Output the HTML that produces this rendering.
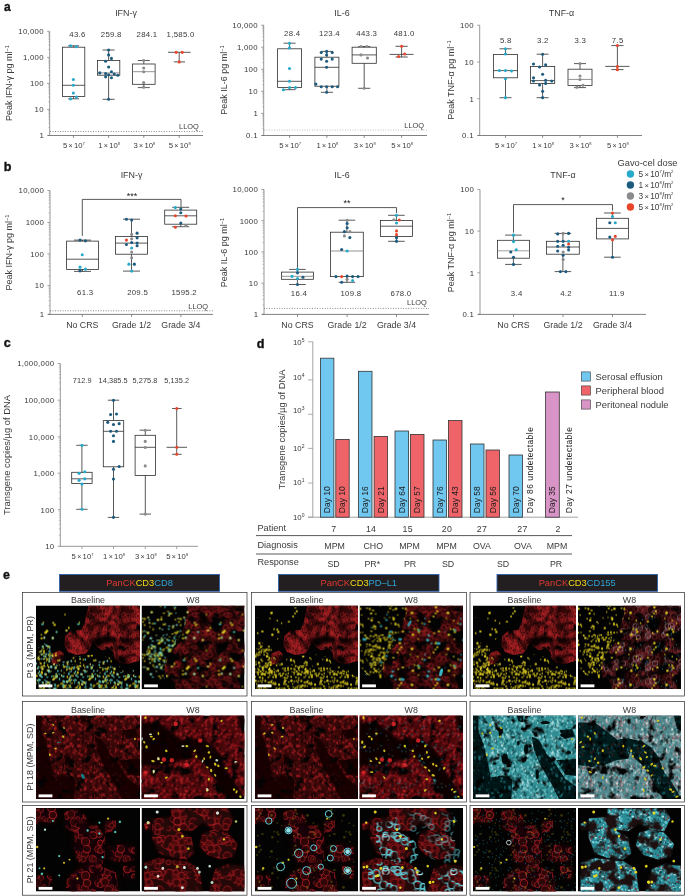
<!DOCTYPE html>
<html lang="en"><head><meta charset="utf-8"><title>Figure</title>
<style>html,body{margin:0;padding:0;background:#fff}svg{display:block}text{font-family:"Liberation Sans",sans-serif}</style>
</head><body>
<svg width="685" height="896" viewBox="0 0 685 896" font-family="'Liberation Sans', sans-serif">
<rect width="685" height="896" fill="#ffffff"/>
<text x="4.00" y="11.20" font-size="12" text-anchor="start" fill="#111" font-weight="bold" stroke="#111" stroke-width="0.35">a</text>
<text x="3.80" y="171.40" font-size="12.6" text-anchor="start" fill="#111" font-weight="bold" stroke="#111" stroke-width="0.35">b</text>
<text x="3.80" y="347.40" font-size="12.6" text-anchor="start" fill="#111" font-weight="bold" stroke="#111" stroke-width="0.35">c</text>
<text x="256.80" y="347.60" font-size="12.6" text-anchor="start" fill="#111" font-weight="bold" stroke="#111" stroke-width="0.35">d</text>
<text x="3.00" y="579.40" font-size="12.4" text-anchor="start" fill="#111" font-weight="bold" stroke="#111" stroke-width="0.35">e</text>
<text x="126.00" y="16.40" font-size="8.9" text-anchor="middle" fill="#3a3a3a" >IFN-γ</text>
<line x1="49.70" y1="31.30" x2="49.70" y2="135.00" stroke="#8c8c8c" stroke-width="0.9" />
<line x1="47.10" y1="31.30" x2="49.70" y2="31.30" stroke="#8c8c8c" stroke-width="0.8" />
<text x="43.80" y="34.11" font-size="7.8" text-anchor="end" fill="#3a3a3a" letter-spacing="0.28" >10,000</text>
<line x1="47.10" y1="57.40" x2="49.70" y2="57.40" stroke="#8c8c8c" stroke-width="0.8" />
<text x="43.80" y="60.21" font-size="7.8" text-anchor="end" fill="#3a3a3a" letter-spacing="0.28" >1,000</text>
<line x1="47.10" y1="83.40" x2="49.70" y2="83.40" stroke="#8c8c8c" stroke-width="0.8" />
<text x="43.80" y="86.21" font-size="7.8" text-anchor="end" fill="#3a3a3a" letter-spacing="0.28" >100</text>
<line x1="47.10" y1="109.40" x2="49.70" y2="109.40" stroke="#8c8c8c" stroke-width="0.8" />
<text x="43.80" y="112.21" font-size="7.8" text-anchor="end" fill="#3a3a3a" letter-spacing="0.28" >10</text>
<line x1="47.10" y1="135.50" x2="49.70" y2="135.50" stroke="#8c8c8c" stroke-width="0.8" />
<text x="43.80" y="138.31" font-size="7.8" text-anchor="end" fill="#3a3a3a" >1</text>
<line x1="48.20" y1="49.54" x2="49.70" y2="49.54" stroke="#8c8c8c" stroke-width="0.5" />
<line x1="48.20" y1="44.95" x2="49.70" y2="44.95" stroke="#8c8c8c" stroke-width="0.5" />
<line x1="48.20" y1="41.69" x2="49.70" y2="41.69" stroke="#8c8c8c" stroke-width="0.5" />
<line x1="48.20" y1="39.16" x2="49.70" y2="39.16" stroke="#8c8c8c" stroke-width="0.5" />
<line x1="48.20" y1="37.09" x2="49.70" y2="37.09" stroke="#8c8c8c" stroke-width="0.5" />
<line x1="48.20" y1="35.34" x2="49.70" y2="35.34" stroke="#8c8c8c" stroke-width="0.5" />
<line x1="48.20" y1="33.83" x2="49.70" y2="33.83" stroke="#8c8c8c" stroke-width="0.5" />
<line x1="48.20" y1="32.49" x2="49.70" y2="32.49" stroke="#8c8c8c" stroke-width="0.5" />
<line x1="48.20" y1="75.57" x2="49.70" y2="75.57" stroke="#8c8c8c" stroke-width="0.5" />
<line x1="48.20" y1="70.99" x2="49.70" y2="70.99" stroke="#8c8c8c" stroke-width="0.5" />
<line x1="48.20" y1="67.75" x2="49.70" y2="67.75" stroke="#8c8c8c" stroke-width="0.5" />
<line x1="48.20" y1="65.23" x2="49.70" y2="65.23" stroke="#8c8c8c" stroke-width="0.5" />
<line x1="48.20" y1="63.17" x2="49.70" y2="63.17" stroke="#8c8c8c" stroke-width="0.5" />
<line x1="48.20" y1="61.43" x2="49.70" y2="61.43" stroke="#8c8c8c" stroke-width="0.5" />
<line x1="48.20" y1="59.92" x2="49.70" y2="59.92" stroke="#8c8c8c" stroke-width="0.5" />
<line x1="48.20" y1="58.59" x2="49.70" y2="58.59" stroke="#8c8c8c" stroke-width="0.5" />
<line x1="48.20" y1="101.57" x2="49.70" y2="101.57" stroke="#8c8c8c" stroke-width="0.5" />
<line x1="48.20" y1="96.99" x2="49.70" y2="96.99" stroke="#8c8c8c" stroke-width="0.5" />
<line x1="48.20" y1="93.75" x2="49.70" y2="93.75" stroke="#8c8c8c" stroke-width="0.5" />
<line x1="48.20" y1="91.23" x2="49.70" y2="91.23" stroke="#8c8c8c" stroke-width="0.5" />
<line x1="48.20" y1="89.17" x2="49.70" y2="89.17" stroke="#8c8c8c" stroke-width="0.5" />
<line x1="48.20" y1="87.43" x2="49.70" y2="87.43" stroke="#8c8c8c" stroke-width="0.5" />
<line x1="48.20" y1="85.92" x2="49.70" y2="85.92" stroke="#8c8c8c" stroke-width="0.5" />
<line x1="48.20" y1="84.59" x2="49.70" y2="84.59" stroke="#8c8c8c" stroke-width="0.5" />
<line x1="48.20" y1="127.64" x2="49.70" y2="127.64" stroke="#8c8c8c" stroke-width="0.5" />
<line x1="48.20" y1="123.05" x2="49.70" y2="123.05" stroke="#8c8c8c" stroke-width="0.5" />
<line x1="48.20" y1="119.79" x2="49.70" y2="119.79" stroke="#8c8c8c" stroke-width="0.5" />
<line x1="48.20" y1="117.26" x2="49.70" y2="117.26" stroke="#8c8c8c" stroke-width="0.5" />
<line x1="48.20" y1="115.19" x2="49.70" y2="115.19" stroke="#8c8c8c" stroke-width="0.5" />
<line x1="48.20" y1="113.44" x2="49.70" y2="113.44" stroke="#8c8c8c" stroke-width="0.5" />
<line x1="48.20" y1="111.93" x2="49.70" y2="111.93" stroke="#8c8c8c" stroke-width="0.5" />
<line x1="48.20" y1="110.59" x2="49.70" y2="110.59" stroke="#8c8c8c" stroke-width="0.5" />
<line x1="47.90" y1="135.50" x2="203.00" y2="135.50" stroke="#6a6a6a" stroke-width="0.85" />
<text x="11.50" y="83.00" font-size="9" text-anchor="middle" fill="#3a3a3a" transform="rotate(-90 11.50 83.00)" >Peak IFN-γ pg ml<tspan dy="-2.8" font-size="5.6">−1</tspan></text>
<line x1="73.40" y1="135.50" x2="73.40" y2="137.80" stroke="#6a6a6a" stroke-width="0.8" />
<text x="73.90" y="148.30" font-size="7.7" text-anchor="middle" fill="#3a3a3a" >5<tspan dx="1.3" font-size="7.1">×</tspan><tspan dx="1.3">10</tspan><tspan dy="-3.23" font-size="4.0">7</tspan></text>
<line x1="108.60" y1="135.50" x2="108.60" y2="137.80" stroke="#6a6a6a" stroke-width="0.8" />
<text x="109.10" y="148.30" font-size="7.7" text-anchor="middle" fill="#3a3a3a" >1<tspan dx="1.3" font-size="7.1">×</tspan><tspan dx="1.3">10</tspan><tspan dy="-3.23" font-size="4.0">8</tspan></text>
<line x1="143.80" y1="135.50" x2="143.80" y2="137.80" stroke="#6a6a6a" stroke-width="0.8" />
<text x="144.30" y="148.30" font-size="7.7" text-anchor="middle" fill="#3a3a3a" >3<tspan dx="1.3" font-size="7.1">×</tspan><tspan dx="1.3">10</tspan><tspan dy="-3.23" font-size="4.0">8</tspan></text>
<line x1="179.20" y1="135.50" x2="179.20" y2="137.80" stroke="#6a6a6a" stroke-width="0.8" />
<text x="179.70" y="148.30" font-size="7.7" text-anchor="middle" fill="#3a3a3a" >5<tspan dx="1.3" font-size="7.1">×</tspan><tspan dx="1.3">10</tspan><tspan dy="-3.23" font-size="4.0">8</tspan></text>
<text x="77.50" y="36.90" font-size="7.8" text-anchor="middle" fill="#3a3a3a" letter-spacing="0.28" >43.6</text>
<text x="111.30" y="36.90" font-size="7.8" text-anchor="middle" fill="#3a3a3a" letter-spacing="0.28" >259.8</text>
<text x="147.00" y="36.90" font-size="7.8" text-anchor="middle" fill="#3a3a3a" letter-spacing="0.28" >284.1</text>
<text x="180.60" y="36.90" font-size="7.8" text-anchor="middle" fill="#3a3a3a" letter-spacing="0.28" >1,585.0</text>
<line x1="50.00" y1="131.50" x2="203.00" y2="131.50" stroke="#444" stroke-width="0.7" stroke-dasharray="0.9 1.63"/>
<text x="198.80" y="128.60" font-size="7.4" text-anchor="end" fill="#3a3a3a" >LLOQ</text>
<line x1="73.60" y1="45.80" x2="73.60" y2="47.20" stroke="#2e2e2e" stroke-width="0.8" />
<line x1="73.60" y1="96.50" x2="73.60" y2="98.80" stroke="#2e2e2e" stroke-width="0.8" />
<line x1="68.10" y1="45.80" x2="79.10" y2="45.80" stroke="#2e2e2e" stroke-width="0.8" />
<line x1="68.10" y1="98.80" x2="79.10" y2="98.80" stroke="#2e2e2e" stroke-width="0.8" />
<rect x="62.40" y="47.20" width="22.40" height="49.30" fill="none" stroke="#2e2e2e" stroke-width="0.8"/>
<line x1="62.40" y1="85.30" x2="84.80" y2="85.30" stroke="#2e2e2e" stroke-width="0.8" />
<circle cx="70.56" cy="45.79" r="1.55" fill="#27a9c9"/>
<circle cx="76.40" cy="46.73" r="1.55" fill="#27a9c9"/>
<circle cx="73.36" cy="79.44" r="1.55" fill="#27a9c9"/>
<circle cx="73.36" cy="85.28" r="1.55" fill="#27a9c9"/>
<circle cx="73.36" cy="92.99" r="1.55" fill="#27a9c9"/>
<circle cx="76.40" cy="96.96" r="1.55" fill="#27a9c9"/>
<circle cx="70.56" cy="98.83" r="1.55" fill="#27a9c9"/>
<line x1="108.60" y1="50.00" x2="108.60" y2="60.50" stroke="#2e2e2e" stroke-width="0.8" />
<line x1="108.60" y1="75.20" x2="108.60" y2="99.30" stroke="#2e2e2e" stroke-width="0.8" />
<line x1="102.60" y1="50.00" x2="114.60" y2="50.00" stroke="#2e2e2e" stroke-width="0.8" />
<line x1="102.60" y1="99.30" x2="114.60" y2="99.30" stroke="#2e2e2e" stroke-width="0.8" />
<rect x="97.40" y="60.50" width="22.40" height="14.70" fill="none" stroke="#2e2e2e" stroke-width="0.8"/>
<line x1="97.40" y1="72.90" x2="119.80" y2="72.90" stroke="#777" stroke-width="0.8" />
<circle cx="108.64" cy="50.00" r="1.55" fill="#1d5b7e"/>
<circle cx="108.64" cy="54.91" r="1.55" fill="#1d5b7e"/>
<circle cx="111.45" cy="58.41" r="1.55" fill="#1d5b7e"/>
<circle cx="105.61" cy="61.21" r="1.55" fill="#1d5b7e"/>
<circle cx="108.64" cy="67.06" r="1.55" fill="#1d5b7e"/>
<circle cx="99.77" cy="72.90" r="1.55" fill="#1d5b7e"/>
<circle cx="105.61" cy="73.60" r="1.55" fill="#1d5b7e"/>
<circle cx="111.45" cy="71.73" r="1.55" fill="#1d5b7e"/>
<circle cx="108.64" cy="74.77" r="1.55" fill="#1d5b7e"/>
<circle cx="114.25" cy="74.07" r="1.55" fill="#1d5b7e"/>
<circle cx="117.76" cy="75.23" r="1.55" fill="#1d5b7e"/>
<circle cx="105.61" cy="76.87" r="1.55" fill="#1d5b7e"/>
<circle cx="111.45" cy="77.80" r="1.55" fill="#1d5b7e"/>
<circle cx="108.64" cy="99.30" r="1.55" fill="#1d5b7e"/>
<line x1="143.80" y1="60.50" x2="143.80" y2="64.00" stroke="#2e2e2e" stroke-width="0.8" />
<line x1="143.80" y1="84.30" x2="143.80" y2="87.60" stroke="#2e2e2e" stroke-width="0.8" />
<line x1="137.80" y1="60.50" x2="149.80" y2="60.50" stroke="#2e2e2e" stroke-width="0.8" />
<line x1="137.80" y1="87.60" x2="149.80" y2="87.60" stroke="#2e2e2e" stroke-width="0.8" />
<rect x="132.50" y="64.00" width="22.60" height="20.30" fill="none" stroke="#2e2e2e" stroke-width="0.8"/>
<line x1="132.50" y1="71.70" x2="155.10" y2="71.70" stroke="#777" stroke-width="0.8" />
<circle cx="143.69" cy="60.51" r="1.55" fill="#8b8b8d"/>
<circle cx="143.69" cy="67.99" r="1.55" fill="#8b8b8d"/>
<circle cx="143.69" cy="71.73" r="1.55" fill="#8b8b8d"/>
<circle cx="143.69" cy="82.48" r="1.55" fill="#8b8b8d"/>
<circle cx="143.69" cy="87.15" r="1.55" fill="#8b8b8d"/>
<line x1="168.00" y1="52.30" x2="190.70" y2="52.30" stroke="#2e2e2e" stroke-width="0.8" />
<line x1="179.20" y1="52.30" x2="179.20" y2="61.90" stroke="#2e2e2e" stroke-width="0.8" />
<line x1="173.80" y1="61.90" x2="185.00" y2="61.90" stroke="#2e2e2e" stroke-width="0.8" />
<circle cx="176.17" cy="52.34" r="1.55" fill="#e8452b"/>
<circle cx="182.24" cy="52.34" r="1.55" fill="#e8452b"/>
<circle cx="179.21" cy="61.92" r="1.55" fill="#e8452b"/>
<text x="342.00" y="16.40" font-size="8.9" text-anchor="middle" fill="#3a3a3a" >IL-6</text>
<line x1="263.70" y1="25.00" x2="263.70" y2="135.00" stroke="#8c8c8c" stroke-width="0.9" />
<line x1="261.10" y1="25.20" x2="263.70" y2="25.20" stroke="#8c8c8c" stroke-width="0.8" />
<text x="257.80" y="28.01" font-size="7.8" text-anchor="end" fill="#3a3a3a" letter-spacing="0.28" >10,000</text>
<line x1="261.10" y1="47.20" x2="263.70" y2="47.20" stroke="#8c8c8c" stroke-width="0.8" />
<text x="257.80" y="50.01" font-size="7.8" text-anchor="end" fill="#3a3a3a" letter-spacing="0.28" >1,000</text>
<line x1="261.10" y1="69.30" x2="263.70" y2="69.30" stroke="#8c8c8c" stroke-width="0.8" />
<text x="257.80" y="72.11" font-size="7.8" text-anchor="end" fill="#3a3a3a" letter-spacing="0.28" >100</text>
<line x1="261.10" y1="91.30" x2="263.70" y2="91.30" stroke="#8c8c8c" stroke-width="0.8" />
<text x="257.80" y="94.11" font-size="7.8" text-anchor="end" fill="#3a3a3a" letter-spacing="0.28" >10</text>
<line x1="261.10" y1="113.40" x2="263.70" y2="113.40" stroke="#8c8c8c" stroke-width="0.8" />
<text x="257.80" y="116.21" font-size="7.8" text-anchor="end" fill="#3a3a3a" >1</text>
<line x1="261.10" y1="135.50" x2="263.70" y2="135.50" stroke="#8c8c8c" stroke-width="0.8" />
<text x="257.80" y="138.31" font-size="7.8" text-anchor="end" fill="#3a3a3a" letter-spacing="0.28" >0.1</text>
<line x1="262.20" y1="40.58" x2="263.70" y2="40.58" stroke="#8c8c8c" stroke-width="0.5" />
<line x1="262.20" y1="36.70" x2="263.70" y2="36.70" stroke="#8c8c8c" stroke-width="0.5" />
<line x1="262.20" y1="33.95" x2="263.70" y2="33.95" stroke="#8c8c8c" stroke-width="0.5" />
<line x1="262.20" y1="31.82" x2="263.70" y2="31.82" stroke="#8c8c8c" stroke-width="0.5" />
<line x1="262.20" y1="30.08" x2="263.70" y2="30.08" stroke="#8c8c8c" stroke-width="0.5" />
<line x1="262.20" y1="28.61" x2="263.70" y2="28.61" stroke="#8c8c8c" stroke-width="0.5" />
<line x1="262.20" y1="27.33" x2="263.70" y2="27.33" stroke="#8c8c8c" stroke-width="0.5" />
<line x1="262.20" y1="26.21" x2="263.70" y2="26.21" stroke="#8c8c8c" stroke-width="0.5" />
<line x1="262.20" y1="62.65" x2="263.70" y2="62.65" stroke="#8c8c8c" stroke-width="0.5" />
<line x1="262.20" y1="58.76" x2="263.70" y2="58.76" stroke="#8c8c8c" stroke-width="0.5" />
<line x1="262.20" y1="55.99" x2="263.70" y2="55.99" stroke="#8c8c8c" stroke-width="0.5" />
<line x1="262.20" y1="53.85" x2="263.70" y2="53.85" stroke="#8c8c8c" stroke-width="0.5" />
<line x1="262.20" y1="52.10" x2="263.70" y2="52.10" stroke="#8c8c8c" stroke-width="0.5" />
<line x1="262.20" y1="50.62" x2="263.70" y2="50.62" stroke="#8c8c8c" stroke-width="0.5" />
<line x1="262.20" y1="49.34" x2="263.70" y2="49.34" stroke="#8c8c8c" stroke-width="0.5" />
<line x1="262.20" y1="48.21" x2="263.70" y2="48.21" stroke="#8c8c8c" stroke-width="0.5" />
<line x1="262.20" y1="84.68" x2="263.70" y2="84.68" stroke="#8c8c8c" stroke-width="0.5" />
<line x1="262.20" y1="80.80" x2="263.70" y2="80.80" stroke="#8c8c8c" stroke-width="0.5" />
<line x1="262.20" y1="78.05" x2="263.70" y2="78.05" stroke="#8c8c8c" stroke-width="0.5" />
<line x1="262.20" y1="75.92" x2="263.70" y2="75.92" stroke="#8c8c8c" stroke-width="0.5" />
<line x1="262.20" y1="74.18" x2="263.70" y2="74.18" stroke="#8c8c8c" stroke-width="0.5" />
<line x1="262.20" y1="72.71" x2="263.70" y2="72.71" stroke="#8c8c8c" stroke-width="0.5" />
<line x1="262.20" y1="71.43" x2="263.70" y2="71.43" stroke="#8c8c8c" stroke-width="0.5" />
<line x1="262.20" y1="70.31" x2="263.70" y2="70.31" stroke="#8c8c8c" stroke-width="0.5" />
<line x1="262.20" y1="106.75" x2="263.70" y2="106.75" stroke="#8c8c8c" stroke-width="0.5" />
<line x1="262.20" y1="102.86" x2="263.70" y2="102.86" stroke="#8c8c8c" stroke-width="0.5" />
<line x1="262.20" y1="100.09" x2="263.70" y2="100.09" stroke="#8c8c8c" stroke-width="0.5" />
<line x1="262.20" y1="97.95" x2="263.70" y2="97.95" stroke="#8c8c8c" stroke-width="0.5" />
<line x1="262.20" y1="96.20" x2="263.70" y2="96.20" stroke="#8c8c8c" stroke-width="0.5" />
<line x1="262.20" y1="94.72" x2="263.70" y2="94.72" stroke="#8c8c8c" stroke-width="0.5" />
<line x1="262.20" y1="93.44" x2="263.70" y2="93.44" stroke="#8c8c8c" stroke-width="0.5" />
<line x1="262.20" y1="92.31" x2="263.70" y2="92.31" stroke="#8c8c8c" stroke-width="0.5" />
<line x1="262.20" y1="128.85" x2="263.70" y2="128.85" stroke="#8c8c8c" stroke-width="0.5" />
<line x1="262.20" y1="124.96" x2="263.70" y2="124.96" stroke="#8c8c8c" stroke-width="0.5" />
<line x1="262.20" y1="122.19" x2="263.70" y2="122.19" stroke="#8c8c8c" stroke-width="0.5" />
<line x1="262.20" y1="120.05" x2="263.70" y2="120.05" stroke="#8c8c8c" stroke-width="0.5" />
<line x1="262.20" y1="118.30" x2="263.70" y2="118.30" stroke="#8c8c8c" stroke-width="0.5" />
<line x1="262.20" y1="116.82" x2="263.70" y2="116.82" stroke="#8c8c8c" stroke-width="0.5" />
<line x1="262.20" y1="115.54" x2="263.70" y2="115.54" stroke="#8c8c8c" stroke-width="0.5" />
<line x1="262.20" y1="114.41" x2="263.70" y2="114.41" stroke="#8c8c8c" stroke-width="0.5" />
<line x1="261.90" y1="135.50" x2="427.00" y2="135.50" stroke="#6a6a6a" stroke-width="0.85" />
<text x="226.50" y="80.00" font-size="9" text-anchor="middle" fill="#3a3a3a" transform="rotate(-90 226.50 80.00)" >Peak IL-6 pg ml<tspan dy="-2.8" font-size="5.6">−1</tspan></text>
<line x1="289.60" y1="135.50" x2="289.60" y2="137.80" stroke="#6a6a6a" stroke-width="0.8" />
<text x="290.10" y="148.30" font-size="7.7" text-anchor="middle" fill="#3a3a3a" >5<tspan dx="1.3" font-size="7.1">×</tspan><tspan dx="1.3">10</tspan><tspan dy="-3.23" font-size="4.0">7</tspan></text>
<line x1="326.90" y1="135.50" x2="326.90" y2="137.80" stroke="#6a6a6a" stroke-width="0.8" />
<text x="327.40" y="148.30" font-size="7.7" text-anchor="middle" fill="#3a3a3a" >1<tspan dx="1.3" font-size="7.1">×</tspan><tspan dx="1.3">10</tspan><tspan dy="-3.23" font-size="4.0">8</tspan></text>
<line x1="364.20" y1="135.50" x2="364.20" y2="137.80" stroke="#6a6a6a" stroke-width="0.8" />
<text x="364.70" y="148.30" font-size="7.7" text-anchor="middle" fill="#3a3a3a" >3<tspan dx="1.3" font-size="7.1">×</tspan><tspan dx="1.3">10</tspan><tspan dy="-3.23" font-size="4.0">8</tspan></text>
<line x1="401.60" y1="135.50" x2="401.60" y2="137.80" stroke="#6a6a6a" stroke-width="0.8" />
<text x="402.10" y="148.30" font-size="7.7" text-anchor="middle" fill="#3a3a3a" >5<tspan dx="1.3" font-size="7.1">×</tspan><tspan dx="1.3">10</tspan><tspan dy="-3.23" font-size="4.0">8</tspan></text>
<text x="292.20" y="35.80" font-size="7.8" text-anchor="middle" fill="#3a3a3a" letter-spacing="0.28" >28.4</text>
<text x="329.50" y="35.80" font-size="7.8" text-anchor="middle" fill="#3a3a3a" letter-spacing="0.28" >123.4</text>
<text x="366.80" y="35.80" font-size="7.8" text-anchor="middle" fill="#3a3a3a" letter-spacing="0.28" >443.3</text>
<text x="404.20" y="35.80" font-size="7.8" text-anchor="middle" fill="#3a3a3a" letter-spacing="0.28" >481.0</text>
<line x1="264.00" y1="130.10" x2="427.00" y2="130.10" stroke="#999" stroke-width="0.7" stroke-dasharray="0.9 1.63"/>
<text x="424.00" y="127.50" font-size="7.4" text-anchor="end" fill="#3a3a3a" >LLOQ</text>
<line x1="289.60" y1="43.20" x2="289.60" y2="48.80" stroke="#2e2e2e" stroke-width="0.8" />
<line x1="289.60" y1="87.40" x2="289.60" y2="89.70" stroke="#2e2e2e" stroke-width="0.8" />
<line x1="283.60" y1="43.20" x2="295.60" y2="43.20" stroke="#2e2e2e" stroke-width="0.8" />
<line x1="283.60" y1="89.70" x2="295.60" y2="89.70" stroke="#2e2e2e" stroke-width="0.8" />
<rect x="277.60" y="48.80" width="24.00" height="38.60" fill="none" stroke="#2e2e2e" stroke-width="0.8"/>
<line x1="277.60" y1="81.30" x2="301.60" y2="81.30" stroke="#2e2e2e" stroke-width="0.8" />
<circle cx="289.47" cy="43.22" r="1.55" fill="#27a9c9"/>
<circle cx="289.47" cy="47.90" r="1.55" fill="#27a9c9"/>
<circle cx="289.47" cy="68.46" r="1.55" fill="#27a9c9"/>
<circle cx="289.47" cy="81.31" r="1.55" fill="#27a9c9"/>
<circle cx="283.39" cy="89.72" r="1.55" fill="#27a9c9"/>
<circle cx="289.47" cy="87.62" r="1.55" fill="#27a9c9"/>
<circle cx="295.54" cy="87.62" r="1.55" fill="#27a9c9"/>
<line x1="326.90" y1="51.40" x2="326.90" y2="57.20" stroke="#2e2e2e" stroke-width="0.8" />
<line x1="326.90" y1="86.20" x2="326.90" y2="92.30" stroke="#2e2e2e" stroke-width="0.8" />
<line x1="320.90" y1="51.40" x2="332.90" y2="51.40" stroke="#2e2e2e" stroke-width="0.8" />
<line x1="320.90" y1="92.30" x2="332.90" y2="92.30" stroke="#2e2e2e" stroke-width="0.8" />
<rect x="314.90" y="57.20" width="24.00" height="29.00" fill="none" stroke="#2e2e2e" stroke-width="0.8"/>
<line x1="314.90" y1="67.30" x2="338.90" y2="67.30" stroke="#2e2e2e" stroke-width="0.8" />
<circle cx="326.62" cy="51.40" r="1.55" fill="#1d5b7e"/>
<circle cx="321.24" cy="52.57" r="1.55" fill="#1d5b7e"/>
<circle cx="332.22" cy="52.57" r="1.55" fill="#1d5b7e"/>
<circle cx="326.62" cy="54.91" r="1.55" fill="#1d5b7e"/>
<circle cx="321.24" cy="59.11" r="1.55" fill="#1d5b7e"/>
<circle cx="332.22" cy="59.11" r="1.55" fill="#1d5b7e"/>
<circle cx="326.62" cy="61.21" r="1.55" fill="#1d5b7e"/>
<circle cx="326.62" cy="67.29" r="1.55" fill="#1d5b7e"/>
<circle cx="315.87" cy="84.11" r="1.55" fill="#1d5b7e"/>
<circle cx="321.24" cy="86.68" r="1.55" fill="#1d5b7e"/>
<circle cx="326.62" cy="86.68" r="1.55" fill="#1d5b7e"/>
<circle cx="332.22" cy="86.68" r="1.55" fill="#1d5b7e"/>
<circle cx="337.60" cy="86.68" r="1.55" fill="#1d5b7e"/>
<circle cx="326.62" cy="92.29" r="1.55" fill="#1d5b7e"/>
<line x1="364.20" y1="46.50" x2="364.20" y2="47.20" stroke="#2e2e2e" stroke-width="0.8" />
<line x1="364.20" y1="63.30" x2="364.20" y2="88.30" stroke="#2e2e2e" stroke-width="0.8" />
<line x1="358.20" y1="46.50" x2="370.20" y2="46.50" stroke="#2e2e2e" stroke-width="0.8" />
<line x1="358.20" y1="88.30" x2="370.20" y2="88.30" stroke="#2e2e2e" stroke-width="0.8" />
<rect x="352.10" y="47.20" width="24.20" height="16.10" fill="none" stroke="#2e2e2e" stroke-width="0.8"/>
<line x1="352.10" y1="54.90" x2="376.30" y2="54.90" stroke="#2e2e2e" stroke-width="0.8" />
<circle cx="360.96" cy="46.50" r="1.55" fill="#8b8b8d"/>
<circle cx="366.80" cy="46.50" r="1.55" fill="#8b8b8d"/>
<circle cx="360.96" cy="54.91" r="1.55" fill="#8b8b8d"/>
<circle cx="367.50" cy="57.94" r="1.55" fill="#8b8b8d"/>
<circle cx="364.23" cy="88.32" r="1.55" fill="#8b8b8d"/>
<line x1="389.50" y1="54.40" x2="413.50" y2="54.40" stroke="#2e2e2e" stroke-width="0.8" />
<line x1="401.60" y1="46.30" x2="401.60" y2="57.00" stroke="#2e2e2e" stroke-width="0.8" />
<line x1="395.50" y1="46.30" x2="407.70" y2="46.30" stroke="#2e2e2e" stroke-width="0.8" />
<line x1="395.50" y1="57.00" x2="407.70" y2="57.00" stroke="#2e2e2e" stroke-width="0.8" />
<circle cx="401.62" cy="46.26" r="1.55" fill="#e8452b"/>
<circle cx="404.65" cy="53.97" r="1.55" fill="#e8452b"/>
<circle cx="398.58" cy="56.54" r="1.55" fill="#e8452b"/>
<text x="561.50" y="16.40" font-size="8.9" text-anchor="middle" fill="#3a3a3a" >TNF-α</text>
<line x1="479.70" y1="25.00" x2="479.70" y2="135.00" stroke="#8c8c8c" stroke-width="0.9" />
<line x1="477.10" y1="25.20" x2="479.70" y2="25.20" stroke="#8c8c8c" stroke-width="0.8" />
<text x="473.80" y="28.01" font-size="7.8" text-anchor="end" fill="#3a3a3a" letter-spacing="0.28" >100</text>
<line x1="477.10" y1="62.00" x2="479.70" y2="62.00" stroke="#8c8c8c" stroke-width="0.8" />
<text x="473.80" y="64.81" font-size="7.8" text-anchor="end" fill="#3a3a3a" letter-spacing="0.28" >10</text>
<line x1="477.10" y1="98.70" x2="479.70" y2="98.70" stroke="#8c8c8c" stroke-width="0.8" />
<text x="473.80" y="101.51" font-size="7.8" text-anchor="end" fill="#3a3a3a" >1</text>
<line x1="477.10" y1="135.50" x2="479.70" y2="135.50" stroke="#8c8c8c" stroke-width="0.8" />
<text x="473.80" y="138.31" font-size="7.8" text-anchor="end" fill="#3a3a3a" letter-spacing="0.28" >0.1</text>
<line x1="477.90" y1="135.50" x2="642.00" y2="135.50" stroke="#6a6a6a" stroke-width="0.85" />
<text x="453.50" y="80.00" font-size="9" text-anchor="middle" fill="#3a3a3a" transform="rotate(-90 453.50 80.00)" >Peak TNF-α pg ml<tspan dy="-2.8" font-size="5.6">−1</tspan></text>
<line x1="505.50" y1="135.50" x2="505.50" y2="137.80" stroke="#6a6a6a" stroke-width="0.8" />
<text x="506.00" y="148.30" font-size="7.7" text-anchor="middle" fill="#3a3a3a" >5<tspan dx="1.3" font-size="7.1">×</tspan><tspan dx="1.3">10</tspan><tspan dy="-3.23" font-size="4.0">7</tspan></text>
<line x1="542.60" y1="135.50" x2="542.60" y2="137.80" stroke="#6a6a6a" stroke-width="0.8" />
<text x="543.10" y="148.30" font-size="7.7" text-anchor="middle" fill="#3a3a3a" >1<tspan dx="1.3" font-size="7.1">×</tspan><tspan dx="1.3">10</tspan><tspan dy="-3.23" font-size="4.0">8</tspan></text>
<line x1="580.00" y1="135.50" x2="580.00" y2="137.80" stroke="#6a6a6a" stroke-width="0.8" />
<text x="580.50" y="148.30" font-size="7.7" text-anchor="middle" fill="#3a3a3a" >3<tspan dx="1.3" font-size="7.1">×</tspan><tspan dx="1.3">10</tspan><tspan dy="-3.23" font-size="4.0">8</tspan></text>
<line x1="617.40" y1="135.50" x2="617.40" y2="137.80" stroke="#6a6a6a" stroke-width="0.8" />
<text x="617.90" y="148.30" font-size="7.7" text-anchor="middle" fill="#3a3a3a" >5<tspan dx="1.3" font-size="7.1">×</tspan><tspan dx="1.3">10</tspan><tspan dy="-3.23" font-size="4.0">8</tspan></text>
<text x="505.80" y="42.60" font-size="7.8" text-anchor="middle" fill="#3a3a3a" letter-spacing="0.28" >5.8</text>
<text x="542.90" y="42.60" font-size="7.8" text-anchor="middle" fill="#3a3a3a" letter-spacing="0.28" >3.2</text>
<text x="580.30" y="42.60" font-size="7.8" text-anchor="middle" fill="#3a3a3a" letter-spacing="0.28" >3.3</text>
<text x="617.70" y="42.60" font-size="7.8" text-anchor="middle" fill="#3a3a3a" letter-spacing="0.28" >7.5</text>
<line x1="505.50" y1="48.80" x2="505.50" y2="54.40" stroke="#2e2e2e" stroke-width="0.8" />
<line x1="505.50" y1="77.80" x2="505.50" y2="97.70" stroke="#2e2e2e" stroke-width="0.8" />
<line x1="499.50" y1="48.80" x2="511.50" y2="48.80" stroke="#2e2e2e" stroke-width="0.8" />
<line x1="499.50" y1="97.70" x2="511.50" y2="97.70" stroke="#2e2e2e" stroke-width="0.8" />
<rect x="493.40" y="54.40" width="24.20" height="23.40" fill="none" stroke="#2e2e2e" stroke-width="0.8"/>
<line x1="493.40" y1="70.60" x2="517.60" y2="70.60" stroke="#2e2e2e" stroke-width="0.8" />
<circle cx="505.47" cy="48.83" r="1.55" fill="#27a9c9"/>
<circle cx="505.47" cy="53.97" r="1.55" fill="#27a9c9"/>
<circle cx="499.39" cy="70.56" r="1.55" fill="#27a9c9"/>
<circle cx="505.47" cy="70.56" r="1.55" fill="#27a9c9"/>
<circle cx="511.54" cy="71.03" r="1.55" fill="#27a9c9"/>
<circle cx="505.47" cy="78.74" r="1.55" fill="#27a9c9"/>
<circle cx="505.47" cy="97.66" r="1.55" fill="#27a9c9"/>
<line x1="542.60" y1="54.20" x2="542.60" y2="66.40" stroke="#2e2e2e" stroke-width="0.8" />
<line x1="542.60" y1="83.40" x2="542.60" y2="97.70" stroke="#2e2e2e" stroke-width="0.8" />
<line x1="536.60" y1="54.20" x2="548.60" y2="54.20" stroke="#2e2e2e" stroke-width="0.8" />
<line x1="536.60" y1="97.70" x2="548.60" y2="97.70" stroke="#2e2e2e" stroke-width="0.8" />
<rect x="530.50" y="66.40" width="24.20" height="17.00" fill="none" stroke="#2e2e2e" stroke-width="0.8"/>
<line x1="530.50" y1="80.60" x2="554.70" y2="80.60" stroke="#2e2e2e" stroke-width="0.8" />
<circle cx="542.62" cy="54.21" r="1.55" fill="#1d5b7e"/>
<circle cx="533.50" cy="64.02" r="1.55" fill="#1d5b7e"/>
<circle cx="545.65" cy="64.72" r="1.55" fill="#1d5b7e"/>
<circle cx="539.58" cy="67.06" r="1.55" fill="#1d5b7e"/>
<circle cx="542.62" cy="74.30" r="1.55" fill="#1d5b7e"/>
<circle cx="533.50" cy="77.80" r="1.55" fill="#1d5b7e"/>
<circle cx="533.50" cy="81.07" r="1.55" fill="#1d5b7e"/>
<circle cx="545.65" cy="80.37" r="1.55" fill="#1d5b7e"/>
<circle cx="551.73" cy="81.07" r="1.55" fill="#1d5b7e"/>
<circle cx="539.58" cy="85.05" r="1.55" fill="#1d5b7e"/>
<circle cx="545.65" cy="83.41" r="1.55" fill="#1d5b7e"/>
<circle cx="542.62" cy="91.36" r="1.55" fill="#1d5b7e"/>
<circle cx="542.62" cy="97.66" r="1.55" fill="#1d5b7e"/>
<line x1="580.00" y1="63.60" x2="580.00" y2="69.20" stroke="#2e2e2e" stroke-width="0.8" />
<line x1="580.00" y1="85.50" x2="580.00" y2="87.60" stroke="#2e2e2e" stroke-width="0.8" />
<line x1="574.00" y1="63.60" x2="586.00" y2="63.60" stroke="#2e2e2e" stroke-width="0.8" />
<line x1="574.00" y1="87.60" x2="586.00" y2="87.60" stroke="#2e2e2e" stroke-width="0.8" />
<rect x="568.00" y="69.20" width="24.00" height="16.30" fill="none" stroke="#2e2e2e" stroke-width="0.8"/>
<line x1="568.00" y1="79.40" x2="592.00" y2="79.40" stroke="#777" stroke-width="0.8" />
<circle cx="580.00" cy="63.55" r="1.55" fill="#8b8b8d"/>
<circle cx="580.00" cy="75.93" r="1.55" fill="#8b8b8d"/>
<circle cx="580.00" cy="79.44" r="1.55" fill="#8b8b8d"/>
<circle cx="583.04" cy="85.28" r="1.55" fill="#8b8b8d"/>
<circle cx="576.96" cy="87.15" r="1.55" fill="#8b8b8d"/>
<line x1="605.20" y1="66.40" x2="629.50" y2="66.40" stroke="#2e2e2e" stroke-width="0.8" />
<line x1="617.40" y1="45.60" x2="617.40" y2="69.60" stroke="#2e2e2e" stroke-width="0.8" />
<line x1="611.30" y1="45.60" x2="623.50" y2="45.60" stroke="#2e2e2e" stroke-width="0.8" />
<line x1="611.30" y1="69.60" x2="623.50" y2="69.60" stroke="#2e2e2e" stroke-width="0.8" />
<circle cx="617.38" cy="45.56" r="1.55" fill="#e8452b"/>
<circle cx="617.38" cy="66.59" r="1.55" fill="#e8452b"/>
<circle cx="617.38" cy="69.63" r="1.55" fill="#e8452b"/>
<text x="647.50" y="165.60" font-size="9.3" text-anchor="middle" fill="#3a3a3a" >Gavo-cel dose</text>
<circle cx="630.4" cy="174" r="3.7" fill="#27a9c9"/>
<text x="638.60" y="176.70" font-size="8.3" text-anchor="start" fill="#3a3a3a" >5<tspan dx="1.3" font-size="7.6">×</tspan><tspan dx="1.3">10</tspan><tspan dy="-3.49" font-size="4.3">7</tspan><tspan dy="3.49">/m</tspan><tspan dy="-3.49" font-size="4.3">2</tspan></text>
<circle cx="630.4" cy="185" r="3.7" fill="#1d5b7e"/>
<text x="638.60" y="187.70" font-size="8.3" text-anchor="start" fill="#3a3a3a" >1<tspan dx="1.3" font-size="7.6">×</tspan><tspan dx="1.3">10</tspan><tspan dy="-3.49" font-size="4.3">8</tspan><tspan dy="3.49">/m</tspan><tspan dy="-3.49" font-size="4.3">2</tspan></text>
<circle cx="630.4" cy="196" r="3.7" fill="#8b8b8d"/>
<text x="638.60" y="198.70" font-size="8.3" text-anchor="start" fill="#3a3a3a" >3<tspan dx="1.3" font-size="7.6">×</tspan><tspan dx="1.3">10</tspan><tspan dy="-3.49" font-size="4.3">8</tspan><tspan dy="3.49">/m</tspan><tspan dy="-3.49" font-size="4.3">2</tspan></text>
<circle cx="630.4" cy="207" r="3.7" fill="#e8452b"/>
<text x="638.60" y="209.70" font-size="8.3" text-anchor="start" fill="#3a3a3a" >5<tspan dx="1.3" font-size="7.6">×</tspan><tspan dx="1.3">10</tspan><tspan dy="-3.49" font-size="4.3">8</tspan><tspan dy="3.49">/m</tspan><tspan dy="-3.49" font-size="4.3">2</tspan></text>
<text x="131.50" y="177.80" font-size="8.9" text-anchor="middle" fill="#3a3a3a" >IFN-γ</text>
<line x1="50.00" y1="190.50" x2="50.00" y2="314.40" stroke="#8c8c8c" stroke-width="0.9" />
<line x1="47.40" y1="190.50" x2="50.00" y2="190.50" stroke="#8c8c8c" stroke-width="0.8" />
<text x="44.10" y="193.31" font-size="7.8" text-anchor="end" fill="#3a3a3a" letter-spacing="0.28" >10,000</text>
<line x1="47.40" y1="222.50" x2="50.00" y2="222.50" stroke="#8c8c8c" stroke-width="0.8" />
<text x="44.10" y="225.31" font-size="7.8" text-anchor="end" fill="#3a3a3a" letter-spacing="0.28" >1000</text>
<line x1="47.40" y1="253.80" x2="50.00" y2="253.80" stroke="#8c8c8c" stroke-width="0.8" />
<text x="44.10" y="256.61" font-size="7.8" text-anchor="end" fill="#3a3a3a" letter-spacing="0.28" >100</text>
<line x1="47.40" y1="285.60" x2="50.00" y2="285.60" stroke="#8c8c8c" stroke-width="0.8" />
<text x="44.10" y="288.41" font-size="7.8" text-anchor="end" fill="#3a3a3a" letter-spacing="0.28" >10</text>
<line x1="47.40" y1="314.40" x2="50.00" y2="314.40" stroke="#8c8c8c" stroke-width="0.8" />
<text x="44.10" y="317.21" font-size="7.8" text-anchor="end" fill="#3a3a3a" >1</text>
<line x1="48.50" y1="212.87" x2="50.00" y2="212.87" stroke="#8c8c8c" stroke-width="0.5" />
<line x1="48.50" y1="207.23" x2="50.00" y2="207.23" stroke="#8c8c8c" stroke-width="0.5" />
<line x1="48.50" y1="203.23" x2="50.00" y2="203.23" stroke="#8c8c8c" stroke-width="0.5" />
<line x1="48.50" y1="200.13" x2="50.00" y2="200.13" stroke="#8c8c8c" stroke-width="0.5" />
<line x1="48.50" y1="197.60" x2="50.00" y2="197.60" stroke="#8c8c8c" stroke-width="0.5" />
<line x1="48.50" y1="195.46" x2="50.00" y2="195.46" stroke="#8c8c8c" stroke-width="0.5" />
<line x1="48.50" y1="193.60" x2="50.00" y2="193.60" stroke="#8c8c8c" stroke-width="0.5" />
<line x1="48.50" y1="191.96" x2="50.00" y2="191.96" stroke="#8c8c8c" stroke-width="0.5" />
<line x1="48.50" y1="244.38" x2="50.00" y2="244.38" stroke="#8c8c8c" stroke-width="0.5" />
<line x1="48.50" y1="238.87" x2="50.00" y2="238.87" stroke="#8c8c8c" stroke-width="0.5" />
<line x1="48.50" y1="234.96" x2="50.00" y2="234.96" stroke="#8c8c8c" stroke-width="0.5" />
<line x1="48.50" y1="231.92" x2="50.00" y2="231.92" stroke="#8c8c8c" stroke-width="0.5" />
<line x1="48.50" y1="229.44" x2="50.00" y2="229.44" stroke="#8c8c8c" stroke-width="0.5" />
<line x1="48.50" y1="227.35" x2="50.00" y2="227.35" stroke="#8c8c8c" stroke-width="0.5" />
<line x1="48.50" y1="225.53" x2="50.00" y2="225.53" stroke="#8c8c8c" stroke-width="0.5" />
<line x1="48.50" y1="223.93" x2="50.00" y2="223.93" stroke="#8c8c8c" stroke-width="0.5" />
<line x1="48.50" y1="276.03" x2="50.00" y2="276.03" stroke="#8c8c8c" stroke-width="0.5" />
<line x1="48.50" y1="270.43" x2="50.00" y2="270.43" stroke="#8c8c8c" stroke-width="0.5" />
<line x1="48.50" y1="266.45" x2="50.00" y2="266.45" stroke="#8c8c8c" stroke-width="0.5" />
<line x1="48.50" y1="263.37" x2="50.00" y2="263.37" stroke="#8c8c8c" stroke-width="0.5" />
<line x1="48.50" y1="260.85" x2="50.00" y2="260.85" stroke="#8c8c8c" stroke-width="0.5" />
<line x1="48.50" y1="258.73" x2="50.00" y2="258.73" stroke="#8c8c8c" stroke-width="0.5" />
<line x1="48.50" y1="256.88" x2="50.00" y2="256.88" stroke="#8c8c8c" stroke-width="0.5" />
<line x1="48.50" y1="255.26" x2="50.00" y2="255.26" stroke="#8c8c8c" stroke-width="0.5" />
<line x1="48.50" y1="305.73" x2="50.00" y2="305.73" stroke="#8c8c8c" stroke-width="0.5" />
<line x1="48.50" y1="300.66" x2="50.00" y2="300.66" stroke="#8c8c8c" stroke-width="0.5" />
<line x1="48.50" y1="297.06" x2="50.00" y2="297.06" stroke="#8c8c8c" stroke-width="0.5" />
<line x1="48.50" y1="294.27" x2="50.00" y2="294.27" stroke="#8c8c8c" stroke-width="0.5" />
<line x1="48.50" y1="291.99" x2="50.00" y2="291.99" stroke="#8c8c8c" stroke-width="0.5" />
<line x1="48.50" y1="290.06" x2="50.00" y2="290.06" stroke="#8c8c8c" stroke-width="0.5" />
<line x1="48.50" y1="288.39" x2="50.00" y2="288.39" stroke="#8c8c8c" stroke-width="0.5" />
<line x1="48.50" y1="286.92" x2="50.00" y2="286.92" stroke="#8c8c8c" stroke-width="0.5" />
<line x1="48.00" y1="314.40" x2="213.00" y2="314.40" stroke="#6a6a6a" stroke-width="0.85" />
<text x="11.50" y="252.50" font-size="9" text-anchor="middle" fill="#3a3a3a" transform="rotate(-90 11.50 252.50)" >Peak IFN-γ pg ml<tspan dy="-2.8" font-size="5.6">−1</tspan></text>
<line x1="82.30" y1="314.40" x2="82.30" y2="316.90" stroke="#6a6a6a" stroke-width="0.8" />
<text x="82.30" y="328.20" font-size="8.8" text-anchor="middle" fill="#3a3a3a" >No CRS</text>
<line x1="131.60" y1="314.40" x2="131.60" y2="316.90" stroke="#6a6a6a" stroke-width="0.8" />
<text x="131.60" y="328.20" font-size="8.8" text-anchor="middle" fill="#3a3a3a" >Grade 1/2</text>
<line x1="180.90" y1="314.40" x2="180.90" y2="316.90" stroke="#6a6a6a" stroke-width="0.8" />
<text x="180.90" y="328.20" font-size="8.8" text-anchor="middle" fill="#3a3a3a" >Grade 3/4</text>
<text x="85.20" y="295.00" font-size="7.8" text-anchor="middle" fill="#3a3a3a" letter-spacing="0.28" >61.3</text>
<text x="137.60" y="295.00" font-size="7.8" text-anchor="middle" fill="#3a3a3a" letter-spacing="0.28" >209.5</text>
<text x="184.20" y="295.00" font-size="7.8" text-anchor="middle" fill="#3a3a3a" letter-spacing="0.28" >1595.2</text>
<line x1="50.00" y1="310.80" x2="213.00" y2="310.80" stroke="#444" stroke-width="0.7" stroke-dasharray="0.9 1.63"/>
<text x="208.00" y="309.00" font-size="7.4" text-anchor="end" fill="#3a3a3a" >LLOQ</text>
<path d="M82.30 236.00V199.40H181.00V206.80" fill="none" stroke="#2e2e2e" stroke-width="0.8"/>
<text x="131.90" y="199.20" font-size="9" text-anchor="middle" fill="#222" >***</text>
<line x1="82.50" y1="240.10" x2="82.50" y2="241.10" stroke="#2e2e2e" stroke-width="0.8" />
<line x1="82.50" y1="269.40" x2="82.50" y2="271.40" stroke="#2e2e2e" stroke-width="0.8" />
<line x1="74.00" y1="240.10" x2="91.00" y2="240.10" stroke="#2e2e2e" stroke-width="0.8" />
<line x1="74.00" y1="271.40" x2="91.00" y2="271.40" stroke="#2e2e2e" stroke-width="0.8" />
<rect x="66.60" y="241.10" width="31.80" height="28.30" fill="none" stroke="#2e2e2e" stroke-width="0.8"/>
<line x1="66.60" y1="259.20" x2="98.40" y2="259.20" stroke="#2e2e2e" stroke-width="0.8" />
<circle cx="80.03" cy="240.09" r="1.55" fill="#1d5b7e"/>
<circle cx="85.49" cy="240.84" r="1.55" fill="#1d5b7e"/>
<circle cx="82.26" cy="254.74" r="1.55" fill="#27a9c9"/>
<circle cx="80.03" cy="267.15" r="1.55" fill="#27a9c9"/>
<circle cx="85.49" cy="269.13" r="1.55" fill="#27a9c9"/>
<circle cx="80.03" cy="270.87" r="1.55" fill="#1d5b7e"/>
<line x1="131.50" y1="219.20" x2="131.50" y2="236.40" stroke="#2e2e2e" stroke-width="0.8" />
<line x1="131.50" y1="254.20" x2="131.50" y2="271.10" stroke="#2e2e2e" stroke-width="0.8" />
<line x1="123.00" y1="219.20" x2="140.00" y2="219.20" stroke="#2e2e2e" stroke-width="0.8" />
<line x1="123.00" y1="271.10" x2="140.00" y2="271.10" stroke="#2e2e2e" stroke-width="0.8" />
<rect x="115.50" y="236.40" width="32.00" height="17.80" fill="none" stroke="#2e2e2e" stroke-width="0.8"/>
<line x1="115.50" y1="243.10" x2="147.50" y2="243.10" stroke="#2e2e2e" stroke-width="0.8" />
<circle cx="126.44" cy="219.25" r="1.55" fill="#1d5b7e"/>
<circle cx="131.65" cy="219.99" r="1.55" fill="#1d5b7e"/>
<circle cx="137.11" cy="233.15" r="1.55" fill="#1d5b7e"/>
<circle cx="131.65" cy="234.39" r="1.55" fill="#8b8b8d"/>
<circle cx="137.11" cy="237.86" r="1.55" fill="#1d5b7e"/>
<circle cx="126.44" cy="240.09" r="1.55" fill="#e8452b"/>
<circle cx="131.65" cy="238.85" r="1.55" fill="#8b8b8d"/>
<circle cx="131.65" cy="242.58" r="1.55" fill="#1d5b7e"/>
<circle cx="137.11" cy="243.07" r="1.55" fill="#1d5b7e"/>
<circle cx="126.44" cy="244.56" r="1.55" fill="#1d5b7e"/>
<circle cx="137.11" cy="245.80" r="1.55" fill="#1d5b7e"/>
<circle cx="131.65" cy="248.04" r="1.55" fill="#27a9c9"/>
<circle cx="131.65" cy="252.01" r="1.55" fill="#8b8b8d"/>
<circle cx="131.65" cy="257.72" r="1.55" fill="#8b8b8d"/>
<circle cx="128.92" cy="264.17" r="1.55" fill="#27a9c9"/>
<circle cx="134.38" cy="264.17" r="1.55" fill="#1d5b7e"/>
<circle cx="131.65" cy="271.12" r="1.55" fill="#27a9c9"/>
<line x1="180.70" y1="207.30" x2="180.70" y2="210.10" stroke="#2e2e2e" stroke-width="0.8" />
<line x1="180.70" y1="224.20" x2="180.70" y2="226.70" stroke="#2e2e2e" stroke-width="0.8" />
<line x1="172.20" y1="207.30" x2="189.20" y2="207.30" stroke="#2e2e2e" stroke-width="0.8" />
<line x1="172.20" y1="226.70" x2="189.20" y2="226.70" stroke="#2e2e2e" stroke-width="0.8" />
<rect x="164.70" y="210.10" width="32.00" height="14.10" fill="none" stroke="#2e2e2e" stroke-width="0.8"/>
<line x1="164.70" y1="215.80" x2="196.70" y2="215.80" stroke="#2e2e2e" stroke-width="0.8" />
<circle cx="175.33" cy="207.58" r="1.55" fill="#27a9c9"/>
<circle cx="180.79" cy="209.07" r="1.55" fill="#1d5b7e"/>
<circle cx="180.79" cy="212.80" r="1.55" fill="#1d5b7e"/>
<circle cx="175.33" cy="215.77" r="1.55" fill="#e8452b"/>
<circle cx="186.00" cy="216.02" r="1.55" fill="#e8452b"/>
<circle cx="180.79" cy="222.97" r="1.55" fill="#1d5b7e"/>
<circle cx="175.33" cy="227.19" r="1.55" fill="#e8452b"/>
<circle cx="186.00" cy="225.45" r="1.55" fill="#8b8b8d"/>
<text x="342.00" y="177.80" font-size="8.9" text-anchor="middle" fill="#3a3a3a" >IL-6</text>
<line x1="264.00" y1="189.50" x2="264.00" y2="314.40" stroke="#8c8c8c" stroke-width="0.9" />
<line x1="261.40" y1="189.50" x2="264.00" y2="189.50" stroke="#8c8c8c" stroke-width="0.8" />
<text x="258.10" y="192.31" font-size="7.8" text-anchor="end" fill="#3a3a3a" letter-spacing="0.28" >10,000</text>
<line x1="261.40" y1="220.70" x2="264.00" y2="220.70" stroke="#8c8c8c" stroke-width="0.8" />
<text x="258.10" y="223.51" font-size="7.8" text-anchor="end" fill="#3a3a3a" letter-spacing="0.28" >1000</text>
<line x1="261.40" y1="251.90" x2="264.00" y2="251.90" stroke="#8c8c8c" stroke-width="0.8" />
<text x="258.10" y="254.71" font-size="7.8" text-anchor="end" fill="#3a3a3a" letter-spacing="0.28" >100</text>
<line x1="261.40" y1="283.10" x2="264.00" y2="283.10" stroke="#8c8c8c" stroke-width="0.8" />
<text x="258.10" y="285.91" font-size="7.8" text-anchor="end" fill="#3a3a3a" letter-spacing="0.28" >10</text>
<line x1="261.40" y1="314.40" x2="264.00" y2="314.40" stroke="#8c8c8c" stroke-width="0.8" />
<text x="258.10" y="317.21" font-size="7.8" text-anchor="end" fill="#3a3a3a" >1</text>
<line x1="262.50" y1="211.31" x2="264.00" y2="211.31" stroke="#8c8c8c" stroke-width="0.5" />
<line x1="262.50" y1="205.81" x2="264.00" y2="205.81" stroke="#8c8c8c" stroke-width="0.5" />
<line x1="262.50" y1="201.92" x2="264.00" y2="201.92" stroke="#8c8c8c" stroke-width="0.5" />
<line x1="262.50" y1="198.89" x2="264.00" y2="198.89" stroke="#8c8c8c" stroke-width="0.5" />
<line x1="262.50" y1="196.42" x2="264.00" y2="196.42" stroke="#8c8c8c" stroke-width="0.5" />
<line x1="262.50" y1="194.33" x2="264.00" y2="194.33" stroke="#8c8c8c" stroke-width="0.5" />
<line x1="262.50" y1="192.52" x2="264.00" y2="192.52" stroke="#8c8c8c" stroke-width="0.5" />
<line x1="262.50" y1="190.93" x2="264.00" y2="190.93" stroke="#8c8c8c" stroke-width="0.5" />
<line x1="262.50" y1="242.51" x2="264.00" y2="242.51" stroke="#8c8c8c" stroke-width="0.5" />
<line x1="262.50" y1="237.01" x2="264.00" y2="237.01" stroke="#8c8c8c" stroke-width="0.5" />
<line x1="262.50" y1="233.12" x2="264.00" y2="233.12" stroke="#8c8c8c" stroke-width="0.5" />
<line x1="262.50" y1="230.09" x2="264.00" y2="230.09" stroke="#8c8c8c" stroke-width="0.5" />
<line x1="262.50" y1="227.62" x2="264.00" y2="227.62" stroke="#8c8c8c" stroke-width="0.5" />
<line x1="262.50" y1="225.53" x2="264.00" y2="225.53" stroke="#8c8c8c" stroke-width="0.5" />
<line x1="262.50" y1="223.72" x2="264.00" y2="223.72" stroke="#8c8c8c" stroke-width="0.5" />
<line x1="262.50" y1="222.13" x2="264.00" y2="222.13" stroke="#8c8c8c" stroke-width="0.5" />
<line x1="262.50" y1="273.71" x2="264.00" y2="273.71" stroke="#8c8c8c" stroke-width="0.5" />
<line x1="262.50" y1="268.21" x2="264.00" y2="268.21" stroke="#8c8c8c" stroke-width="0.5" />
<line x1="262.50" y1="264.32" x2="264.00" y2="264.32" stroke="#8c8c8c" stroke-width="0.5" />
<line x1="262.50" y1="261.29" x2="264.00" y2="261.29" stroke="#8c8c8c" stroke-width="0.5" />
<line x1="262.50" y1="258.82" x2="264.00" y2="258.82" stroke="#8c8c8c" stroke-width="0.5" />
<line x1="262.50" y1="256.73" x2="264.00" y2="256.73" stroke="#8c8c8c" stroke-width="0.5" />
<line x1="262.50" y1="254.92" x2="264.00" y2="254.92" stroke="#8c8c8c" stroke-width="0.5" />
<line x1="262.50" y1="253.33" x2="264.00" y2="253.33" stroke="#8c8c8c" stroke-width="0.5" />
<line x1="262.50" y1="304.98" x2="264.00" y2="304.98" stroke="#8c8c8c" stroke-width="0.5" />
<line x1="262.50" y1="299.47" x2="264.00" y2="299.47" stroke="#8c8c8c" stroke-width="0.5" />
<line x1="262.50" y1="295.56" x2="264.00" y2="295.56" stroke="#8c8c8c" stroke-width="0.5" />
<line x1="262.50" y1="292.52" x2="264.00" y2="292.52" stroke="#8c8c8c" stroke-width="0.5" />
<line x1="262.50" y1="290.04" x2="264.00" y2="290.04" stroke="#8c8c8c" stroke-width="0.5" />
<line x1="262.50" y1="287.95" x2="264.00" y2="287.95" stroke="#8c8c8c" stroke-width="0.5" />
<line x1="262.50" y1="286.13" x2="264.00" y2="286.13" stroke="#8c8c8c" stroke-width="0.5" />
<line x1="262.50" y1="284.53" x2="264.00" y2="284.53" stroke="#8c8c8c" stroke-width="0.5" />
<line x1="262.00" y1="314.40" x2="429.00" y2="314.40" stroke="#6a6a6a" stroke-width="0.85" />
<text x="226.50" y="252.50" font-size="9" text-anchor="middle" fill="#3a3a3a" transform="rotate(-90 226.50 252.50)" >Peak IL-6 pg ml<tspan dy="-2.8" font-size="5.6">−1</tspan></text>
<line x1="297.50" y1="314.40" x2="297.50" y2="316.90" stroke="#6a6a6a" stroke-width="0.8" />
<text x="297.50" y="328.20" font-size="8.8" text-anchor="middle" fill="#3a3a3a" >No CRS</text>
<line x1="347.10" y1="314.40" x2="347.10" y2="316.90" stroke="#6a6a6a" stroke-width="0.8" />
<text x="347.10" y="328.20" font-size="8.8" text-anchor="middle" fill="#3a3a3a" >Grade 1/2</text>
<line x1="396.50" y1="314.40" x2="396.50" y2="316.90" stroke="#6a6a6a" stroke-width="0.8" />
<text x="396.50" y="328.20" font-size="8.8" text-anchor="middle" fill="#3a3a3a" >Grade 3/4</text>
<text x="299.00" y="296.00" font-size="7.8" text-anchor="middle" fill="#3a3a3a" letter-spacing="0.28" >16.4</text>
<text x="350.90" y="296.00" font-size="7.8" text-anchor="middle" fill="#3a3a3a" letter-spacing="0.28" >109.8</text>
<text x="401.00" y="296.00" font-size="7.8" text-anchor="middle" fill="#3a3a3a" letter-spacing="0.28" >678.0</text>
<line x1="264.00" y1="308.40" x2="429.00" y2="308.40" stroke="#444" stroke-width="0.7" stroke-dasharray="0.9 1.63"/>
<text x="426.80" y="305.00" font-size="7.4" text-anchor="end" fill="#3a3a3a" >LLOQ</text>
<path d="M297.50 268.10V207.60H396.50V213.00" fill="none" stroke="#2e2e2e" stroke-width="0.8"/>
<text x="347.10" y="206.20" font-size="9" text-anchor="middle" fill="#222" >**</text>
<line x1="297.40" y1="269.40" x2="297.40" y2="272.10" stroke="#2e2e2e" stroke-width="0.8" />
<line x1="297.40" y1="279.30" x2="297.40" y2="284.50" stroke="#2e2e2e" stroke-width="0.8" />
<line x1="289.10" y1="269.40" x2="305.70" y2="269.40" stroke="#2e2e2e" stroke-width="0.8" />
<line x1="289.10" y1="284.50" x2="305.70" y2="284.50" stroke="#2e2e2e" stroke-width="0.8" />
<rect x="281.40" y="272.10" width="32.00" height="7.20" fill="none" stroke="#2e2e2e" stroke-width="0.8"/>
<line x1="281.40" y1="276.30" x2="313.40" y2="276.30" stroke="#777" stroke-width="0.8" />
<circle cx="297.50" cy="269.38" r="1.55" fill="#27a9c9"/>
<circle cx="297.50" cy="272.85" r="1.55" fill="#1d5b7e"/>
<circle cx="292.04" cy="276.33" r="1.55" fill="#27a9c9"/>
<circle cx="302.96" cy="277.32" r="1.55" fill="#1d5b7e"/>
<circle cx="297.50" cy="278.56" r="1.55" fill="#27a9c9"/>
<circle cx="297.50" cy="284.52" r="1.55" fill="#1d5b7e"/>
<line x1="346.90" y1="220.20" x2="346.90" y2="232.20" stroke="#2e2e2e" stroke-width="0.8" />
<line x1="346.90" y1="276.60" x2="346.90" y2="282.30" stroke="#2e2e2e" stroke-width="0.8" />
<line x1="338.60" y1="220.20" x2="355.20" y2="220.20" stroke="#2e2e2e" stroke-width="0.8" />
<line x1="338.60" y1="282.30" x2="355.20" y2="282.30" stroke="#2e2e2e" stroke-width="0.8" />
<rect x="330.50" y="232.20" width="32.80" height="44.40" fill="none" stroke="#2e2e2e" stroke-width="0.8"/>
<line x1="330.50" y1="251.00" x2="363.30" y2="251.00" stroke="#777" stroke-width="0.8" />
<circle cx="347.14" cy="220.24" r="1.55" fill="#8b8b8d"/>
<circle cx="347.14" cy="223.47" r="1.55" fill="#1d5b7e"/>
<circle cx="347.14" cy="227.69" r="1.55" fill="#1d5b7e"/>
<circle cx="344.41" cy="231.66" r="1.55" fill="#1d5b7e"/>
<circle cx="349.87" cy="231.66" r="1.55" fill="#8b8b8d"/>
<circle cx="344.41" cy="235.88" r="1.55" fill="#8b8b8d"/>
<circle cx="349.87" cy="237.61" r="1.55" fill="#1d5b7e"/>
<circle cx="341.68" cy="249.53" r="1.55" fill="#1d5b7e"/>
<circle cx="347.14" cy="251.01" r="1.55" fill="#27a9c9"/>
<circle cx="335.97" cy="276.58" r="1.55" fill="#1d5b7e"/>
<circle cx="341.68" cy="276.58" r="1.55" fill="#e8452b"/>
<circle cx="347.14" cy="276.08" r="1.55" fill="#1d5b7e"/>
<circle cx="352.60" cy="276.58" r="1.55" fill="#1d5b7e"/>
<circle cx="358.06" cy="276.58" r="1.55" fill="#1d5b7e"/>
<circle cx="347.14" cy="279.31" r="1.55" fill="#8b8b8d"/>
<circle cx="352.60" cy="280.55" r="1.55" fill="#27a9c9"/>
<circle cx="341.68" cy="282.28" r="1.55" fill="#1d5b7e"/>
<line x1="396.40" y1="215.30" x2="396.40" y2="220.50" stroke="#2e2e2e" stroke-width="0.8" />
<line x1="396.40" y1="236.40" x2="396.40" y2="241.30" stroke="#2e2e2e" stroke-width="0.8" />
<line x1="388.10" y1="215.30" x2="404.70" y2="215.30" stroke="#2e2e2e" stroke-width="0.8" />
<line x1="388.10" y1="241.30" x2="404.70" y2="241.30" stroke="#2e2e2e" stroke-width="0.8" />
<rect x="380.40" y="220.50" width="32.00" height="15.90" fill="none" stroke="#2e2e2e" stroke-width="0.8"/>
<line x1="380.40" y1="226.20" x2="412.40" y2="226.20" stroke="#2e2e2e" stroke-width="0.8" />
<circle cx="396.53" cy="215.28" r="1.55" fill="#27a9c9"/>
<circle cx="393.80" cy="219.74" r="1.55" fill="#8b8b8d"/>
<circle cx="399.26" cy="219.99" r="1.55" fill="#e8452b"/>
<circle cx="396.53" cy="222.97" r="1.55" fill="#27a9c9"/>
<circle cx="396.53" cy="230.91" r="1.55" fill="#e8452b"/>
<circle cx="396.53" cy="234.64" r="1.55" fill="#e8452b"/>
<circle cx="396.53" cy="237.86" r="1.55" fill="#1d5b7e"/>
<circle cx="396.53" cy="241.34" r="1.55" fill="#1d5b7e"/>
<text x="563.00" y="177.80" font-size="8.9" text-anchor="middle" fill="#3a3a3a" >TNF-α</text>
<line x1="480.00" y1="189.50" x2="480.00" y2="314.40" stroke="#8c8c8c" stroke-width="0.9" />
<line x1="477.40" y1="189.50" x2="480.00" y2="189.50" stroke="#8c8c8c" stroke-width="0.8" />
<text x="474.10" y="192.31" font-size="7.8" text-anchor="end" fill="#3a3a3a" letter-spacing="0.28" >100</text>
<line x1="477.40" y1="231.10" x2="480.00" y2="231.10" stroke="#8c8c8c" stroke-width="0.8" />
<text x="474.10" y="233.91" font-size="7.8" text-anchor="end" fill="#3a3a3a" letter-spacing="0.28" >10</text>
<line x1="477.40" y1="272.80" x2="480.00" y2="272.80" stroke="#8c8c8c" stroke-width="0.8" />
<text x="474.10" y="275.61" font-size="7.8" text-anchor="end" fill="#3a3a3a" >1</text>
<line x1="477.40" y1="314.40" x2="480.00" y2="314.40" stroke="#8c8c8c" stroke-width="0.8" />
<text x="474.10" y="317.21" font-size="7.8" text-anchor="end" fill="#3a3a3a" letter-spacing="0.28" >0.1</text>
<line x1="478.00" y1="314.40" x2="646.00" y2="314.40" stroke="#6a6a6a" stroke-width="0.85" />
<text x="453.50" y="252.50" font-size="9" text-anchor="middle" fill="#3a3a3a" transform="rotate(-90 453.50 252.50)" >Peak TNF-α pg ml<tspan dy="-2.8" font-size="5.6">−1</tspan></text>
<line x1="513.50" y1="314.40" x2="513.50" y2="316.90" stroke="#6a6a6a" stroke-width="0.8" />
<text x="513.50" y="328.20" font-size="8.8" text-anchor="middle" fill="#3a3a3a" >No CRS</text>
<line x1="563.00" y1="314.40" x2="563.00" y2="316.90" stroke="#6a6a6a" stroke-width="0.8" />
<text x="563.00" y="328.20" font-size="8.8" text-anchor="middle" fill="#3a3a3a" >Grade 1/2</text>
<line x1="612.50" y1="314.40" x2="612.50" y2="316.90" stroke="#6a6a6a" stroke-width="0.8" />
<text x="612.50" y="328.20" font-size="8.8" text-anchor="middle" fill="#3a3a3a" >Grade 3/4</text>
<text x="516.70" y="296.00" font-size="7.8" text-anchor="middle" fill="#3a3a3a" letter-spacing="0.28" >3.4</text>
<text x="566.10" y="296.00" font-size="7.8" text-anchor="middle" fill="#3a3a3a" letter-spacing="0.28" >4.2</text>
<text x="616.80" y="296.00" font-size="7.8" text-anchor="middle" fill="#3a3a3a" letter-spacing="0.28" >11.9</text>
<path d="M513.50 232.70V204.60H612.50V210.60" fill="none" stroke="#2e2e2e" stroke-width="0.8"/>
<text x="563.10" y="203.40" font-size="9" text-anchor="middle" fill="#222" >*</text>
<line x1="513.40" y1="235.10" x2="513.40" y2="240.30" stroke="#2e2e2e" stroke-width="0.8" />
<line x1="513.40" y1="258.20" x2="513.40" y2="264.40" stroke="#2e2e2e" stroke-width="0.8" />
<line x1="505.10" y1="235.10" x2="521.70" y2="235.10" stroke="#2e2e2e" stroke-width="0.8" />
<line x1="505.10" y1="264.40" x2="521.70" y2="264.40" stroke="#2e2e2e" stroke-width="0.8" />
<rect x="497.40" y="240.30" width="32.00" height="17.90" fill="none" stroke="#2e2e2e" stroke-width="0.8"/>
<line x1="497.40" y1="250.80" x2="529.40" y2="250.80" stroke="#888" stroke-width="0.8" />
<circle cx="513.50" cy="235.13" r="1.55" fill="#27a9c9"/>
<circle cx="513.50" cy="241.58" r="1.55" fill="#27a9c9"/>
<circle cx="516.23" cy="249.77" r="1.55" fill="#27a9c9"/>
<circle cx="510.77" cy="252.01" r="1.55" fill="#1d5b7e"/>
<circle cx="513.50" cy="257.22" r="1.55" fill="#1d5b7e"/>
<circle cx="513.50" cy="264.42" r="1.55" fill="#1d5b7e"/>
<line x1="562.90" y1="233.40" x2="562.90" y2="241.30" stroke="#2e2e2e" stroke-width="0.8" />
<line x1="562.90" y1="254.20" x2="562.90" y2="271.60" stroke="#2e2e2e" stroke-width="0.8" />
<line x1="554.60" y1="233.40" x2="571.20" y2="233.40" stroke="#2e2e2e" stroke-width="0.8" />
<line x1="554.60" y1="271.60" x2="571.20" y2="271.60" stroke="#2e2e2e" stroke-width="0.8" />
<rect x="546.50" y="241.30" width="32.80" height="12.90" fill="none" stroke="#2e2e2e" stroke-width="0.8"/>
<line x1="546.50" y1="247.00" x2="579.30" y2="247.00" stroke="#2e2e2e" stroke-width="0.8" />
<circle cx="557.68" cy="233.89" r="1.55" fill="#1d5b7e"/>
<circle cx="563.14" cy="233.39" r="1.55" fill="#8b8b8d"/>
<circle cx="568.60" cy="233.39" r="1.55" fill="#1d5b7e"/>
<circle cx="557.68" cy="241.34" r="1.55" fill="#1d5b7e"/>
<circle cx="563.14" cy="241.34" r="1.55" fill="#1d5b7e"/>
<circle cx="568.60" cy="241.34" r="1.55" fill="#27a9c9"/>
<circle cx="568.60" cy="244.07" r="1.55" fill="#e8452b"/>
<circle cx="557.68" cy="246.30" r="1.55" fill="#1d5b7e"/>
<circle cx="563.14" cy="245.31" r="1.55" fill="#1d5b7e"/>
<circle cx="568.60" cy="247.29" r="1.55" fill="#1d5b7e"/>
<circle cx="557.68" cy="251.01" r="1.55" fill="#1d5b7e"/>
<circle cx="563.14" cy="252.01" r="1.55" fill="#8b8b8d"/>
<circle cx="568.60" cy="250.02" r="1.55" fill="#1d5b7e"/>
<circle cx="563.14" cy="255.23" r="1.55" fill="#1d5b7e"/>
<circle cx="563.14" cy="259.45" r="1.55" fill="#8b8b8d"/>
<circle cx="560.41" cy="271.61" r="1.55" fill="#1d5b7e"/>
<circle cx="565.87" cy="271.61" r="1.55" fill="#1d5b7e"/>
<line x1="612.40" y1="213.00" x2="612.40" y2="218.30" stroke="#2e2e2e" stroke-width="0.8" />
<line x1="612.40" y1="238.90" x2="612.40" y2="257.20" stroke="#2e2e2e" stroke-width="0.8" />
<line x1="604.10" y1="213.00" x2="620.70" y2="213.00" stroke="#2e2e2e" stroke-width="0.8" />
<line x1="604.10" y1="257.20" x2="620.70" y2="257.20" stroke="#2e2e2e" stroke-width="0.8" />
<rect x="596.40" y="218.30" width="32.00" height="20.60" fill="none" stroke="#2e2e2e" stroke-width="0.8"/>
<line x1="596.40" y1="228.40" x2="628.40" y2="228.40" stroke="#2e2e2e" stroke-width="0.8" />
<circle cx="612.53" cy="213.04" r="1.55" fill="#e8452b"/>
<circle cx="612.53" cy="216.52" r="1.55" fill="#27a9c9"/>
<circle cx="609.80" cy="222.72" r="1.55" fill="#1d5b7e"/>
<circle cx="615.26" cy="222.72" r="1.55" fill="#27a9c9"/>
<circle cx="609.80" cy="237.12" r="1.55" fill="#1d5b7e"/>
<circle cx="615.26" cy="236.37" r="1.55" fill="#e8452b"/>
<circle cx="612.53" cy="239.85" r="1.55" fill="#e8452b"/>
<circle cx="612.53" cy="257.22" r="1.55" fill="#1d5b7e"/>
<line x1="60.30" y1="363.50" x2="60.30" y2="546.30" stroke="#8c8c8c" stroke-width="0.9" />
<line x1="57.70" y1="363.50" x2="60.30" y2="363.50" stroke="#8c8c8c" stroke-width="0.8" />
<text x="54.40" y="366.31" font-size="7.8" text-anchor="end" fill="#3a3a3a" letter-spacing="0.28" >1,000,000</text>
<line x1="57.70" y1="400.20" x2="60.30" y2="400.20" stroke="#8c8c8c" stroke-width="0.8" />
<text x="54.40" y="403.01" font-size="7.8" text-anchor="end" fill="#3a3a3a" letter-spacing="0.28" >100,000</text>
<line x1="57.70" y1="436.80" x2="60.30" y2="436.80" stroke="#8c8c8c" stroke-width="0.8" />
<text x="54.40" y="439.61" font-size="7.8" text-anchor="end" fill="#3a3a3a" letter-spacing="0.28" >10,000</text>
<line x1="57.70" y1="473.20" x2="60.30" y2="473.20" stroke="#8c8c8c" stroke-width="0.8" />
<text x="54.40" y="476.01" font-size="7.8" text-anchor="end" fill="#3a3a3a" letter-spacing="0.28" >1,000</text>
<line x1="57.70" y1="509.70" x2="60.30" y2="509.70" stroke="#8c8c8c" stroke-width="0.8" />
<text x="54.40" y="512.51" font-size="7.8" text-anchor="end" fill="#3a3a3a" letter-spacing="0.28" >100</text>
<line x1="57.70" y1="546.30" x2="60.30" y2="546.30" stroke="#8c8c8c" stroke-width="0.8" />
<text x="54.40" y="549.11" font-size="7.8" text-anchor="end" fill="#3a3a3a" letter-spacing="0.28" >10</text>
<line x1="58.80" y1="389.15" x2="60.30" y2="389.15" stroke="#8c8c8c" stroke-width="0.5" />
<line x1="58.80" y1="382.69" x2="60.30" y2="382.69" stroke="#8c8c8c" stroke-width="0.5" />
<line x1="58.80" y1="378.10" x2="60.30" y2="378.10" stroke="#8c8c8c" stroke-width="0.5" />
<line x1="58.80" y1="374.55" x2="60.30" y2="374.55" stroke="#8c8c8c" stroke-width="0.5" />
<line x1="58.80" y1="371.64" x2="60.30" y2="371.64" stroke="#8c8c8c" stroke-width="0.5" />
<line x1="58.80" y1="369.18" x2="60.30" y2="369.18" stroke="#8c8c8c" stroke-width="0.5" />
<line x1="58.80" y1="367.06" x2="60.30" y2="367.06" stroke="#8c8c8c" stroke-width="0.5" />
<line x1="58.80" y1="365.18" x2="60.30" y2="365.18" stroke="#8c8c8c" stroke-width="0.5" />
<line x1="58.80" y1="425.78" x2="60.30" y2="425.78" stroke="#8c8c8c" stroke-width="0.5" />
<line x1="58.80" y1="419.34" x2="60.30" y2="419.34" stroke="#8c8c8c" stroke-width="0.5" />
<line x1="58.80" y1="414.76" x2="60.30" y2="414.76" stroke="#8c8c8c" stroke-width="0.5" />
<line x1="58.80" y1="411.22" x2="60.30" y2="411.22" stroke="#8c8c8c" stroke-width="0.5" />
<line x1="58.80" y1="408.32" x2="60.30" y2="408.32" stroke="#8c8c8c" stroke-width="0.5" />
<line x1="58.80" y1="405.87" x2="60.30" y2="405.87" stroke="#8c8c8c" stroke-width="0.5" />
<line x1="58.80" y1="403.75" x2="60.30" y2="403.75" stroke="#8c8c8c" stroke-width="0.5" />
<line x1="58.80" y1="401.87" x2="60.30" y2="401.87" stroke="#8c8c8c" stroke-width="0.5" />
<line x1="58.80" y1="462.24" x2="60.30" y2="462.24" stroke="#8c8c8c" stroke-width="0.5" />
<line x1="58.80" y1="455.83" x2="60.30" y2="455.83" stroke="#8c8c8c" stroke-width="0.5" />
<line x1="58.80" y1="451.29" x2="60.30" y2="451.29" stroke="#8c8c8c" stroke-width="0.5" />
<line x1="58.80" y1="447.76" x2="60.30" y2="447.76" stroke="#8c8c8c" stroke-width="0.5" />
<line x1="58.80" y1="444.88" x2="60.30" y2="444.88" stroke="#8c8c8c" stroke-width="0.5" />
<line x1="58.80" y1="442.44" x2="60.30" y2="442.44" stroke="#8c8c8c" stroke-width="0.5" />
<line x1="58.80" y1="440.33" x2="60.30" y2="440.33" stroke="#8c8c8c" stroke-width="0.5" />
<line x1="58.80" y1="438.47" x2="60.30" y2="438.47" stroke="#8c8c8c" stroke-width="0.5" />
<line x1="58.80" y1="498.71" x2="60.30" y2="498.71" stroke="#8c8c8c" stroke-width="0.5" />
<line x1="58.80" y1="492.29" x2="60.30" y2="492.29" stroke="#8c8c8c" stroke-width="0.5" />
<line x1="58.80" y1="487.72" x2="60.30" y2="487.72" stroke="#8c8c8c" stroke-width="0.5" />
<line x1="58.80" y1="484.19" x2="60.30" y2="484.19" stroke="#8c8c8c" stroke-width="0.5" />
<line x1="58.80" y1="481.30" x2="60.30" y2="481.30" stroke="#8c8c8c" stroke-width="0.5" />
<line x1="58.80" y1="478.85" x2="60.30" y2="478.85" stroke="#8c8c8c" stroke-width="0.5" />
<line x1="58.80" y1="476.74" x2="60.30" y2="476.74" stroke="#8c8c8c" stroke-width="0.5" />
<line x1="58.80" y1="474.87" x2="60.30" y2="474.87" stroke="#8c8c8c" stroke-width="0.5" />
<line x1="58.80" y1="535.28" x2="60.30" y2="535.28" stroke="#8c8c8c" stroke-width="0.5" />
<line x1="58.80" y1="528.84" x2="60.30" y2="528.84" stroke="#8c8c8c" stroke-width="0.5" />
<line x1="58.80" y1="524.26" x2="60.30" y2="524.26" stroke="#8c8c8c" stroke-width="0.5" />
<line x1="58.80" y1="520.72" x2="60.30" y2="520.72" stroke="#8c8c8c" stroke-width="0.5" />
<line x1="58.80" y1="517.82" x2="60.30" y2="517.82" stroke="#8c8c8c" stroke-width="0.5" />
<line x1="58.80" y1="515.37" x2="60.30" y2="515.37" stroke="#8c8c8c" stroke-width="0.5" />
<line x1="58.80" y1="513.25" x2="60.30" y2="513.25" stroke="#8c8c8c" stroke-width="0.5" />
<line x1="58.80" y1="511.37" x2="60.30" y2="511.37" stroke="#8c8c8c" stroke-width="0.5" />
<line x1="59.90" y1="546.30" x2="198.00" y2="546.30" stroke="#8c8c8c" stroke-width="0.9" />
<text x="10.00" y="455.00" font-size="9.35" text-anchor="middle" fill="#3a3a3a" transform="rotate(-90 10.00 455.00)" >Transgene copies/µg of DNA</text>
<line x1="82.00" y1="546.30" x2="82.00" y2="549.00" stroke="#8c8c8c" stroke-width="0.8" />
<text x="82.50" y="558.80" font-size="7.7" text-anchor="middle" fill="#3a3a3a" >5<tspan dx="1.3" font-size="7.1">×</tspan><tspan dx="1.3">10</tspan><tspan dy="-3.23" font-size="4.0">7</tspan></text>
<line x1="113.50" y1="546.30" x2="113.50" y2="549.00" stroke="#8c8c8c" stroke-width="0.8" />
<text x="114.00" y="558.80" font-size="7.7" text-anchor="middle" fill="#3a3a3a" >1<tspan dx="1.3" font-size="7.1">×</tspan><tspan dx="1.3">10</tspan><tspan dy="-3.23" font-size="4.0">8</tspan></text>
<line x1="145.30" y1="546.30" x2="145.30" y2="549.00" stroke="#8c8c8c" stroke-width="0.8" />
<text x="145.80" y="558.80" font-size="7.7" text-anchor="middle" fill="#3a3a3a" >3<tspan dx="1.3" font-size="7.1">×</tspan><tspan dx="1.3">10</tspan><tspan dy="-3.23" font-size="4.0">8</tspan></text>
<line x1="176.70" y1="546.30" x2="176.70" y2="549.00" stroke="#8c8c8c" stroke-width="0.8" />
<text x="177.20" y="558.80" font-size="7.7" text-anchor="middle" fill="#3a3a3a" >5<tspan dx="1.3" font-size="7.1">×</tspan><tspan dx="1.3">10</tspan><tspan dy="-3.23" font-size="4.0">8</tspan></text>
<text x="82.20" y="382.80" font-size="7.3" text-anchor="middle" fill="#3a3a3a" letter-spacing="0.1">712.9</text>
<text x="113.20" y="382.80" font-size="7.3" text-anchor="middle" fill="#3a3a3a" letter-spacing="0.1">14,385.5</text>
<text x="145.00" y="382.80" font-size="7.3" text-anchor="middle" fill="#3a3a3a" letter-spacing="0.1">5,275.8</text>
<text x="176.70" y="382.80" font-size="7.3" text-anchor="middle" fill="#3a3a3a" letter-spacing="0.1">5,135.2</text>
<line x1="81.90" y1="445.30" x2="81.90" y2="472.30" stroke="#2e2e2e" stroke-width="0.8" />
<line x1="81.90" y1="483.40" x2="81.90" y2="509.30" stroke="#2e2e2e" stroke-width="0.8" />
<line x1="76.20" y1="445.30" x2="87.60" y2="445.30" stroke="#2e2e2e" stroke-width="0.8" />
<line x1="76.20" y1="509.30" x2="87.60" y2="509.30" stroke="#2e2e2e" stroke-width="0.8" />
<rect x="71.70" y="472.30" width="20.40" height="11.10" fill="none" stroke="#2e2e2e" stroke-width="0.8"/>
<line x1="71.70" y1="478.80" x2="92.10" y2="478.80" stroke="#2e2e2e" stroke-width="0.8" />
<circle cx="81.93" cy="445.33" r="1.55" fill="#27a9c9"/>
<circle cx="79.09" cy="473.36" r="1.55" fill="#27a9c9"/>
<circle cx="84.78" cy="471.82" r="1.55" fill="#27a9c9"/>
<circle cx="79.09" cy="480.36" r="1.55" fill="#27a9c9"/>
<circle cx="84.78" cy="478.83" r="1.55" fill="#27a9c9"/>
<circle cx="81.93" cy="484.09" r="1.55" fill="#27a9c9"/>
<circle cx="81.93" cy="509.27" r="1.55" fill="#27a9c9"/>
<line x1="113.50" y1="400.20" x2="113.50" y2="420.60" stroke="#2e2e2e" stroke-width="0.8" />
<line x1="113.50" y1="466.80" x2="113.50" y2="517.40" stroke="#2e2e2e" stroke-width="0.8" />
<line x1="107.80" y1="400.20" x2="119.20" y2="400.20" stroke="#2e2e2e" stroke-width="0.8" />
<line x1="107.80" y1="517.40" x2="119.20" y2="517.40" stroke="#2e2e2e" stroke-width="0.8" />
<rect x="103.30" y="420.60" width="20.40" height="46.20" fill="none" stroke="#2e2e2e" stroke-width="0.8"/>
<line x1="103.30" y1="431.30" x2="123.70" y2="431.30" stroke="#2e2e2e" stroke-width="0.8" />
<circle cx="113.47" cy="400.22" r="1.55" fill="#1d5b7e"/>
<circle cx="110.62" cy="414.45" r="1.55" fill="#1d5b7e"/>
<circle cx="116.53" cy="414.01" r="1.55" fill="#1d5b7e"/>
<circle cx="107.77" cy="422.34" r="1.55" fill="#1d5b7e"/>
<circle cx="113.47" cy="424.53" r="1.55" fill="#1d5b7e"/>
<circle cx="119.16" cy="423.65" r="1.55" fill="#1d5b7e"/>
<circle cx="110.62" cy="431.31" r="1.55" fill="#1d5b7e"/>
<circle cx="116.53" cy="431.31" r="1.55" fill="#1d5b7e"/>
<circle cx="113.47" cy="435.69" r="1.55" fill="#1d5b7e"/>
<circle cx="113.47" cy="441.39" r="1.55" fill="#1d5b7e"/>
<circle cx="119.16" cy="466.57" r="1.55" fill="#1d5b7e"/>
<circle cx="113.47" cy="469.20" r="1.55" fill="#1d5b7e"/>
<circle cx="113.47" cy="479.05" r="1.55" fill="#1d5b7e"/>
<circle cx="113.47" cy="517.37" r="1.55" fill="#1d5b7e"/>
<line x1="145.30" y1="430.20" x2="145.30" y2="435.30" stroke="#2e2e2e" stroke-width="0.8" />
<line x1="145.30" y1="475.50" x2="145.30" y2="514.10" stroke="#2e2e2e" stroke-width="0.8" />
<line x1="139.60" y1="430.20" x2="151.00" y2="430.20" stroke="#2e2e2e" stroke-width="0.8" />
<line x1="139.60" y1="514.10" x2="151.00" y2="514.10" stroke="#2e2e2e" stroke-width="0.8" />
<rect x="135.10" y="435.30" width="20.40" height="40.20" fill="none" stroke="#2e2e2e" stroke-width="0.8"/>
<line x1="135.10" y1="447.30" x2="155.50" y2="447.30" stroke="#2e2e2e" stroke-width="0.8" />
<circle cx="145.22" cy="430.22" r="1.55" fill="#8b8b8d"/>
<circle cx="145.22" cy="441.39" r="1.55" fill="#8b8b8d"/>
<circle cx="145.22" cy="447.52" r="1.55" fill="#8b8b8d"/>
<circle cx="145.22" cy="465.91" r="1.55" fill="#8b8b8d"/>
<circle cx="145.22" cy="514.09" r="1.55" fill="#8b8b8d"/>
<line x1="166.50" y1="447.30" x2="187.00" y2="447.30" stroke="#2e2e2e" stroke-width="0.8" />
<line x1="176.70" y1="408.50" x2="176.70" y2="454.30" stroke="#2e2e2e" stroke-width="0.8" />
<line x1="172.10" y1="408.50" x2="181.60" y2="408.50" stroke="#2e2e2e" stroke-width="0.8" />
<line x1="172.10" y1="454.30" x2="181.60" y2="454.30" stroke="#2e2e2e" stroke-width="0.8" />
<circle cx="176.75" cy="408.54" r="1.55" fill="#e8452b"/>
<circle cx="176.75" cy="447.30" r="1.55" fill="#e8452b"/>
<circle cx="176.75" cy="454.31" r="1.55" fill="#e8452b"/>
<line x1="312.80" y1="341.60" x2="312.80" y2="517.20" stroke="#9a9a9a" stroke-width="0.9" />
<line x1="308.00" y1="341.80" x2="312.80" y2="341.80" stroke="#9a9a9a" stroke-width="0.8" />
<text x="293.00" y="344.60" font-size="7.8" text-anchor="start" fill="#3a3a3a" >10<tspan dy="-3" font-size="5">5</tspan></text>
<line x1="308.00" y1="379.90" x2="312.80" y2="379.90" stroke="#9a9a9a" stroke-width="0.8" />
<text x="293.00" y="379.50" font-size="7.8" text-anchor="start" fill="#3a3a3a" >10<tspan dy="-3" font-size="5">4</tspan></text>
<line x1="308.00" y1="414.30" x2="312.80" y2="414.30" stroke="#9a9a9a" stroke-width="0.8" />
<text x="293.00" y="413.40" font-size="7.8" text-anchor="start" fill="#3a3a3a" >10<tspan dy="-3" font-size="5">3</tspan></text>
<line x1="308.00" y1="448.40" x2="312.80" y2="448.40" stroke="#9a9a9a" stroke-width="0.8" />
<text x="293.00" y="450.60" font-size="7.8" text-anchor="start" fill="#3a3a3a" >10<tspan dy="-3" font-size="5">2</tspan></text>
<line x1="308.00" y1="483.00" x2="312.80" y2="483.00" stroke="#9a9a9a" stroke-width="0.8" />
<text x="293.00" y="485.20" font-size="7.8" text-anchor="start" fill="#3a3a3a" >10<tspan dy="-3" font-size="5">1</tspan></text>
<line x1="308.00" y1="517.20" x2="312.80" y2="517.20" stroke="#9a9a9a" stroke-width="0.8" />
<text x="293.00" y="519.50" font-size="7.8" text-anchor="start" fill="#3a3a3a" >10<tspan dy="-3" font-size="5">0</tspan></text>
<line x1="308.00" y1="517.20" x2="578.00" y2="517.20" stroke="#9a9a9a" stroke-width="0.9" />
<text x="285.20" y="429.50" font-size="9.35" text-anchor="middle" fill="#3a3a3a" transform="rotate(-90 285.20 429.50)" >Transgene copies/µg of DNA</text>
<rect x="320.40" y="358.20" width="13.50" height="159.00" fill="#70c7f0" stroke="#333" stroke-width="0.8"/>
<text x="329.95" y="513.20" font-size="8.5" text-anchor="start" fill="#1c1c1c" transform="rotate(-90 329.95 513.20)" >Day 10</text>
<rect x="335.80" y="439.40" width="13.40" height="77.80" fill="#ef6469" stroke="#333" stroke-width="0.8"/>
<text x="345.30" y="513.20" font-size="8.5" text-anchor="start" fill="#1c1c1c" transform="rotate(-90 345.30 513.20)" >Day 10</text>
<rect x="358.50" y="371.30" width="13.50" height="145.90" fill="#70c7f0" stroke="#333" stroke-width="0.8"/>
<text x="368.05" y="513.20" font-size="8.5" text-anchor="start" fill="#1c1c1c" transform="rotate(-90 368.05 513.20)" >Day 16</text>
<rect x="374.10" y="436.40" width="13.40" height="80.80" fill="#ef6469" stroke="#333" stroke-width="0.8"/>
<text x="383.60" y="513.20" font-size="8.5" text-anchor="start" fill="#1c1c1c" transform="rotate(-90 383.60 513.20)" >Day 21</text>
<rect x="395.00" y="431.00" width="13.50" height="86.20" fill="#70c7f0" stroke="#333" stroke-width="0.8"/>
<text x="404.55" y="513.20" font-size="8.5" text-anchor="start" fill="#1c1c1c" transform="rotate(-90 404.55 513.20)" >Day 64</text>
<rect x="410.50" y="434.40" width="13.50" height="82.80" fill="#ef6469" stroke="#333" stroke-width="0.8"/>
<text x="420.05" y="513.20" font-size="8.5" text-anchor="start" fill="#1c1c1c" transform="rotate(-90 420.05 513.20)" >Day 57</text>
<rect x="433.00" y="440.00" width="13.50" height="77.20" fill="#70c7f0" stroke="#333" stroke-width="0.8"/>
<text x="442.55" y="513.20" font-size="8.5" text-anchor="start" fill="#1c1c1c" transform="rotate(-90 442.55 513.20)" >Day 76</text>
<rect x="448.50" y="420.50" width="13.50" height="96.70" fill="#ef6469" stroke="#333" stroke-width="0.8"/>
<text x="458.05" y="513.20" font-size="8.5" text-anchor="start" fill="#1c1c1c" transform="rotate(-90 458.05 513.20)" >Day 43</text>
<rect x="470.50" y="444.00" width="13.50" height="73.20" fill="#70c7f0" stroke="#333" stroke-width="0.8"/>
<text x="480.05" y="513.20" font-size="8.5" text-anchor="start" fill="#1c1c1c" transform="rotate(-90 480.05 513.20)" >Day 58</text>
<rect x="486.00" y="450.00" width="13.50" height="67.20" fill="#ef6469" stroke="#333" stroke-width="0.8"/>
<text x="495.55" y="513.20" font-size="8.5" text-anchor="start" fill="#1c1c1c" transform="rotate(-90 495.55 513.20)" >Day 56</text>
<rect x="509.00" y="455.00" width="13.50" height="62.20" fill="#70c7f0" stroke="#333" stroke-width="0.8"/>
<text x="518.55" y="513.20" font-size="8.5" text-anchor="start" fill="#1c1c1c" transform="rotate(-90 518.55 513.20)" >Day 70</text>
<rect x="545.60" y="392.00" width="13.70" height="125.20" fill="#d894c6" stroke="#333" stroke-width="0.8"/>
<text x="555.25" y="513.20" font-size="8.5" text-anchor="start" fill="#1c1c1c" transform="rotate(-90 555.25 513.20)" >Day 35</text>
<text x="533.40" y="513.20" font-size="8.5" text-anchor="start" fill="#1c1c1c" transform="rotate(-90 533.40 513.20)" letter-spacing="0.45">Day 86 undetectable</text>
<text x="571.60" y="513.20" font-size="8.5" text-anchor="start" fill="#1c1c1c" transform="rotate(-90 571.60 513.20)" letter-spacing="0.45">Day 27 undetectable</text>
<rect x="581.3" y="371.90" width="9.2" height="9.2" fill="#70c7f0" stroke="#3a3a3a" stroke-width="0.6"/>
<text x="595.60" y="379.60" font-size="9.4" text-anchor="start" fill="#3a3a3a" >Serosal effusion</text>
<rect x="581.3" y="385.90" width="9.2" height="9.2" fill="#ef6469" stroke="#3a3a3a" stroke-width="0.6"/>
<text x="595.60" y="393.60" font-size="9.4" text-anchor="start" fill="#3a3a3a" >Peripheral blood</text>
<rect x="581.3" y="399.90" width="9.2" height="9.2" fill="#d894c6" stroke="#3a3a3a" stroke-width="0.6"/>
<text x="595.60" y="407.60" font-size="9.4" text-anchor="start" fill="#3a3a3a" >Peritoneal nodule</text>
<line x1="256.00" y1="535.60" x2="572.00" y2="535.60" stroke="#5a5a5a" stroke-width="1.0" />
<line x1="256.00" y1="554.00" x2="572.00" y2="554.00" stroke="#5a5a5a" stroke-width="1.0" />
<text x="257.40" y="531.40" font-size="9.2" text-anchor="start" fill="#3a3a3a" >Patient</text>
<text x="257.40" y="547.60" font-size="9.2" text-anchor="start" fill="#3a3a3a" >Diagnosis</text>
<text x="257.40" y="565.00" font-size="9.2" text-anchor="start" fill="#3a3a3a" >Response</text>
<text x="333.60" y="531.80" font-size="8.8" text-anchor="middle" fill="#3a3a3a" >7</text>
<text x="371.10" y="531.80" font-size="8.8" text-anchor="middle" fill="#3a3a3a" letter-spacing="0.28" >14</text>
<text x="407.80" y="531.80" font-size="8.8" text-anchor="middle" fill="#3a3a3a" letter-spacing="0.28" >15</text>
<text x="447.00" y="531.80" font-size="8.8" text-anchor="middle" fill="#3a3a3a" letter-spacing="0.28" >20</text>
<text x="482.00" y="531.80" font-size="8.8" text-anchor="middle" fill="#3a3a3a" letter-spacing="0.28" >27</text>
<text x="522.50" y="531.80" font-size="8.8" text-anchor="middle" fill="#3a3a3a" letter-spacing="0.28" >27</text>
<text x="558.00" y="531.80" font-size="8.8" text-anchor="middle" fill="#3a3a3a" >2</text>
<text x="334.60" y="548.60" font-size="8.8" text-anchor="middle" fill="#3a3a3a" >MPM</text>
<text x="373.30" y="548.60" font-size="8.8" text-anchor="middle" fill="#3a3a3a" >CHO</text>
<text x="409.50" y="548.60" font-size="8.8" text-anchor="middle" fill="#3a3a3a" >MPM</text>
<text x="446.50" y="548.60" font-size="8.8" text-anchor="middle" fill="#3a3a3a" >MPM</text>
<text x="482.00" y="548.60" font-size="8.8" text-anchor="middle" fill="#3a3a3a" >OVA</text>
<text x="523.00" y="548.60" font-size="8.8" text-anchor="middle" fill="#3a3a3a" >OVA</text>
<text x="557.00" y="548.60" font-size="8.8" text-anchor="middle" fill="#3a3a3a" >MPM</text>
<text x="333.60" y="566.60" font-size="8.8" text-anchor="middle" fill="#3a3a3a" >SD</text>
<text x="372.30" y="566.60" font-size="8.8" text-anchor="middle" fill="#3a3a3a" >PR*</text>
<text x="410.00" y="566.60" font-size="8.8" text-anchor="middle" fill="#3a3a3a" >PR</text>
<text x="448.00" y="566.60" font-size="8.8" text-anchor="middle" fill="#3a3a3a" >SD</text>
<text x="503.00" y="566.60" font-size="8.8" text-anchor="middle" fill="#3a3a3a" >SD</text>
<text x="556.00" y="566.60" font-size="8.8" text-anchor="middle" fill="#3a3a3a" >PR</text>
<defs><pattern id="pR1" width="32" height="32" patternUnits="userSpaceOnUse"><rect width="32" height="32" fill="#330708"/><circle cx="10.4" cy="4.8" r="1.7" fill="none" stroke="#dc2a2e" stroke-width="0.6"/><circle cx="17.1" cy="11.7" r="1.2" fill="none" stroke="#b01e22" stroke-width="0.6"/><circle cx="1.2" cy="13.9" r="1.3" fill="none" stroke="#dc2a2e" stroke-width="0.6"/><circle cx="33.2" cy="13.9" r="1.3" fill="none" stroke="#dc2a2e" stroke-width="0.6"/><circle cx="13.6" cy="26.5" r="1.3" fill="none" stroke="#b01e22" stroke-width="0.6"/><circle cx="20.1" cy="30.3" r="1.7" fill="none" stroke="#b01e22" stroke-width="0.6"/><circle cx="20.1" cy="-1.7" r="1.7" fill="none" stroke="#b01e22" stroke-width="0.6"/><circle cx="31.2" cy="1.5" r="1.9" fill="none" stroke="#b01e22" stroke-width="0.6"/><circle cx="-0.8" cy="1.5" r="1.9" fill="none" stroke="#b01e22" stroke-width="0.6"/><circle cx="31.2" cy="33.5" r="1.9" fill="none" stroke="#b01e22" stroke-width="0.6"/><circle cx="4.6" cy="3.8" r="1.4" fill="none" stroke="#b01e22" stroke-width="0.6"/><circle cx="4.6" cy="35.8" r="1.4" fill="none" stroke="#b01e22" stroke-width="0.6"/><circle cx="5.8" cy="18.6" r="1.7" fill="none" stroke="#b01e22" stroke-width="0.6"/><circle cx="17.5" cy="2.0" r="1.2" fill="none" stroke="#b01e22" stroke-width="0.6"/><circle cx="17.5" cy="34.0" r="1.2" fill="none" stroke="#b01e22" stroke-width="0.6"/><circle cx="21.8" cy="13.7" r="1.5" fill="none" stroke="#b01e22" stroke-width="0.6"/><circle cx="14.5" cy="9.6" r="1.8" fill="none" stroke="#b01e22" stroke-width="0.6"/><circle cx="7.8" cy="18.4" r="1.6" fill="none" stroke="#b01e22" stroke-width="0.6"/><circle cx="23.3" cy="9.2" r="2.0" fill="none" stroke="#dc2a2e" stroke-width="0.6"/><circle cx="13.4" cy="24.2" r="1.3" fill="none" stroke="#b01e22" stroke-width="0.6"/><circle cx="1.3" cy="21.4" r="1.8" fill="none" stroke="#b01e22" stroke-width="0.6"/><circle cx="33.3" cy="21.4" r="1.8" fill="none" stroke="#b01e22" stroke-width="0.6"/><circle cx="28.0" cy="10.0" r="1.8" fill="none" stroke="#b01e22" stroke-width="0.6"/><circle cx="-4.0" cy="10.0" r="1.8" fill="none" stroke="#b01e22" stroke-width="0.6"/><circle cx="18.6" cy="14.6" r="1.9" fill="none" stroke="#b01e22" stroke-width="0.6"/><circle cx="15.2" cy="21.3" r="1.2" fill="none" stroke="#b01e22" stroke-width="0.6"/><circle cx="20.7" cy="31.8" r="1.9" fill="none" stroke="#b01e22" stroke-width="0.6"/><circle cx="20.7" cy="-0.2" r="1.9" fill="none" stroke="#b01e22" stroke-width="0.6"/><circle cx="12.3" cy="21.4" r="1.2" fill="none" stroke="#b01e22" stroke-width="0.6"/><circle cx="5.4" cy="3.7" r="1.2" fill="none" stroke="#b01e22" stroke-width="0.6"/><circle cx="5.4" cy="35.7" r="1.2" fill="none" stroke="#b01e22" stroke-width="0.6"/><circle cx="4.1" cy="7.9" r="1.5" fill="none" stroke="#b01e22" stroke-width="0.6"/><circle cx="2.6" cy="14.4" r="1.6" fill="none" stroke="#b01e22" stroke-width="0.6"/><circle cx="34.6" cy="14.4" r="1.6" fill="none" stroke="#b01e22" stroke-width="0.6"/><circle cx="26.2" cy="27.6" r="1.4" fill="none" stroke="#b01e22" stroke-width="0.6"/><circle cx="11.5" cy="28.3" r="2.0" fill="none" stroke="#dc2a2e" stroke-width="0.6"/><circle cx="11.5" cy="-3.7" r="2.0" fill="none" stroke="#dc2a2e" stroke-width="0.6"/><circle cx="5.6" cy="7.4" r="1.4" fill="none" stroke="#b01e22" stroke-width="0.6"/><circle cx="18.9" cy="8.4" r="1.2" fill="none" stroke="#b01e22" stroke-width="0.6"/><circle cx="11.8" cy="18.1" r="2.0" fill="none" stroke="#b01e22" stroke-width="0.6"/><circle cx="16.5" cy="19.8" r="1.7" fill="none" stroke="#dc2a2e" stroke-width="0.6"/><circle cx="28.8" cy="25.0" r="1.9" fill="none" stroke="#b01e22" stroke-width="0.6"/><circle cx="-3.2" cy="25.0" r="1.9" fill="none" stroke="#b01e22" stroke-width="0.6"/><circle cx="12.6" cy="12.8" r="1.3" fill="none" stroke="#b01e22" stroke-width="0.6"/><circle cx="2.0" cy="2.2" r="1.4" fill="none" stroke="#dc2a2e" stroke-width="0.6"/><circle cx="34.0" cy="2.2" r="1.4" fill="none" stroke="#dc2a2e" stroke-width="0.6"/><circle cx="2.0" cy="34.2" r="1.4" fill="none" stroke="#dc2a2e" stroke-width="0.6"/><circle cx="10.9" cy="1.7" r="1.2" fill="none" stroke="#dc2a2e" stroke-width="0.6"/><circle cx="10.9" cy="33.7" r="1.2" fill="none" stroke="#dc2a2e" stroke-width="0.6"/><circle cx="3.2" cy="11.6" r="1.2" fill="none" stroke="#b01e22" stroke-width="0.6"/><circle cx="35.2" cy="11.6" r="1.2" fill="none" stroke="#b01e22" stroke-width="0.6"/><circle cx="19.7" cy="4.8" r="1.4" fill="none" stroke="#b01e22" stroke-width="0.6"/><circle cx="11.7" cy="3.9" r="1.9" fill="none" stroke="#b01e22" stroke-width="0.6"/><circle cx="11.7" cy="35.9" r="1.9" fill="none" stroke="#b01e22" stroke-width="0.6"/><circle cx="14.9" cy="15.5" r="1.3" fill="none" stroke="#dc2a2e" stroke-width="0.6"/><circle cx="11.0" cy="8.5" r="1.9" fill="none" stroke="#dc2a2e" stroke-width="0.6"/><circle cx="0.7" cy="30.4" r="1.6" fill="none" stroke="#dc2a2e" stroke-width="0.6"/><circle cx="32.7" cy="30.4" r="1.6" fill="none" stroke="#dc2a2e" stroke-width="0.6"/><circle cx="0.7" cy="-1.6" r="1.6" fill="none" stroke="#dc2a2e" stroke-width="0.6"/><circle cx="17.4" cy="0.9" r="1.6" fill="none" stroke="#b01e22" stroke-width="0.6"/><circle cx="17.4" cy="32.9" r="1.6" fill="none" stroke="#b01e22" stroke-width="0.6"/><circle cx="27.6" cy="22.3" r="1.4" fill="none" stroke="#b01e22" stroke-width="0.6"/><circle cx="5.3" cy="24.7" r="1.6" fill="none" stroke="#b01e22" stroke-width="0.6"/><circle cx="10.5" cy="7.1" r="1.8" fill="none" stroke="#b01e22" stroke-width="0.6"/><circle cx="27.3" cy="25.8" r="1.9" fill="none" stroke="#b01e22" stroke-width="0.6"/><circle cx="7.3" cy="16.6" r="1.5" fill="none" stroke="#dc2a2e" stroke-width="0.6"/><circle cx="0.9" cy="8.9" r="1.4" fill="none" stroke="#b01e22" stroke-width="0.6"/><circle cx="32.9" cy="8.9" r="1.4" fill="none" stroke="#b01e22" stroke-width="0.6"/><circle cx="30.6" cy="14.3" r="1.9" fill="none" stroke="#b01e22" stroke-width="0.6"/><circle cx="-1.4" cy="14.3" r="1.9" fill="none" stroke="#b01e22" stroke-width="0.6"/><circle cx="30.6" cy="11.7" r="1.4" fill="none" stroke="#b01e22" stroke-width="0.6"/><circle cx="-1.4" cy="11.7" r="1.4" fill="none" stroke="#b01e22" stroke-width="0.6"/><circle cx="6.3" cy="6.5" r="1.7" fill="none" stroke="#b01e22" stroke-width="0.6"/><circle cx="26.9" cy="15.3" r="1.7" fill="none" stroke="#b01e22" stroke-width="0.6"/><circle cx="2.7" cy="21.1" r="1.9" fill="none" stroke="#b01e22" stroke-width="0.6"/><circle cx="34.7" cy="21.1" r="1.9" fill="none" stroke="#b01e22" stroke-width="0.6"/><circle cx="24.0" cy="15.3" r="1.3" fill="none" stroke="#b01e22" stroke-width="0.6"/><circle cx="10.6" cy="25.6" r="2.0" fill="none" stroke="#b01e22" stroke-width="0.6"/><circle cx="12.8" cy="30.3" r="1.8" fill="none" stroke="#dc2a2e" stroke-width="0.6"/><circle cx="12.8" cy="-1.7" r="1.8" fill="none" stroke="#dc2a2e" stroke-width="0.6"/><circle cx="4.1" cy="4.8" r="1.9" fill="none" stroke="#b01e22" stroke-width="0.6"/><circle cx="4.7" cy="26.4" r="2.0" fill="none" stroke="#b01e22" stroke-width="0.6"/><circle cx="11.2" cy="17.6" r="1.3" fill="none" stroke="#dc2a2e" stroke-width="0.6"/><circle cx="31.1" cy="20.8" r="1.6" fill="none" stroke="#b01e22" stroke-width="0.6"/><circle cx="-0.9" cy="20.8" r="1.6" fill="none" stroke="#b01e22" stroke-width="0.6"/><circle cx="13.9" cy="27.9" r="1.9" fill="none" stroke="#b01e22" stroke-width="0.6"/><circle cx="8.1" cy="9.4" r="1.4" fill="none" stroke="#b01e22" stroke-width="0.6"/><circle cx="8.3" cy="13.4" r="1.3" fill="none" stroke="#b01e22" stroke-width="0.6"/><circle cx="11.3" cy="14.7" r="1.7" fill="none" stroke="#b01e22" stroke-width="0.6"/><circle cx="13.5" cy="29.4" r="1.6" fill="none" stroke="#b01e22" stroke-width="0.6"/><circle cx="13.5" cy="-2.6" r="1.6" fill="none" stroke="#b01e22" stroke-width="0.6"/><circle cx="16.8" cy="0.6" r="1.6" fill="none" stroke="#b01e22" stroke-width="0.6"/><circle cx="16.8" cy="32.6" r="1.6" fill="none" stroke="#b01e22" stroke-width="0.6"/><circle cx="0.1" cy="25.6" r="1.3" fill="none" stroke="#b01e22" stroke-width="0.6"/><circle cx="32.1" cy="25.6" r="1.3" fill="none" stroke="#b01e22" stroke-width="0.6"/><circle cx="23.2" cy="17.8" r="1.5" fill="none" stroke="#b01e22" stroke-width="0.6"/><circle cx="17.8" cy="25.1" r="1.3" fill="none" stroke="#b01e22" stroke-width="0.6"/><circle cx="8.0" cy="8.9" r="1.8" fill="none" stroke="#b01e22" stroke-width="0.6"/><circle cx="18.0" cy="24.3" r="1.9" fill="none" stroke="#b01e22" stroke-width="0.6"/><circle cx="19.6" cy="16.2" r="1.6" fill="none" stroke="#b01e22" stroke-width="0.6"/><circle cx="14.5" cy="17.1" r="1.6" fill="none" stroke="#b01e22" stroke-width="0.6"/><circle cx="22.4" cy="28.0" r="2.0" fill="none" stroke="#b01e22" stroke-width="0.6"/><circle cx="22.4" cy="-4.0" r="2.0" fill="none" stroke="#b01e22" stroke-width="0.6"/><circle cx="17.9" cy="30.2" r="1.9" fill="none" stroke="#dc2a2e" stroke-width="0.6"/><circle cx="17.9" cy="-1.8" r="1.9" fill="none" stroke="#dc2a2e" stroke-width="0.6"/><circle cx="3.9" cy="14.1" r="1.3" fill="none" stroke="#b01e22" stroke-width="0.6"/><circle cx="35.9" cy="14.1" r="1.3" fill="none" stroke="#b01e22" stroke-width="0.6"/><circle cx="2.3" cy="21.4" r="1.8" fill="none" stroke="#b01e22" stroke-width="0.6"/><circle cx="34.3" cy="21.4" r="1.8" fill="none" stroke="#b01e22" stroke-width="0.6"/><circle cx="4.9" cy="22.9" r="1.7" fill="none" stroke="#dc2a2e" stroke-width="0.6"/><circle cx="28.3" cy="31.0" r="1.4" fill="none" stroke="#b01e22" stroke-width="0.6"/><circle cx="-3.7" cy="31.0" r="1.4" fill="none" stroke="#b01e22" stroke-width="0.6"/><circle cx="28.3" cy="-1.0" r="1.4" fill="none" stroke="#b01e22" stroke-width="0.6"/><circle cx="12.7" cy="15.6" r="2.0" fill="none" stroke="#b01e22" stroke-width="0.6"/><circle cx="5.2" cy="13.8" r="1.6" fill="none" stroke="#b01e22" stroke-width="0.6"/><circle cx="6.3" cy="10.2" r="1.8" fill="none" stroke="#dc2a2e" stroke-width="0.6"/><circle cx="17.7" cy="14.1" r="1.2" fill="none" stroke="#b01e22" stroke-width="0.6"/><circle cx="20.0" cy="16.4" r="1.3" fill="none" stroke="#b01e22" stroke-width="0.6"/><circle cx="25.2" cy="31.1" r="1.3" fill="none" stroke="#b01e22" stroke-width="0.6"/><circle cx="25.2" cy="-0.9" r="1.3" fill="none" stroke="#b01e22" stroke-width="0.6"/><circle cx="1.3" cy="24.9" r="1.4" fill="none" stroke="#dc2a2e" stroke-width="0.6"/><circle cx="33.3" cy="24.9" r="1.4" fill="none" stroke="#dc2a2e" stroke-width="0.6"/><circle cx="13.5" cy="29.2" r="1.9" fill="none" stroke="#b01e22" stroke-width="0.6"/><circle cx="13.5" cy="-2.8" r="1.9" fill="none" stroke="#b01e22" stroke-width="0.6"/><circle cx="4.8" cy="29.4" r="1.7" fill="none" stroke="#b01e22" stroke-width="0.6"/><circle cx="4.8" cy="-2.6" r="1.7" fill="none" stroke="#b01e22" stroke-width="0.6"/><circle cx="2.9" cy="1.8" r="1.8" fill="none" stroke="#b01e22" stroke-width="0.6"/><circle cx="34.9" cy="1.8" r="1.8" fill="none" stroke="#b01e22" stroke-width="0.6"/><circle cx="2.9" cy="33.8" r="1.8" fill="none" stroke="#b01e22" stroke-width="0.6"/><circle cx="2.3" cy="30.0" r="1.7" fill="none" stroke="#b01e22" stroke-width="0.6"/><circle cx="34.3" cy="30.0" r="1.7" fill="none" stroke="#b01e22" stroke-width="0.6"/><circle cx="2.3" cy="-2.0" r="1.7" fill="none" stroke="#b01e22" stroke-width="0.6"/><circle cx="2.7" cy="27.4" r="1.3" fill="none" stroke="#b01e22" stroke-width="0.6"/><circle cx="34.7" cy="27.4" r="1.3" fill="none" stroke="#b01e22" stroke-width="0.6"/><circle cx="14.5" cy="10.9" r="1.6" fill="none" stroke="#b01e22" stroke-width="0.6"/><circle cx="8.6" cy="4.1" r="1.6" fill="none" stroke="#b01e22" stroke-width="0.6"/><circle cx="3.5" cy="5.2" r="1.2" fill="none" stroke="#b01e22" stroke-width="0.6"/><circle cx="35.5" cy="5.2" r="1.2" fill="none" stroke="#b01e22" stroke-width="0.6"/><circle cx="10.0" cy="9.8" r="1.8" fill="none" stroke="#b01e22" stroke-width="0.6"/><circle cx="16.0" cy="5.7" r="1.5" fill="none" stroke="#dc2a2e" stroke-width="0.6"/><circle cx="8.0" cy="0.5" r="1.8" fill="none" stroke="#b01e22" stroke-width="0.6"/><circle cx="8.0" cy="32.5" r="1.8" fill="none" stroke="#b01e22" stroke-width="0.6"/><circle cx="6.1" cy="15.2" r="1.9" fill="none" stroke="#dc2a2e" stroke-width="0.6"/><circle cx="26.2" cy="13.8" r="1.6" fill="none" stroke="#b01e22" stroke-width="0.6"/><circle cx="12.6" cy="16.2" r="1.8" fill="none" stroke="#b01e22" stroke-width="0.6"/><circle cx="11.0" cy="26.6" r="1.8" fill="none" stroke="#b01e22" stroke-width="0.6"/><circle cx="13.0" cy="11.1" r="1.2" fill="none" stroke="#dc2a2e" stroke-width="0.6"/></pattern><pattern id="pR1w" width="32" height="32" patternUnits="userSpaceOnUse"><rect width="32" height="32" fill="#1e0405"/><circle cx="2.3" cy="23.7" r="2.0" fill="none" stroke="#b02024" stroke-width="0.6"/><circle cx="34.3" cy="23.7" r="2.0" fill="none" stroke="#b02024" stroke-width="0.6"/><circle cx="2.7" cy="26.9" r="2.8" fill="none" stroke="#86161a" stroke-width="0.6"/><circle cx="34.7" cy="26.9" r="2.8" fill="none" stroke="#86161a" stroke-width="0.6"/><circle cx="9.0" cy="7.8" r="2.0" fill="none" stroke="#86161a" stroke-width="0.6"/><circle cx="5.0" cy="14.3" r="2.0" fill="none" stroke="#86161a" stroke-width="0.6"/><circle cx="31.1" cy="17.5" r="1.9" fill="none" stroke="#86161a" stroke-width="0.6"/><circle cx="-0.9" cy="17.5" r="1.9" fill="none" stroke="#86161a" stroke-width="0.6"/><circle cx="9.9" cy="11.4" r="1.6" fill="none" stroke="#86161a" stroke-width="0.6"/><circle cx="15.2" cy="16.1" r="1.9" fill="none" stroke="#86161a" stroke-width="0.6"/><circle cx="0.2" cy="8.5" r="1.7" fill="none" stroke="#86161a" stroke-width="0.6"/><circle cx="32.2" cy="8.5" r="1.7" fill="none" stroke="#86161a" stroke-width="0.6"/><circle cx="1.3" cy="0.7" r="2.0" fill="none" stroke="#86161a" stroke-width="0.6"/><circle cx="33.3" cy="0.7" r="2.0" fill="none" stroke="#86161a" stroke-width="0.6"/><circle cx="1.3" cy="32.7" r="2.0" fill="none" stroke="#86161a" stroke-width="0.6"/><circle cx="18.7" cy="16.9" r="2.7" fill="none" stroke="#86161a" stroke-width="0.6"/><circle cx="22.9" cy="28.1" r="2.1" fill="none" stroke="#86161a" stroke-width="0.6"/><circle cx="22.9" cy="-3.9" r="2.1" fill="none" stroke="#86161a" stroke-width="0.6"/><circle cx="31.5" cy="4.8" r="2.6" fill="none" stroke="#86161a" stroke-width="0.6"/><circle cx="-0.5" cy="4.8" r="2.6" fill="none" stroke="#86161a" stroke-width="0.6"/><circle cx="1.4" cy="26.7" r="2.8" fill="none" stroke="#86161a" stroke-width="0.6"/><circle cx="33.4" cy="26.7" r="2.8" fill="none" stroke="#86161a" stroke-width="0.6"/><circle cx="23.5" cy="26.0" r="1.8" fill="none" stroke="#86161a" stroke-width="0.6"/><circle cx="16.1" cy="26.7" r="2.7" fill="none" stroke="#86161a" stroke-width="0.6"/><circle cx="18.7" cy="28.6" r="2.6" fill="none" stroke="#86161a" stroke-width="0.6"/><circle cx="18.7" cy="-3.4" r="2.6" fill="none" stroke="#86161a" stroke-width="0.6"/><circle cx="7.4" cy="1.0" r="1.8" fill="none" stroke="#86161a" stroke-width="0.6"/><circle cx="7.4" cy="33.0" r="1.8" fill="none" stroke="#86161a" stroke-width="0.6"/><circle cx="3.4" cy="26.7" r="2.4" fill="none" stroke="#86161a" stroke-width="0.6"/><circle cx="35.4" cy="26.7" r="2.4" fill="none" stroke="#86161a" stroke-width="0.6"/><circle cx="20.0" cy="21.8" r="2.3" fill="none" stroke="#b02024" stroke-width="0.6"/><circle cx="25.5" cy="23.9" r="2.3" fill="none" stroke="#86161a" stroke-width="0.6"/><circle cx="21.1" cy="2.1" r="2.6" fill="none" stroke="#86161a" stroke-width="0.6"/><circle cx="21.1" cy="34.1" r="2.6" fill="none" stroke="#86161a" stroke-width="0.6"/><circle cx="2.4" cy="8.5" r="2.6" fill="none" stroke="#86161a" stroke-width="0.6"/><circle cx="34.4" cy="8.5" r="2.6" fill="none" stroke="#86161a" stroke-width="0.6"/><circle cx="23.7" cy="31.2" r="2.3" fill="none" stroke="#86161a" stroke-width="0.6"/><circle cx="23.7" cy="-0.8" r="2.3" fill="none" stroke="#86161a" stroke-width="0.6"/><circle cx="15.3" cy="21.9" r="2.7" fill="none" stroke="#86161a" stroke-width="0.6"/><circle cx="20.6" cy="2.5" r="1.8" fill="none" stroke="#86161a" stroke-width="0.6"/><circle cx="20.6" cy="34.5" r="1.8" fill="none" stroke="#86161a" stroke-width="0.6"/><circle cx="23.8" cy="9.7" r="2.4" fill="none" stroke="#b02024" stroke-width="0.6"/><circle cx="1.9" cy="8.6" r="2.5" fill="none" stroke="#86161a" stroke-width="0.6"/><circle cx="33.9" cy="8.6" r="2.5" fill="none" stroke="#86161a" stroke-width="0.6"/><circle cx="21.6" cy="9.3" r="2.3" fill="none" stroke="#86161a" stroke-width="0.6"/><circle cx="14.9" cy="3.8" r="2.9" fill="none" stroke="#86161a" stroke-width="0.6"/><circle cx="14.9" cy="35.8" r="2.9" fill="none" stroke="#86161a" stroke-width="0.6"/><circle cx="31.3" cy="30.0" r="1.6" fill="none" stroke="#86161a" stroke-width="0.6"/><circle cx="-0.7" cy="30.0" r="1.6" fill="none" stroke="#86161a" stroke-width="0.6"/><circle cx="31.3" cy="-2.0" r="1.6" fill="none" stroke="#86161a" stroke-width="0.6"/><circle cx="26.2" cy="31.0" r="2.2" fill="none" stroke="#86161a" stroke-width="0.6"/><circle cx="26.2" cy="-1.0" r="2.2" fill="none" stroke="#86161a" stroke-width="0.6"/><circle cx="6.7" cy="30.3" r="1.9" fill="none" stroke="#86161a" stroke-width="0.6"/><circle cx="6.7" cy="-1.7" r="1.9" fill="none" stroke="#86161a" stroke-width="0.6"/><circle cx="4.5" cy="16.8" r="2.9" fill="none" stroke="#b02024" stroke-width="0.6"/><circle cx="26.2" cy="16.3" r="2.8" fill="none" stroke="#86161a" stroke-width="0.6"/><circle cx="7.4" cy="28.7" r="2.3" fill="none" stroke="#b02024" stroke-width="0.6"/><circle cx="7.4" cy="-3.3" r="2.3" fill="none" stroke="#b02024" stroke-width="0.6"/><circle cx="0.1" cy="15.7" r="2.2" fill="none" stroke="#86161a" stroke-width="0.6"/><circle cx="32.1" cy="15.7" r="2.2" fill="none" stroke="#86161a" stroke-width="0.6"/><circle cx="4.5" cy="11.0" r="2.0" fill="none" stroke="#86161a" stroke-width="0.6"/><circle cx="0.1" cy="24.0" r="2.8" fill="none" stroke="#b02024" stroke-width="0.6"/><circle cx="32.1" cy="24.0" r="2.8" fill="none" stroke="#b02024" stroke-width="0.6"/><circle cx="29.6" cy="22.8" r="2.9" fill="none" stroke="#86161a" stroke-width="0.6"/><circle cx="-2.4" cy="22.8" r="2.9" fill="none" stroke="#86161a" stroke-width="0.6"/><circle cx="11.9" cy="12.6" r="3.0" fill="none" stroke="#86161a" stroke-width="0.6"/><circle cx="11.5" cy="13.7" r="2.0" fill="none" stroke="#b02024" stroke-width="0.6"/><circle cx="3.3" cy="26.7" r="2.0" fill="none" stroke="#86161a" stroke-width="0.6"/><circle cx="35.3" cy="26.7" r="2.0" fill="none" stroke="#86161a" stroke-width="0.6"/><circle cx="8.0" cy="8.5" r="2.3" fill="none" stroke="#86161a" stroke-width="0.6"/><circle cx="11.9" cy="30.6" r="2.8" fill="none" stroke="#86161a" stroke-width="0.6"/><circle cx="11.9" cy="-1.4" r="2.8" fill="none" stroke="#86161a" stroke-width="0.6"/><circle cx="20.2" cy="29.2" r="2.9" fill="none" stroke="#86161a" stroke-width="0.6"/><circle cx="20.2" cy="-2.8" r="2.9" fill="none" stroke="#86161a" stroke-width="0.6"/><circle cx="23.0" cy="1.6" r="2.6" fill="none" stroke="#86161a" stroke-width="0.6"/><circle cx="23.0" cy="33.6" r="2.6" fill="none" stroke="#86161a" stroke-width="0.6"/><circle cx="24.1" cy="20.6" r="2.0" fill="none" stroke="#b02024" stroke-width="0.6"/><circle cx="29.7" cy="4.1" r="2.3" fill="none" stroke="#86161a" stroke-width="0.6"/><circle cx="-2.3" cy="4.1" r="2.3" fill="none" stroke="#86161a" stroke-width="0.6"/><circle cx="9.5" cy="23.6" r="3.0" fill="none" stroke="#86161a" stroke-width="0.6"/><circle cx="21.0" cy="9.6" r="2.4" fill="none" stroke="#86161a" stroke-width="0.6"/><circle cx="5.4" cy="5.2" r="1.9" fill="none" stroke="#86161a" stroke-width="0.6"/><circle cx="15.9" cy="7.0" r="2.9" fill="none" stroke="#86161a" stroke-width="0.6"/><circle cx="14.4" cy="4.5" r="1.9" fill="none" stroke="#b02024" stroke-width="0.6"/><circle cx="10.9" cy="2.9" r="1.9" fill="none" stroke="#86161a" stroke-width="0.6"/><circle cx="10.9" cy="34.9" r="1.9" fill="none" stroke="#86161a" stroke-width="0.6"/><circle cx="18.2" cy="28.4" r="2.6" fill="none" stroke="#86161a" stroke-width="0.6"/><circle cx="18.2" cy="-3.6" r="2.6" fill="none" stroke="#86161a" stroke-width="0.6"/><circle cx="13.2" cy="16.8" r="2.1" fill="none" stroke="#86161a" stroke-width="0.6"/><circle cx="2.0" cy="8.9" r="3.0" fill="none" stroke="#b02024" stroke-width="0.6"/><circle cx="34.0" cy="8.9" r="3.0" fill="none" stroke="#b02024" stroke-width="0.6"/><circle cx="16.1" cy="20.1" r="2.8" fill="none" stroke="#86161a" stroke-width="0.6"/><circle cx="8.7" cy="8.0" r="2.2" fill="none" stroke="#86161a" stroke-width="0.6"/><circle cx="30.5" cy="27.2" r="2.8" fill="none" stroke="#b02024" stroke-width="0.6"/><circle cx="-1.5" cy="27.2" r="2.8" fill="none" stroke="#b02024" stroke-width="0.6"/></pattern><pattern id="pR1p" width="32" height="32" patternUnits="userSpaceOnUse"><rect width="32" height="32" fill="#1e0405"/><circle cx="1.0" cy="22.7" r="2.9" fill="none" stroke="#82262b" stroke-width="0.6"/><circle cx="33.0" cy="22.7" r="2.9" fill="none" stroke="#82262b" stroke-width="0.6"/><circle cx="18.8" cy="0.0" r="2.1" fill="none" stroke="#82262b" stroke-width="0.6"/><circle cx="18.8" cy="32.0" r="2.1" fill="none" stroke="#82262b" stroke-width="0.6"/><circle cx="26.4" cy="27.4" r="3.0" fill="none" stroke="#82262b" stroke-width="0.6"/><circle cx="3.5" cy="4.9" r="2.3" fill="none" stroke="#82262b" stroke-width="0.6"/><circle cx="35.5" cy="4.9" r="2.3" fill="none" stroke="#82262b" stroke-width="0.6"/><circle cx="30.1" cy="23.1" r="2.5" fill="none" stroke="#82262b" stroke-width="0.6"/><circle cx="-1.9" cy="23.1" r="2.5" fill="none" stroke="#82262b" stroke-width="0.6"/><circle cx="14.6" cy="17.6" r="1.7" fill="none" stroke="#82262b" stroke-width="0.6"/><circle cx="7.4" cy="29.4" r="2.5" fill="none" stroke="#82262b" stroke-width="0.6"/><circle cx="7.4" cy="-2.6" r="2.5" fill="none" stroke="#82262b" stroke-width="0.6"/><circle cx="4.1" cy="8.1" r="2.5" fill="none" stroke="#82262b" stroke-width="0.6"/><circle cx="3.6" cy="2.3" r="2.3" fill="none" stroke="#82262b" stroke-width="0.6"/><circle cx="35.6" cy="2.3" r="2.3" fill="none" stroke="#82262b" stroke-width="0.6"/><circle cx="3.6" cy="34.3" r="2.3" fill="none" stroke="#82262b" stroke-width="0.6"/><circle cx="12.4" cy="7.2" r="2.4" fill="none" stroke="#b0989c" stroke-width="0.6"/><circle cx="9.6" cy="14.7" r="2.9" fill="none" stroke="#82262b" stroke-width="0.6"/><circle cx="28.3" cy="15.2" r="1.9" fill="none" stroke="#82262b" stroke-width="0.6"/><circle cx="-3.7" cy="15.2" r="1.9" fill="none" stroke="#82262b" stroke-width="0.6"/><circle cx="30.7" cy="22.5" r="2.0" fill="none" stroke="#b0989c" stroke-width="0.6"/><circle cx="-1.3" cy="22.5" r="2.0" fill="none" stroke="#b0989c" stroke-width="0.6"/><circle cx="15.9" cy="21.6" r="2.2" fill="none" stroke="#82262b" stroke-width="0.6"/><circle cx="21.4" cy="29.6" r="1.9" fill="none" stroke="#b0989c" stroke-width="0.6"/><circle cx="21.4" cy="-2.4" r="1.9" fill="none" stroke="#b0989c" stroke-width="0.6"/><circle cx="10.8" cy="13.5" r="2.6" fill="none" stroke="#82262b" stroke-width="0.6"/><circle cx="25.5" cy="23.7" r="2.3" fill="none" stroke="#82262b" stroke-width="0.6"/><circle cx="31.0" cy="10.0" r="2.7" fill="none" stroke="#82262b" stroke-width="0.6"/><circle cx="-1.0" cy="10.0" r="2.7" fill="none" stroke="#82262b" stroke-width="0.6"/><circle cx="7.1" cy="24.3" r="2.0" fill="none" stroke="#82262b" stroke-width="0.6"/><circle cx="15.9" cy="6.0" r="1.9" fill="none" stroke="#82262b" stroke-width="0.6"/><circle cx="21.3" cy="30.4" r="1.8" fill="none" stroke="#82262b" stroke-width="0.6"/><circle cx="21.3" cy="-1.6" r="1.8" fill="none" stroke="#82262b" stroke-width="0.6"/><circle cx="6.8" cy="31.2" r="1.8" fill="none" stroke="#b0989c" stroke-width="0.6"/><circle cx="6.8" cy="-0.8" r="1.8" fill="none" stroke="#b0989c" stroke-width="0.6"/><circle cx="1.9" cy="12.6" r="2.9" fill="none" stroke="#82262b" stroke-width="0.6"/><circle cx="33.9" cy="12.6" r="2.9" fill="none" stroke="#82262b" stroke-width="0.6"/><circle cx="23.4" cy="31.9" r="2.9" fill="none" stroke="#82262b" stroke-width="0.6"/><circle cx="23.4" cy="-0.1" r="2.9" fill="none" stroke="#82262b" stroke-width="0.6"/><circle cx="5.9" cy="29.9" r="2.6" fill="none" stroke="#b0989c" stroke-width="0.6"/><circle cx="5.9" cy="-2.1" r="2.6" fill="none" stroke="#b0989c" stroke-width="0.6"/><circle cx="21.3" cy="12.1" r="2.1" fill="none" stroke="#82262b" stroke-width="0.6"/><circle cx="5.4" cy="0.1" r="2.0" fill="none" stroke="#82262b" stroke-width="0.6"/><circle cx="5.4" cy="32.1" r="2.0" fill="none" stroke="#82262b" stroke-width="0.6"/><circle cx="30.6" cy="4.0" r="2.9" fill="none" stroke="#82262b" stroke-width="0.6"/><circle cx="-1.4" cy="4.0" r="2.9" fill="none" stroke="#82262b" stroke-width="0.6"/><circle cx="30.6" cy="36.0" r="2.9" fill="none" stroke="#82262b" stroke-width="0.6"/><circle cx="11.4" cy="26.3" r="2.8" fill="none" stroke="#82262b" stroke-width="0.6"/><circle cx="1.6" cy="15.2" r="2.1" fill="none" stroke="#82262b" stroke-width="0.6"/><circle cx="33.6" cy="15.2" r="2.1" fill="none" stroke="#82262b" stroke-width="0.6"/><circle cx="6.2" cy="11.7" r="2.9" fill="none" stroke="#b0989c" stroke-width="0.6"/><circle cx="13.1" cy="26.0" r="2.7" fill="none" stroke="#b0989c" stroke-width="0.6"/><circle cx="1.1" cy="2.0" r="2.9" fill="none" stroke="#82262b" stroke-width="0.6"/><circle cx="33.1" cy="2.0" r="2.9" fill="none" stroke="#82262b" stroke-width="0.6"/><circle cx="1.1" cy="34.0" r="2.9" fill="none" stroke="#82262b" stroke-width="0.6"/><circle cx="23.9" cy="28.8" r="2.1" fill="none" stroke="#82262b" stroke-width="0.6"/><circle cx="23.9" cy="-3.2" r="2.1" fill="none" stroke="#82262b" stroke-width="0.6"/><circle cx="30.6" cy="19.7" r="2.0" fill="none" stroke="#82262b" stroke-width="0.6"/><circle cx="-1.4" cy="19.7" r="2.0" fill="none" stroke="#82262b" stroke-width="0.6"/><circle cx="10.1" cy="8.8" r="1.6" fill="none" stroke="#82262b" stroke-width="0.6"/><circle cx="29.3" cy="20.3" r="2.9" fill="none" stroke="#b0989c" stroke-width="0.6"/><circle cx="-2.7" cy="20.3" r="2.9" fill="none" stroke="#b0989c" stroke-width="0.6"/><circle cx="7.5" cy="15.2" r="2.9" fill="none" stroke="#82262b" stroke-width="0.6"/><circle cx="12.4" cy="8.0" r="2.2" fill="none" stroke="#82262b" stroke-width="0.6"/><circle cx="29.7" cy="5.9" r="2.7" fill="none" stroke="#82262b" stroke-width="0.6"/><circle cx="-2.3" cy="5.9" r="2.7" fill="none" stroke="#82262b" stroke-width="0.6"/><circle cx="26.3" cy="24.7" r="2.5" fill="none" stroke="#82262b" stroke-width="0.6"/><circle cx="10.2" cy="11.6" r="2.7" fill="none" stroke="#b0989c" stroke-width="0.6"/><circle cx="6.3" cy="24.1" r="1.9" fill="none" stroke="#b0989c" stroke-width="0.6"/><circle cx="1.1" cy="17.7" r="2.1" fill="none" stroke="#82262b" stroke-width="0.6"/><circle cx="33.1" cy="17.7" r="2.1" fill="none" stroke="#82262b" stroke-width="0.6"/><circle cx="28.3" cy="31.6" r="2.0" fill="none" stroke="#b0989c" stroke-width="0.6"/><circle cx="-3.7" cy="31.6" r="2.0" fill="none" stroke="#b0989c" stroke-width="0.6"/><circle cx="28.3" cy="-0.4" r="2.0" fill="none" stroke="#b0989c" stroke-width="0.6"/><circle cx="3.1" cy="16.0" r="2.6" fill="none" stroke="#82262b" stroke-width="0.6"/><circle cx="35.1" cy="16.0" r="2.6" fill="none" stroke="#82262b" stroke-width="0.6"/><circle cx="7.5" cy="13.3" r="2.5" fill="none" stroke="#82262b" stroke-width="0.6"/><circle cx="23.9" cy="27.1" r="2.5" fill="none" stroke="#b0989c" stroke-width="0.6"/><circle cx="26.9" cy="9.4" r="2.4" fill="none" stroke="#82262b" stroke-width="0.6"/><circle cx="23.6" cy="6.4" r="1.9" fill="none" stroke="#82262b" stroke-width="0.6"/><circle cx="4.9" cy="28.3" r="2.4" fill="none" stroke="#82262b" stroke-width="0.6"/><circle cx="4.9" cy="-3.7" r="2.4" fill="none" stroke="#82262b" stroke-width="0.6"/><circle cx="12.7" cy="31.8" r="2.3" fill="none" stroke="#82262b" stroke-width="0.6"/><circle cx="12.7" cy="-0.2" r="2.3" fill="none" stroke="#82262b" stroke-width="0.6"/><circle cx="25.9" cy="20.9" r="3.0" fill="none" stroke="#b0989c" stroke-width="0.6"/><circle cx="15.2" cy="26.2" r="2.8" fill="none" stroke="#82262b" stroke-width="0.6"/><circle cx="1.3" cy="9.4" r="1.8" fill="none" stroke="#82262b" stroke-width="0.6"/><circle cx="33.3" cy="9.4" r="1.8" fill="none" stroke="#82262b" stroke-width="0.6"/><circle cx="31.1" cy="18.7" r="2.9" fill="none" stroke="#82262b" stroke-width="0.6"/><circle cx="-0.9" cy="18.7" r="2.9" fill="none" stroke="#82262b" stroke-width="0.6"/><circle cx="27.7" cy="14.4" r="2.0" fill="none" stroke="#82262b" stroke-width="0.6"/><circle cx="30.3" cy="3.4" r="2.4" fill="none" stroke="#82262b" stroke-width="0.6"/><circle cx="-1.7" cy="3.4" r="2.4" fill="none" stroke="#82262b" stroke-width="0.6"/><circle cx="30.3" cy="35.4" r="2.4" fill="none" stroke="#82262b" stroke-width="0.6"/><circle cx="7.0" cy="11.8" r="1.8" fill="none" stroke="#82262b" stroke-width="0.6"/><circle cx="8.2" cy="19.2" r="2.5" fill="none" stroke="#82262b" stroke-width="0.6"/></pattern><pattern id="pR2" width="30" height="30" patternUnits="userSpaceOnUse"><rect width="30" height="30" fill="#3a0708"/><ellipse cx="0.3" cy="9.8" rx="1.1" ry="0.7" fill="#1a0303" opacity="0.9"/><ellipse cx="30.3" cy="9.8" rx="1.1" ry="0.7" fill="#1a0303" opacity="0.9"/><ellipse cx="2.3" cy="0.9" rx="1.0" ry="1.0" fill="#4a0b0d" opacity="0.9"/><ellipse cx="32.3" cy="0.9" rx="1.0" ry="1.0" fill="#4a0b0d" opacity="0.9"/><ellipse cx="2.3" cy="30.9" rx="1.0" ry="1.0" fill="#4a0b0d" opacity="0.9"/><ellipse cx="3.0" cy="11.9" rx="1.0" ry="1.1" fill="#6c1013" opacity="0.9"/><ellipse cx="33.0" cy="11.9" rx="1.0" ry="1.1" fill="#6c1013" opacity="0.9"/><ellipse cx="19.6" cy="11.9" rx="0.8" ry="1.4" fill="#a01a1e" opacity="0.9"/><ellipse cx="9.2" cy="28.6" rx="0.8" ry="1.1" fill="#1a0303" opacity="0.9"/><ellipse cx="9.2" cy="-1.4" rx="0.8" ry="1.1" fill="#1a0303" opacity="0.9"/><ellipse cx="12.4" cy="0.5" rx="1.2" ry="1.2" fill="#a01a1e" opacity="0.9"/><ellipse cx="12.4" cy="30.5" rx="1.2" ry="1.2" fill="#a01a1e" opacity="0.9"/><ellipse cx="5.9" cy="21.8" rx="0.8" ry="0.6" fill="#8e171a" opacity="0.9"/><ellipse cx="12.7" cy="24.6" rx="0.9" ry="1.3" fill="#4a0b0d" opacity="0.9"/><ellipse cx="23.2" cy="3.9" rx="0.6" ry="0.7" fill="#4a0b0d" opacity="0.9"/><ellipse cx="23.2" cy="33.9" rx="0.6" ry="0.7" fill="#4a0b0d" opacity="0.9"/><ellipse cx="2.7" cy="18.7" rx="0.9" ry="1.0" fill="#8e171a" opacity="0.9"/><ellipse cx="32.7" cy="18.7" rx="0.9" ry="1.0" fill="#8e171a" opacity="0.9"/><ellipse cx="10.4" cy="4.9" rx="0.7" ry="0.7" fill="#4a0b0d" opacity="0.9"/><ellipse cx="14.7" cy="24.1" rx="1.4" ry="0.8" fill="#8e171a" opacity="0.9"/><ellipse cx="25.1" cy="1.3" rx="1.3" ry="0.9" fill="#0e0202" opacity="0.9"/><ellipse cx="25.1" cy="31.3" rx="1.3" ry="0.9" fill="#0e0202" opacity="0.9"/><ellipse cx="27.8" cy="11.6" rx="1.3" ry="1.1" fill="#8e171a" opacity="0.9"/><ellipse cx="-2.2" cy="11.6" rx="1.3" ry="1.1" fill="#8e171a" opacity="0.9"/><ellipse cx="19.2" cy="25.7" rx="1.1" ry="1.1" fill="#8e171a" opacity="0.9"/><ellipse cx="24.9" cy="5.5" rx="0.8" ry="0.9" fill="#0e0202" opacity="0.9"/><ellipse cx="4.7" cy="10.8" rx="0.7" ry="1.4" fill="#8e171a" opacity="0.9"/><ellipse cx="1.2" cy="16.9" rx="1.2" ry="0.6" fill="#1a0303" opacity="0.9"/><ellipse cx="31.2" cy="16.9" rx="1.2" ry="0.6" fill="#1a0303" opacity="0.9"/><ellipse cx="3.5" cy="18.0" rx="1.0" ry="1.1" fill="#1a0303" opacity="0.9"/><ellipse cx="33.5" cy="18.0" rx="1.0" ry="1.1" fill="#1a0303" opacity="0.9"/><ellipse cx="19.5" cy="9.2" rx="0.8" ry="0.9" fill="#1a0303" opacity="0.9"/><ellipse cx="13.4" cy="13.2" rx="0.6" ry="1.1" fill="#4a0b0d" opacity="0.9"/><ellipse cx="14.0" cy="13.4" rx="1.1" ry="1.3" fill="#8e171a" opacity="0.9"/><ellipse cx="24.3" cy="12.0" rx="0.7" ry="0.9" fill="#1a0303" opacity="0.9"/><ellipse cx="2.8" cy="13.3" rx="1.0" ry="0.6" fill="#a01a1e" opacity="0.9"/><ellipse cx="32.8" cy="13.3" rx="1.0" ry="0.6" fill="#a01a1e" opacity="0.9"/><ellipse cx="3.9" cy="27.7" rx="0.9" ry="1.2" fill="#6c1013" opacity="0.9"/><ellipse cx="33.9" cy="27.7" rx="0.9" ry="1.2" fill="#6c1013" opacity="0.9"/><ellipse cx="3.9" cy="-2.3" rx="0.9" ry="1.2" fill="#6c1013" opacity="0.9"/><ellipse cx="1.6" cy="15.1" rx="0.9" ry="1.4" fill="#8e171a" opacity="0.9"/><ellipse cx="31.6" cy="15.1" rx="0.9" ry="1.4" fill="#8e171a" opacity="0.9"/><ellipse cx="0.8" cy="2.0" rx="1.1" ry="1.2" fill="#6c1013" opacity="0.9"/><ellipse cx="30.8" cy="2.0" rx="1.1" ry="1.2" fill="#6c1013" opacity="0.9"/><ellipse cx="0.8" cy="32.0" rx="1.1" ry="1.2" fill="#6c1013" opacity="0.9"/><ellipse cx="5.8" cy="29.5" rx="1.0" ry="1.4" fill="#8e171a" opacity="0.9"/><ellipse cx="5.8" cy="-0.5" rx="1.0" ry="1.4" fill="#8e171a" opacity="0.9"/><ellipse cx="20.6" cy="21.6" rx="0.8" ry="1.3" fill="#0e0202" opacity="0.9"/><ellipse cx="22.7" cy="4.8" rx="1.3" ry="0.8" fill="#4a0b0d" opacity="0.9"/><ellipse cx="4.3" cy="15.1" rx="1.3" ry="0.8" fill="#1a0303" opacity="0.9"/><ellipse cx="18.5" cy="7.1" rx="0.9" ry="0.8" fill="#4a0b0d" opacity="0.9"/><ellipse cx="4.8" cy="28.1" rx="1.1" ry="1.3" fill="#8e171a" opacity="0.9"/><ellipse cx="4.8" cy="-1.9" rx="1.1" ry="1.3" fill="#8e171a" opacity="0.9"/><ellipse cx="23.8" cy="7.9" rx="1.2" ry="0.6" fill="#1a0303" opacity="0.9"/><ellipse cx="29.0" cy="13.6" rx="1.0" ry="1.2" fill="#6c1013" opacity="0.9"/><ellipse cx="-1.0" cy="13.6" rx="1.0" ry="1.2" fill="#6c1013" opacity="0.9"/><ellipse cx="7.6" cy="16.1" rx="1.3" ry="1.2" fill="#1a0303" opacity="0.9"/><ellipse cx="7.9" cy="29.7" rx="1.1" ry="0.9" fill="#6c1013" opacity="0.9"/><ellipse cx="7.9" cy="-0.3" rx="1.1" ry="0.9" fill="#6c1013" opacity="0.9"/><ellipse cx="13.3" cy="5.3" rx="1.2" ry="0.6" fill="#0e0202" opacity="0.9"/><ellipse cx="7.6" cy="19.2" rx="1.4" ry="1.1" fill="#a01a1e" opacity="0.9"/><ellipse cx="26.9" cy="22.0" rx="1.2" ry="0.8" fill="#1a0303" opacity="0.9"/><ellipse cx="-3.1" cy="22.0" rx="1.2" ry="0.8" fill="#1a0303" opacity="0.9"/><ellipse cx="18.5" cy="13.0" rx="1.0" ry="1.3" fill="#8e171a" opacity="0.9"/><ellipse cx="14.7" cy="18.4" rx="0.6" ry="0.6" fill="#0e0202" opacity="0.9"/><ellipse cx="10.6" cy="3.2" rx="0.9" ry="0.8" fill="#0e0202" opacity="0.9"/><ellipse cx="10.6" cy="33.2" rx="0.9" ry="0.8" fill="#0e0202" opacity="0.9"/><ellipse cx="9.0" cy="4.0" rx="0.9" ry="1.3" fill="#8e171a" opacity="0.9"/><ellipse cx="4.0" cy="28.1" rx="0.8" ry="0.7" fill="#6c1013" opacity="0.9"/><ellipse cx="4.0" cy="-1.9" rx="0.8" ry="0.7" fill="#6c1013" opacity="0.9"/><ellipse cx="1.9" cy="4.3" rx="1.1" ry="0.8" fill="#1a0303" opacity="0.9"/><ellipse cx="31.9" cy="4.3" rx="1.1" ry="0.8" fill="#1a0303" opacity="0.9"/><ellipse cx="29.0" cy="1.7" rx="1.3" ry="1.3" fill="#0e0202" opacity="0.9"/><ellipse cx="-1.0" cy="1.7" rx="1.3" ry="1.3" fill="#0e0202" opacity="0.9"/><ellipse cx="29.0" cy="31.7" rx="1.3" ry="1.3" fill="#0e0202" opacity="0.9"/><ellipse cx="19.4" cy="13.3" rx="1.3" ry="1.2" fill="#8e171a" opacity="0.9"/><ellipse cx="5.0" cy="0.0" rx="0.6" ry="0.6" fill="#8e171a" opacity="0.9"/><ellipse cx="5.0" cy="30.0" rx="0.6" ry="0.6" fill="#8e171a" opacity="0.9"/><ellipse cx="7.1" cy="1.8" rx="1.2" ry="0.6" fill="#0e0202" opacity="0.9"/><ellipse cx="7.1" cy="31.8" rx="1.2" ry="0.6" fill="#0e0202" opacity="0.9"/><ellipse cx="19.7" cy="5.9" rx="0.9" ry="1.0" fill="#a01a1e" opacity="0.9"/><ellipse cx="15.2" cy="19.2" rx="1.3" ry="0.7" fill="#1a0303" opacity="0.9"/><ellipse cx="1.9" cy="18.8" rx="1.4" ry="1.2" fill="#4a0b0d" opacity="0.9"/><ellipse cx="31.9" cy="18.8" rx="1.4" ry="1.2" fill="#4a0b0d" opacity="0.9"/><ellipse cx="21.5" cy="0.2" rx="1.3" ry="1.2" fill="#4a0b0d" opacity="0.9"/><ellipse cx="21.5" cy="30.2" rx="1.3" ry="1.2" fill="#4a0b0d" opacity="0.9"/><ellipse cx="2.4" cy="19.7" rx="0.7" ry="1.4" fill="#1a0303" opacity="0.9"/><ellipse cx="32.4" cy="19.7" rx="0.7" ry="1.4" fill="#1a0303" opacity="0.9"/><ellipse cx="7.0" cy="1.2" rx="0.9" ry="1.2" fill="#a01a1e" opacity="0.9"/><ellipse cx="7.0" cy="31.2" rx="0.9" ry="1.2" fill="#a01a1e" opacity="0.9"/><ellipse cx="28.3" cy="7.9" rx="0.6" ry="1.1" fill="#a01a1e" opacity="0.9"/><ellipse cx="-1.7" cy="7.9" rx="0.6" ry="1.1" fill="#a01a1e" opacity="0.9"/><ellipse cx="13.1" cy="23.7" rx="1.0" ry="0.8" fill="#a01a1e" opacity="0.9"/><ellipse cx="27.9" cy="26.8" rx="0.7" ry="1.0" fill="#8e171a" opacity="0.9"/><ellipse cx="-2.1" cy="26.8" rx="0.7" ry="1.0" fill="#8e171a" opacity="0.9"/><ellipse cx="27.9" cy="-3.2" rx="0.7" ry="1.0" fill="#8e171a" opacity="0.9"/><ellipse cx="7.8" cy="7.1" rx="1.2" ry="1.4" fill="#a01a1e" opacity="0.9"/><ellipse cx="27.4" cy="5.8" rx="0.9" ry="1.1" fill="#4a0b0d" opacity="0.9"/><ellipse cx="-2.6" cy="5.8" rx="0.9" ry="1.1" fill="#4a0b0d" opacity="0.9"/><ellipse cx="27.2" cy="18.9" rx="1.2" ry="1.1" fill="#0e0202" opacity="0.9"/><ellipse cx="-2.8" cy="18.9" rx="1.2" ry="1.1" fill="#0e0202" opacity="0.9"/><ellipse cx="14.1" cy="25.2" rx="1.2" ry="1.3" fill="#4a0b0d" opacity="0.9"/><ellipse cx="28.7" cy="7.0" rx="1.3" ry="1.2" fill="#4a0b0d" opacity="0.9"/><ellipse cx="-1.3" cy="7.0" rx="1.3" ry="1.2" fill="#4a0b0d" opacity="0.9"/><ellipse cx="18.7" cy="2.3" rx="1.3" ry="0.7" fill="#6c1013" opacity="0.9"/><ellipse cx="18.7" cy="32.3" rx="1.3" ry="0.7" fill="#6c1013" opacity="0.9"/><ellipse cx="3.4" cy="18.7" rx="0.7" ry="1.4" fill="#a01a1e" opacity="0.9"/><ellipse cx="33.4" cy="18.7" rx="0.7" ry="1.4" fill="#a01a1e" opacity="0.9"/><ellipse cx="0.9" cy="1.2" rx="1.2" ry="1.1" fill="#a01a1e" opacity="0.9"/><ellipse cx="30.9" cy="1.2" rx="1.2" ry="1.1" fill="#a01a1e" opacity="0.9"/><ellipse cx="0.9" cy="31.2" rx="1.2" ry="1.1" fill="#a01a1e" opacity="0.9"/><ellipse cx="2.0" cy="1.4" rx="1.3" ry="1.2" fill="#8e171a" opacity="0.9"/><ellipse cx="32.0" cy="1.4" rx="1.3" ry="1.2" fill="#8e171a" opacity="0.9"/><ellipse cx="2.0" cy="31.4" rx="1.3" ry="1.2" fill="#8e171a" opacity="0.9"/><ellipse cx="24.5" cy="24.6" rx="1.3" ry="0.7" fill="#a01a1e" opacity="0.9"/><ellipse cx="28.3" cy="3.2" rx="0.8" ry="0.7" fill="#6c1013" opacity="0.9"/><ellipse cx="-1.7" cy="3.2" rx="0.8" ry="0.7" fill="#6c1013" opacity="0.9"/><ellipse cx="28.3" cy="33.2" rx="0.8" ry="0.7" fill="#6c1013" opacity="0.9"/><ellipse cx="28.5" cy="27.3" rx="1.2" ry="0.7" fill="#a01a1e" opacity="0.9"/><ellipse cx="-1.5" cy="27.3" rx="1.2" ry="0.7" fill="#a01a1e" opacity="0.9"/><ellipse cx="28.5" cy="-2.7" rx="1.2" ry="0.7" fill="#a01a1e" opacity="0.9"/><ellipse cx="19.0" cy="14.3" rx="0.7" ry="1.2" fill="#a01a1e" opacity="0.9"/><ellipse cx="6.1" cy="9.6" rx="0.9" ry="0.6" fill="#1a0303" opacity="0.9"/><ellipse cx="27.9" cy="1.5" rx="1.2" ry="1.3" fill="#0e0202" opacity="0.9"/><ellipse cx="-2.1" cy="1.5" rx="1.2" ry="1.3" fill="#0e0202" opacity="0.9"/><ellipse cx="27.9" cy="31.5" rx="1.2" ry="1.3" fill="#0e0202" opacity="0.9"/><ellipse cx="15.1" cy="25.5" rx="1.1" ry="0.6" fill="#4a0b0d" opacity="0.9"/><ellipse cx="0.9" cy="15.6" rx="0.7" ry="1.0" fill="#6c1013" opacity="0.9"/><ellipse cx="30.9" cy="15.6" rx="0.7" ry="1.0" fill="#6c1013" opacity="0.9"/><ellipse cx="16.1" cy="6.5" rx="1.3" ry="0.7" fill="#1a0303" opacity="0.9"/><ellipse cx="5.1" cy="0.0" rx="0.8" ry="1.2" fill="#6c1013" opacity="0.9"/><ellipse cx="5.1" cy="30.0" rx="0.8" ry="1.2" fill="#6c1013" opacity="0.9"/><ellipse cx="0.1" cy="14.7" rx="1.0" ry="1.2" fill="#8e171a" opacity="0.9"/><ellipse cx="30.1" cy="14.7" rx="1.0" ry="1.2" fill="#8e171a" opacity="0.9"/><ellipse cx="29.0" cy="17.8" rx="1.4" ry="1.0" fill="#0e0202" opacity="0.9"/><ellipse cx="-1.0" cy="17.8" rx="1.4" ry="1.0" fill="#0e0202" opacity="0.9"/><ellipse cx="28.3" cy="8.5" rx="0.8" ry="1.2" fill="#4a0b0d" opacity="0.9"/><ellipse cx="-1.7" cy="8.5" rx="0.8" ry="1.2" fill="#4a0b0d" opacity="0.9"/><ellipse cx="5.0" cy="28.2" rx="1.2" ry="1.0" fill="#a01a1e" opacity="0.9"/><ellipse cx="5.0" cy="-1.8" rx="1.2" ry="1.0" fill="#a01a1e" opacity="0.9"/><ellipse cx="16.8" cy="3.1" rx="0.9" ry="0.7" fill="#4a0b0d" opacity="0.9"/><ellipse cx="16.8" cy="33.1" rx="0.9" ry="0.7" fill="#4a0b0d" opacity="0.9"/><ellipse cx="26.8" cy="22.4" rx="0.9" ry="1.1" fill="#1a0303" opacity="0.9"/><ellipse cx="-3.2" cy="22.4" rx="0.9" ry="1.1" fill="#1a0303" opacity="0.9"/><ellipse cx="6.2" cy="7.9" rx="1.3" ry="1.0" fill="#4a0b0d" opacity="0.9"/><ellipse cx="29.5" cy="18.9" rx="1.4" ry="0.7" fill="#0e0202" opacity="0.9"/><ellipse cx="-0.5" cy="18.9" rx="1.4" ry="0.7" fill="#0e0202" opacity="0.9"/><ellipse cx="22.6" cy="22.6" rx="1.1" ry="0.9" fill="#1a0303" opacity="0.9"/><ellipse cx="15.7" cy="26.0" rx="1.0" ry="1.0" fill="#1a0303" opacity="0.9"/><ellipse cx="15.7" cy="-4.0" rx="1.0" ry="1.0" fill="#1a0303" opacity="0.9"/><ellipse cx="5.1" cy="13.2" rx="1.2" ry="1.1" fill="#8e171a" opacity="0.9"/><ellipse cx="10.0" cy="19.3" rx="1.2" ry="1.0" fill="#1a0303" opacity="0.9"/><ellipse cx="9.0" cy="21.1" rx="1.3" ry="0.7" fill="#8e171a" opacity="0.9"/><ellipse cx="29.2" cy="21.7" rx="1.1" ry="0.9" fill="#8e171a" opacity="0.9"/><ellipse cx="-0.8" cy="21.7" rx="1.1" ry="0.9" fill="#8e171a" opacity="0.9"/><ellipse cx="9.8" cy="5.7" rx="1.4" ry="1.2" fill="#6c1013" opacity="0.9"/><ellipse cx="4.9" cy="19.7" rx="0.8" ry="0.7" fill="#8e171a" opacity="0.9"/><ellipse cx="23.8" cy="22.0" rx="0.9" ry="0.8" fill="#a01a1e" opacity="0.9"/><ellipse cx="27.3" cy="8.4" rx="1.3" ry="1.0" fill="#6c1013" opacity="0.9"/><ellipse cx="-2.7" cy="8.4" rx="1.3" ry="1.0" fill="#6c1013" opacity="0.9"/><ellipse cx="12.0" cy="23.7" rx="1.2" ry="1.0" fill="#a01a1e" opacity="0.9"/><ellipse cx="8.9" cy="0.7" rx="0.8" ry="1.2" fill="#6c1013" opacity="0.9"/><ellipse cx="8.9" cy="30.7" rx="0.8" ry="1.2" fill="#6c1013" opacity="0.9"/><ellipse cx="22.2" cy="27.2" rx="0.9" ry="1.1" fill="#a01a1e" opacity="0.9"/><ellipse cx="22.2" cy="-2.8" rx="0.9" ry="1.1" fill="#a01a1e" opacity="0.9"/><ellipse cx="19.4" cy="25.4" rx="1.1" ry="1.1" fill="#a01a1e" opacity="0.9"/><ellipse cx="21.0" cy="25.6" rx="1.1" ry="1.1" fill="#4a0b0d" opacity="0.9"/><ellipse cx="13.0" cy="7.8" rx="1.2" ry="1.3" fill="#8e171a" opacity="0.9"/><ellipse cx="23.5" cy="21.4" rx="1.1" ry="0.8" fill="#4a0b0d" opacity="0.9"/><ellipse cx="14.5" cy="0.6" rx="1.3" ry="1.0" fill="#a01a1e" opacity="0.9"/><ellipse cx="14.5" cy="30.6" rx="1.3" ry="1.0" fill="#a01a1e" opacity="0.9"/><ellipse cx="27.9" cy="5.5" rx="1.1" ry="1.2" fill="#4a0b0d" opacity="0.9"/><ellipse cx="-2.1" cy="5.5" rx="1.1" ry="1.2" fill="#4a0b0d" opacity="0.9"/><ellipse cx="25.0" cy="27.2" rx="0.7" ry="0.8" fill="#8e171a" opacity="0.9"/><ellipse cx="25.0" cy="-2.8" rx="0.7" ry="0.8" fill="#8e171a" opacity="0.9"/><ellipse cx="4.8" cy="23.5" rx="1.4" ry="1.0" fill="#6c1013" opacity="0.9"/><ellipse cx="25.4" cy="13.7" rx="0.8" ry="1.0" fill="#6c1013" opacity="0.9"/><ellipse cx="19.2" cy="24.9" rx="1.0" ry="0.9" fill="#4a0b0d" opacity="0.9"/><ellipse cx="6.3" cy="20.5" rx="0.9" ry="1.2" fill="#6c1013" opacity="0.9"/><ellipse cx="21.9" cy="18.4" rx="1.1" ry="0.8" fill="#4a0b0d" opacity="0.9"/><ellipse cx="12.0" cy="0.4" rx="0.9" ry="0.9" fill="#a01a1e" opacity="0.9"/><ellipse cx="12.0" cy="30.4" rx="0.9" ry="0.9" fill="#a01a1e" opacity="0.9"/><ellipse cx="20.2" cy="17.4" rx="0.7" ry="0.8" fill="#4a0b0d" opacity="0.9"/><ellipse cx="28.2" cy="15.8" rx="0.8" ry="1.2" fill="#4a0b0d" opacity="0.9"/><ellipse cx="-1.8" cy="15.8" rx="0.8" ry="1.2" fill="#4a0b0d" opacity="0.9"/><ellipse cx="13.9" cy="4.9" rx="1.3" ry="0.7" fill="#a01a1e" opacity="0.9"/><ellipse cx="5.8" cy="19.3" rx="1.2" ry="1.3" fill="#8e171a" opacity="0.9"/><ellipse cx="10.6" cy="19.2" rx="1.3" ry="1.3" fill="#4a0b0d" opacity="0.9"/><ellipse cx="29.9" cy="22.8" rx="1.1" ry="1.2" fill="#4a0b0d" opacity="0.9"/><ellipse cx="-0.1" cy="22.8" rx="1.1" ry="1.2" fill="#4a0b0d" opacity="0.9"/><ellipse cx="10.6" cy="25.5" rx="0.8" ry="0.9" fill="#1a0303" opacity="0.9"/><ellipse cx="29.5" cy="20.4" rx="1.0" ry="1.2" fill="#1a0303" opacity="0.9"/><ellipse cx="-0.5" cy="20.4" rx="1.0" ry="1.2" fill="#1a0303" opacity="0.9"/><ellipse cx="10.7" cy="19.6" rx="0.9" ry="1.0" fill="#0e0202" opacity="0.9"/><ellipse cx="19.1" cy="19.8" rx="0.9" ry="1.3" fill="#4a0b0d" opacity="0.9"/><ellipse cx="1.7" cy="24.8" rx="1.3" ry="1.2" fill="#8e171a" opacity="0.9"/><ellipse cx="31.7" cy="24.8" rx="1.3" ry="1.2" fill="#8e171a" opacity="0.9"/><ellipse cx="15.9" cy="10.4" rx="1.1" ry="1.1" fill="#8e171a" opacity="0.9"/><ellipse cx="28.6" cy="19.7" rx="0.8" ry="0.7" fill="#8e171a" opacity="0.9"/><ellipse cx="-1.4" cy="19.7" rx="0.8" ry="0.7" fill="#8e171a" opacity="0.9"/><ellipse cx="25.6" cy="5.6" rx="1.0" ry="1.2" fill="#8e171a" opacity="0.9"/><ellipse cx="27.1" cy="23.8" rx="0.7" ry="1.3" fill="#0e0202" opacity="0.9"/><ellipse cx="-2.9" cy="23.8" rx="0.7" ry="1.3" fill="#0e0202" opacity="0.9"/><ellipse cx="29.3" cy="2.7" rx="1.3" ry="1.0" fill="#a01a1e" opacity="0.9"/><ellipse cx="-0.7" cy="2.7" rx="1.3" ry="1.0" fill="#a01a1e" opacity="0.9"/><ellipse cx="29.3" cy="32.7" rx="1.3" ry="1.0" fill="#a01a1e" opacity="0.9"/><ellipse cx="25.2" cy="5.9" rx="1.2" ry="1.0" fill="#a01a1e" opacity="0.9"/><ellipse cx="25.2" cy="20.1" rx="0.7" ry="0.7" fill="#4a0b0d" opacity="0.9"/><ellipse cx="7.0" cy="4.2" rx="1.0" ry="0.6" fill="#4a0b0d" opacity="0.9"/><ellipse cx="27.2" cy="21.0" rx="0.8" ry="0.7" fill="#0e0202" opacity="0.9"/><ellipse cx="-2.8" cy="21.0" rx="0.8" ry="0.7" fill="#0e0202" opacity="0.9"/><ellipse cx="25.9" cy="0.2" rx="1.3" ry="1.0" fill="#0e0202" opacity="0.9"/><ellipse cx="25.9" cy="30.2" rx="1.3" ry="1.0" fill="#0e0202" opacity="0.9"/><ellipse cx="14.9" cy="8.9" rx="1.0" ry="0.9" fill="#a01a1e" opacity="0.9"/><ellipse cx="2.3" cy="19.1" rx="1.1" ry="0.6" fill="#0e0202" opacity="0.9"/><ellipse cx="32.3" cy="19.1" rx="1.1" ry="0.6" fill="#0e0202" opacity="0.9"/><ellipse cx="1.4" cy="22.1" rx="1.4" ry="1.2" fill="#6c1013" opacity="0.9"/><ellipse cx="31.4" cy="22.1" rx="1.4" ry="1.2" fill="#6c1013" opacity="0.9"/><ellipse cx="15.3" cy="14.5" rx="1.3" ry="0.6" fill="#a01a1e" opacity="0.9"/><ellipse cx="12.5" cy="3.8" rx="0.7" ry="1.1" fill="#1a0303" opacity="0.9"/><ellipse cx="12.5" cy="33.8" rx="0.7" ry="1.1" fill="#1a0303" opacity="0.9"/><ellipse cx="14.2" cy="15.8" rx="1.2" ry="0.8" fill="#4a0b0d" opacity="0.9"/><ellipse cx="10.3" cy="7.5" rx="0.6" ry="0.8" fill="#1a0303" opacity="0.9"/><ellipse cx="24.8" cy="12.1" rx="1.0" ry="0.8" fill="#0e0202" opacity="0.9"/><ellipse cx="10.3" cy="6.1" rx="1.0" ry="0.7" fill="#8e171a" opacity="0.9"/><ellipse cx="9.5" cy="9.0" rx="1.1" ry="1.1" fill="#6c1013" opacity="0.9"/><ellipse cx="12.0" cy="16.6" rx="0.9" ry="1.1" fill="#4a0b0d" opacity="0.9"/><ellipse cx="9.0" cy="0.2" rx="0.8" ry="1.3" fill="#0e0202" opacity="0.9"/><ellipse cx="9.0" cy="30.2" rx="0.8" ry="1.3" fill="#0e0202" opacity="0.9"/><ellipse cx="23.0" cy="1.8" rx="1.0" ry="1.0" fill="#4a0b0d" opacity="0.9"/><ellipse cx="23.0" cy="31.8" rx="1.0" ry="1.0" fill="#4a0b0d" opacity="0.9"/><ellipse cx="18.5" cy="18.8" rx="1.2" ry="1.1" fill="#a01a1e" opacity="0.9"/><ellipse cx="2.5" cy="1.2" rx="1.1" ry="1.1" fill="#8e171a" opacity="0.9"/><ellipse cx="32.5" cy="1.2" rx="1.1" ry="1.1" fill="#8e171a" opacity="0.9"/><ellipse cx="2.5" cy="31.2" rx="1.1" ry="1.1" fill="#8e171a" opacity="0.9"/><ellipse cx="3.0" cy="5.4" rx="0.6" ry="1.2" fill="#a01a1e" opacity="0.9"/><ellipse cx="33.0" cy="5.4" rx="0.6" ry="1.2" fill="#a01a1e" opacity="0.9"/><ellipse cx="0.4" cy="26.2" rx="0.7" ry="0.8" fill="#a01a1e" opacity="0.9"/><ellipse cx="30.4" cy="26.2" rx="0.7" ry="0.8" fill="#a01a1e" opacity="0.9"/><ellipse cx="0.4" cy="-3.8" rx="0.7" ry="0.8" fill="#a01a1e" opacity="0.9"/><ellipse cx="7.7" cy="9.1" rx="0.9" ry="0.9" fill="#4a0b0d" opacity="0.9"/><ellipse cx="17.0" cy="17.3" rx="1.3" ry="1.0" fill="#0e0202" opacity="0.9"/><ellipse cx="1.2" cy="3.6" rx="1.2" ry="1.1" fill="#4a0b0d" opacity="0.9"/><ellipse cx="31.2" cy="3.6" rx="1.2" ry="1.1" fill="#4a0b0d" opacity="0.9"/><ellipse cx="1.2" cy="33.6" rx="1.2" ry="1.1" fill="#4a0b0d" opacity="0.9"/><ellipse cx="13.4" cy="0.4" rx="0.9" ry="1.1" fill="#a01a1e" opacity="0.9"/><ellipse cx="13.4" cy="30.4" rx="0.9" ry="1.1" fill="#a01a1e" opacity="0.9"/><ellipse cx="29.4" cy="14.3" rx="0.9" ry="0.7" fill="#a01a1e" opacity="0.9"/><ellipse cx="-0.6" cy="14.3" rx="0.9" ry="0.7" fill="#a01a1e" opacity="0.9"/><ellipse cx="14.2" cy="26.9" rx="1.1" ry="0.9" fill="#6c1013" opacity="0.9"/><ellipse cx="14.2" cy="-3.1" rx="1.1" ry="0.9" fill="#6c1013" opacity="0.9"/><ellipse cx="20.5" cy="3.7" rx="1.4" ry="0.7" fill="#6c1013" opacity="0.9"/><ellipse cx="20.5" cy="33.7" rx="1.4" ry="0.7" fill="#6c1013" opacity="0.9"/><ellipse cx="3.9" cy="0.5" rx="1.2" ry="0.8" fill="#a01a1e" opacity="0.9"/><ellipse cx="33.9" cy="0.5" rx="1.2" ry="0.8" fill="#a01a1e" opacity="0.9"/><ellipse cx="3.9" cy="30.5" rx="1.2" ry="0.8" fill="#a01a1e" opacity="0.9"/><ellipse cx="22.3" cy="27.7" rx="0.9" ry="1.2" fill="#a01a1e" opacity="0.9"/><ellipse cx="22.3" cy="-2.3" rx="0.9" ry="1.2" fill="#a01a1e" opacity="0.9"/><ellipse cx="25.7" cy="21.9" rx="0.7" ry="1.1" fill="#a01a1e" opacity="0.9"/><ellipse cx="14.9" cy="20.1" rx="1.3" ry="1.3" fill="#6c1013" opacity="0.9"/><ellipse cx="21.5" cy="0.3" rx="0.6" ry="1.1" fill="#0e0202" opacity="0.9"/><ellipse cx="21.5" cy="30.3" rx="0.6" ry="1.1" fill="#0e0202" opacity="0.9"/><ellipse cx="2.4" cy="9.3" rx="1.2" ry="0.7" fill="#4a0b0d" opacity="0.9"/><ellipse cx="32.4" cy="9.3" rx="1.2" ry="0.7" fill="#4a0b0d" opacity="0.9"/><ellipse cx="18.3" cy="9.5" rx="1.4" ry="1.2" fill="#4a0b0d" opacity="0.9"/><ellipse cx="20.3" cy="4.3" rx="1.2" ry="0.9" fill="#a01a1e" opacity="0.9"/><ellipse cx="4.9" cy="24.1" rx="1.0" ry="1.2" fill="#4a0b0d" opacity="0.9"/><ellipse cx="28.3" cy="23.5" rx="1.1" ry="0.8" fill="#6c1013" opacity="0.9"/><ellipse cx="-1.7" cy="23.5" rx="1.1" ry="0.8" fill="#6c1013" opacity="0.9"/><ellipse cx="18.7" cy="19.5" rx="1.2" ry="1.1" fill="#0e0202" opacity="0.9"/><ellipse cx="21.8" cy="0.5" rx="0.7" ry="1.3" fill="#0e0202" opacity="0.9"/><ellipse cx="21.8" cy="30.5" rx="0.7" ry="1.3" fill="#0e0202" opacity="0.9"/><ellipse cx="12.9" cy="26.6" rx="0.9" ry="1.1" fill="#0e0202" opacity="0.9"/><ellipse cx="12.9" cy="-3.4" rx="0.9" ry="1.1" fill="#0e0202" opacity="0.9"/></pattern><pattern id="pR2w" width="30" height="30" patternUnits="userSpaceOnUse"><rect width="30" height="30" fill="#4c070a"/><ellipse cx="23.1" cy="7.0" rx="1.1" ry="1.4" fill="#2e0406" opacity="0.9"/><ellipse cx="7.9" cy="12.7" rx="1.2" ry="1.5" fill="#861016" opacity="0.9"/><ellipse cx="8.7" cy="4.2" rx="1.6" ry="1.7" fill="#a2161c" opacity="0.9"/><ellipse cx="8.2" cy="25.5" rx="1.5" ry="1.4" fill="#6e0e14" opacity="0.9"/><ellipse cx="10.4" cy="2.6" rx="1.2" ry="1.5" fill="#a2161c" opacity="0.9"/><ellipse cx="10.4" cy="32.6" rx="1.2" ry="1.5" fill="#a2161c" opacity="0.9"/><ellipse cx="23.6" cy="21.7" rx="1.7" ry="0.9" fill="#861016" opacity="0.9"/><ellipse cx="20.3" cy="14.0" rx="0.8" ry="0.9" fill="#861016" opacity="0.9"/><ellipse cx="23.7" cy="13.8" rx="0.7" ry="1.5" fill="#861016" opacity="0.9"/><ellipse cx="7.0" cy="17.4" rx="1.6" ry="1.6" fill="#c02228" opacity="0.9"/><ellipse cx="9.6" cy="15.2" rx="0.8" ry="0.8" fill="#861016" opacity="0.9"/><ellipse cx="5.4" cy="21.0" rx="1.0" ry="1.2" fill="#6e0e14" opacity="0.9"/><ellipse cx="23.4" cy="25.7" rx="0.9" ry="1.6" fill="#6e0e14" opacity="0.9"/><ellipse cx="11.2" cy="3.2" rx="1.3" ry="1.5" fill="#a2161c" opacity="0.9"/><ellipse cx="11.2" cy="33.2" rx="1.3" ry="1.5" fill="#a2161c" opacity="0.9"/><ellipse cx="9.5" cy="0.9" rx="0.9" ry="1.3" fill="#861016" opacity="0.9"/><ellipse cx="9.5" cy="30.9" rx="0.9" ry="1.3" fill="#861016" opacity="0.9"/><ellipse cx="1.0" cy="29.7" rx="1.6" ry="1.1" fill="#c02228" opacity="0.9"/><ellipse cx="31.0" cy="29.7" rx="1.6" ry="1.1" fill="#c02228" opacity="0.9"/><ellipse cx="1.0" cy="-0.3" rx="1.6" ry="1.1" fill="#c02228" opacity="0.9"/><ellipse cx="6.4" cy="27.8" rx="0.9" ry="0.7" fill="#6e0e14" opacity="0.9"/><ellipse cx="6.4" cy="-2.2" rx="0.9" ry="0.7" fill="#6e0e14" opacity="0.9"/><ellipse cx="23.0" cy="24.6" rx="1.7" ry="0.9" fill="#861016" opacity="0.9"/><ellipse cx="10.2" cy="29.8" rx="1.0" ry="0.6" fill="#861016" opacity="0.9"/><ellipse cx="10.2" cy="-0.2" rx="1.0" ry="0.6" fill="#861016" opacity="0.9"/><ellipse cx="16.7" cy="26.1" rx="1.1" ry="1.6" fill="#861016" opacity="0.9"/><ellipse cx="16.7" cy="-3.9" rx="1.1" ry="1.6" fill="#861016" opacity="0.9"/><ellipse cx="25.9" cy="19.2" rx="1.6" ry="1.4" fill="#861016" opacity="0.9"/><ellipse cx="7.7" cy="16.9" rx="1.3" ry="1.7" fill="#1a0203" opacity="0.9"/><ellipse cx="15.2" cy="5.5" rx="1.5" ry="1.0" fill="#a2161c" opacity="0.9"/><ellipse cx="29.8" cy="6.7" rx="0.6" ry="0.9" fill="#2e0406" opacity="0.9"/><ellipse cx="-0.2" cy="6.7" rx="0.6" ry="0.9" fill="#2e0406" opacity="0.9"/><ellipse cx="1.8" cy="16.6" rx="0.6" ry="1.6" fill="#2e0406" opacity="0.9"/><ellipse cx="31.8" cy="16.6" rx="0.6" ry="1.6" fill="#2e0406" opacity="0.9"/><ellipse cx="23.6" cy="21.3" rx="1.3" ry="1.7" fill="#861016" opacity="0.9"/><ellipse cx="3.0" cy="9.5" rx="0.6" ry="0.8" fill="#1a0203" opacity="0.9"/><ellipse cx="33.0" cy="9.5" rx="0.6" ry="0.8" fill="#1a0203" opacity="0.9"/><ellipse cx="9.0" cy="17.7" rx="1.4" ry="0.7" fill="#2e0406" opacity="0.9"/><ellipse cx="11.2" cy="11.7" rx="1.0" ry="1.0" fill="#6e0e14" opacity="0.9"/><ellipse cx="7.2" cy="4.3" rx="1.3" ry="0.6" fill="#1a0203" opacity="0.9"/><ellipse cx="27.4" cy="24.0" rx="0.8" ry="1.5" fill="#861016" opacity="0.9"/><ellipse cx="-2.6" cy="24.0" rx="0.8" ry="1.5" fill="#861016" opacity="0.9"/><ellipse cx="28.0" cy="26.0" rx="1.6" ry="0.8" fill="#6e0e14" opacity="0.9"/><ellipse cx="-2.0" cy="26.0" rx="1.6" ry="0.8" fill="#6e0e14" opacity="0.9"/><ellipse cx="28.0" cy="-4.0" rx="1.6" ry="0.8" fill="#6e0e14" opacity="0.9"/><ellipse cx="28.7" cy="27.8" rx="1.0" ry="0.6" fill="#861016" opacity="0.9"/><ellipse cx="-1.3" cy="27.8" rx="1.0" ry="0.6" fill="#861016" opacity="0.9"/><ellipse cx="28.7" cy="-2.2" rx="1.0" ry="0.6" fill="#861016" opacity="0.9"/><ellipse cx="13.6" cy="10.2" rx="1.5" ry="1.1" fill="#1a0203" opacity="0.9"/><ellipse cx="11.0" cy="10.0" rx="1.4" ry="0.8" fill="#6e0e14" opacity="0.9"/><ellipse cx="16.6" cy="4.3" rx="1.6" ry="0.9" fill="#6e0e14" opacity="0.9"/><ellipse cx="7.4" cy="0.8" rx="1.2" ry="0.9" fill="#a2161c" opacity="0.9"/><ellipse cx="7.4" cy="30.8" rx="1.2" ry="0.9" fill="#a2161c" opacity="0.9"/><ellipse cx="7.8" cy="3.3" rx="1.1" ry="1.1" fill="#a2161c" opacity="0.9"/><ellipse cx="7.8" cy="33.3" rx="1.1" ry="1.1" fill="#a2161c" opacity="0.9"/><ellipse cx="29.4" cy="1.7" rx="1.6" ry="1.3" fill="#a2161c" opacity="0.9"/><ellipse cx="-0.6" cy="1.7" rx="1.6" ry="1.3" fill="#a2161c" opacity="0.9"/><ellipse cx="29.4" cy="31.7" rx="1.6" ry="1.3" fill="#a2161c" opacity="0.9"/><ellipse cx="16.8" cy="25.1" rx="0.7" ry="1.4" fill="#2e0406" opacity="0.9"/><ellipse cx="13.0" cy="7.8" rx="0.9" ry="0.9" fill="#6e0e14" opacity="0.9"/><ellipse cx="8.7" cy="26.9" rx="0.7" ry="1.4" fill="#2e0406" opacity="0.9"/><ellipse cx="8.7" cy="-3.1" rx="0.7" ry="1.4" fill="#2e0406" opacity="0.9"/><ellipse cx="4.3" cy="19.2" rx="1.1" ry="1.2" fill="#c02228" opacity="0.9"/><ellipse cx="4.2" cy="0.1" rx="1.5" ry="1.2" fill="#a2161c" opacity="0.9"/><ellipse cx="4.2" cy="30.1" rx="1.5" ry="1.2" fill="#a2161c" opacity="0.9"/><ellipse cx="10.8" cy="1.2" rx="1.0" ry="0.9" fill="#a2161c" opacity="0.9"/><ellipse cx="10.8" cy="31.2" rx="1.0" ry="0.9" fill="#a2161c" opacity="0.9"/><ellipse cx="4.1" cy="5.4" rx="1.4" ry="1.4" fill="#a2161c" opacity="0.9"/><ellipse cx="18.0" cy="24.9" rx="1.6" ry="1.4" fill="#2e0406" opacity="0.9"/><ellipse cx="5.3" cy="4.1" rx="1.3" ry="1.3" fill="#a2161c" opacity="0.9"/><ellipse cx="17.5" cy="6.1" rx="0.7" ry="1.4" fill="#6e0e14" opacity="0.9"/><ellipse cx="25.2" cy="27.5" rx="1.2" ry="1.0" fill="#2e0406" opacity="0.9"/><ellipse cx="25.2" cy="-2.5" rx="1.2" ry="1.0" fill="#2e0406" opacity="0.9"/><ellipse cx="25.3" cy="25.9" rx="1.1" ry="0.6" fill="#6e0e14" opacity="0.9"/><ellipse cx="4.0" cy="20.0" rx="0.9" ry="1.2" fill="#2e0406" opacity="0.9"/><ellipse cx="34.0" cy="20.0" rx="0.9" ry="1.2" fill="#2e0406" opacity="0.9"/><ellipse cx="1.1" cy="21.1" rx="1.2" ry="1.5" fill="#2e0406" opacity="0.9"/><ellipse cx="31.1" cy="21.1" rx="1.2" ry="1.5" fill="#2e0406" opacity="0.9"/><ellipse cx="15.6" cy="13.4" rx="1.2" ry="0.7" fill="#1a0203" opacity="0.9"/><ellipse cx="7.3" cy="24.9" rx="1.6" ry="1.5" fill="#6e0e14" opacity="0.9"/><ellipse cx="17.3" cy="26.9" rx="0.9" ry="0.7" fill="#1a0203" opacity="0.9"/><ellipse cx="17.3" cy="-3.1" rx="0.9" ry="0.7" fill="#1a0203" opacity="0.9"/><ellipse cx="14.8" cy="15.4" rx="1.2" ry="1.2" fill="#861016" opacity="0.9"/><ellipse cx="7.3" cy="2.7" rx="1.3" ry="0.8" fill="#2e0406" opacity="0.9"/><ellipse cx="7.3" cy="32.7" rx="1.3" ry="0.8" fill="#2e0406" opacity="0.9"/><ellipse cx="7.5" cy="24.5" rx="0.6" ry="0.7" fill="#1a0203" opacity="0.9"/><ellipse cx="22.2" cy="7.8" rx="1.5" ry="1.3" fill="#6e0e14" opacity="0.9"/><ellipse cx="15.7" cy="21.1" rx="0.7" ry="1.6" fill="#1a0203" opacity="0.9"/><ellipse cx="5.4" cy="8.2" rx="1.1" ry="1.2" fill="#2e0406" opacity="0.9"/><ellipse cx="3.3" cy="3.6" rx="1.6" ry="1.2" fill="#a2161c" opacity="0.9"/><ellipse cx="33.3" cy="3.6" rx="1.6" ry="1.2" fill="#a2161c" opacity="0.9"/><ellipse cx="3.3" cy="33.6" rx="1.6" ry="1.2" fill="#a2161c" opacity="0.9"/><ellipse cx="25.8" cy="4.4" rx="1.2" ry="1.4" fill="#a2161c" opacity="0.9"/><ellipse cx="28.4" cy="0.6" rx="1.3" ry="1.4" fill="#c02228" opacity="0.9"/><ellipse cx="-1.6" cy="0.6" rx="1.3" ry="1.4" fill="#c02228" opacity="0.9"/><ellipse cx="28.4" cy="30.6" rx="1.3" ry="1.4" fill="#c02228" opacity="0.9"/><ellipse cx="25.2" cy="15.8" rx="1.0" ry="1.6" fill="#2e0406" opacity="0.9"/><ellipse cx="10.2" cy="7.2" rx="1.0" ry="1.1" fill="#c02228" opacity="0.9"/><ellipse cx="24.1" cy="27.4" rx="1.5" ry="1.5" fill="#861016" opacity="0.9"/><ellipse cx="24.1" cy="-2.6" rx="1.5" ry="1.5" fill="#861016" opacity="0.9"/><ellipse cx="9.7" cy="4.4" rx="1.3" ry="1.0" fill="#6e0e14" opacity="0.9"/><ellipse cx="19.9" cy="0.3" rx="0.7" ry="0.8" fill="#2e0406" opacity="0.9"/><ellipse cx="19.9" cy="30.3" rx="0.7" ry="0.8" fill="#2e0406" opacity="0.9"/><ellipse cx="13.0" cy="15.1" rx="0.6" ry="0.8" fill="#6e0e14" opacity="0.9"/><ellipse cx="23.3" cy="28.1" rx="1.3" ry="1.5" fill="#861016" opacity="0.9"/><ellipse cx="23.3" cy="-1.9" rx="1.3" ry="1.5" fill="#861016" opacity="0.9"/><ellipse cx="1.0" cy="19.2" rx="0.9" ry="1.3" fill="#2e0406" opacity="0.9"/><ellipse cx="31.0" cy="19.2" rx="0.9" ry="1.3" fill="#2e0406" opacity="0.9"/><ellipse cx="18.8" cy="24.2" rx="0.6" ry="0.7" fill="#861016" opacity="0.9"/><ellipse cx="15.6" cy="13.0" rx="1.6" ry="0.9" fill="#2e0406" opacity="0.9"/><ellipse cx="10.4" cy="5.0" rx="0.7" ry="1.7" fill="#c02228" opacity="0.9"/><ellipse cx="27.0" cy="2.5" rx="1.2" ry="1.6" fill="#6e0e14" opacity="0.9"/><ellipse cx="-3.0" cy="2.5" rx="1.2" ry="1.6" fill="#6e0e14" opacity="0.9"/><ellipse cx="27.0" cy="32.5" rx="1.2" ry="1.6" fill="#6e0e14" opacity="0.9"/><ellipse cx="3.7" cy="3.9" rx="0.9" ry="1.0" fill="#2e0406" opacity="0.9"/><ellipse cx="33.7" cy="3.9" rx="0.9" ry="1.0" fill="#2e0406" opacity="0.9"/><ellipse cx="3.7" cy="33.9" rx="0.9" ry="1.0" fill="#2e0406" opacity="0.9"/><ellipse cx="8.2" cy="22.1" rx="1.4" ry="0.9" fill="#6e0e14" opacity="0.9"/><ellipse cx="18.3" cy="17.1" rx="1.3" ry="0.8" fill="#1a0203" opacity="0.9"/><ellipse cx="11.0" cy="26.8" rx="0.9" ry="1.1" fill="#2e0406" opacity="0.9"/><ellipse cx="11.0" cy="-3.2" rx="0.9" ry="1.1" fill="#2e0406" opacity="0.9"/><ellipse cx="0.9" cy="10.0" rx="0.8" ry="1.2" fill="#c02228" opacity="0.9"/><ellipse cx="30.9" cy="10.0" rx="0.8" ry="1.2" fill="#c02228" opacity="0.9"/><ellipse cx="11.9" cy="27.7" rx="0.8" ry="1.6" fill="#2e0406" opacity="0.9"/><ellipse cx="11.9" cy="-2.3" rx="0.8" ry="1.6" fill="#2e0406" opacity="0.9"/><ellipse cx="16.7" cy="14.7" rx="0.9" ry="1.7" fill="#2e0406" opacity="0.9"/><ellipse cx="1.7" cy="0.7" rx="1.2" ry="1.3" fill="#2e0406" opacity="0.9"/><ellipse cx="31.7" cy="0.7" rx="1.2" ry="1.3" fill="#2e0406" opacity="0.9"/><ellipse cx="1.7" cy="30.7" rx="1.2" ry="1.3" fill="#2e0406" opacity="0.9"/><ellipse cx="13.2" cy="1.9" rx="1.0" ry="1.1" fill="#1a0203" opacity="0.9"/><ellipse cx="13.2" cy="31.9" rx="1.0" ry="1.1" fill="#1a0203" opacity="0.9"/><ellipse cx="22.9" cy="15.6" rx="1.7" ry="1.3" fill="#a2161c" opacity="0.9"/><ellipse cx="12.5" cy="20.0" rx="0.8" ry="0.8" fill="#c02228" opacity="0.9"/><ellipse cx="25.5" cy="24.6" rx="1.2" ry="1.4" fill="#1a0203" opacity="0.9"/><ellipse cx="27.7" cy="29.9" rx="0.9" ry="1.3" fill="#1a0203" opacity="0.9"/><ellipse cx="-2.3" cy="29.9" rx="0.9" ry="1.3" fill="#1a0203" opacity="0.9"/><ellipse cx="27.7" cy="-0.1" rx="0.9" ry="1.3" fill="#1a0203" opacity="0.9"/><ellipse cx="27.4" cy="3.8" rx="1.6" ry="0.6" fill="#c02228" opacity="0.9"/><ellipse cx="-2.6" cy="3.8" rx="1.6" ry="0.6" fill="#c02228" opacity="0.9"/><ellipse cx="27.4" cy="33.8" rx="1.6" ry="0.6" fill="#c02228" opacity="0.9"/><ellipse cx="17.6" cy="14.9" rx="1.7" ry="1.2" fill="#6e0e14" opacity="0.9"/><ellipse cx="25.5" cy="8.4" rx="1.3" ry="0.7" fill="#6e0e14" opacity="0.9"/><ellipse cx="20.8" cy="8.6" rx="1.0" ry="1.0" fill="#c02228" opacity="0.9"/><ellipse cx="16.7" cy="11.5" rx="1.0" ry="1.5" fill="#6e0e14" opacity="0.9"/><ellipse cx="11.4" cy="9.0" rx="1.2" ry="1.5" fill="#6e0e14" opacity="0.9"/><ellipse cx="17.3" cy="17.4" rx="0.7" ry="1.6" fill="#2e0406" opacity="0.9"/><ellipse cx="29.1" cy="18.2" rx="0.9" ry="1.0" fill="#6e0e14" opacity="0.9"/><ellipse cx="-0.9" cy="18.2" rx="0.9" ry="1.0" fill="#6e0e14" opacity="0.9"/><ellipse cx="26.7" cy="28.7" rx="0.6" ry="0.9" fill="#6e0e14" opacity="0.9"/><ellipse cx="-3.3" cy="28.7" rx="0.6" ry="0.9" fill="#6e0e14" opacity="0.9"/><ellipse cx="26.7" cy="-1.3" rx="0.6" ry="0.9" fill="#6e0e14" opacity="0.9"/><ellipse cx="9.0" cy="16.1" rx="0.9" ry="1.3" fill="#6e0e14" opacity="0.9"/><ellipse cx="15.5" cy="15.5" rx="1.4" ry="1.0" fill="#2e0406" opacity="0.9"/><ellipse cx="1.2" cy="20.3" rx="1.1" ry="0.6" fill="#861016" opacity="0.9"/><ellipse cx="31.2" cy="20.3" rx="1.1" ry="0.6" fill="#861016" opacity="0.9"/><ellipse cx="15.8" cy="3.0" rx="1.0" ry="1.0" fill="#c02228" opacity="0.9"/><ellipse cx="15.8" cy="33.0" rx="1.0" ry="1.0" fill="#c02228" opacity="0.9"/><ellipse cx="27.9" cy="4.6" rx="0.8" ry="1.1" fill="#6e0e14" opacity="0.9"/><ellipse cx="-2.1" cy="4.6" rx="0.8" ry="1.1" fill="#6e0e14" opacity="0.9"/><ellipse cx="13.2" cy="18.7" rx="1.7" ry="1.0" fill="#c02228" opacity="0.9"/><ellipse cx="22.4" cy="2.8" rx="1.0" ry="1.0" fill="#861016" opacity="0.9"/><ellipse cx="22.4" cy="32.8" rx="1.0" ry="1.0" fill="#861016" opacity="0.9"/><ellipse cx="24.8" cy="15.4" rx="0.7" ry="1.6" fill="#1a0203" opacity="0.9"/><ellipse cx="10.3" cy="28.1" rx="1.2" ry="1.7" fill="#1a0203" opacity="0.9"/><ellipse cx="10.3" cy="-1.9" rx="1.2" ry="1.7" fill="#1a0203" opacity="0.9"/><ellipse cx="4.7" cy="8.7" rx="1.2" ry="1.2" fill="#a2161c" opacity="0.9"/><ellipse cx="12.4" cy="1.8" rx="1.2" ry="0.7" fill="#c02228" opacity="0.9"/><ellipse cx="12.4" cy="31.8" rx="1.2" ry="0.7" fill="#c02228" opacity="0.9"/><ellipse cx="29.8" cy="19.1" rx="0.6" ry="1.1" fill="#861016" opacity="0.9"/><ellipse cx="-0.2" cy="19.1" rx="0.6" ry="1.1" fill="#861016" opacity="0.9"/><ellipse cx="9.2" cy="20.7" rx="0.6" ry="0.9" fill="#861016" opacity="0.9"/><ellipse cx="17.6" cy="20.0" rx="0.8" ry="1.1" fill="#c02228" opacity="0.9"/><ellipse cx="17.0" cy="26.1" rx="1.6" ry="1.2" fill="#a2161c" opacity="0.9"/><ellipse cx="17.0" cy="-3.9" rx="1.6" ry="1.2" fill="#a2161c" opacity="0.9"/><ellipse cx="17.2" cy="12.3" rx="0.7" ry="0.8" fill="#c02228" opacity="0.9"/><ellipse cx="3.2" cy="3.0" rx="0.8" ry="1.2" fill="#6e0e14" opacity="0.9"/><ellipse cx="33.2" cy="3.0" rx="0.8" ry="1.2" fill="#6e0e14" opacity="0.9"/><ellipse cx="3.2" cy="33.0" rx="0.8" ry="1.2" fill="#6e0e14" opacity="0.9"/><ellipse cx="18.4" cy="24.2" rx="0.7" ry="0.6" fill="#c02228" opacity="0.9"/><ellipse cx="9.7" cy="21.5" rx="1.0" ry="0.8" fill="#2e0406" opacity="0.9"/><ellipse cx="18.9" cy="25.8" rx="1.6" ry="0.7" fill="#a2161c" opacity="0.9"/><ellipse cx="13.5" cy="11.6" rx="0.7" ry="1.6" fill="#c02228" opacity="0.9"/><ellipse cx="22.9" cy="1.3" rx="0.7" ry="0.9" fill="#a2161c" opacity="0.9"/><ellipse cx="22.9" cy="31.3" rx="0.7" ry="0.9" fill="#a2161c" opacity="0.9"/><ellipse cx="1.3" cy="27.9" rx="1.5" ry="0.9" fill="#6e0e14" opacity="0.9"/><ellipse cx="31.3" cy="27.9" rx="1.5" ry="0.9" fill="#6e0e14" opacity="0.9"/><ellipse cx="1.3" cy="-2.1" rx="1.5" ry="0.9" fill="#6e0e14" opacity="0.9"/><ellipse cx="9.1" cy="18.1" rx="1.7" ry="1.1" fill="#861016" opacity="0.9"/><ellipse cx="7.3" cy="11.7" rx="1.4" ry="0.8" fill="#2e0406" opacity="0.9"/><ellipse cx="12.0" cy="21.4" rx="0.6" ry="1.6" fill="#861016" opacity="0.9"/><ellipse cx="5.2" cy="10.8" rx="0.8" ry="1.7" fill="#2e0406" opacity="0.9"/><ellipse cx="11.9" cy="10.9" rx="1.0" ry="1.6" fill="#2e0406" opacity="0.9"/><ellipse cx="12.1" cy="2.0" rx="0.7" ry="1.5" fill="#2e0406" opacity="0.9"/><ellipse cx="12.1" cy="32.0" rx="0.7" ry="1.5" fill="#2e0406" opacity="0.9"/><ellipse cx="16.6" cy="11.6" rx="1.1" ry="1.0" fill="#6e0e14" opacity="0.9"/><ellipse cx="1.0" cy="19.9" rx="1.0" ry="0.8" fill="#1a0203" opacity="0.9"/><ellipse cx="31.0" cy="19.9" rx="1.0" ry="0.8" fill="#1a0203" opacity="0.9"/><ellipse cx="3.9" cy="5.9" rx="1.2" ry="1.5" fill="#c02228" opacity="0.9"/><ellipse cx="33.9" cy="5.9" rx="1.2" ry="1.5" fill="#c02228" opacity="0.9"/><ellipse cx="13.3" cy="25.1" rx="1.5" ry="0.8" fill="#2e0406" opacity="0.9"/><ellipse cx="6.5" cy="12.2" rx="1.3" ry="1.2" fill="#2e0406" opacity="0.9"/><ellipse cx="28.5" cy="15.1" rx="0.9" ry="1.1" fill="#a2161c" opacity="0.9"/><ellipse cx="-1.5" cy="15.1" rx="0.9" ry="1.1" fill="#a2161c" opacity="0.9"/><ellipse cx="28.3" cy="29.9" rx="1.3" ry="1.1" fill="#2e0406" opacity="0.9"/><ellipse cx="-1.7" cy="29.9" rx="1.3" ry="1.1" fill="#2e0406" opacity="0.9"/><ellipse cx="28.3" cy="-0.1" rx="1.3" ry="1.1" fill="#2e0406" opacity="0.9"/><ellipse cx="16.0" cy="12.1" rx="1.2" ry="0.7" fill="#861016" opacity="0.9"/><ellipse cx="20.3" cy="2.7" rx="1.5" ry="1.4" fill="#6e0e14" opacity="0.9"/><ellipse cx="20.3" cy="32.7" rx="1.5" ry="1.4" fill="#6e0e14" opacity="0.9"/><ellipse cx="0.9" cy="21.5" rx="0.8" ry="0.6" fill="#1a0203" opacity="0.9"/><ellipse cx="30.9" cy="21.5" rx="0.8" ry="0.6" fill="#1a0203" opacity="0.9"/><ellipse cx="2.6" cy="5.3" rx="1.5" ry="1.0" fill="#1a0203" opacity="0.9"/><ellipse cx="32.6" cy="5.3" rx="1.5" ry="1.0" fill="#1a0203" opacity="0.9"/><ellipse cx="26.7" cy="2.0" rx="1.6" ry="1.5" fill="#2e0406" opacity="0.9"/><ellipse cx="-3.3" cy="2.0" rx="1.6" ry="1.5" fill="#2e0406" opacity="0.9"/><ellipse cx="26.7" cy="32.0" rx="1.6" ry="1.5" fill="#2e0406" opacity="0.9"/><ellipse cx="5.8" cy="21.6" rx="0.7" ry="0.9" fill="#1a0203" opacity="0.9"/><ellipse cx="12.0" cy="10.7" rx="1.5" ry="1.1" fill="#1a0203" opacity="0.9"/><ellipse cx="26.5" cy="25.8" rx="0.7" ry="0.9" fill="#861016" opacity="0.9"/><ellipse cx="-3.5" cy="25.8" rx="0.7" ry="0.9" fill="#861016" opacity="0.9"/><ellipse cx="11.0" cy="24.0" rx="1.4" ry="1.6" fill="#861016" opacity="0.9"/><ellipse cx="19.8" cy="21.0" rx="0.9" ry="1.5" fill="#2e0406" opacity="0.9"/><ellipse cx="27.2" cy="2.9" rx="0.9" ry="0.9" fill="#c02228" opacity="0.9"/><ellipse cx="-2.8" cy="2.9" rx="0.9" ry="0.9" fill="#c02228" opacity="0.9"/><ellipse cx="27.2" cy="32.9" rx="0.9" ry="0.9" fill="#c02228" opacity="0.9"/><ellipse cx="22.0" cy="21.4" rx="0.6" ry="0.6" fill="#a2161c" opacity="0.9"/><ellipse cx="12.9" cy="22.7" rx="0.8" ry="1.4" fill="#c02228" opacity="0.9"/><ellipse cx="9.3" cy="19.1" rx="0.8" ry="1.5" fill="#c02228" opacity="0.9"/><ellipse cx="14.9" cy="15.6" rx="1.6" ry="1.3" fill="#c02228" opacity="0.9"/><ellipse cx="10.5" cy="0.0" rx="1.5" ry="1.5" fill="#2e0406" opacity="0.9"/><ellipse cx="10.5" cy="30.0" rx="1.5" ry="1.5" fill="#2e0406" opacity="0.9"/><ellipse cx="27.0" cy="26.3" rx="1.2" ry="1.4" fill="#a2161c" opacity="0.9"/><ellipse cx="-3.0" cy="26.3" rx="1.2" ry="1.4" fill="#a2161c" opacity="0.9"/><ellipse cx="27.0" cy="-3.7" rx="1.2" ry="1.4" fill="#a2161c" opacity="0.9"/><ellipse cx="20.4" cy="1.1" rx="1.0" ry="1.5" fill="#2e0406" opacity="0.9"/><ellipse cx="20.4" cy="31.1" rx="1.0" ry="1.5" fill="#2e0406" opacity="0.9"/><ellipse cx="22.5" cy="2.6" rx="1.4" ry="1.0" fill="#1a0203" opacity="0.9"/><ellipse cx="22.5" cy="32.6" rx="1.4" ry="1.0" fill="#1a0203" opacity="0.9"/><ellipse cx="18.5" cy="6.6" rx="1.2" ry="1.0" fill="#6e0e14" opacity="0.9"/><ellipse cx="13.3" cy="10.2" rx="1.2" ry="1.4" fill="#1a0203" opacity="0.9"/><ellipse cx="18.8" cy="15.3" rx="1.3" ry="0.8" fill="#1a0203" opacity="0.9"/><ellipse cx="15.4" cy="27.8" rx="0.7" ry="1.4" fill="#861016" opacity="0.9"/><ellipse cx="15.4" cy="-2.2" rx="0.7" ry="1.4" fill="#861016" opacity="0.9"/><ellipse cx="28.6" cy="24.8" rx="1.2" ry="0.8" fill="#a2161c" opacity="0.9"/><ellipse cx="-1.4" cy="24.8" rx="1.2" ry="0.8" fill="#a2161c" opacity="0.9"/><ellipse cx="29.1" cy="19.1" rx="1.2" ry="0.9" fill="#861016" opacity="0.9"/><ellipse cx="-0.9" cy="19.1" rx="1.2" ry="0.9" fill="#861016" opacity="0.9"/><ellipse cx="5.0" cy="10.4" rx="0.7" ry="1.3" fill="#a2161c" opacity="0.9"/><ellipse cx="4.1" cy="21.2" rx="1.3" ry="0.9" fill="#a2161c" opacity="0.9"/><ellipse cx="0.2" cy="20.7" rx="0.7" ry="1.3" fill="#1a0203" opacity="0.9"/><ellipse cx="30.2" cy="20.7" rx="0.7" ry="1.3" fill="#1a0203" opacity="0.9"/><ellipse cx="9.0" cy="26.5" rx="0.8" ry="1.2" fill="#2e0406" opacity="0.9"/><ellipse cx="9.0" cy="-3.5" rx="0.8" ry="1.2" fill="#2e0406" opacity="0.9"/><ellipse cx="18.9" cy="3.5" rx="1.1" ry="1.6" fill="#1a0203" opacity="0.9"/><ellipse cx="18.9" cy="33.5" rx="1.1" ry="1.6" fill="#1a0203" opacity="0.9"/><ellipse cx="20.0" cy="18.0" rx="1.1" ry="1.4" fill="#a2161c" opacity="0.9"/><ellipse cx="3.4" cy="8.7" rx="1.0" ry="0.8" fill="#861016" opacity="0.9"/><ellipse cx="33.4" cy="8.7" rx="1.0" ry="0.8" fill="#861016" opacity="0.9"/><ellipse cx="26.9" cy="9.1" rx="0.7" ry="0.9" fill="#861016" opacity="0.9"/><ellipse cx="-3.1" cy="9.1" rx="0.7" ry="0.9" fill="#861016" opacity="0.9"/><ellipse cx="4.8" cy="13.4" rx="1.2" ry="0.9" fill="#c02228" opacity="0.9"/><ellipse cx="2.2" cy="0.3" rx="1.7" ry="1.4" fill="#861016" opacity="0.9"/><ellipse cx="32.2" cy="0.3" rx="1.7" ry="1.4" fill="#861016" opacity="0.9"/><ellipse cx="2.2" cy="30.3" rx="1.7" ry="1.4" fill="#861016" opacity="0.9"/><ellipse cx="22.4" cy="10.0" rx="1.4" ry="0.9" fill="#1a0203" opacity="0.9"/></pattern><pattern id="pR2d" width="30" height="30" patternUnits="userSpaceOnUse"><rect width="30" height="30" fill="#1a0304"/><ellipse cx="14.7" cy="13.0" rx="0.8" ry="1.0" fill="#340708" opacity="0.9"/><ellipse cx="10.8" cy="2.7" rx="0.8" ry="1.1" fill="#0e0202" opacity="0.9"/><ellipse cx="10.8" cy="32.7" rx="0.8" ry="1.1" fill="#0e0202" opacity="0.9"/><ellipse cx="19.6" cy="2.3" rx="1.2" ry="0.6" fill="#400a0b" opacity="0.9"/><ellipse cx="19.6" cy="32.3" rx="1.2" ry="0.6" fill="#400a0b" opacity="0.9"/><ellipse cx="25.2" cy="8.9" rx="0.7" ry="1.1" fill="#260505" opacity="0.9"/><ellipse cx="3.1" cy="21.6" rx="0.8" ry="1.1" fill="#400a0b" opacity="0.9"/><ellipse cx="33.1" cy="21.6" rx="0.8" ry="1.1" fill="#400a0b" opacity="0.9"/><ellipse cx="5.5" cy="24.8" rx="0.9" ry="0.9" fill="#0e0202" opacity="0.9"/><ellipse cx="25.1" cy="7.6" rx="0.6" ry="0.7" fill="#400a0b" opacity="0.9"/><ellipse cx="27.2" cy="28.3" rx="1.0" ry="1.0" fill="#260505" opacity="0.9"/><ellipse cx="-2.8" cy="28.3" rx="1.0" ry="1.0" fill="#260505" opacity="0.9"/><ellipse cx="27.2" cy="-1.7" rx="1.0" ry="1.0" fill="#260505" opacity="0.9"/><ellipse cx="29.9" cy="18.1" rx="1.1" ry="0.7" fill="#260505" opacity="0.9"/><ellipse cx="-0.1" cy="18.1" rx="1.1" ry="0.7" fill="#260505" opacity="0.9"/><ellipse cx="4.9" cy="13.3" rx="1.4" ry="0.7" fill="#340708" opacity="0.9"/><ellipse cx="25.5" cy="14.4" rx="0.8" ry="0.9" fill="#340708" opacity="0.9"/><ellipse cx="25.2" cy="25.7" rx="1.2" ry="0.9" fill="#0e0202" opacity="0.9"/><ellipse cx="2.2" cy="1.7" rx="1.2" ry="1.3" fill="#340708" opacity="0.9"/><ellipse cx="32.2" cy="1.7" rx="1.2" ry="1.3" fill="#340708" opacity="0.9"/><ellipse cx="2.2" cy="31.7" rx="1.2" ry="1.3" fill="#340708" opacity="0.9"/><ellipse cx="13.2" cy="20.0" rx="1.3" ry="1.3" fill="#260505" opacity="0.9"/><ellipse cx="11.4" cy="0.1" rx="1.2" ry="1.1" fill="#260505" opacity="0.9"/><ellipse cx="11.4" cy="30.1" rx="1.2" ry="1.1" fill="#260505" opacity="0.9"/><ellipse cx="14.1" cy="16.3" rx="1.0" ry="0.9" fill="#260505" opacity="0.9"/><ellipse cx="29.2" cy="28.9" rx="1.1" ry="1.2" fill="#340708" opacity="0.9"/><ellipse cx="-0.8" cy="28.9" rx="1.1" ry="1.2" fill="#340708" opacity="0.9"/><ellipse cx="29.2" cy="-1.1" rx="1.1" ry="1.2" fill="#340708" opacity="0.9"/><ellipse cx="21.7" cy="9.9" rx="1.1" ry="1.1" fill="#400a0b" opacity="0.9"/><ellipse cx="28.6" cy="14.4" rx="1.1" ry="0.8" fill="#0e0202" opacity="0.9"/><ellipse cx="-1.4" cy="14.4" rx="1.1" ry="0.8" fill="#0e0202" opacity="0.9"/><ellipse cx="15.9" cy="19.0" rx="1.3" ry="0.8" fill="#400a0b" opacity="0.9"/><ellipse cx="20.7" cy="4.4" rx="1.1" ry="1.0" fill="#400a0b" opacity="0.9"/><ellipse cx="10.8" cy="7.2" rx="1.0" ry="0.8" fill="#260505" opacity="0.9"/><ellipse cx="5.4" cy="26.7" rx="1.0" ry="0.7" fill="#0e0202" opacity="0.9"/><ellipse cx="5.4" cy="-3.3" rx="1.0" ry="0.7" fill="#0e0202" opacity="0.9"/><ellipse cx="19.5" cy="5.6" rx="1.1" ry="1.2" fill="#260505" opacity="0.9"/><ellipse cx="16.6" cy="6.8" rx="1.1" ry="0.7" fill="#340708" opacity="0.9"/><ellipse cx="25.5" cy="20.4" rx="1.2" ry="0.7" fill="#340708" opacity="0.9"/><ellipse cx="18.8" cy="28.8" rx="1.0" ry="1.0" fill="#400a0b" opacity="0.9"/><ellipse cx="18.8" cy="-1.2" rx="1.0" ry="1.0" fill="#400a0b" opacity="0.9"/><ellipse cx="16.3" cy="29.0" rx="0.8" ry="1.0" fill="#340708" opacity="0.9"/><ellipse cx="16.3" cy="-1.0" rx="0.8" ry="1.0" fill="#340708" opacity="0.9"/><ellipse cx="4.1" cy="23.3" rx="0.6" ry="0.8" fill="#0e0202" opacity="0.9"/><ellipse cx="1.3" cy="21.1" rx="1.4" ry="1.0" fill="#340708" opacity="0.9"/><ellipse cx="31.3" cy="21.1" rx="1.4" ry="1.0" fill="#340708" opacity="0.9"/><ellipse cx="21.2" cy="12.8" rx="1.3" ry="1.1" fill="#260505" opacity="0.9"/><ellipse cx="16.9" cy="27.5" rx="1.3" ry="0.7" fill="#0e0202" opacity="0.9"/><ellipse cx="16.9" cy="-2.5" rx="1.3" ry="0.7" fill="#0e0202" opacity="0.9"/><ellipse cx="24.1" cy="22.1" rx="0.6" ry="0.8" fill="#260505" opacity="0.9"/><ellipse cx="11.2" cy="22.1" rx="1.4" ry="1.2" fill="#340708" opacity="0.9"/><ellipse cx="24.5" cy="10.6" rx="0.9" ry="0.9" fill="#340708" opacity="0.9"/><ellipse cx="1.0" cy="27.3" rx="0.8" ry="0.9" fill="#400a0b" opacity="0.9"/><ellipse cx="31.0" cy="27.3" rx="0.8" ry="0.9" fill="#400a0b" opacity="0.9"/><ellipse cx="1.0" cy="-2.7" rx="0.8" ry="0.9" fill="#400a0b" opacity="0.9"/><ellipse cx="0.6" cy="29.7" rx="1.0" ry="1.2" fill="#400a0b" opacity="0.9"/><ellipse cx="30.6" cy="29.7" rx="1.0" ry="1.2" fill="#400a0b" opacity="0.9"/><ellipse cx="0.6" cy="-0.3" rx="1.0" ry="1.2" fill="#400a0b" opacity="0.9"/><ellipse cx="3.3" cy="24.0" rx="0.7" ry="1.0" fill="#0e0202" opacity="0.9"/><ellipse cx="33.3" cy="24.0" rx="0.7" ry="1.0" fill="#0e0202" opacity="0.9"/><ellipse cx="26.2" cy="20.1" rx="1.3" ry="1.1" fill="#0e0202" opacity="0.9"/><ellipse cx="-3.8" cy="20.1" rx="1.3" ry="1.1" fill="#0e0202" opacity="0.9"/><ellipse cx="16.2" cy="20.7" rx="1.2" ry="1.4" fill="#340708" opacity="0.9"/><ellipse cx="0.7" cy="29.8" rx="1.0" ry="1.0" fill="#340708" opacity="0.9"/><ellipse cx="30.7" cy="29.8" rx="1.0" ry="1.0" fill="#340708" opacity="0.9"/><ellipse cx="0.7" cy="-0.2" rx="1.0" ry="1.0" fill="#340708" opacity="0.9"/><ellipse cx="24.0" cy="1.1" rx="0.7" ry="1.3" fill="#400a0b" opacity="0.9"/><ellipse cx="24.0" cy="31.1" rx="0.7" ry="1.3" fill="#400a0b" opacity="0.9"/><ellipse cx="25.3" cy="29.0" rx="1.2" ry="1.0" fill="#260505" opacity="0.9"/><ellipse cx="25.3" cy="-1.0" rx="1.2" ry="1.0" fill="#260505" opacity="0.9"/><ellipse cx="26.2" cy="18.3" rx="0.7" ry="0.9" fill="#260505" opacity="0.9"/><ellipse cx="-3.8" cy="18.3" rx="0.7" ry="0.9" fill="#260505" opacity="0.9"/><ellipse cx="9.3" cy="3.9" rx="1.1" ry="0.8" fill="#0e0202" opacity="0.9"/><ellipse cx="9.3" cy="33.9" rx="1.1" ry="0.8" fill="#0e0202" opacity="0.9"/><ellipse cx="21.8" cy="9.9" rx="1.0" ry="1.3" fill="#0e0202" opacity="0.9"/><ellipse cx="0.2" cy="17.4" rx="0.9" ry="0.6" fill="#400a0b" opacity="0.9"/><ellipse cx="30.2" cy="17.4" rx="0.9" ry="0.6" fill="#400a0b" opacity="0.9"/><ellipse cx="26.3" cy="18.3" rx="1.1" ry="1.2" fill="#260505" opacity="0.9"/><ellipse cx="-3.7" cy="18.3" rx="1.1" ry="1.2" fill="#260505" opacity="0.9"/><ellipse cx="8.2" cy="8.2" rx="1.0" ry="0.8" fill="#260505" opacity="0.9"/><ellipse cx="29.8" cy="1.0" rx="1.0" ry="1.2" fill="#260505" opacity="0.9"/><ellipse cx="-0.2" cy="1.0" rx="1.0" ry="1.2" fill="#260505" opacity="0.9"/><ellipse cx="29.8" cy="31.0" rx="1.0" ry="1.2" fill="#260505" opacity="0.9"/><ellipse cx="23.2" cy="19.0" rx="1.1" ry="0.9" fill="#0e0202" opacity="0.9"/><ellipse cx="23.8" cy="7.1" rx="1.2" ry="0.7" fill="#340708" opacity="0.9"/><ellipse cx="9.1" cy="22.9" rx="1.2" ry="1.0" fill="#260505" opacity="0.9"/><ellipse cx="10.5" cy="16.5" rx="0.9" ry="0.6" fill="#0e0202" opacity="0.9"/><ellipse cx="20.2" cy="26.5" rx="1.2" ry="1.0" fill="#260505" opacity="0.9"/><ellipse cx="20.2" cy="-3.5" rx="1.2" ry="1.0" fill="#260505" opacity="0.9"/><ellipse cx="24.3" cy="29.9" rx="0.7" ry="0.8" fill="#400a0b" opacity="0.9"/><ellipse cx="24.3" cy="-0.1" rx="0.7" ry="0.8" fill="#400a0b" opacity="0.9"/><ellipse cx="12.1" cy="11.9" rx="1.2" ry="1.3" fill="#340708" opacity="0.9"/><ellipse cx="4.3" cy="21.6" rx="0.8" ry="1.1" fill="#0e0202" opacity="0.9"/><ellipse cx="2.2" cy="5.7" rx="1.3" ry="1.1" fill="#0e0202" opacity="0.9"/><ellipse cx="32.2" cy="5.7" rx="1.3" ry="1.1" fill="#0e0202" opacity="0.9"/><ellipse cx="17.4" cy="29.6" rx="0.9" ry="1.2" fill="#400a0b" opacity="0.9"/><ellipse cx="17.4" cy="-0.4" rx="0.9" ry="1.2" fill="#400a0b" opacity="0.9"/><ellipse cx="21.6" cy="27.7" rx="1.3" ry="0.9" fill="#260505" opacity="0.9"/><ellipse cx="21.6" cy="-2.3" rx="1.3" ry="0.9" fill="#260505" opacity="0.9"/><ellipse cx="8.3" cy="7.7" rx="0.6" ry="0.7" fill="#0e0202" opacity="0.9"/><ellipse cx="7.1" cy="0.6" rx="0.6" ry="1.0" fill="#0e0202" opacity="0.9"/><ellipse cx="7.1" cy="30.6" rx="0.6" ry="1.0" fill="#0e0202" opacity="0.9"/><ellipse cx="25.9" cy="19.4" rx="0.8" ry="1.2" fill="#260505" opacity="0.9"/><ellipse cx="18.0" cy="2.4" rx="1.2" ry="1.3" fill="#0e0202" opacity="0.9"/><ellipse cx="18.0" cy="32.4" rx="1.2" ry="1.3" fill="#0e0202" opacity="0.9"/><ellipse cx="21.6" cy="0.2" rx="0.8" ry="1.1" fill="#340708" opacity="0.9"/><ellipse cx="21.6" cy="30.2" rx="0.8" ry="1.1" fill="#340708" opacity="0.9"/><ellipse cx="19.2" cy="27.7" rx="0.8" ry="0.9" fill="#340708" opacity="0.9"/><ellipse cx="19.2" cy="-2.3" rx="0.8" ry="0.9" fill="#340708" opacity="0.9"/><ellipse cx="19.5" cy="12.2" rx="1.1" ry="0.9" fill="#340708" opacity="0.9"/><ellipse cx="25.9" cy="23.9" rx="0.7" ry="1.1" fill="#400a0b" opacity="0.9"/><ellipse cx="29.6" cy="12.0" rx="1.4" ry="1.3" fill="#340708" opacity="0.9"/><ellipse cx="-0.4" cy="12.0" rx="1.4" ry="1.3" fill="#340708" opacity="0.9"/></pattern><pattern id="pC2" width="30" height="30" patternUnits="userSpaceOnUse"><rect width="30" height="30" fill="#2f8d93"/><ellipse cx="27.8" cy="16.9" rx="1.4" ry="0.6" fill="#bfe2e2" opacity="0.9"/><ellipse cx="-2.2" cy="16.9" rx="1.4" ry="0.6" fill="#bfe2e2" opacity="0.9"/><ellipse cx="21.3" cy="25.0" rx="0.7" ry="0.6" fill="#8ad0d2" opacity="0.9"/><ellipse cx="4.3" cy="23.0" rx="0.7" ry="1.3" fill="#47a5aa" opacity="0.9"/><ellipse cx="10.3" cy="20.4" rx="1.3" ry="0.7" fill="#bfe2e2" opacity="0.9"/><ellipse cx="17.2" cy="6.9" rx="1.1" ry="1.3" fill="#47a5aa" opacity="0.9"/><ellipse cx="22.9" cy="23.3" rx="0.8" ry="1.2" fill="#145055" opacity="0.9"/><ellipse cx="13.6" cy="8.3" rx="1.0" ry="1.4" fill="#8ad0d2" opacity="0.9"/><ellipse cx="7.6" cy="16.7" rx="0.7" ry="1.2" fill="#1f6a70" opacity="0.9"/><ellipse cx="4.5" cy="18.9" rx="0.9" ry="1.4" fill="#62bcc0" opacity="0.9"/><ellipse cx="18.7" cy="3.7" rx="1.0" ry="0.8" fill="#8ad0d2" opacity="0.9"/><ellipse cx="18.7" cy="33.7" rx="1.0" ry="0.8" fill="#8ad0d2" opacity="0.9"/><ellipse cx="7.8" cy="18.2" rx="1.2" ry="1.3" fill="#145055" opacity="0.9"/><ellipse cx="25.7" cy="23.4" rx="1.0" ry="0.9" fill="#145055" opacity="0.9"/><ellipse cx="7.3" cy="29.5" rx="1.0" ry="1.1" fill="#1f6a70" opacity="0.9"/><ellipse cx="7.3" cy="-0.5" rx="1.0" ry="1.1" fill="#1f6a70" opacity="0.9"/><ellipse cx="27.0" cy="11.7" rx="0.8" ry="1.2" fill="#62bcc0" opacity="0.9"/><ellipse cx="-3.0" cy="11.7" rx="0.8" ry="1.2" fill="#62bcc0" opacity="0.9"/><ellipse cx="3.2" cy="22.0" rx="0.7" ry="1.1" fill="#47a5aa" opacity="0.9"/><ellipse cx="33.2" cy="22.0" rx="0.7" ry="1.1" fill="#47a5aa" opacity="0.9"/><ellipse cx="20.2" cy="10.5" rx="0.8" ry="0.9" fill="#47a5aa" opacity="0.9"/><ellipse cx="28.3" cy="18.8" rx="0.8" ry="0.8" fill="#1f6a70" opacity="0.9"/><ellipse cx="-1.7" cy="18.8" rx="0.8" ry="0.8" fill="#1f6a70" opacity="0.9"/><ellipse cx="21.3" cy="7.3" rx="0.9" ry="0.9" fill="#47a5aa" opacity="0.9"/><ellipse cx="19.3" cy="9.0" rx="1.4" ry="0.8" fill="#bfe2e2" opacity="0.9"/><ellipse cx="23.7" cy="14.3" rx="1.3" ry="1.2" fill="#8ad0d2" opacity="0.9"/><ellipse cx="24.7" cy="8.5" rx="0.9" ry="1.0" fill="#8ad0d2" opacity="0.9"/><ellipse cx="4.8" cy="20.5" rx="1.1" ry="1.0" fill="#bfe2e2" opacity="0.9"/><ellipse cx="1.6" cy="23.5" rx="1.3" ry="1.2" fill="#62bcc0" opacity="0.9"/><ellipse cx="31.6" cy="23.5" rx="1.3" ry="1.2" fill="#62bcc0" opacity="0.9"/><ellipse cx="23.4" cy="25.9" rx="0.7" ry="1.3" fill="#1f6a70" opacity="0.9"/><ellipse cx="20.6" cy="24.2" rx="0.7" ry="1.3" fill="#8ad0d2" opacity="0.9"/><ellipse cx="27.3" cy="4.5" rx="1.2" ry="0.7" fill="#8ad0d2" opacity="0.9"/><ellipse cx="-2.7" cy="4.5" rx="1.2" ry="0.7" fill="#8ad0d2" opacity="0.9"/><ellipse cx="13.9" cy="11.9" rx="0.9" ry="1.1" fill="#145055" opacity="0.9"/><ellipse cx="21.5" cy="26.5" rx="1.4" ry="0.6" fill="#8ad0d2" opacity="0.9"/><ellipse cx="21.5" cy="-3.5" rx="1.4" ry="0.6" fill="#8ad0d2" opacity="0.9"/><ellipse cx="6.0" cy="18.8" rx="0.6" ry="0.7" fill="#bfe2e2" opacity="0.9"/><ellipse cx="6.9" cy="12.9" rx="0.7" ry="0.6" fill="#1f6a70" opacity="0.9"/><ellipse cx="1.9" cy="3.3" rx="1.4" ry="1.4" fill="#bfe2e2" opacity="0.9"/><ellipse cx="31.9" cy="3.3" rx="1.4" ry="1.4" fill="#bfe2e2" opacity="0.9"/><ellipse cx="1.9" cy="33.3" rx="1.4" ry="1.4" fill="#bfe2e2" opacity="0.9"/><ellipse cx="12.9" cy="5.4" rx="1.1" ry="0.7" fill="#145055" opacity="0.9"/><ellipse cx="16.4" cy="29.8" rx="1.0" ry="1.3" fill="#62bcc0" opacity="0.9"/><ellipse cx="16.4" cy="-0.2" rx="1.0" ry="1.3" fill="#62bcc0" opacity="0.9"/><ellipse cx="10.5" cy="6.5" rx="1.4" ry="1.3" fill="#145055" opacity="0.9"/><ellipse cx="2.2" cy="21.1" rx="0.6" ry="0.8" fill="#62bcc0" opacity="0.9"/><ellipse cx="32.2" cy="21.1" rx="0.6" ry="0.8" fill="#62bcc0" opacity="0.9"/><ellipse cx="5.9" cy="1.4" rx="1.2" ry="1.4" fill="#1f6a70" opacity="0.9"/><ellipse cx="5.9" cy="31.4" rx="1.2" ry="1.4" fill="#1f6a70" opacity="0.9"/><ellipse cx="0.3" cy="20.6" rx="1.1" ry="1.0" fill="#bfe2e2" opacity="0.9"/><ellipse cx="30.3" cy="20.6" rx="1.1" ry="1.0" fill="#bfe2e2" opacity="0.9"/><ellipse cx="9.9" cy="12.3" rx="1.4" ry="1.2" fill="#1f6a70" opacity="0.9"/><ellipse cx="12.0" cy="9.5" rx="0.9" ry="1.4" fill="#47a5aa" opacity="0.9"/><ellipse cx="22.8" cy="26.5" rx="1.2" ry="1.3" fill="#145055" opacity="0.9"/><ellipse cx="22.8" cy="-3.5" rx="1.2" ry="1.3" fill="#145055" opacity="0.9"/><ellipse cx="0.2" cy="18.2" rx="1.3" ry="0.8" fill="#bfe2e2" opacity="0.9"/><ellipse cx="30.2" cy="18.2" rx="1.3" ry="0.8" fill="#bfe2e2" opacity="0.9"/><ellipse cx="21.9" cy="29.7" rx="1.3" ry="1.1" fill="#62bcc0" opacity="0.9"/><ellipse cx="21.9" cy="-0.3" rx="1.3" ry="1.1" fill="#62bcc0" opacity="0.9"/><ellipse cx="25.3" cy="23.5" rx="1.3" ry="0.6" fill="#145055" opacity="0.9"/><ellipse cx="16.8" cy="20.5" rx="1.0" ry="1.1" fill="#47a5aa" opacity="0.9"/><ellipse cx="29.1" cy="0.0" rx="1.2" ry="1.3" fill="#bfe2e2" opacity="0.9"/><ellipse cx="-0.9" cy="0.0" rx="1.2" ry="1.3" fill="#bfe2e2" opacity="0.9"/><ellipse cx="29.1" cy="30.0" rx="1.2" ry="1.3" fill="#bfe2e2" opacity="0.9"/><ellipse cx="10.3" cy="16.4" rx="0.9" ry="1.3" fill="#145055" opacity="0.9"/><ellipse cx="26.1" cy="10.7" rx="0.7" ry="1.4" fill="#1f6a70" opacity="0.9"/><ellipse cx="-3.9" cy="10.7" rx="0.7" ry="1.4" fill="#1f6a70" opacity="0.9"/><ellipse cx="18.4" cy="20.3" rx="0.9" ry="1.1" fill="#bfe2e2" opacity="0.9"/><ellipse cx="19.9" cy="27.7" rx="1.2" ry="0.8" fill="#47a5aa" opacity="0.9"/><ellipse cx="19.9" cy="-2.3" rx="1.2" ry="0.8" fill="#47a5aa" opacity="0.9"/><ellipse cx="25.7" cy="10.4" rx="1.1" ry="1.1" fill="#8ad0d2" opacity="0.9"/><ellipse cx="2.0" cy="22.7" rx="0.9" ry="0.8" fill="#8ad0d2" opacity="0.9"/><ellipse cx="32.0" cy="22.7" rx="0.9" ry="0.8" fill="#8ad0d2" opacity="0.9"/><ellipse cx="24.4" cy="7.2" rx="0.7" ry="1.3" fill="#47a5aa" opacity="0.9"/><ellipse cx="5.3" cy="28.4" rx="1.3" ry="1.1" fill="#62bcc0" opacity="0.9"/><ellipse cx="5.3" cy="-1.6" rx="1.3" ry="1.1" fill="#62bcc0" opacity="0.9"/><ellipse cx="9.7" cy="10.9" rx="1.3" ry="0.9" fill="#47a5aa" opacity="0.9"/><ellipse cx="4.6" cy="7.5" rx="0.7" ry="0.9" fill="#bfe2e2" opacity="0.9"/><ellipse cx="15.6" cy="13.6" rx="0.7" ry="0.9" fill="#47a5aa" opacity="0.9"/><ellipse cx="20.9" cy="13.5" rx="1.0" ry="1.2" fill="#bfe2e2" opacity="0.9"/><ellipse cx="4.5" cy="20.4" rx="0.9" ry="1.0" fill="#8ad0d2" opacity="0.9"/><ellipse cx="18.7" cy="15.7" rx="1.2" ry="0.8" fill="#bfe2e2" opacity="0.9"/><ellipse cx="6.0" cy="17.1" rx="0.6" ry="0.7" fill="#145055" opacity="0.9"/><ellipse cx="16.3" cy="27.5" rx="0.8" ry="0.8" fill="#47a5aa" opacity="0.9"/><ellipse cx="16.3" cy="-2.5" rx="0.8" ry="0.8" fill="#47a5aa" opacity="0.9"/><ellipse cx="2.7" cy="19.1" rx="1.3" ry="0.8" fill="#47a5aa" opacity="0.9"/><ellipse cx="32.7" cy="19.1" rx="1.3" ry="0.8" fill="#47a5aa" opacity="0.9"/><ellipse cx="28.8" cy="8.7" rx="1.2" ry="1.3" fill="#145055" opacity="0.9"/><ellipse cx="-1.2" cy="8.7" rx="1.2" ry="1.3" fill="#145055" opacity="0.9"/><ellipse cx="13.3" cy="11.0" rx="1.2" ry="0.8" fill="#47a5aa" opacity="0.9"/><ellipse cx="12.9" cy="18.2" rx="0.8" ry="0.8" fill="#bfe2e2" opacity="0.9"/><ellipse cx="3.9" cy="18.6" rx="1.4" ry="1.3" fill="#bfe2e2" opacity="0.9"/><ellipse cx="33.9" cy="18.6" rx="1.4" ry="1.3" fill="#bfe2e2" opacity="0.9"/><ellipse cx="11.2" cy="20.0" rx="0.9" ry="0.7" fill="#47a5aa" opacity="0.9"/><ellipse cx="11.4" cy="15.8" rx="1.0" ry="1.3" fill="#62bcc0" opacity="0.9"/><ellipse cx="3.2" cy="16.9" rx="1.3" ry="1.2" fill="#47a5aa" opacity="0.9"/><ellipse cx="33.2" cy="16.9" rx="1.3" ry="1.2" fill="#47a5aa" opacity="0.9"/><ellipse cx="12.4" cy="14.2" rx="1.3" ry="1.0" fill="#47a5aa" opacity="0.9"/><ellipse cx="4.1" cy="22.6" rx="0.6" ry="0.8" fill="#8ad0d2" opacity="0.9"/><ellipse cx="12.1" cy="1.2" rx="1.1" ry="1.0" fill="#47a5aa" opacity="0.9"/><ellipse cx="12.1" cy="31.2" rx="1.1" ry="1.0" fill="#47a5aa" opacity="0.9"/><ellipse cx="23.1" cy="3.5" rx="0.8" ry="0.7" fill="#62bcc0" opacity="0.9"/><ellipse cx="23.1" cy="33.5" rx="0.8" ry="0.7" fill="#62bcc0" opacity="0.9"/><ellipse cx="3.1" cy="2.6" rx="1.2" ry="1.1" fill="#62bcc0" opacity="0.9"/><ellipse cx="33.1" cy="2.6" rx="1.2" ry="1.1" fill="#62bcc0" opacity="0.9"/><ellipse cx="3.1" cy="32.6" rx="1.2" ry="1.1" fill="#62bcc0" opacity="0.9"/><ellipse cx="24.7" cy="6.0" rx="0.9" ry="1.3" fill="#bfe2e2" opacity="0.9"/><ellipse cx="20.7" cy="12.5" rx="1.1" ry="1.4" fill="#62bcc0" opacity="0.9"/><ellipse cx="26.2" cy="4.4" rx="0.9" ry="1.0" fill="#62bcc0" opacity="0.9"/><ellipse cx="-3.8" cy="4.4" rx="0.9" ry="1.0" fill="#62bcc0" opacity="0.9"/><ellipse cx="5.6" cy="16.2" rx="1.0" ry="0.7" fill="#47a5aa" opacity="0.9"/><ellipse cx="7.7" cy="25.8" rx="1.0" ry="1.0" fill="#47a5aa" opacity="0.9"/><ellipse cx="20.4" cy="9.2" rx="0.8" ry="0.9" fill="#47a5aa" opacity="0.9"/><ellipse cx="25.7" cy="7.7" rx="0.8" ry="0.6" fill="#bfe2e2" opacity="0.9"/><ellipse cx="19.6" cy="28.0" rx="1.1" ry="1.2" fill="#8ad0d2" opacity="0.9"/><ellipse cx="19.6" cy="-2.0" rx="1.1" ry="1.2" fill="#8ad0d2" opacity="0.9"/><ellipse cx="11.0" cy="24.0" rx="0.8" ry="1.3" fill="#bfe2e2" opacity="0.9"/><ellipse cx="19.9" cy="21.9" rx="0.6" ry="0.7" fill="#bfe2e2" opacity="0.9"/><ellipse cx="24.7" cy="1.1" rx="0.8" ry="1.0" fill="#8ad0d2" opacity="0.9"/><ellipse cx="24.7" cy="31.1" rx="0.8" ry="1.0" fill="#8ad0d2" opacity="0.9"/><ellipse cx="21.3" cy="24.1" rx="1.1" ry="1.0" fill="#145055" opacity="0.9"/><ellipse cx="13.3" cy="26.3" rx="0.6" ry="0.9" fill="#145055" opacity="0.9"/><ellipse cx="13.3" cy="-3.7" rx="0.6" ry="0.9" fill="#145055" opacity="0.9"/><ellipse cx="3.7" cy="4.1" rx="1.3" ry="1.3" fill="#47a5aa" opacity="0.9"/><ellipse cx="33.7" cy="4.1" rx="1.3" ry="1.3" fill="#47a5aa" opacity="0.9"/><ellipse cx="5.4" cy="27.7" rx="1.0" ry="1.2" fill="#47a5aa" opacity="0.9"/><ellipse cx="5.4" cy="-2.3" rx="1.0" ry="1.2" fill="#47a5aa" opacity="0.9"/><ellipse cx="6.6" cy="21.6" rx="1.2" ry="1.2" fill="#bfe2e2" opacity="0.9"/><ellipse cx="25.1" cy="4.4" rx="1.3" ry="0.8" fill="#62bcc0" opacity="0.9"/><ellipse cx="14.0" cy="6.0" rx="0.7" ry="0.6" fill="#8ad0d2" opacity="0.9"/><ellipse cx="19.8" cy="7.7" rx="1.3" ry="1.1" fill="#8ad0d2" opacity="0.9"/><ellipse cx="26.0" cy="27.7" rx="0.7" ry="0.7" fill="#47a5aa" opacity="0.9"/><ellipse cx="-4.0" cy="27.7" rx="0.7" ry="0.7" fill="#47a5aa" opacity="0.9"/><ellipse cx="26.0" cy="-2.3" rx="0.7" ry="0.7" fill="#47a5aa" opacity="0.9"/><ellipse cx="8.8" cy="7.0" rx="1.1" ry="0.9" fill="#bfe2e2" opacity="0.9"/><ellipse cx="21.6" cy="9.3" rx="0.8" ry="1.0" fill="#8ad0d2" opacity="0.9"/><ellipse cx="4.6" cy="24.0" rx="1.4" ry="0.9" fill="#62bcc0" opacity="0.9"/><ellipse cx="9.8" cy="4.7" rx="0.8" ry="1.1" fill="#145055" opacity="0.9"/><ellipse cx="2.8" cy="13.9" rx="1.2" ry="0.9" fill="#145055" opacity="0.9"/><ellipse cx="32.8" cy="13.9" rx="1.2" ry="0.9" fill="#145055" opacity="0.9"/><ellipse cx="12.0" cy="1.2" rx="0.9" ry="1.1" fill="#8ad0d2" opacity="0.9"/><ellipse cx="12.0" cy="31.2" rx="0.9" ry="1.1" fill="#8ad0d2" opacity="0.9"/><ellipse cx="29.9" cy="28.2" rx="1.0" ry="0.8" fill="#1f6a70" opacity="0.9"/><ellipse cx="-0.1" cy="28.2" rx="1.0" ry="0.8" fill="#1f6a70" opacity="0.9"/><ellipse cx="29.9" cy="-1.8" rx="1.0" ry="0.8" fill="#1f6a70" opacity="0.9"/><ellipse cx="0.5" cy="23.4" rx="1.3" ry="1.3" fill="#8ad0d2" opacity="0.9"/><ellipse cx="30.5" cy="23.4" rx="1.3" ry="1.3" fill="#8ad0d2" opacity="0.9"/><ellipse cx="14.5" cy="25.9" rx="1.1" ry="1.0" fill="#62bcc0" opacity="0.9"/><ellipse cx="6.0" cy="14.1" rx="1.2" ry="1.2" fill="#8ad0d2" opacity="0.9"/><ellipse cx="17.4" cy="9.0" rx="1.1" ry="0.7" fill="#62bcc0" opacity="0.9"/><ellipse cx="10.3" cy="28.3" rx="1.1" ry="0.6" fill="#1f6a70" opacity="0.9"/><ellipse cx="10.3" cy="-1.7" rx="1.1" ry="0.6" fill="#1f6a70" opacity="0.9"/><ellipse cx="10.5" cy="14.4" rx="0.9" ry="0.9" fill="#62bcc0" opacity="0.9"/><ellipse cx="23.6" cy="8.9" rx="0.7" ry="1.0" fill="#62bcc0" opacity="0.9"/><ellipse cx="22.4" cy="3.4" rx="0.7" ry="0.9" fill="#62bcc0" opacity="0.9"/><ellipse cx="22.4" cy="33.4" rx="0.7" ry="0.9" fill="#62bcc0" opacity="0.9"/><ellipse cx="1.0" cy="15.4" rx="0.7" ry="1.1" fill="#8ad0d2" opacity="0.9"/><ellipse cx="31.0" cy="15.4" rx="0.7" ry="1.1" fill="#8ad0d2" opacity="0.9"/><ellipse cx="12.5" cy="25.1" rx="0.7" ry="1.2" fill="#145055" opacity="0.9"/><ellipse cx="4.9" cy="5.1" rx="1.4" ry="0.9" fill="#145055" opacity="0.9"/><ellipse cx="26.2" cy="14.4" rx="0.7" ry="0.7" fill="#8ad0d2" opacity="0.9"/><ellipse cx="-3.8" cy="14.4" rx="0.7" ry="0.7" fill="#8ad0d2" opacity="0.9"/><ellipse cx="3.5" cy="14.9" rx="1.0" ry="0.7" fill="#47a5aa" opacity="0.9"/><ellipse cx="33.5" cy="14.9" rx="1.0" ry="0.7" fill="#47a5aa" opacity="0.9"/><ellipse cx="7.4" cy="17.1" rx="0.6" ry="0.8" fill="#8ad0d2" opacity="0.9"/><ellipse cx="8.5" cy="16.7" rx="1.4" ry="1.3" fill="#145055" opacity="0.9"/><ellipse cx="26.1" cy="15.1" rx="1.3" ry="0.6" fill="#62bcc0" opacity="0.9"/><ellipse cx="-3.9" cy="15.1" rx="1.3" ry="0.6" fill="#62bcc0" opacity="0.9"/><ellipse cx="14.7" cy="23.7" rx="1.1" ry="1.2" fill="#8ad0d2" opacity="0.9"/><ellipse cx="2.6" cy="5.1" rx="1.3" ry="1.4" fill="#47a5aa" opacity="0.9"/><ellipse cx="32.6" cy="5.1" rx="1.3" ry="1.4" fill="#47a5aa" opacity="0.9"/><ellipse cx="11.8" cy="15.5" rx="0.8" ry="1.3" fill="#62bcc0" opacity="0.9"/><ellipse cx="19.9" cy="6.5" rx="0.8" ry="1.2" fill="#bfe2e2" opacity="0.9"/><ellipse cx="21.3" cy="1.9" rx="0.8" ry="1.1" fill="#62bcc0" opacity="0.9"/><ellipse cx="21.3" cy="31.9" rx="0.8" ry="1.1" fill="#62bcc0" opacity="0.9"/><ellipse cx="1.2" cy="18.5" rx="1.2" ry="1.3" fill="#1f6a70" opacity="0.9"/><ellipse cx="31.2" cy="18.5" rx="1.2" ry="1.3" fill="#1f6a70" opacity="0.9"/><ellipse cx="2.5" cy="22.8" rx="1.1" ry="0.7" fill="#1f6a70" opacity="0.9"/><ellipse cx="32.5" cy="22.8" rx="1.1" ry="0.7" fill="#1f6a70" opacity="0.9"/><ellipse cx="28.2" cy="12.4" rx="0.9" ry="0.7" fill="#8ad0d2" opacity="0.9"/><ellipse cx="-1.8" cy="12.4" rx="0.9" ry="0.7" fill="#8ad0d2" opacity="0.9"/><ellipse cx="4.4" cy="15.3" rx="0.7" ry="1.2" fill="#8ad0d2" opacity="0.9"/><ellipse cx="6.1" cy="27.7" rx="1.1" ry="1.2" fill="#62bcc0" opacity="0.9"/><ellipse cx="6.1" cy="-2.3" rx="1.1" ry="1.2" fill="#62bcc0" opacity="0.9"/><ellipse cx="29.9" cy="23.7" rx="1.0" ry="1.0" fill="#1f6a70" opacity="0.9"/><ellipse cx="-0.1" cy="23.7" rx="1.0" ry="1.0" fill="#1f6a70" opacity="0.9"/><ellipse cx="27.2" cy="22.5" rx="1.1" ry="0.8" fill="#145055" opacity="0.9"/><ellipse cx="-2.8" cy="22.5" rx="1.1" ry="0.8" fill="#145055" opacity="0.9"/><ellipse cx="1.5" cy="11.0" rx="0.9" ry="1.1" fill="#1f6a70" opacity="0.9"/><ellipse cx="31.5" cy="11.0" rx="0.9" ry="1.1" fill="#1f6a70" opacity="0.9"/><ellipse cx="17.5" cy="24.1" rx="1.0" ry="1.2" fill="#47a5aa" opacity="0.9"/><ellipse cx="4.0" cy="24.9" rx="1.3" ry="1.3" fill="#145055" opacity="0.9"/><ellipse cx="14.0" cy="23.7" rx="1.1" ry="0.7" fill="#47a5aa" opacity="0.9"/><ellipse cx="24.8" cy="23.5" rx="1.3" ry="0.8" fill="#bfe2e2" opacity="0.9"/><ellipse cx="16.0" cy="28.4" rx="0.7" ry="1.4" fill="#1f6a70" opacity="0.9"/><ellipse cx="16.0" cy="-1.6" rx="0.7" ry="1.4" fill="#1f6a70" opacity="0.9"/><ellipse cx="22.5" cy="25.4" rx="0.8" ry="1.1" fill="#bfe2e2" opacity="0.9"/><ellipse cx="7.1" cy="14.8" rx="1.3" ry="1.1" fill="#145055" opacity="0.9"/><ellipse cx="1.5" cy="19.9" rx="0.9" ry="1.1" fill="#1f6a70" opacity="0.9"/><ellipse cx="31.5" cy="19.9" rx="0.9" ry="1.1" fill="#1f6a70" opacity="0.9"/><ellipse cx="24.8" cy="12.2" rx="0.7" ry="1.1" fill="#1f6a70" opacity="0.9"/><ellipse cx="19.9" cy="27.1" rx="0.9" ry="0.8" fill="#1f6a70" opacity="0.9"/><ellipse cx="19.9" cy="-2.9" rx="0.9" ry="0.8" fill="#1f6a70" opacity="0.9"/><ellipse cx="14.7" cy="0.5" rx="0.7" ry="1.2" fill="#47a5aa" opacity="0.9"/><ellipse cx="14.7" cy="30.5" rx="0.7" ry="1.2" fill="#47a5aa" opacity="0.9"/><ellipse cx="12.3" cy="9.0" rx="0.7" ry="1.0" fill="#62bcc0" opacity="0.9"/><ellipse cx="10.6" cy="25.3" rx="1.1" ry="0.8" fill="#62bcc0" opacity="0.9"/><ellipse cx="29.8" cy="5.6" rx="1.3" ry="0.9" fill="#bfe2e2" opacity="0.9"/><ellipse cx="-0.2" cy="5.6" rx="1.3" ry="0.9" fill="#bfe2e2" opacity="0.9"/><ellipse cx="24.2" cy="3.6" rx="1.1" ry="0.6" fill="#8ad0d2" opacity="0.9"/><ellipse cx="24.2" cy="33.6" rx="1.1" ry="0.6" fill="#8ad0d2" opacity="0.9"/><ellipse cx="11.7" cy="10.0" rx="0.7" ry="0.7" fill="#1f6a70" opacity="0.9"/><ellipse cx="26.7" cy="18.3" rx="1.3" ry="0.9" fill="#47a5aa" opacity="0.9"/><ellipse cx="-3.3" cy="18.3" rx="1.3" ry="0.9" fill="#47a5aa" opacity="0.9"/><ellipse cx="9.6" cy="26.3" rx="1.2" ry="1.1" fill="#8ad0d2" opacity="0.9"/><ellipse cx="9.6" cy="-3.7" rx="1.2" ry="1.1" fill="#8ad0d2" opacity="0.9"/><ellipse cx="11.7" cy="0.3" rx="1.3" ry="0.7" fill="#8ad0d2" opacity="0.9"/><ellipse cx="11.7" cy="30.3" rx="1.3" ry="0.7" fill="#8ad0d2" opacity="0.9"/><ellipse cx="13.6" cy="24.3" rx="0.8" ry="0.9" fill="#62bcc0" opacity="0.9"/><ellipse cx="29.5" cy="22.0" rx="1.2" ry="1.1" fill="#8ad0d2" opacity="0.9"/><ellipse cx="-0.5" cy="22.0" rx="1.2" ry="1.1" fill="#8ad0d2" opacity="0.9"/><ellipse cx="27.9" cy="26.8" rx="1.1" ry="0.7" fill="#bfe2e2" opacity="0.9"/><ellipse cx="-2.1" cy="26.8" rx="1.1" ry="0.7" fill="#bfe2e2" opacity="0.9"/><ellipse cx="27.9" cy="-3.2" rx="1.1" ry="0.7" fill="#bfe2e2" opacity="0.9"/><ellipse cx="9.9" cy="8.0" rx="0.8" ry="0.8" fill="#145055" opacity="0.9"/><ellipse cx="19.0" cy="11.3" rx="1.0" ry="1.1" fill="#145055" opacity="0.9"/><ellipse cx="14.9" cy="10.9" rx="1.4" ry="0.6" fill="#145055" opacity="0.9"/><ellipse cx="3.6" cy="11.3" rx="0.8" ry="1.0" fill="#8ad0d2" opacity="0.9"/><ellipse cx="33.6" cy="11.3" rx="0.8" ry="1.0" fill="#8ad0d2" opacity="0.9"/><ellipse cx="21.9" cy="22.5" rx="0.6" ry="0.9" fill="#8ad0d2" opacity="0.9"/><ellipse cx="0.2" cy="28.1" rx="0.8" ry="0.8" fill="#bfe2e2" opacity="0.9"/><ellipse cx="30.2" cy="28.1" rx="0.8" ry="0.8" fill="#bfe2e2" opacity="0.9"/><ellipse cx="0.2" cy="-1.9" rx="0.8" ry="0.8" fill="#bfe2e2" opacity="0.9"/><ellipse cx="15.2" cy="29.9" rx="0.7" ry="1.1" fill="#1f6a70" opacity="0.9"/><ellipse cx="15.2" cy="-0.1" rx="0.7" ry="1.1" fill="#1f6a70" opacity="0.9"/><ellipse cx="18.8" cy="7.3" rx="1.2" ry="0.6" fill="#bfe2e2" opacity="0.9"/><ellipse cx="29.3" cy="19.5" rx="1.2" ry="1.1" fill="#47a5aa" opacity="0.9"/><ellipse cx="-0.7" cy="19.5" rx="1.2" ry="1.1" fill="#47a5aa" opacity="0.9"/><ellipse cx="14.8" cy="29.2" rx="0.9" ry="1.3" fill="#1f6a70" opacity="0.9"/><ellipse cx="14.8" cy="-0.8" rx="0.9" ry="1.3" fill="#1f6a70" opacity="0.9"/><ellipse cx="4.9" cy="17.3" rx="1.3" ry="1.2" fill="#1f6a70" opacity="0.9"/><ellipse cx="26.8" cy="6.0" rx="1.2" ry="0.6" fill="#1f6a70" opacity="0.9"/><ellipse cx="-3.2" cy="6.0" rx="1.2" ry="0.6" fill="#1f6a70" opacity="0.9"/><ellipse cx="22.2" cy="5.1" rx="0.8" ry="0.6" fill="#1f6a70" opacity="0.9"/><ellipse cx="29.1" cy="23.3" rx="0.9" ry="1.2" fill="#1f6a70" opacity="0.9"/><ellipse cx="-0.9" cy="23.3" rx="0.9" ry="1.2" fill="#1f6a70" opacity="0.9"/><ellipse cx="9.3" cy="28.3" rx="0.8" ry="0.9" fill="#47a5aa" opacity="0.9"/><ellipse cx="9.3" cy="-1.7" rx="0.8" ry="0.9" fill="#47a5aa" opacity="0.9"/><ellipse cx="12.1" cy="20.4" rx="0.9" ry="0.9" fill="#47a5aa" opacity="0.9"/><ellipse cx="8.0" cy="6.1" rx="1.3" ry="1.0" fill="#47a5aa" opacity="0.9"/><ellipse cx="19.1" cy="23.4" rx="0.9" ry="0.7" fill="#bfe2e2" opacity="0.9"/><ellipse cx="14.1" cy="16.8" rx="1.1" ry="1.2" fill="#1f6a70" opacity="0.9"/><ellipse cx="11.7" cy="21.5" rx="0.9" ry="1.2" fill="#145055" opacity="0.9"/><ellipse cx="3.6" cy="13.5" rx="0.6" ry="1.0" fill="#145055" opacity="0.9"/><ellipse cx="33.6" cy="13.5" rx="0.6" ry="1.0" fill="#145055" opacity="0.9"/><ellipse cx="17.0" cy="10.6" rx="1.4" ry="0.8" fill="#8ad0d2" opacity="0.9"/><ellipse cx="26.6" cy="26.3" rx="0.7" ry="1.1" fill="#47a5aa" opacity="0.9"/><ellipse cx="-3.4" cy="26.3" rx="0.7" ry="1.1" fill="#47a5aa" opacity="0.9"/><ellipse cx="26.6" cy="-3.7" rx="0.7" ry="1.1" fill="#47a5aa" opacity="0.9"/><ellipse cx="25.0" cy="21.4" rx="1.3" ry="0.7" fill="#8ad0d2" opacity="0.9"/><ellipse cx="29.0" cy="19.0" rx="1.2" ry="1.2" fill="#47a5aa" opacity="0.9"/><ellipse cx="-1.0" cy="19.0" rx="1.2" ry="1.2" fill="#47a5aa" opacity="0.9"/><ellipse cx="25.2" cy="23.7" rx="1.3" ry="0.9" fill="#47a5aa" opacity="0.9"/><ellipse cx="24.2" cy="10.5" rx="0.7" ry="1.3" fill="#bfe2e2" opacity="0.9"/><ellipse cx="22.1" cy="12.4" rx="1.3" ry="0.8" fill="#8ad0d2" opacity="0.9"/></pattern><pattern id="pC2d" width="30" height="30" patternUnits="userSpaceOnUse"><rect width="30" height="30" fill="#031517"/><ellipse cx="10.2" cy="2.0" rx="0.9" ry="1.0" fill="#15777d" opacity="0.9"/><ellipse cx="10.2" cy="32.0" rx="0.9" ry="1.0" fill="#15777d" opacity="0.9"/><ellipse cx="20.0" cy="17.3" rx="0.9" ry="1.1" fill="#06282b" opacity="0.9"/><ellipse cx="23.6" cy="20.4" rx="1.3" ry="0.7" fill="#010808" opacity="0.9"/><ellipse cx="20.1" cy="22.6" rx="1.0" ry="1.3" fill="#0a3c40" opacity="0.9"/><ellipse cx="22.3" cy="24.6" rx="1.1" ry="1.3" fill="#010808" opacity="0.9"/><ellipse cx="19.4" cy="26.3" rx="0.9" ry="1.3" fill="#0a3c40" opacity="0.9"/><ellipse cx="19.4" cy="-3.7" rx="0.9" ry="1.3" fill="#0a3c40" opacity="0.9"/><ellipse cx="23.1" cy="18.1" rx="1.0" ry="1.1" fill="#010808" opacity="0.9"/><ellipse cx="9.3" cy="10.8" rx="1.1" ry="1.3" fill="#0a3c40" opacity="0.9"/><ellipse cx="10.8" cy="21.0" rx="0.7" ry="1.3" fill="#06282b" opacity="0.9"/><ellipse cx="6.6" cy="13.7" rx="1.2" ry="1.0" fill="#15777d" opacity="0.9"/><ellipse cx="1.8" cy="13.4" rx="1.0" ry="1.2" fill="#0a3c40" opacity="0.9"/><ellipse cx="31.8" cy="13.4" rx="1.0" ry="1.2" fill="#0a3c40" opacity="0.9"/><ellipse cx="16.1" cy="14.0" rx="1.0" ry="0.8" fill="#06282b" opacity="0.9"/><ellipse cx="28.9" cy="15.9" rx="0.8" ry="1.0" fill="#010808" opacity="0.9"/><ellipse cx="-1.1" cy="15.9" rx="0.8" ry="1.0" fill="#010808" opacity="0.9"/><ellipse cx="8.5" cy="29.2" rx="1.1" ry="1.2" fill="#010808" opacity="0.9"/><ellipse cx="8.5" cy="-0.8" rx="1.1" ry="1.2" fill="#010808" opacity="0.9"/><ellipse cx="23.3" cy="0.9" rx="1.0" ry="0.9" fill="#0a3c40" opacity="0.9"/><ellipse cx="23.3" cy="30.9" rx="1.0" ry="0.9" fill="#0a3c40" opacity="0.9"/><ellipse cx="28.6" cy="8.2" rx="0.7" ry="0.7" fill="#000000" opacity="0.9"/><ellipse cx="-1.4" cy="8.2" rx="0.7" ry="0.7" fill="#000000" opacity="0.9"/><ellipse cx="15.4" cy="17.7" rx="0.8" ry="1.3" fill="#0a3c40" opacity="0.9"/><ellipse cx="24.1" cy="28.8" rx="0.9" ry="1.4" fill="#0a3c40" opacity="0.9"/><ellipse cx="24.1" cy="-1.2" rx="0.9" ry="1.4" fill="#0a3c40" opacity="0.9"/><ellipse cx="19.3" cy="17.3" rx="0.9" ry="1.4" fill="#15777d" opacity="0.9"/><ellipse cx="13.6" cy="10.3" rx="0.8" ry="0.9" fill="#06282b" opacity="0.9"/><ellipse cx="22.8" cy="2.3" rx="1.3" ry="0.6" fill="#010808" opacity="0.9"/><ellipse cx="22.8" cy="32.3" rx="1.3" ry="0.6" fill="#010808" opacity="0.9"/><ellipse cx="23.7" cy="22.3" rx="1.2" ry="0.8" fill="#06282b" opacity="0.9"/><ellipse cx="22.4" cy="28.4" rx="1.3" ry="1.2" fill="#0a3c40" opacity="0.9"/><ellipse cx="22.4" cy="-1.6" rx="1.3" ry="1.2" fill="#0a3c40" opacity="0.9"/><ellipse cx="1.9" cy="6.2" rx="0.6" ry="1.3" fill="#15777d" opacity="0.9"/><ellipse cx="31.9" cy="6.2" rx="0.6" ry="1.3" fill="#15777d" opacity="0.9"/><ellipse cx="7.9" cy="10.7" rx="0.7" ry="1.1" fill="#06282b" opacity="0.9"/><ellipse cx="9.2" cy="1.3" rx="0.7" ry="0.9" fill="#0a3c40" opacity="0.9"/><ellipse cx="9.2" cy="31.3" rx="0.7" ry="0.9" fill="#0a3c40" opacity="0.9"/><ellipse cx="24.1" cy="13.7" rx="0.7" ry="0.7" fill="#010808" opacity="0.9"/><ellipse cx="10.9" cy="26.5" rx="1.0" ry="0.7" fill="#06282b" opacity="0.9"/><ellipse cx="10.9" cy="-3.5" rx="1.0" ry="0.7" fill="#06282b" opacity="0.9"/><ellipse cx="23.8" cy="14.3" rx="1.3" ry="0.7" fill="#0a3c40" opacity="0.9"/><ellipse cx="15.8" cy="7.5" rx="0.9" ry="0.9" fill="#0a3c40" opacity="0.9"/><ellipse cx="28.1" cy="5.8" rx="0.8" ry="1.3" fill="#15777d" opacity="0.9"/><ellipse cx="-1.9" cy="5.8" rx="0.8" ry="1.3" fill="#15777d" opacity="0.9"/><ellipse cx="13.1" cy="22.0" rx="0.9" ry="1.2" fill="#000000" opacity="0.9"/><ellipse cx="4.0" cy="0.4" rx="0.8" ry="1.1" fill="#000000" opacity="0.9"/><ellipse cx="4.0" cy="30.4" rx="0.8" ry="1.1" fill="#000000" opacity="0.9"/><ellipse cx="0.8" cy="24.4" rx="1.4" ry="0.7" fill="#0a3c40" opacity="0.9"/><ellipse cx="30.8" cy="24.4" rx="1.4" ry="0.7" fill="#0a3c40" opacity="0.9"/><ellipse cx="6.1" cy="17.2" rx="1.3" ry="1.3" fill="#06282b" opacity="0.9"/><ellipse cx="18.7" cy="26.6" rx="1.0" ry="1.1" fill="#010808" opacity="0.9"/><ellipse cx="18.7" cy="-3.4" rx="1.0" ry="1.1" fill="#010808" opacity="0.9"/><ellipse cx="0.2" cy="6.1" rx="0.9" ry="1.3" fill="#0a3c40" opacity="0.9"/><ellipse cx="30.2" cy="6.1" rx="0.9" ry="1.3" fill="#0a3c40" opacity="0.9"/><ellipse cx="17.7" cy="3.8" rx="0.8" ry="1.0" fill="#15777d" opacity="0.9"/><ellipse cx="17.7" cy="33.8" rx="0.8" ry="1.0" fill="#15777d" opacity="0.9"/><ellipse cx="27.6" cy="20.6" rx="1.3" ry="1.2" fill="#15777d" opacity="0.9"/><ellipse cx="-2.4" cy="20.6" rx="1.3" ry="1.2" fill="#15777d" opacity="0.9"/><ellipse cx="21.7" cy="1.6" rx="1.0" ry="0.9" fill="#010808" opacity="0.9"/><ellipse cx="21.7" cy="31.6" rx="1.0" ry="0.9" fill="#010808" opacity="0.9"/><ellipse cx="21.5" cy="14.1" rx="1.3" ry="1.1" fill="#0a3c40" opacity="0.9"/><ellipse cx="27.3" cy="18.0" rx="0.7" ry="0.8" fill="#010808" opacity="0.9"/><ellipse cx="-2.7" cy="18.0" rx="0.7" ry="0.8" fill="#010808" opacity="0.9"/><ellipse cx="0.1" cy="17.0" rx="1.2" ry="0.8" fill="#0a3c40" opacity="0.9"/><ellipse cx="30.1" cy="17.0" rx="1.2" ry="0.8" fill="#0a3c40" opacity="0.9"/><ellipse cx="7.3" cy="27.2" rx="0.8" ry="0.6" fill="#000000" opacity="0.9"/><ellipse cx="7.3" cy="-2.8" rx="0.8" ry="0.6" fill="#000000" opacity="0.9"/><ellipse cx="1.5" cy="7.2" rx="1.3" ry="0.8" fill="#0a3c40" opacity="0.9"/><ellipse cx="31.5" cy="7.2" rx="1.3" ry="0.8" fill="#0a3c40" opacity="0.9"/><ellipse cx="27.9" cy="19.2" rx="1.3" ry="0.8" fill="#010808" opacity="0.9"/><ellipse cx="-2.1" cy="19.2" rx="1.3" ry="0.8" fill="#010808" opacity="0.9"/><ellipse cx="14.0" cy="14.4" rx="1.4" ry="1.2" fill="#0a3c40" opacity="0.9"/><ellipse cx="5.6" cy="24.2" rx="0.7" ry="1.0" fill="#0a3c40" opacity="0.9"/><ellipse cx="15.3" cy="28.7" rx="0.9" ry="1.3" fill="#0a3c40" opacity="0.9"/><ellipse cx="15.3" cy="-1.3" rx="0.9" ry="1.3" fill="#0a3c40" opacity="0.9"/><ellipse cx="25.5" cy="16.7" rx="1.3" ry="1.0" fill="#15777d" opacity="0.9"/><ellipse cx="18.4" cy="23.8" rx="1.0" ry="1.2" fill="#15777d" opacity="0.9"/><ellipse cx="18.5" cy="13.7" rx="1.1" ry="1.0" fill="#010808" opacity="0.9"/><ellipse cx="0.7" cy="24.9" rx="1.2" ry="1.0" fill="#0a3c40" opacity="0.9"/><ellipse cx="30.7" cy="24.9" rx="1.2" ry="1.0" fill="#0a3c40" opacity="0.9"/><ellipse cx="21.2" cy="22.1" rx="1.1" ry="1.4" fill="#15777d" opacity="0.9"/><ellipse cx="29.3" cy="16.4" rx="0.9" ry="0.7" fill="#010808" opacity="0.9"/><ellipse cx="-0.7" cy="16.4" rx="0.9" ry="0.7" fill="#010808" opacity="0.9"/><ellipse cx="25.5" cy="25.4" rx="0.7" ry="0.9" fill="#06282b" opacity="0.9"/><ellipse cx="9.3" cy="8.9" rx="1.0" ry="1.1" fill="#06282b" opacity="0.9"/><ellipse cx="23.1" cy="0.2" rx="0.7" ry="0.7" fill="#15777d" opacity="0.9"/><ellipse cx="23.1" cy="30.2" rx="0.7" ry="0.7" fill="#15777d" opacity="0.9"/><ellipse cx="6.4" cy="11.6" rx="1.4" ry="1.3" fill="#15777d" opacity="0.9"/><ellipse cx="19.5" cy="27.5" rx="1.2" ry="1.2" fill="#0a3c40" opacity="0.9"/><ellipse cx="19.5" cy="-2.5" rx="1.2" ry="1.2" fill="#0a3c40" opacity="0.9"/><ellipse cx="25.1" cy="21.5" rx="0.6" ry="1.1" fill="#000000" opacity="0.9"/><ellipse cx="24.0" cy="1.6" rx="1.1" ry="0.8" fill="#06282b" opacity="0.9"/><ellipse cx="24.0" cy="31.6" rx="1.1" ry="0.8" fill="#06282b" opacity="0.9"/><ellipse cx="21.2" cy="7.6" rx="0.8" ry="0.9" fill="#06282b" opacity="0.9"/><ellipse cx="11.5" cy="4.9" rx="0.7" ry="1.4" fill="#000000" opacity="0.9"/><ellipse cx="22.9" cy="25.1" rx="1.4" ry="1.2" fill="#06282b" opacity="0.9"/><ellipse cx="24.1" cy="0.4" rx="1.0" ry="0.9" fill="#15777d" opacity="0.9"/><ellipse cx="24.1" cy="30.4" rx="1.0" ry="0.9" fill="#15777d" opacity="0.9"/><ellipse cx="26.6" cy="27.6" rx="0.9" ry="1.2" fill="#010808" opacity="0.9"/><ellipse cx="-3.4" cy="27.6" rx="0.9" ry="1.2" fill="#010808" opacity="0.9"/><ellipse cx="26.6" cy="-2.4" rx="0.9" ry="1.2" fill="#010808" opacity="0.9"/><ellipse cx="26.7" cy="23.8" rx="1.0" ry="0.7" fill="#06282b" opacity="0.9"/><ellipse cx="-3.3" cy="23.8" rx="1.0" ry="0.7" fill="#06282b" opacity="0.9"/><ellipse cx="12.8" cy="10.1" rx="0.7" ry="0.7" fill="#000000" opacity="0.9"/><ellipse cx="4.8" cy="15.9" rx="1.1" ry="1.0" fill="#000000" opacity="0.9"/><ellipse cx="27.9" cy="15.6" rx="1.2" ry="1.1" fill="#010808" opacity="0.9"/><ellipse cx="-2.1" cy="15.6" rx="1.2" ry="1.1" fill="#010808" opacity="0.9"/><ellipse cx="6.5" cy="22.7" rx="1.3" ry="1.2" fill="#000000" opacity="0.9"/><ellipse cx="21.5" cy="29.7" rx="0.7" ry="1.0" fill="#010808" opacity="0.9"/><ellipse cx="21.5" cy="-0.3" rx="0.7" ry="1.0" fill="#010808" opacity="0.9"/><ellipse cx="20.7" cy="22.4" rx="1.2" ry="0.8" fill="#06282b" opacity="0.9"/><ellipse cx="28.8" cy="2.8" rx="1.3" ry="1.1" fill="#15777d" opacity="0.9"/><ellipse cx="-1.2" cy="2.8" rx="1.3" ry="1.1" fill="#15777d" opacity="0.9"/><ellipse cx="28.8" cy="32.8" rx="1.3" ry="1.1" fill="#15777d" opacity="0.9"/><ellipse cx="28.9" cy="19.3" rx="1.1" ry="1.1" fill="#15777d" opacity="0.9"/><ellipse cx="-1.1" cy="19.3" rx="1.1" ry="1.1" fill="#15777d" opacity="0.9"/><ellipse cx="2.0" cy="11.7" rx="0.7" ry="1.2" fill="#15777d" opacity="0.9"/><ellipse cx="32.0" cy="11.7" rx="0.7" ry="1.2" fill="#15777d" opacity="0.9"/><ellipse cx="0.4" cy="10.8" rx="0.7" ry="0.7" fill="#000000" opacity="0.9"/><ellipse cx="30.4" cy="10.8" rx="0.7" ry="0.7" fill="#000000" opacity="0.9"/><ellipse cx="19.5" cy="15.3" rx="1.3" ry="1.3" fill="#000000" opacity="0.9"/><ellipse cx="5.3" cy="3.0" rx="0.8" ry="0.9" fill="#010808" opacity="0.9"/><ellipse cx="5.3" cy="33.0" rx="0.8" ry="0.9" fill="#010808" opacity="0.9"/></pattern><pattern id="pC2w" width="30" height="30" patternUnits="userSpaceOnUse"><rect width="30" height="30" fill="#54878b"/><ellipse cx="13.3" cy="21.8" rx="0.7" ry="1.3" fill="#d0dcdc" opacity="0.9"/><ellipse cx="9.7" cy="6.2" rx="0.9" ry="1.2" fill="#b49498" opacity="0.9"/><ellipse cx="25.7" cy="24.1" rx="1.1" ry="0.8" fill="#88b8bc" opacity="0.9"/><ellipse cx="25.4" cy="2.2" rx="0.7" ry="1.2" fill="#2a6e74" opacity="0.9"/><ellipse cx="25.4" cy="32.2" rx="0.7" ry="1.2" fill="#2a6e74" opacity="0.9"/><ellipse cx="19.8" cy="5.4" rx="0.7" ry="0.7" fill="#88b8bc" opacity="0.9"/><ellipse cx="11.5" cy="19.6" rx="1.1" ry="0.8" fill="#b49498" opacity="0.9"/><ellipse cx="8.9" cy="8.0" rx="1.3" ry="1.3" fill="#d0dcdc" opacity="0.9"/><ellipse cx="10.9" cy="21.7" rx="0.7" ry="1.2" fill="#2a6e74" opacity="0.9"/><ellipse cx="11.1" cy="5.0" rx="1.1" ry="1.3" fill="#3f8a90" opacity="0.9"/><ellipse cx="8.6" cy="11.4" rx="1.2" ry="0.8" fill="#c8b0b4" opacity="0.9"/><ellipse cx="26.6" cy="22.9" rx="1.3" ry="0.8" fill="#183c40" opacity="0.9"/><ellipse cx="-3.4" cy="22.9" rx="1.3" ry="0.8" fill="#183c40" opacity="0.9"/><ellipse cx="7.9" cy="0.2" rx="0.7" ry="0.9" fill="#d0dcdc" opacity="0.9"/><ellipse cx="7.9" cy="30.2" rx="0.7" ry="0.9" fill="#d0dcdc" opacity="0.9"/><ellipse cx="7.0" cy="0.9" rx="1.0" ry="0.7" fill="#183c40" opacity="0.9"/><ellipse cx="7.0" cy="30.9" rx="1.0" ry="0.7" fill="#183c40" opacity="0.9"/><ellipse cx="16.7" cy="14.8" rx="0.9" ry="1.0" fill="#3f8a90" opacity="0.9"/><ellipse cx="27.3" cy="12.8" rx="0.6" ry="0.8" fill="#2a6e74" opacity="0.9"/><ellipse cx="-2.7" cy="12.8" rx="0.6" ry="0.8" fill="#2a6e74" opacity="0.9"/><ellipse cx="10.8" cy="14.1" rx="1.3" ry="1.0" fill="#b49498" opacity="0.9"/><ellipse cx="15.3" cy="14.5" rx="0.8" ry="1.1" fill="#7a4a52" opacity="0.9"/><ellipse cx="3.3" cy="28.3" rx="1.0" ry="0.8" fill="#3f8a90" opacity="0.9"/><ellipse cx="33.3" cy="28.3" rx="1.0" ry="0.8" fill="#3f8a90" opacity="0.9"/><ellipse cx="3.3" cy="-1.7" rx="1.0" ry="0.8" fill="#3f8a90" opacity="0.9"/><ellipse cx="15.3" cy="9.5" rx="0.7" ry="1.0" fill="#183c40" opacity="0.9"/><ellipse cx="27.7" cy="13.8" rx="1.2" ry="0.7" fill="#183c40" opacity="0.9"/><ellipse cx="-2.3" cy="13.8" rx="1.2" ry="0.7" fill="#183c40" opacity="0.9"/><ellipse cx="18.9" cy="2.9" rx="0.8" ry="1.2" fill="#b49498" opacity="0.9"/><ellipse cx="18.9" cy="32.9" rx="0.8" ry="1.2" fill="#b49498" opacity="0.9"/><ellipse cx="3.6" cy="29.5" rx="1.0" ry="0.7" fill="#88b8bc" opacity="0.9"/><ellipse cx="33.6" cy="29.5" rx="1.0" ry="0.7" fill="#88b8bc" opacity="0.9"/><ellipse cx="3.6" cy="-0.5" rx="1.0" ry="0.7" fill="#88b8bc" opacity="0.9"/><ellipse cx="18.8" cy="24.3" rx="1.3" ry="1.1" fill="#88b8bc" opacity="0.9"/><ellipse cx="16.1" cy="7.0" rx="1.0" ry="1.1" fill="#d0dcdc" opacity="0.9"/><ellipse cx="4.4" cy="24.1" rx="1.4" ry="1.2" fill="#d0dcdc" opacity="0.9"/><ellipse cx="19.7" cy="19.5" rx="1.2" ry="0.6" fill="#183c40" opacity="0.9"/><ellipse cx="27.0" cy="2.5" rx="0.8" ry="0.6" fill="#183c40" opacity="0.9"/><ellipse cx="-3.0" cy="2.5" rx="0.8" ry="0.6" fill="#183c40" opacity="0.9"/><ellipse cx="27.0" cy="32.5" rx="0.8" ry="0.6" fill="#183c40" opacity="0.9"/><ellipse cx="29.3" cy="25.2" rx="0.8" ry="0.9" fill="#c8b0b4" opacity="0.9"/><ellipse cx="-0.7" cy="25.2" rx="0.8" ry="0.9" fill="#c8b0b4" opacity="0.9"/><ellipse cx="28.2" cy="12.1" rx="1.1" ry="0.6" fill="#183c40" opacity="0.9"/><ellipse cx="-1.8" cy="12.1" rx="1.1" ry="0.6" fill="#183c40" opacity="0.9"/><ellipse cx="7.0" cy="14.3" rx="1.0" ry="1.4" fill="#183c40" opacity="0.9"/><ellipse cx="20.2" cy="6.4" rx="1.3" ry="0.8" fill="#183c40" opacity="0.9"/><ellipse cx="6.1" cy="30.0" rx="1.0" ry="0.8" fill="#d0dcdc" opacity="0.9"/><ellipse cx="6.1" cy="-0.0" rx="1.0" ry="0.8" fill="#d0dcdc" opacity="0.9"/><ellipse cx="1.0" cy="5.3" rx="0.9" ry="1.2" fill="#d0dcdc" opacity="0.9"/><ellipse cx="31.0" cy="5.3" rx="0.9" ry="1.2" fill="#d0dcdc" opacity="0.9"/><ellipse cx="23.1" cy="7.2" rx="1.3" ry="0.7" fill="#2a6e74" opacity="0.9"/><ellipse cx="18.2" cy="14.3" rx="1.0" ry="0.9" fill="#2a6e74" opacity="0.9"/><ellipse cx="7.2" cy="3.6" rx="1.4" ry="0.7" fill="#3f8a90" opacity="0.9"/><ellipse cx="7.2" cy="33.6" rx="1.4" ry="0.7" fill="#3f8a90" opacity="0.9"/><ellipse cx="30.0" cy="4.1" rx="0.9" ry="1.2" fill="#3f8a90" opacity="0.9"/><ellipse cx="-0.0" cy="4.1" rx="0.9" ry="1.2" fill="#3f8a90" opacity="0.9"/><ellipse cx="7.0" cy="5.0" rx="1.1" ry="1.0" fill="#7a4a52" opacity="0.9"/><ellipse cx="7.6" cy="17.1" rx="0.8" ry="0.7" fill="#2a6e74" opacity="0.9"/><ellipse cx="29.0" cy="21.4" rx="0.7" ry="0.9" fill="#b49498" opacity="0.9"/><ellipse cx="-1.0" cy="21.4" rx="0.7" ry="0.9" fill="#b49498" opacity="0.9"/><ellipse cx="29.0" cy="27.1" rx="0.7" ry="1.2" fill="#3f8a90" opacity="0.9"/><ellipse cx="-1.0" cy="27.1" rx="0.7" ry="1.2" fill="#3f8a90" opacity="0.9"/><ellipse cx="29.0" cy="-2.9" rx="0.7" ry="1.2" fill="#3f8a90" opacity="0.9"/><ellipse cx="26.1" cy="12.6" rx="1.0" ry="1.3" fill="#b49498" opacity="0.9"/><ellipse cx="-3.9" cy="12.6" rx="1.0" ry="1.3" fill="#b49498" opacity="0.9"/><ellipse cx="13.4" cy="15.0" rx="1.0" ry="1.1" fill="#d0dcdc" opacity="0.9"/><ellipse cx="27.0" cy="28.9" rx="0.8" ry="0.7" fill="#2a6e74" opacity="0.9"/><ellipse cx="-3.0" cy="28.9" rx="0.8" ry="0.7" fill="#2a6e74" opacity="0.9"/><ellipse cx="27.0" cy="-1.1" rx="0.8" ry="0.7" fill="#2a6e74" opacity="0.9"/><ellipse cx="17.1" cy="5.4" rx="1.2" ry="0.8" fill="#c8b0b4" opacity="0.9"/><ellipse cx="12.4" cy="28.7" rx="0.8" ry="1.3" fill="#88b8bc" opacity="0.9"/><ellipse cx="12.4" cy="-1.3" rx="0.8" ry="1.3" fill="#88b8bc" opacity="0.9"/><ellipse cx="18.7" cy="14.2" rx="1.1" ry="1.2" fill="#88b8bc" opacity="0.9"/><ellipse cx="13.3" cy="10.2" rx="1.2" ry="1.4" fill="#3f8a90" opacity="0.9"/><ellipse cx="14.0" cy="9.7" rx="1.4" ry="1.4" fill="#b49498" opacity="0.9"/><ellipse cx="28.7" cy="6.2" rx="0.9" ry="1.4" fill="#c8b0b4" opacity="0.9"/><ellipse cx="-1.3" cy="6.2" rx="0.9" ry="1.4" fill="#c8b0b4" opacity="0.9"/><ellipse cx="11.1" cy="21.2" rx="0.9" ry="1.0" fill="#d0dcdc" opacity="0.9"/><ellipse cx="3.8" cy="6.7" rx="0.8" ry="0.8" fill="#88b8bc" opacity="0.9"/><ellipse cx="33.8" cy="6.7" rx="0.8" ry="0.8" fill="#88b8bc" opacity="0.9"/><ellipse cx="15.3" cy="26.5" rx="1.1" ry="1.1" fill="#183c40" opacity="0.9"/><ellipse cx="15.3" cy="-3.5" rx="1.1" ry="1.1" fill="#183c40" opacity="0.9"/><ellipse cx="17.5" cy="28.3" rx="1.1" ry="0.9" fill="#7a4a52" opacity="0.9"/><ellipse cx="17.5" cy="-1.7" rx="1.1" ry="0.9" fill="#7a4a52" opacity="0.9"/><ellipse cx="9.4" cy="24.3" rx="1.2" ry="1.1" fill="#3f8a90" opacity="0.9"/><ellipse cx="11.8" cy="3.5" rx="1.1" ry="0.8" fill="#c8b0b4" opacity="0.9"/><ellipse cx="11.8" cy="33.5" rx="1.1" ry="0.8" fill="#c8b0b4" opacity="0.9"/><ellipse cx="19.0" cy="21.1" rx="1.4" ry="0.8" fill="#2a6e74" opacity="0.9"/><ellipse cx="19.5" cy="4.9" rx="0.7" ry="1.0" fill="#88b8bc" opacity="0.9"/><ellipse cx="5.9" cy="0.5" rx="1.0" ry="1.2" fill="#2a6e74" opacity="0.9"/><ellipse cx="5.9" cy="30.5" rx="1.0" ry="1.2" fill="#2a6e74" opacity="0.9"/><ellipse cx="0.9" cy="24.0" rx="1.3" ry="0.7" fill="#c8b0b4" opacity="0.9"/><ellipse cx="30.9" cy="24.0" rx="1.3" ry="0.7" fill="#c8b0b4" opacity="0.9"/><ellipse cx="0.1" cy="6.9" rx="0.8" ry="1.2" fill="#c8b0b4" opacity="0.9"/><ellipse cx="30.1" cy="6.9" rx="0.8" ry="1.2" fill="#c8b0b4" opacity="0.9"/><ellipse cx="0.6" cy="3.4" rx="1.3" ry="1.4" fill="#3f8a90" opacity="0.9"/><ellipse cx="30.6" cy="3.4" rx="1.3" ry="1.4" fill="#3f8a90" opacity="0.9"/><ellipse cx="0.6" cy="33.4" rx="1.3" ry="1.4" fill="#3f8a90" opacity="0.9"/><ellipse cx="14.1" cy="2.2" rx="0.9" ry="0.8" fill="#183c40" opacity="0.9"/><ellipse cx="14.1" cy="32.2" rx="0.9" ry="0.8" fill="#183c40" opacity="0.9"/><ellipse cx="26.2" cy="10.0" rx="1.3" ry="0.8" fill="#2a6e74" opacity="0.9"/><ellipse cx="-3.8" cy="10.0" rx="1.3" ry="0.8" fill="#2a6e74" opacity="0.9"/><ellipse cx="2.7" cy="18.7" rx="1.2" ry="0.8" fill="#d0dcdc" opacity="0.9"/><ellipse cx="32.7" cy="18.7" rx="1.2" ry="0.8" fill="#d0dcdc" opacity="0.9"/><ellipse cx="10.3" cy="14.8" rx="0.8" ry="1.3" fill="#88b8bc" opacity="0.9"/><ellipse cx="22.5" cy="25.2" rx="0.9" ry="0.8" fill="#88b8bc" opacity="0.9"/><ellipse cx="6.9" cy="23.9" rx="1.2" ry="0.7" fill="#3f8a90" opacity="0.9"/><ellipse cx="5.7" cy="21.2" rx="1.2" ry="1.2" fill="#c8b0b4" opacity="0.9"/><ellipse cx="18.7" cy="24.7" rx="1.0" ry="0.9" fill="#88b8bc" opacity="0.9"/><ellipse cx="5.8" cy="17.5" rx="0.7" ry="1.1" fill="#c8b0b4" opacity="0.9"/><ellipse cx="22.5" cy="15.0" rx="1.0" ry="0.9" fill="#88b8bc" opacity="0.9"/><ellipse cx="0.9" cy="21.7" rx="0.8" ry="0.8" fill="#183c40" opacity="0.9"/><ellipse cx="30.9" cy="21.7" rx="0.8" ry="0.8" fill="#183c40" opacity="0.9"/><ellipse cx="18.4" cy="27.1" rx="0.8" ry="0.8" fill="#2a6e74" opacity="0.9"/><ellipse cx="18.4" cy="-2.9" rx="0.8" ry="0.8" fill="#2a6e74" opacity="0.9"/><ellipse cx="3.9" cy="1.9" rx="1.0" ry="0.9" fill="#2a6e74" opacity="0.9"/><ellipse cx="33.9" cy="1.9" rx="1.0" ry="0.9" fill="#2a6e74" opacity="0.9"/><ellipse cx="3.9" cy="31.9" rx="1.0" ry="0.9" fill="#2a6e74" opacity="0.9"/><ellipse cx="11.9" cy="15.7" rx="0.8" ry="1.2" fill="#d0dcdc" opacity="0.9"/><ellipse cx="2.7" cy="1.5" rx="1.0" ry="0.7" fill="#c8b0b4" opacity="0.9"/><ellipse cx="32.7" cy="1.5" rx="1.0" ry="0.7" fill="#c8b0b4" opacity="0.9"/><ellipse cx="2.7" cy="31.5" rx="1.0" ry="0.7" fill="#c8b0b4" opacity="0.9"/><ellipse cx="13.9" cy="5.9" rx="0.7" ry="1.0" fill="#d0dcdc" opacity="0.9"/><ellipse cx="20.6" cy="14.3" rx="0.8" ry="0.7" fill="#b49498" opacity="0.9"/><ellipse cx="18.7" cy="13.1" rx="0.7" ry="1.2" fill="#c8b0b4" opacity="0.9"/><ellipse cx="13.5" cy="25.6" rx="1.4" ry="0.9" fill="#d0dcdc" opacity="0.9"/><ellipse cx="16.0" cy="23.4" rx="1.2" ry="0.9" fill="#88b8bc" opacity="0.9"/><ellipse cx="3.1" cy="13.7" rx="1.1" ry="0.8" fill="#88b8bc" opacity="0.9"/><ellipse cx="33.1" cy="13.7" rx="1.1" ry="0.8" fill="#88b8bc" opacity="0.9"/><ellipse cx="25.7" cy="28.3" rx="1.0" ry="0.7" fill="#88b8bc" opacity="0.9"/><ellipse cx="25.7" cy="-1.7" rx="1.0" ry="0.7" fill="#88b8bc" opacity="0.9"/><ellipse cx="9.0" cy="2.1" rx="1.2" ry="1.2" fill="#7a4a52" opacity="0.9"/><ellipse cx="9.0" cy="32.1" rx="1.2" ry="1.2" fill="#7a4a52" opacity="0.9"/><ellipse cx="15.6" cy="4.3" rx="1.2" ry="1.2" fill="#88b8bc" opacity="0.9"/><ellipse cx="1.0" cy="27.3" rx="1.1" ry="1.0" fill="#b49498" opacity="0.9"/><ellipse cx="31.0" cy="27.3" rx="1.1" ry="1.0" fill="#b49498" opacity="0.9"/><ellipse cx="1.0" cy="-2.7" rx="1.1" ry="1.0" fill="#b49498" opacity="0.9"/><ellipse cx="9.5" cy="24.6" rx="1.1" ry="0.9" fill="#c8b0b4" opacity="0.9"/><ellipse cx="5.2" cy="22.9" rx="0.9" ry="0.9" fill="#b49498" opacity="0.9"/><ellipse cx="26.7" cy="13.7" rx="1.0" ry="0.7" fill="#7a4a52" opacity="0.9"/><ellipse cx="-3.3" cy="13.7" rx="1.0" ry="0.7" fill="#7a4a52" opacity="0.9"/><ellipse cx="14.2" cy="28.7" rx="1.1" ry="0.8" fill="#183c40" opacity="0.9"/><ellipse cx="14.2" cy="-1.3" rx="1.1" ry="0.8" fill="#183c40" opacity="0.9"/><ellipse cx="11.8" cy="6.1" rx="1.2" ry="1.2" fill="#183c40" opacity="0.9"/><ellipse cx="3.2" cy="24.4" rx="0.9" ry="0.8" fill="#2a6e74" opacity="0.9"/><ellipse cx="33.2" cy="24.4" rx="0.9" ry="0.8" fill="#2a6e74" opacity="0.9"/><ellipse cx="15.4" cy="24.4" rx="1.2" ry="1.4" fill="#d0dcdc" opacity="0.9"/><ellipse cx="9.4" cy="21.9" rx="1.3" ry="1.1" fill="#7a4a52" opacity="0.9"/><ellipse cx="1.7" cy="0.0" rx="0.8" ry="0.9" fill="#2a6e74" opacity="0.9"/><ellipse cx="31.7" cy="0.0" rx="0.8" ry="0.9" fill="#2a6e74" opacity="0.9"/><ellipse cx="1.7" cy="30.0" rx="0.8" ry="0.9" fill="#2a6e74" opacity="0.9"/><ellipse cx="18.2" cy="27.0" rx="1.4" ry="0.9" fill="#d0dcdc" opacity="0.9"/><ellipse cx="18.2" cy="-3.0" rx="1.4" ry="0.9" fill="#d0dcdc" opacity="0.9"/><ellipse cx="24.6" cy="8.0" rx="0.9" ry="0.9" fill="#d0dcdc" opacity="0.9"/><ellipse cx="11.8" cy="8.5" rx="1.4" ry="0.6" fill="#7a4a52" opacity="0.9"/><ellipse cx="22.7" cy="23.1" rx="1.1" ry="1.3" fill="#88b8bc" opacity="0.9"/><ellipse cx="29.7" cy="21.8" rx="1.2" ry="1.3" fill="#2a6e74" opacity="0.9"/><ellipse cx="-0.3" cy="21.8" rx="1.2" ry="1.3" fill="#2a6e74" opacity="0.9"/><ellipse cx="15.1" cy="9.8" rx="0.9" ry="0.8" fill="#c8b0b4" opacity="0.9"/><ellipse cx="16.2" cy="10.1" rx="1.3" ry="0.9" fill="#3f8a90" opacity="0.9"/><ellipse cx="25.4" cy="26.4" rx="0.7" ry="1.4" fill="#88b8bc" opacity="0.9"/><ellipse cx="25.4" cy="-3.6" rx="0.7" ry="1.4" fill="#88b8bc" opacity="0.9"/><ellipse cx="23.8" cy="25.3" rx="1.4" ry="1.4" fill="#183c40" opacity="0.9"/><ellipse cx="23.5" cy="23.5" rx="1.3" ry="0.8" fill="#d0dcdc" opacity="0.9"/><ellipse cx="10.8" cy="1.9" rx="0.7" ry="1.3" fill="#88b8bc" opacity="0.9"/><ellipse cx="10.8" cy="31.9" rx="0.7" ry="1.3" fill="#88b8bc" opacity="0.9"/><ellipse cx="6.8" cy="2.1" rx="0.7" ry="1.2" fill="#c8b0b4" opacity="0.9"/><ellipse cx="6.8" cy="32.1" rx="0.7" ry="1.2" fill="#c8b0b4" opacity="0.9"/><ellipse cx="25.8" cy="19.2" rx="0.8" ry="1.0" fill="#7a4a52" opacity="0.9"/><ellipse cx="9.3" cy="19.0" rx="1.3" ry="1.0" fill="#d0dcdc" opacity="0.9"/><ellipse cx="22.0" cy="9.3" rx="1.3" ry="1.1" fill="#b49498" opacity="0.9"/><ellipse cx="18.0" cy="29.9" rx="1.3" ry="0.7" fill="#183c40" opacity="0.9"/><ellipse cx="18.0" cy="-0.1" rx="1.3" ry="0.7" fill="#183c40" opacity="0.9"/><ellipse cx="12.5" cy="26.4" rx="1.1" ry="0.8" fill="#d0dcdc" opacity="0.9"/><ellipse cx="12.5" cy="-3.6" rx="1.1" ry="0.8" fill="#d0dcdc" opacity="0.9"/><ellipse cx="16.3" cy="27.8" rx="1.1" ry="1.3" fill="#88b8bc" opacity="0.9"/><ellipse cx="16.3" cy="-2.2" rx="1.1" ry="1.3" fill="#88b8bc" opacity="0.9"/><ellipse cx="13.8" cy="17.1" rx="0.6" ry="0.7" fill="#b49498" opacity="0.9"/><ellipse cx="5.5" cy="8.7" rx="1.0" ry="1.2" fill="#b49498" opacity="0.9"/><ellipse cx="6.7" cy="22.3" rx="1.2" ry="0.8" fill="#7a4a52" opacity="0.9"/><ellipse cx="4.7" cy="19.1" rx="0.7" ry="0.9" fill="#d0dcdc" opacity="0.9"/><ellipse cx="9.1" cy="9.9" rx="1.2" ry="0.7" fill="#88b8bc" opacity="0.9"/><ellipse cx="20.1" cy="4.3" rx="1.4" ry="1.4" fill="#3f8a90" opacity="0.9"/><ellipse cx="5.5" cy="27.3" rx="1.0" ry="1.2" fill="#d0dcdc" opacity="0.9"/><ellipse cx="5.5" cy="-2.7" rx="1.0" ry="1.2" fill="#d0dcdc" opacity="0.9"/><ellipse cx="1.6" cy="1.7" rx="1.0" ry="1.3" fill="#c8b0b4" opacity="0.9"/><ellipse cx="31.6" cy="1.7" rx="1.0" ry="1.3" fill="#c8b0b4" opacity="0.9"/><ellipse cx="1.6" cy="31.7" rx="1.0" ry="1.3" fill="#c8b0b4" opacity="0.9"/><ellipse cx="15.3" cy="28.0" rx="1.0" ry="0.7" fill="#183c40" opacity="0.9"/><ellipse cx="15.3" cy="-2.0" rx="1.0" ry="0.7" fill="#183c40" opacity="0.9"/><ellipse cx="24.1" cy="12.7" rx="1.1" ry="0.8" fill="#2a6e74" opacity="0.9"/><ellipse cx="7.0" cy="6.5" rx="1.1" ry="0.6" fill="#88b8bc" opacity="0.9"/><ellipse cx="24.1" cy="27.1" rx="0.7" ry="1.2" fill="#2a6e74" opacity="0.9"/><ellipse cx="24.1" cy="-2.9" rx="0.7" ry="1.2" fill="#2a6e74" opacity="0.9"/><ellipse cx="7.0" cy="24.7" rx="0.8" ry="0.7" fill="#c8b0b4" opacity="0.9"/><ellipse cx="29.3" cy="21.6" rx="0.7" ry="1.0" fill="#c8b0b4" opacity="0.9"/><ellipse cx="-0.7" cy="21.6" rx="0.7" ry="1.0" fill="#c8b0b4" opacity="0.9"/><ellipse cx="8.2" cy="25.2" rx="1.3" ry="0.6" fill="#88b8bc" opacity="0.9"/><ellipse cx="13.3" cy="2.6" rx="0.7" ry="1.2" fill="#7a4a52" opacity="0.9"/><ellipse cx="13.3" cy="32.6" rx="0.7" ry="1.2" fill="#7a4a52" opacity="0.9"/><ellipse cx="4.3" cy="13.8" rx="1.1" ry="1.4" fill="#d0dcdc" opacity="0.9"/><ellipse cx="12.2" cy="21.7" rx="1.4" ry="0.8" fill="#7a4a52" opacity="0.9"/><ellipse cx="10.7" cy="13.1" rx="0.8" ry="1.1" fill="#183c40" opacity="0.9"/><ellipse cx="2.5" cy="5.8" rx="0.9" ry="1.0" fill="#3f8a90" opacity="0.9"/><ellipse cx="32.5" cy="5.8" rx="0.9" ry="1.0" fill="#3f8a90" opacity="0.9"/><ellipse cx="12.5" cy="25.2" rx="1.2" ry="1.1" fill="#183c40" opacity="0.9"/><ellipse cx="28.3" cy="14.1" rx="0.8" ry="1.1" fill="#3f8a90" opacity="0.9"/><ellipse cx="-1.7" cy="14.1" rx="0.8" ry="1.1" fill="#3f8a90" opacity="0.9"/><ellipse cx="15.0" cy="7.0" rx="0.9" ry="0.9" fill="#b49498" opacity="0.9"/><ellipse cx="12.1" cy="10.6" rx="0.9" ry="0.9" fill="#7a4a52" opacity="0.9"/><ellipse cx="19.4" cy="14.0" rx="1.3" ry="1.0" fill="#88b8bc" opacity="0.9"/><ellipse cx="25.5" cy="21.9" rx="0.9" ry="1.1" fill="#7a4a52" opacity="0.9"/><ellipse cx="28.6" cy="18.6" rx="0.7" ry="1.1" fill="#88b8bc" opacity="0.9"/><ellipse cx="-1.4" cy="18.6" rx="0.7" ry="1.1" fill="#88b8bc" opacity="0.9"/><ellipse cx="28.5" cy="4.4" rx="0.9" ry="1.3" fill="#d0dcdc" opacity="0.9"/><ellipse cx="-1.5" cy="4.4" rx="0.9" ry="1.3" fill="#d0dcdc" opacity="0.9"/><ellipse cx="17.7" cy="20.3" rx="0.9" ry="1.4" fill="#7a4a52" opacity="0.9"/><ellipse cx="19.5" cy="8.6" rx="0.7" ry="1.3" fill="#88b8bc" opacity="0.9"/><ellipse cx="18.5" cy="24.2" rx="1.0" ry="0.8" fill="#88b8bc" opacity="0.9"/><ellipse cx="10.5" cy="16.0" rx="1.3" ry="1.1" fill="#183c40" opacity="0.9"/><ellipse cx="3.5" cy="7.6" rx="1.1" ry="1.1" fill="#2a6e74" opacity="0.9"/><ellipse cx="33.5" cy="7.6" rx="1.1" ry="1.1" fill="#2a6e74" opacity="0.9"/><ellipse cx="0.5" cy="24.0" rx="0.7" ry="1.2" fill="#88b8bc" opacity="0.9"/><ellipse cx="30.5" cy="24.0" rx="0.7" ry="1.2" fill="#88b8bc" opacity="0.9"/><ellipse cx="8.3" cy="10.0" rx="1.3" ry="0.7" fill="#7a4a52" opacity="0.9"/><ellipse cx="0.7" cy="5.8" rx="0.6" ry="1.2" fill="#3f8a90" opacity="0.9"/><ellipse cx="30.7" cy="5.8" rx="0.6" ry="1.2" fill="#3f8a90" opacity="0.9"/><ellipse cx="9.3" cy="6.6" rx="0.9" ry="0.7" fill="#b49498" opacity="0.9"/><ellipse cx="28.4" cy="16.5" rx="1.3" ry="0.7" fill="#3f8a90" opacity="0.9"/><ellipse cx="-1.6" cy="16.5" rx="1.3" ry="0.7" fill="#3f8a90" opacity="0.9"/><ellipse cx="13.0" cy="5.8" rx="1.2" ry="1.3" fill="#7a4a52" opacity="0.9"/><ellipse cx="12.7" cy="18.9" rx="1.2" ry="0.7" fill="#3f8a90" opacity="0.9"/><ellipse cx="29.3" cy="1.1" rx="0.6" ry="0.7" fill="#88b8bc" opacity="0.9"/><ellipse cx="-0.7" cy="1.1" rx="0.6" ry="0.7" fill="#88b8bc" opacity="0.9"/><ellipse cx="29.3" cy="31.1" rx="0.6" ry="0.7" fill="#88b8bc" opacity="0.9"/><ellipse cx="9.8" cy="20.8" rx="0.7" ry="1.0" fill="#b49498" opacity="0.9"/><ellipse cx="5.4" cy="18.3" rx="1.1" ry="1.4" fill="#d0dcdc" opacity="0.9"/><ellipse cx="3.6" cy="25.7" rx="0.9" ry="0.9" fill="#183c40" opacity="0.9"/><ellipse cx="33.6" cy="25.7" rx="0.9" ry="0.9" fill="#183c40" opacity="0.9"/><ellipse cx="7.0" cy="29.2" rx="1.4" ry="1.2" fill="#3f8a90" opacity="0.9"/><ellipse cx="7.0" cy="-0.8" rx="1.4" ry="1.2" fill="#3f8a90" opacity="0.9"/><ellipse cx="5.0" cy="26.8" rx="1.2" ry="1.1" fill="#88b8bc" opacity="0.9"/><ellipse cx="5.0" cy="-3.2" rx="1.2" ry="1.1" fill="#88b8bc" opacity="0.9"/><ellipse cx="13.4" cy="18.7" rx="1.3" ry="1.2" fill="#88b8bc" opacity="0.9"/><ellipse cx="13.5" cy="26.4" rx="1.1" ry="0.9" fill="#7a4a52" opacity="0.9"/><ellipse cx="13.5" cy="-3.6" rx="1.1" ry="0.9" fill="#7a4a52" opacity="0.9"/><ellipse cx="15.3" cy="4.4" rx="0.6" ry="1.2" fill="#3f8a90" opacity="0.9"/><ellipse cx="14.9" cy="20.7" rx="0.7" ry="1.1" fill="#88b8bc" opacity="0.9"/><ellipse cx="25.3" cy="10.9" rx="1.2" ry="0.8" fill="#7a4a52" opacity="0.9"/><ellipse cx="21.9" cy="12.3" rx="1.4" ry="1.4" fill="#3f8a90" opacity="0.9"/><ellipse cx="9.5" cy="11.3" rx="0.8" ry="1.3" fill="#88b8bc" opacity="0.9"/><ellipse cx="29.7" cy="20.6" rx="0.9" ry="1.2" fill="#2a6e74" opacity="0.9"/><ellipse cx="-0.3" cy="20.6" rx="0.9" ry="1.2" fill="#2a6e74" opacity="0.9"/><ellipse cx="24.0" cy="10.1" rx="1.1" ry="1.0" fill="#2a6e74" opacity="0.9"/><ellipse cx="25.8" cy="29.7" rx="1.0" ry="1.3" fill="#88b8bc" opacity="0.9"/><ellipse cx="25.8" cy="-0.3" rx="1.0" ry="1.3" fill="#88b8bc" opacity="0.9"/><ellipse cx="4.5" cy="22.8" rx="1.1" ry="1.3" fill="#7a4a52" opacity="0.9"/><ellipse cx="21.2" cy="0.1" rx="1.1" ry="0.7" fill="#7a4a52" opacity="0.9"/><ellipse cx="21.2" cy="30.1" rx="1.1" ry="0.7" fill="#7a4a52" opacity="0.9"/><ellipse cx="8.3" cy="3.4" rx="1.3" ry="1.0" fill="#2a6e74" opacity="0.9"/><ellipse cx="8.3" cy="33.4" rx="1.3" ry="1.0" fill="#2a6e74" opacity="0.9"/><ellipse cx="2.4" cy="13.5" rx="0.9" ry="0.6" fill="#2a6e74" opacity="0.9"/><ellipse cx="32.4" cy="13.5" rx="0.9" ry="0.6" fill="#2a6e74" opacity="0.9"/><ellipse cx="6.4" cy="19.6" rx="0.8" ry="0.9" fill="#7a4a52" opacity="0.9"/><ellipse cx="23.1" cy="20.8" rx="1.1" ry="0.8" fill="#d0dcdc" opacity="0.9"/><ellipse cx="12.0" cy="28.5" rx="1.0" ry="0.7" fill="#3f8a90" opacity="0.9"/><ellipse cx="12.0" cy="-1.5" rx="1.0" ry="0.7" fill="#3f8a90" opacity="0.9"/><ellipse cx="24.3" cy="8.9" rx="1.1" ry="1.3" fill="#3f8a90" opacity="0.9"/><ellipse cx="10.5" cy="25.5" rx="1.3" ry="0.8" fill="#88b8bc" opacity="0.9"/><ellipse cx="13.3" cy="0.8" rx="0.7" ry="1.2" fill="#88b8bc" opacity="0.9"/><ellipse cx="13.3" cy="30.8" rx="0.7" ry="1.2" fill="#88b8bc" opacity="0.9"/><ellipse cx="6.5" cy="18.0" rx="1.3" ry="0.7" fill="#2a6e74" opacity="0.9"/><ellipse cx="10.3" cy="28.0" rx="0.7" ry="0.7" fill="#b49498" opacity="0.9"/><ellipse cx="10.3" cy="-2.0" rx="0.7" ry="0.7" fill="#b49498" opacity="0.9"/><ellipse cx="19.4" cy="25.2" rx="0.8" ry="0.7" fill="#c8b0b4" opacity="0.9"/><ellipse cx="14.2" cy="23.6" rx="0.8" ry="1.3" fill="#c8b0b4" opacity="0.9"/><ellipse cx="4.8" cy="29.9" rx="0.8" ry="1.4" fill="#b49498" opacity="0.9"/><ellipse cx="4.8" cy="-0.1" rx="0.8" ry="1.4" fill="#b49498" opacity="0.9"/><ellipse cx="18.9" cy="16.0" rx="1.3" ry="1.0" fill="#b49498" opacity="0.9"/><ellipse cx="12.5" cy="14.1" rx="0.9" ry="0.6" fill="#7a4a52" opacity="0.9"/><ellipse cx="7.0" cy="13.9" rx="1.3" ry="1.4" fill="#2a6e74" opacity="0.9"/><ellipse cx="4.8" cy="20.5" rx="1.0" ry="0.9" fill="#3f8a90" opacity="0.9"/><ellipse cx="27.4" cy="27.0" rx="1.0" ry="1.3" fill="#d0dcdc" opacity="0.9"/><ellipse cx="-2.6" cy="27.0" rx="1.0" ry="1.3" fill="#d0dcdc" opacity="0.9"/><ellipse cx="27.4" cy="-3.0" rx="1.0" ry="1.3" fill="#d0dcdc" opacity="0.9"/></pattern><pattern id="pC2wd" width="30" height="30" patternUnits="userSpaceOnUse"><rect width="30" height="30" fill="#041a1c"/><ellipse cx="3.0" cy="14.9" rx="1.4" ry="0.9" fill="#08343a" opacity="0.9"/><ellipse cx="33.0" cy="14.9" rx="1.4" ry="0.9" fill="#08343a" opacity="0.9"/><ellipse cx="26.6" cy="11.0" rx="1.4" ry="1.4" fill="#010607" opacity="0.9"/><ellipse cx="-3.4" cy="11.0" rx="1.4" ry="1.4" fill="#010607" opacity="0.9"/><ellipse cx="15.0" cy="8.5" rx="0.9" ry="1.1" fill="#010607" opacity="0.9"/><ellipse cx="9.4" cy="0.9" rx="0.8" ry="0.7" fill="#08343a" opacity="0.9"/><ellipse cx="9.4" cy="30.9" rx="0.8" ry="0.7" fill="#08343a" opacity="0.9"/><ellipse cx="13.7" cy="11.1" rx="1.2" ry="1.4" fill="#3a1a1e" opacity="0.9"/><ellipse cx="10.9" cy="28.5" rx="1.1" ry="1.0" fill="#3a1a1e" opacity="0.9"/><ellipse cx="10.9" cy="-1.5" rx="1.1" ry="1.0" fill="#3a1a1e" opacity="0.9"/><ellipse cx="20.1" cy="10.8" rx="1.1" ry="0.8" fill="#3a1a1e" opacity="0.9"/><ellipse cx="7.3" cy="29.2" rx="0.7" ry="0.6" fill="#16787e" opacity="0.9"/><ellipse cx="7.3" cy="-0.8" rx="0.7" ry="0.6" fill="#16787e" opacity="0.9"/><ellipse cx="2.1" cy="15.4" rx="1.1" ry="1.2" fill="#010607" opacity="0.9"/><ellipse cx="32.1" cy="15.4" rx="1.1" ry="1.2" fill="#010607" opacity="0.9"/><ellipse cx="20.1" cy="20.5" rx="1.3" ry="1.4" fill="#3a1a1e" opacity="0.9"/><ellipse cx="17.4" cy="20.0" rx="0.8" ry="1.4" fill="#0c4e54" opacity="0.9"/><ellipse cx="29.1" cy="9.4" rx="1.1" ry="0.6" fill="#000000" opacity="0.9"/><ellipse cx="-0.9" cy="9.4" rx="1.1" ry="0.6" fill="#000000" opacity="0.9"/><ellipse cx="10.5" cy="21.3" rx="1.0" ry="0.7" fill="#16787e" opacity="0.9"/><ellipse cx="6.1" cy="5.4" rx="1.3" ry="0.7" fill="#0c4e54" opacity="0.9"/><ellipse cx="8.0" cy="26.4" rx="1.0" ry="0.9" fill="#000000" opacity="0.9"/><ellipse cx="8.0" cy="-3.6" rx="1.0" ry="0.9" fill="#000000" opacity="0.9"/><ellipse cx="12.2" cy="20.9" rx="0.7" ry="1.3" fill="#000000" opacity="0.9"/><ellipse cx="3.3" cy="22.4" rx="0.8" ry="0.7" fill="#08343a" opacity="0.9"/><ellipse cx="33.3" cy="22.4" rx="0.8" ry="0.7" fill="#08343a" opacity="0.9"/><ellipse cx="26.1" cy="0.7" rx="0.6" ry="0.6" fill="#000000" opacity="0.9"/><ellipse cx="-3.9" cy="0.7" rx="0.6" ry="0.6" fill="#000000" opacity="0.9"/><ellipse cx="26.1" cy="30.7" rx="0.6" ry="0.6" fill="#000000" opacity="0.9"/><ellipse cx="18.7" cy="19.6" rx="0.7" ry="1.2" fill="#16787e" opacity="0.9"/><ellipse cx="4.0" cy="27.6" rx="0.9" ry="1.0" fill="#010607" opacity="0.9"/><ellipse cx="4.0" cy="-2.4" rx="0.9" ry="1.0" fill="#010607" opacity="0.9"/><ellipse cx="4.7" cy="4.5" rx="1.1" ry="1.2" fill="#010607" opacity="0.9"/><ellipse cx="9.3" cy="17.0" rx="0.7" ry="1.0" fill="#000000" opacity="0.9"/><ellipse cx="16.3" cy="0.5" rx="0.6" ry="0.9" fill="#010607" opacity="0.9"/><ellipse cx="16.3" cy="30.5" rx="0.6" ry="0.9" fill="#010607" opacity="0.9"/><ellipse cx="27.8" cy="0.2" rx="1.3" ry="0.9" fill="#0c4e54" opacity="0.9"/><ellipse cx="-2.2" cy="0.2" rx="1.3" ry="0.9" fill="#0c4e54" opacity="0.9"/><ellipse cx="27.8" cy="30.2" rx="1.3" ry="0.9" fill="#0c4e54" opacity="0.9"/><ellipse cx="25.0" cy="17.7" rx="0.9" ry="1.0" fill="#0c4e54" opacity="0.9"/><ellipse cx="6.7" cy="20.1" rx="1.3" ry="1.0" fill="#16787e" opacity="0.9"/><ellipse cx="7.2" cy="1.1" rx="1.3" ry="0.8" fill="#08343a" opacity="0.9"/><ellipse cx="7.2" cy="31.1" rx="1.3" ry="0.8" fill="#08343a" opacity="0.9"/><ellipse cx="2.5" cy="9.9" rx="0.7" ry="1.1" fill="#000000" opacity="0.9"/><ellipse cx="32.5" cy="9.9" rx="0.7" ry="1.1" fill="#000000" opacity="0.9"/><ellipse cx="22.6" cy="2.2" rx="1.2" ry="1.0" fill="#3a1a1e" opacity="0.9"/><ellipse cx="22.6" cy="32.2" rx="1.2" ry="1.0" fill="#3a1a1e" opacity="0.9"/><ellipse cx="4.6" cy="9.2" rx="0.9" ry="1.3" fill="#3a1a1e" opacity="0.9"/><ellipse cx="15.4" cy="27.9" rx="1.1" ry="1.0" fill="#3a1a1e" opacity="0.9"/><ellipse cx="15.4" cy="-2.1" rx="1.1" ry="1.0" fill="#3a1a1e" opacity="0.9"/><ellipse cx="19.4" cy="4.7" rx="1.1" ry="0.6" fill="#16787e" opacity="0.9"/><ellipse cx="1.2" cy="1.4" rx="1.0" ry="1.2" fill="#010607" opacity="0.9"/><ellipse cx="31.2" cy="1.4" rx="1.0" ry="1.2" fill="#010607" opacity="0.9"/><ellipse cx="1.2" cy="31.4" rx="1.0" ry="1.2" fill="#010607" opacity="0.9"/><ellipse cx="15.3" cy="5.0" rx="1.1" ry="0.9" fill="#3a1a1e" opacity="0.9"/><ellipse cx="13.6" cy="7.2" rx="1.0" ry="1.2" fill="#3a1a1e" opacity="0.9"/><ellipse cx="12.0" cy="6.0" rx="0.7" ry="1.1" fill="#08343a" opacity="0.9"/><ellipse cx="10.0" cy="8.0" rx="1.1" ry="0.8" fill="#000000" opacity="0.9"/><ellipse cx="12.5" cy="25.3" rx="0.7" ry="0.7" fill="#0c4e54" opacity="0.9"/><ellipse cx="16.3" cy="29.7" rx="1.3" ry="0.7" fill="#16787e" opacity="0.9"/><ellipse cx="16.3" cy="-0.3" rx="1.3" ry="0.7" fill="#16787e" opacity="0.9"/><ellipse cx="20.4" cy="7.6" rx="0.7" ry="1.3" fill="#16787e" opacity="0.9"/><ellipse cx="24.3" cy="8.8" rx="1.3" ry="1.3" fill="#000000" opacity="0.9"/><ellipse cx="3.8" cy="2.0" rx="0.9" ry="1.1" fill="#0c4e54" opacity="0.9"/><ellipse cx="33.8" cy="2.0" rx="0.9" ry="1.1" fill="#0c4e54" opacity="0.9"/><ellipse cx="3.8" cy="32.0" rx="0.9" ry="1.1" fill="#0c4e54" opacity="0.9"/><ellipse cx="20.9" cy="17.3" rx="1.4" ry="0.6" fill="#3a1a1e" opacity="0.9"/><ellipse cx="23.7" cy="2.2" rx="1.2" ry="0.8" fill="#010607" opacity="0.9"/><ellipse cx="23.7" cy="32.2" rx="1.2" ry="0.8" fill="#010607" opacity="0.9"/><ellipse cx="17.5" cy="21.7" rx="0.9" ry="1.2" fill="#08343a" opacity="0.9"/><ellipse cx="12.2" cy="24.8" rx="0.7" ry="1.0" fill="#010607" opacity="0.9"/><ellipse cx="0.1" cy="2.7" rx="1.2" ry="1.3" fill="#3a1a1e" opacity="0.9"/><ellipse cx="30.1" cy="2.7" rx="1.2" ry="1.3" fill="#3a1a1e" opacity="0.9"/><ellipse cx="0.1" cy="32.7" rx="1.2" ry="1.3" fill="#3a1a1e" opacity="0.9"/><ellipse cx="27.2" cy="19.8" rx="0.8" ry="0.7" fill="#000000" opacity="0.9"/><ellipse cx="-2.8" cy="19.8" rx="0.8" ry="0.7" fill="#000000" opacity="0.9"/><ellipse cx="2.8" cy="6.6" rx="0.7" ry="1.3" fill="#0c4e54" opacity="0.9"/><ellipse cx="32.8" cy="6.6" rx="0.7" ry="1.3" fill="#0c4e54" opacity="0.9"/><ellipse cx="26.2" cy="29.9" rx="0.9" ry="1.3" fill="#16787e" opacity="0.9"/><ellipse cx="-3.8" cy="29.9" rx="0.9" ry="1.3" fill="#16787e" opacity="0.9"/><ellipse cx="26.2" cy="-0.1" rx="0.9" ry="1.3" fill="#16787e" opacity="0.9"/><ellipse cx="26.0" cy="17.6" rx="1.4" ry="1.1" fill="#16787e" opacity="0.9"/><ellipse cx="16.0" cy="9.3" rx="0.8" ry="1.2" fill="#010607" opacity="0.9"/><ellipse cx="11.2" cy="15.3" rx="1.1" ry="0.8" fill="#08343a" opacity="0.9"/><ellipse cx="19.8" cy="3.9" rx="0.6" ry="0.9" fill="#16787e" opacity="0.9"/><ellipse cx="19.8" cy="33.9" rx="0.6" ry="0.9" fill="#16787e" opacity="0.9"/><ellipse cx="5.6" cy="16.0" rx="0.8" ry="1.2" fill="#3a1a1e" opacity="0.9"/><ellipse cx="13.4" cy="11.2" rx="1.0" ry="1.2" fill="#16787e" opacity="0.9"/><ellipse cx="16.3" cy="16.3" rx="0.8" ry="1.3" fill="#0c4e54" opacity="0.9"/><ellipse cx="24.6" cy="14.5" rx="1.2" ry="0.8" fill="#000000" opacity="0.9"/><ellipse cx="25.9" cy="21.3" rx="1.0" ry="0.7" fill="#08343a" opacity="0.9"/><ellipse cx="22.0" cy="6.2" rx="0.8" ry="1.2" fill="#3a1a1e" opacity="0.9"/><ellipse cx="22.1" cy="7.7" rx="0.9" ry="0.6" fill="#16787e" opacity="0.9"/><ellipse cx="1.8" cy="10.8" rx="0.6" ry="1.4" fill="#16787e" opacity="0.9"/><ellipse cx="31.8" cy="10.8" rx="0.6" ry="1.4" fill="#16787e" opacity="0.9"/><ellipse cx="26.7" cy="26.0" rx="0.8" ry="1.2" fill="#08343a" opacity="0.9"/><ellipse cx="-3.3" cy="26.0" rx="0.8" ry="1.2" fill="#08343a" opacity="0.9"/><ellipse cx="26.7" cy="-4.0" rx="0.8" ry="1.2" fill="#08343a" opacity="0.9"/><ellipse cx="10.1" cy="3.3" rx="1.2" ry="1.2" fill="#000000" opacity="0.9"/><ellipse cx="10.1" cy="33.3" rx="1.2" ry="1.2" fill="#000000" opacity="0.9"/><ellipse cx="3.1" cy="5.9" rx="1.3" ry="0.6" fill="#010607" opacity="0.9"/><ellipse cx="33.1" cy="5.9" rx="1.3" ry="0.6" fill="#010607" opacity="0.9"/><ellipse cx="26.9" cy="25.5" rx="1.3" ry="1.0" fill="#000000" opacity="0.9"/><ellipse cx="-3.1" cy="25.5" rx="1.3" ry="1.0" fill="#000000" opacity="0.9"/><ellipse cx="4.7" cy="4.6" rx="1.1" ry="1.2" fill="#08343a" opacity="0.9"/><ellipse cx="8.4" cy="27.7" rx="1.3" ry="0.9" fill="#010607" opacity="0.9"/><ellipse cx="8.4" cy="-2.3" rx="1.3" ry="0.9" fill="#010607" opacity="0.9"/><ellipse cx="26.7" cy="12.8" rx="0.8" ry="1.2" fill="#08343a" opacity="0.9"/><ellipse cx="-3.3" cy="12.8" rx="0.8" ry="1.2" fill="#08343a" opacity="0.9"/><ellipse cx="15.3" cy="3.3" rx="0.8" ry="1.0" fill="#16787e" opacity="0.9"/><ellipse cx="15.3" cy="33.3" rx="0.8" ry="1.0" fill="#16787e" opacity="0.9"/><ellipse cx="29.7" cy="29.6" rx="0.9" ry="0.7" fill="#0c4e54" opacity="0.9"/><ellipse cx="-0.3" cy="29.6" rx="0.9" ry="0.7" fill="#0c4e54" opacity="0.9"/><ellipse cx="29.7" cy="-0.4" rx="0.9" ry="0.7" fill="#0c4e54" opacity="0.9"/><ellipse cx="22.1" cy="3.4" rx="0.9" ry="0.7" fill="#0c4e54" opacity="0.9"/><ellipse cx="22.1" cy="33.4" rx="0.9" ry="0.7" fill="#0c4e54" opacity="0.9"/><ellipse cx="18.7" cy="5.7" rx="0.6" ry="1.1" fill="#16787e" opacity="0.9"/><ellipse cx="7.0" cy="2.9" rx="1.2" ry="1.3" fill="#010607" opacity="0.9"/><ellipse cx="7.0" cy="32.9" rx="1.2" ry="1.3" fill="#010607" opacity="0.9"/><ellipse cx="7.0" cy="17.6" rx="1.1" ry="0.9" fill="#0c4e54" opacity="0.9"/><ellipse cx="17.1" cy="15.5" rx="1.3" ry="0.7" fill="#000000" opacity="0.9"/><ellipse cx="3.7" cy="6.4" rx="0.8" ry="0.9" fill="#08343a" opacity="0.9"/><ellipse cx="33.7" cy="6.4" rx="0.8" ry="0.9" fill="#08343a" opacity="0.9"/><ellipse cx="0.5" cy="6.8" rx="0.9" ry="0.9" fill="#3a1a1e" opacity="0.9"/><ellipse cx="30.5" cy="6.8" rx="0.9" ry="0.9" fill="#3a1a1e" opacity="0.9"/><ellipse cx="25.7" cy="7.3" rx="1.1" ry="0.9" fill="#0c4e54" opacity="0.9"/><ellipse cx="15.6" cy="16.5" rx="0.8" ry="1.0" fill="#3a1a1e" opacity="0.9"/><ellipse cx="14.4" cy="29.6" rx="0.6" ry="0.9" fill="#010607" opacity="0.9"/><ellipse cx="14.4" cy="-0.4" rx="0.6" ry="0.9" fill="#010607" opacity="0.9"/><ellipse cx="18.0" cy="5.3" rx="1.1" ry="1.0" fill="#000000" opacity="0.9"/><ellipse cx="4.8" cy="28.7" rx="1.4" ry="1.2" fill="#3a1a1e" opacity="0.9"/><ellipse cx="4.8" cy="-1.3" rx="1.4" ry="1.2" fill="#3a1a1e" opacity="0.9"/><ellipse cx="13.2" cy="29.8" rx="0.7" ry="1.0" fill="#010607" opacity="0.9"/><ellipse cx="13.2" cy="-0.2" rx="0.7" ry="1.0" fill="#010607" opacity="0.9"/><ellipse cx="20.8" cy="2.0" rx="1.3" ry="0.7" fill="#0c4e54" opacity="0.9"/><ellipse cx="20.8" cy="32.0" rx="1.3" ry="0.7" fill="#0c4e54" opacity="0.9"/><ellipse cx="13.0" cy="15.2" rx="0.8" ry="1.2" fill="#16787e" opacity="0.9"/><ellipse cx="11.1" cy="21.4" rx="0.7" ry="1.0" fill="#0c4e54" opacity="0.9"/><ellipse cx="11.2" cy="25.8" rx="0.8" ry="1.3" fill="#08343a" opacity="0.9"/><ellipse cx="25.4" cy="18.1" rx="1.0" ry="0.8" fill="#0c4e54" opacity="0.9"/><ellipse cx="18.5" cy="21.5" rx="1.3" ry="0.9" fill="#16787e" opacity="0.9"/></pattern><pattern id="pC3" width="30" height="30" patternUnits="userSpaceOnUse"><rect width="30" height="30" fill="#2a8a95"/><ellipse cx="19.3" cy="4.1" rx="1.1" ry="0.7" fill="#7ddbe2" opacity="0.9"/><ellipse cx="12.5" cy="28.7" rx="0.9" ry="0.9" fill="#7ddbe2" opacity="0.9"/><ellipse cx="12.5" cy="-1.3" rx="0.9" ry="0.9" fill="#7ddbe2" opacity="0.9"/><ellipse cx="30.0" cy="5.9" rx="1.0" ry="0.9" fill="#1a5a62" opacity="0.9"/><ellipse cx="-0.0" cy="5.9" rx="1.0" ry="0.9" fill="#1a5a62" opacity="0.9"/><ellipse cx="7.0" cy="23.7" rx="1.0" ry="1.3" fill="#1a5a62" opacity="0.9"/><ellipse cx="24.5" cy="1.7" rx="0.9" ry="1.3" fill="#1a5a62" opacity="0.9"/><ellipse cx="24.5" cy="31.7" rx="0.9" ry="1.3" fill="#1a5a62" opacity="0.9"/><ellipse cx="20.5" cy="20.3" rx="1.0" ry="1.0" fill="#7ddbe2" opacity="0.9"/><ellipse cx="16.2" cy="2.0" rx="0.7" ry="0.7" fill="#0e3036" opacity="0.9"/><ellipse cx="16.2" cy="32.0" rx="0.7" ry="0.7" fill="#0e3036" opacity="0.9"/><ellipse cx="19.3" cy="4.1" rx="1.1" ry="0.7" fill="#b8eef0" opacity="0.9"/><ellipse cx="26.1" cy="8.7" rx="1.0" ry="1.2" fill="#7a3a40" opacity="0.9"/><ellipse cx="-3.9" cy="8.7" rx="1.0" ry="1.2" fill="#7a3a40" opacity="0.9"/><ellipse cx="18.5" cy="4.0" rx="0.8" ry="1.1" fill="#b8eef0" opacity="0.9"/><ellipse cx="29.2" cy="23.6" rx="1.4" ry="1.3" fill="#7a3a40" opacity="0.9"/><ellipse cx="-0.8" cy="23.6" rx="1.4" ry="1.3" fill="#7a3a40" opacity="0.9"/><ellipse cx="13.3" cy="24.9" rx="1.1" ry="1.2" fill="#1a5a62" opacity="0.9"/><ellipse cx="14.8" cy="16.5" rx="0.7" ry="0.6" fill="#55c4ce" opacity="0.9"/><ellipse cx="2.4" cy="18.7" rx="1.1" ry="1.2" fill="#b8eef0" opacity="0.9"/><ellipse cx="32.4" cy="18.7" rx="1.1" ry="1.2" fill="#b8eef0" opacity="0.9"/><ellipse cx="21.8" cy="8.0" rx="1.3" ry="0.7" fill="#0e3036" opacity="0.9"/><ellipse cx="28.5" cy="0.7" rx="1.1" ry="0.8" fill="#55c4ce" opacity="0.9"/><ellipse cx="-1.5" cy="0.7" rx="1.1" ry="0.8" fill="#55c4ce" opacity="0.9"/><ellipse cx="28.5" cy="30.7" rx="1.1" ry="0.8" fill="#55c4ce" opacity="0.9"/><ellipse cx="24.9" cy="20.7" rx="1.0" ry="1.3" fill="#7ddbe2" opacity="0.9"/><ellipse cx="9.4" cy="19.0" rx="1.1" ry="0.7" fill="#1a5a62" opacity="0.9"/><ellipse cx="2.0" cy="2.2" rx="1.1" ry="0.7" fill="#7ddbe2" opacity="0.9"/><ellipse cx="32.0" cy="2.2" rx="1.1" ry="0.7" fill="#7ddbe2" opacity="0.9"/><ellipse cx="2.0" cy="32.2" rx="1.1" ry="0.7" fill="#7ddbe2" opacity="0.9"/><ellipse cx="21.0" cy="20.1" rx="0.8" ry="1.2" fill="#55c4ce" opacity="0.9"/><ellipse cx="26.1" cy="29.7" rx="1.0" ry="1.2" fill="#1a5a62" opacity="0.9"/><ellipse cx="-3.9" cy="29.7" rx="1.0" ry="1.2" fill="#1a5a62" opacity="0.9"/><ellipse cx="26.1" cy="-0.3" rx="1.0" ry="1.2" fill="#1a5a62" opacity="0.9"/><ellipse cx="16.6" cy="0.2" rx="0.6" ry="0.8" fill="#1a5a62" opacity="0.9"/><ellipse cx="16.6" cy="30.2" rx="0.6" ry="0.8" fill="#1a5a62" opacity="0.9"/><ellipse cx="2.7" cy="27.8" rx="1.0" ry="1.1" fill="#0e3036" opacity="0.9"/><ellipse cx="32.7" cy="27.8" rx="1.0" ry="1.1" fill="#0e3036" opacity="0.9"/><ellipse cx="2.7" cy="-2.2" rx="1.0" ry="1.1" fill="#0e3036" opacity="0.9"/><ellipse cx="26.5" cy="11.5" rx="1.0" ry="0.9" fill="#0e3036" opacity="0.9"/><ellipse cx="-3.5" cy="11.5" rx="1.0" ry="0.9" fill="#0e3036" opacity="0.9"/><ellipse cx="13.7" cy="5.9" rx="1.4" ry="0.8" fill="#7a3a40" opacity="0.9"/><ellipse cx="28.6" cy="15.3" rx="0.7" ry="0.8" fill="#55c4ce" opacity="0.9"/><ellipse cx="-1.4" cy="15.3" rx="0.7" ry="0.8" fill="#55c4ce" opacity="0.9"/><ellipse cx="6.7" cy="6.5" rx="1.4" ry="0.9" fill="#b8eef0" opacity="0.9"/><ellipse cx="10.4" cy="14.5" rx="1.1" ry="1.2" fill="#0e3036" opacity="0.9"/><ellipse cx="26.3" cy="10.7" rx="0.8" ry="0.9" fill="#7a3a40" opacity="0.9"/><ellipse cx="-3.7" cy="10.7" rx="0.8" ry="0.9" fill="#7a3a40" opacity="0.9"/><ellipse cx="27.4" cy="28.0" rx="0.7" ry="1.2" fill="#3aa4ae" opacity="0.9"/><ellipse cx="-2.6" cy="28.0" rx="0.7" ry="1.2" fill="#3aa4ae" opacity="0.9"/><ellipse cx="27.4" cy="-2.0" rx="0.7" ry="1.2" fill="#3aa4ae" opacity="0.9"/><ellipse cx="27.6" cy="14.2" rx="1.0" ry="1.2" fill="#7ddbe2" opacity="0.9"/><ellipse cx="-2.4" cy="14.2" rx="1.0" ry="1.2" fill="#7ddbe2" opacity="0.9"/><ellipse cx="19.6" cy="7.5" rx="1.1" ry="1.3" fill="#1a5a62" opacity="0.9"/><ellipse cx="8.3" cy="19.1" rx="1.0" ry="0.9" fill="#b8eef0" opacity="0.9"/><ellipse cx="25.3" cy="9.5" rx="1.2" ry="1.3" fill="#1a5a62" opacity="0.9"/><ellipse cx="7.6" cy="24.9" rx="1.0" ry="1.1" fill="#7a3a40" opacity="0.9"/><ellipse cx="26.9" cy="21.0" rx="0.7" ry="1.1" fill="#55c4ce" opacity="0.9"/><ellipse cx="-3.1" cy="21.0" rx="0.7" ry="1.1" fill="#55c4ce" opacity="0.9"/><ellipse cx="23.6" cy="20.3" rx="1.3" ry="0.9" fill="#7a3a40" opacity="0.9"/><ellipse cx="21.4" cy="13.1" rx="1.3" ry="0.7" fill="#7ddbe2" opacity="0.9"/><ellipse cx="15.3" cy="4.5" rx="0.8" ry="1.3" fill="#3aa4ae" opacity="0.9"/><ellipse cx="8.3" cy="3.0" rx="1.2" ry="1.3" fill="#7ddbe2" opacity="0.9"/><ellipse cx="8.3" cy="33.0" rx="1.2" ry="1.3" fill="#7ddbe2" opacity="0.9"/><ellipse cx="14.3" cy="16.1" rx="1.0" ry="1.0" fill="#0e3036" opacity="0.9"/><ellipse cx="3.0" cy="29.4" rx="1.3" ry="1.0" fill="#0e3036" opacity="0.9"/><ellipse cx="33.0" cy="29.4" rx="1.3" ry="1.0" fill="#0e3036" opacity="0.9"/><ellipse cx="3.0" cy="-0.6" rx="1.3" ry="1.0" fill="#0e3036" opacity="0.9"/><ellipse cx="19.4" cy="3.1" rx="0.9" ry="1.3" fill="#1a5a62" opacity="0.9"/><ellipse cx="19.4" cy="33.1" rx="0.9" ry="1.3" fill="#1a5a62" opacity="0.9"/><ellipse cx="18.9" cy="17.8" rx="1.4" ry="0.7" fill="#1a5a62" opacity="0.9"/><ellipse cx="11.1" cy="14.4" rx="0.7" ry="1.1" fill="#7a3a40" opacity="0.9"/><ellipse cx="9.2" cy="7.6" rx="1.2" ry="1.2" fill="#55c4ce" opacity="0.9"/><ellipse cx="25.2" cy="26.1" rx="0.6" ry="0.8" fill="#55c4ce" opacity="0.9"/><ellipse cx="25.2" cy="-3.9" rx="0.6" ry="0.8" fill="#55c4ce" opacity="0.9"/><ellipse cx="7.7" cy="25.0" rx="0.8" ry="0.7" fill="#55c4ce" opacity="0.9"/><ellipse cx="9.0" cy="13.8" rx="0.9" ry="1.2" fill="#7a3a40" opacity="0.9"/><ellipse cx="12.4" cy="22.6" rx="1.3" ry="0.7" fill="#7a3a40" opacity="0.9"/><ellipse cx="3.2" cy="20.9" rx="1.2" ry="1.4" fill="#7ddbe2" opacity="0.9"/><ellipse cx="33.2" cy="20.9" rx="1.2" ry="1.4" fill="#7ddbe2" opacity="0.9"/><ellipse cx="10.5" cy="9.4" rx="0.9" ry="1.1" fill="#b8eef0" opacity="0.9"/><ellipse cx="11.8" cy="9.4" rx="0.7" ry="1.4" fill="#b8eef0" opacity="0.9"/><ellipse cx="22.4" cy="20.3" rx="1.1" ry="1.0" fill="#0e3036" opacity="0.9"/><ellipse cx="14.3" cy="5.3" rx="0.9" ry="1.3" fill="#3aa4ae" opacity="0.9"/><ellipse cx="6.3" cy="1.5" rx="0.8" ry="1.4" fill="#7ddbe2" opacity="0.9"/><ellipse cx="6.3" cy="31.5" rx="0.8" ry="1.4" fill="#7ddbe2" opacity="0.9"/><ellipse cx="29.9" cy="15.3" rx="0.7" ry="1.1" fill="#3aa4ae" opacity="0.9"/><ellipse cx="-0.1" cy="15.3" rx="0.7" ry="1.1" fill="#3aa4ae" opacity="0.9"/><ellipse cx="29.3" cy="0.4" rx="1.1" ry="1.1" fill="#0e3036" opacity="0.9"/><ellipse cx="-0.7" cy="0.4" rx="1.1" ry="1.1" fill="#0e3036" opacity="0.9"/><ellipse cx="29.3" cy="30.4" rx="1.1" ry="1.1" fill="#0e3036" opacity="0.9"/><ellipse cx="5.8" cy="24.5" rx="1.3" ry="0.9" fill="#7a3a40" opacity="0.9"/><ellipse cx="21.8" cy="6.1" rx="1.1" ry="1.1" fill="#7a3a40" opacity="0.9"/><ellipse cx="8.9" cy="11.5" rx="1.2" ry="1.0" fill="#7ddbe2" opacity="0.9"/><ellipse cx="10.1" cy="3.8" rx="1.1" ry="0.8" fill="#0e3036" opacity="0.9"/><ellipse cx="10.1" cy="33.8" rx="1.1" ry="0.8" fill="#0e3036" opacity="0.9"/><ellipse cx="8.9" cy="23.9" rx="1.2" ry="0.7" fill="#55c4ce" opacity="0.9"/><ellipse cx="21.9" cy="2.0" rx="1.3" ry="0.6" fill="#7a3a40" opacity="0.9"/><ellipse cx="21.9" cy="32.0" rx="1.3" ry="0.6" fill="#7a3a40" opacity="0.9"/><ellipse cx="27.5" cy="21.1" rx="1.1" ry="1.1" fill="#7a3a40" opacity="0.9"/><ellipse cx="-2.5" cy="21.1" rx="1.1" ry="1.1" fill="#7a3a40" opacity="0.9"/><ellipse cx="12.4" cy="3.7" rx="1.0" ry="0.8" fill="#3aa4ae" opacity="0.9"/><ellipse cx="12.4" cy="33.7" rx="1.0" ry="0.8" fill="#3aa4ae" opacity="0.9"/><ellipse cx="11.5" cy="13.1" rx="0.8" ry="1.4" fill="#1a5a62" opacity="0.9"/><ellipse cx="14.4" cy="21.4" rx="0.9" ry="1.0" fill="#b8eef0" opacity="0.9"/><ellipse cx="8.4" cy="3.3" rx="0.6" ry="1.0" fill="#0e3036" opacity="0.9"/><ellipse cx="8.4" cy="33.3" rx="0.6" ry="1.0" fill="#0e3036" opacity="0.9"/><ellipse cx="27.7" cy="4.6" rx="0.9" ry="1.1" fill="#1a5a62" opacity="0.9"/><ellipse cx="-2.3" cy="4.6" rx="0.9" ry="1.1" fill="#1a5a62" opacity="0.9"/><ellipse cx="4.6" cy="15.6" rx="0.9" ry="1.4" fill="#0e3036" opacity="0.9"/><ellipse cx="7.1" cy="16.8" rx="0.9" ry="0.6" fill="#3aa4ae" opacity="0.9"/><ellipse cx="19.9" cy="23.7" rx="1.3" ry="1.0" fill="#0e3036" opacity="0.9"/><ellipse cx="1.9" cy="27.7" rx="0.7" ry="0.8" fill="#7a3a40" opacity="0.9"/><ellipse cx="31.9" cy="27.7" rx="0.7" ry="0.8" fill="#7a3a40" opacity="0.9"/><ellipse cx="1.9" cy="-2.3" rx="0.7" ry="0.8" fill="#7a3a40" opacity="0.9"/><ellipse cx="24.5" cy="24.3" rx="0.9" ry="1.2" fill="#55c4ce" opacity="0.9"/><ellipse cx="0.5" cy="4.5" rx="0.8" ry="0.7" fill="#55c4ce" opacity="0.9"/><ellipse cx="30.5" cy="4.5" rx="0.8" ry="0.7" fill="#55c4ce" opacity="0.9"/><ellipse cx="16.6" cy="18.1" rx="0.7" ry="0.8" fill="#3aa4ae" opacity="0.9"/><ellipse cx="13.2" cy="17.6" rx="0.9" ry="1.4" fill="#b8eef0" opacity="0.9"/><ellipse cx="22.3" cy="2.9" rx="1.4" ry="0.9" fill="#b8eef0" opacity="0.9"/><ellipse cx="22.3" cy="32.9" rx="1.4" ry="0.9" fill="#b8eef0" opacity="0.9"/><ellipse cx="1.8" cy="3.4" rx="0.9" ry="1.1" fill="#7ddbe2" opacity="0.9"/><ellipse cx="31.8" cy="3.4" rx="0.9" ry="1.1" fill="#7ddbe2" opacity="0.9"/><ellipse cx="1.8" cy="33.4" rx="0.9" ry="1.1" fill="#7ddbe2" opacity="0.9"/><ellipse cx="17.6" cy="21.6" rx="0.8" ry="1.0" fill="#7ddbe2" opacity="0.9"/><ellipse cx="17.2" cy="0.6" rx="1.0" ry="0.9" fill="#b8eef0" opacity="0.9"/><ellipse cx="17.2" cy="30.6" rx="1.0" ry="0.9" fill="#b8eef0" opacity="0.9"/><ellipse cx="8.2" cy="19.3" rx="0.7" ry="1.2" fill="#3aa4ae" opacity="0.9"/><ellipse cx="10.2" cy="11.1" rx="0.9" ry="1.3" fill="#1a5a62" opacity="0.9"/><ellipse cx="21.6" cy="11.2" rx="0.9" ry="1.3" fill="#1a5a62" opacity="0.9"/><ellipse cx="17.9" cy="17.9" rx="0.8" ry="0.9" fill="#3aa4ae" opacity="0.9"/><ellipse cx="7.7" cy="24.4" rx="1.1" ry="0.8" fill="#b8eef0" opacity="0.9"/><ellipse cx="19.4" cy="24.3" rx="1.0" ry="0.7" fill="#0e3036" opacity="0.9"/><ellipse cx="21.1" cy="10.8" rx="1.2" ry="1.3" fill="#3aa4ae" opacity="0.9"/><ellipse cx="13.9" cy="21.4" rx="0.7" ry="1.1" fill="#55c4ce" opacity="0.9"/><ellipse cx="5.5" cy="19.3" rx="1.0" ry="0.9" fill="#7ddbe2" opacity="0.9"/><ellipse cx="28.7" cy="11.8" rx="1.1" ry="0.8" fill="#7a3a40" opacity="0.9"/><ellipse cx="-1.3" cy="11.8" rx="1.1" ry="0.8" fill="#7a3a40" opacity="0.9"/><ellipse cx="20.9" cy="22.2" rx="1.1" ry="0.9" fill="#b8eef0" opacity="0.9"/><ellipse cx="12.0" cy="11.9" rx="0.9" ry="0.7" fill="#b8eef0" opacity="0.9"/><ellipse cx="23.3" cy="29.8" rx="1.0" ry="1.3" fill="#7ddbe2" opacity="0.9"/><ellipse cx="23.3" cy="-0.2" rx="1.0" ry="1.3" fill="#7ddbe2" opacity="0.9"/><ellipse cx="20.5" cy="2.3" rx="1.0" ry="0.7" fill="#1a5a62" opacity="0.9"/><ellipse cx="20.5" cy="32.3" rx="1.0" ry="0.7" fill="#1a5a62" opacity="0.9"/><ellipse cx="26.4" cy="8.0" rx="1.2" ry="1.0" fill="#1a5a62" opacity="0.9"/><ellipse cx="-3.6" cy="8.0" rx="1.2" ry="1.0" fill="#1a5a62" opacity="0.9"/><ellipse cx="18.0" cy="29.5" rx="1.3" ry="0.7" fill="#b8eef0" opacity="0.9"/><ellipse cx="18.0" cy="-0.5" rx="1.3" ry="0.7" fill="#b8eef0" opacity="0.9"/><ellipse cx="20.1" cy="5.1" rx="0.7" ry="1.1" fill="#7ddbe2" opacity="0.9"/><ellipse cx="14.4" cy="25.9" rx="1.0" ry="0.7" fill="#b8eef0" opacity="0.9"/><ellipse cx="6.7" cy="25.4" rx="0.9" ry="1.3" fill="#1a5a62" opacity="0.9"/><ellipse cx="2.5" cy="6.2" rx="1.3" ry="1.4" fill="#7ddbe2" opacity="0.9"/><ellipse cx="32.5" cy="6.2" rx="1.3" ry="1.4" fill="#7ddbe2" opacity="0.9"/><ellipse cx="11.4" cy="0.4" rx="1.3" ry="0.9" fill="#55c4ce" opacity="0.9"/><ellipse cx="11.4" cy="30.4" rx="1.3" ry="0.9" fill="#55c4ce" opacity="0.9"/><ellipse cx="2.8" cy="28.4" rx="0.9" ry="0.8" fill="#b8eef0" opacity="0.9"/><ellipse cx="32.8" cy="28.4" rx="0.9" ry="0.8" fill="#b8eef0" opacity="0.9"/><ellipse cx="2.8" cy="-1.6" rx="0.9" ry="0.8" fill="#b8eef0" opacity="0.9"/><ellipse cx="3.0" cy="21.3" rx="1.1" ry="1.0" fill="#7ddbe2" opacity="0.9"/><ellipse cx="33.0" cy="21.3" rx="1.1" ry="1.0" fill="#7ddbe2" opacity="0.9"/><ellipse cx="13.5" cy="6.4" rx="0.6" ry="1.1" fill="#55c4ce" opacity="0.9"/><ellipse cx="26.6" cy="3.7" rx="1.3" ry="0.6" fill="#7a3a40" opacity="0.9"/><ellipse cx="-3.4" cy="3.7" rx="1.3" ry="0.6" fill="#7a3a40" opacity="0.9"/><ellipse cx="26.6" cy="33.7" rx="1.3" ry="0.6" fill="#7a3a40" opacity="0.9"/><ellipse cx="17.6" cy="26.5" rx="1.0" ry="0.7" fill="#3aa4ae" opacity="0.9"/><ellipse cx="17.6" cy="-3.5" rx="1.0" ry="0.7" fill="#3aa4ae" opacity="0.9"/><ellipse cx="4.6" cy="16.2" rx="0.8" ry="0.9" fill="#7ddbe2" opacity="0.9"/><ellipse cx="2.7" cy="29.5" rx="1.2" ry="1.1" fill="#1a5a62" opacity="0.9"/><ellipse cx="32.7" cy="29.5" rx="1.2" ry="1.1" fill="#1a5a62" opacity="0.9"/><ellipse cx="2.7" cy="-0.5" rx="1.2" ry="1.1" fill="#1a5a62" opacity="0.9"/><ellipse cx="18.0" cy="27.7" rx="1.2" ry="1.1" fill="#1a5a62" opacity="0.9"/><ellipse cx="18.0" cy="-2.3" rx="1.2" ry="1.1" fill="#1a5a62" opacity="0.9"/><ellipse cx="1.4" cy="15.0" rx="1.0" ry="0.6" fill="#1a5a62" opacity="0.9"/><ellipse cx="31.4" cy="15.0" rx="1.0" ry="0.6" fill="#1a5a62" opacity="0.9"/><ellipse cx="21.2" cy="27.9" rx="1.1" ry="1.1" fill="#3aa4ae" opacity="0.9"/><ellipse cx="21.2" cy="-2.1" rx="1.1" ry="1.1" fill="#3aa4ae" opacity="0.9"/><ellipse cx="23.3" cy="13.4" rx="1.0" ry="1.2" fill="#1a5a62" opacity="0.9"/><ellipse cx="27.6" cy="20.7" rx="0.7" ry="0.7" fill="#7a3a40" opacity="0.9"/><ellipse cx="-2.4" cy="20.7" rx="0.7" ry="0.7" fill="#7a3a40" opacity="0.9"/><ellipse cx="20.5" cy="26.8" rx="0.7" ry="0.7" fill="#3aa4ae" opacity="0.9"/><ellipse cx="20.5" cy="-3.2" rx="0.7" ry="0.7" fill="#3aa4ae" opacity="0.9"/><ellipse cx="20.0" cy="5.6" rx="0.9" ry="1.2" fill="#3aa4ae" opacity="0.9"/><ellipse cx="23.8" cy="19.0" rx="0.7" ry="1.4" fill="#7ddbe2" opacity="0.9"/><ellipse cx="13.4" cy="2.0" rx="0.6" ry="1.3" fill="#7a3a40" opacity="0.9"/><ellipse cx="13.4" cy="32.0" rx="0.6" ry="1.3" fill="#7a3a40" opacity="0.9"/><ellipse cx="12.4" cy="28.6" rx="0.9" ry="1.3" fill="#0e3036" opacity="0.9"/><ellipse cx="12.4" cy="-1.4" rx="0.9" ry="1.3" fill="#0e3036" opacity="0.9"/><ellipse cx="1.5" cy="12.3" rx="0.9" ry="1.1" fill="#3aa4ae" opacity="0.9"/><ellipse cx="31.5" cy="12.3" rx="0.9" ry="1.1" fill="#3aa4ae" opacity="0.9"/><ellipse cx="11.9" cy="19.4" rx="1.0" ry="0.9" fill="#b8eef0" opacity="0.9"/><ellipse cx="23.6" cy="12.9" rx="0.8" ry="1.4" fill="#55c4ce" opacity="0.9"/><ellipse cx="2.8" cy="1.7" rx="0.9" ry="1.3" fill="#7a3a40" opacity="0.9"/><ellipse cx="32.8" cy="1.7" rx="0.9" ry="1.3" fill="#7a3a40" opacity="0.9"/><ellipse cx="2.8" cy="31.7" rx="0.9" ry="1.3" fill="#7a3a40" opacity="0.9"/><ellipse cx="14.8" cy="11.2" rx="0.7" ry="0.9" fill="#1a5a62" opacity="0.9"/><ellipse cx="0.4" cy="11.5" rx="0.8" ry="1.1" fill="#55c4ce" opacity="0.9"/><ellipse cx="30.4" cy="11.5" rx="0.8" ry="1.1" fill="#55c4ce" opacity="0.9"/><ellipse cx="15.0" cy="15.8" rx="0.7" ry="0.7" fill="#7a3a40" opacity="0.9"/><ellipse cx="3.1" cy="21.9" rx="1.2" ry="1.1" fill="#55c4ce" opacity="0.9"/><ellipse cx="33.1" cy="21.9" rx="1.2" ry="1.1" fill="#55c4ce" opacity="0.9"/><ellipse cx="22.0" cy="14.1" rx="1.2" ry="1.3" fill="#1a5a62" opacity="0.9"/><ellipse cx="1.4" cy="26.4" rx="1.1" ry="0.8" fill="#55c4ce" opacity="0.9"/><ellipse cx="31.4" cy="26.4" rx="1.1" ry="0.8" fill="#55c4ce" opacity="0.9"/><ellipse cx="1.4" cy="-3.6" rx="1.1" ry="0.8" fill="#55c4ce" opacity="0.9"/><ellipse cx="24.8" cy="26.9" rx="0.8" ry="1.1" fill="#3aa4ae" opacity="0.9"/><ellipse cx="24.8" cy="-3.1" rx="0.8" ry="1.1" fill="#3aa4ae" opacity="0.9"/><ellipse cx="3.1" cy="18.9" rx="1.1" ry="0.6" fill="#1a5a62" opacity="0.9"/><ellipse cx="33.1" cy="18.9" rx="1.1" ry="0.6" fill="#1a5a62" opacity="0.9"/><ellipse cx="16.3" cy="27.9" rx="1.1" ry="1.3" fill="#b8eef0" opacity="0.9"/><ellipse cx="16.3" cy="-2.1" rx="1.1" ry="1.3" fill="#b8eef0" opacity="0.9"/><ellipse cx="24.0" cy="19.8" rx="0.9" ry="1.3" fill="#7a3a40" opacity="0.9"/><ellipse cx="21.8" cy="29.1" rx="1.1" ry="1.0" fill="#7a3a40" opacity="0.9"/><ellipse cx="21.8" cy="-0.9" rx="1.1" ry="1.0" fill="#7a3a40" opacity="0.9"/><ellipse cx="27.1" cy="1.4" rx="0.8" ry="1.1" fill="#7ddbe2" opacity="0.9"/><ellipse cx="-2.9" cy="1.4" rx="0.8" ry="1.1" fill="#7ddbe2" opacity="0.9"/><ellipse cx="27.1" cy="31.4" rx="0.8" ry="1.1" fill="#7ddbe2" opacity="0.9"/><ellipse cx="9.6" cy="26.3" rx="0.6" ry="1.2" fill="#55c4ce" opacity="0.9"/><ellipse cx="9.6" cy="-3.7" rx="0.6" ry="1.2" fill="#55c4ce" opacity="0.9"/><ellipse cx="27.3" cy="4.9" rx="0.8" ry="1.2" fill="#0e3036" opacity="0.9"/><ellipse cx="-2.7" cy="4.9" rx="0.8" ry="1.2" fill="#0e3036" opacity="0.9"/><ellipse cx="6.8" cy="21.1" rx="1.0" ry="1.1" fill="#1a5a62" opacity="0.9"/><ellipse cx="18.4" cy="4.3" rx="1.2" ry="1.3" fill="#55c4ce" opacity="0.9"/><ellipse cx="7.4" cy="15.5" rx="0.9" ry="0.9" fill="#0e3036" opacity="0.9"/><ellipse cx="13.4" cy="25.3" rx="1.4" ry="0.8" fill="#1a5a62" opacity="0.9"/><ellipse cx="0.6" cy="8.1" rx="1.0" ry="1.3" fill="#7ddbe2" opacity="0.9"/><ellipse cx="30.6" cy="8.1" rx="1.0" ry="1.3" fill="#7ddbe2" opacity="0.9"/><ellipse cx="25.1" cy="0.0" rx="1.3" ry="1.1" fill="#7a3a40" opacity="0.9"/><ellipse cx="25.1" cy="30.0" rx="1.3" ry="1.1" fill="#7a3a40" opacity="0.9"/><ellipse cx="1.9" cy="9.9" rx="0.7" ry="0.7" fill="#1a5a62" opacity="0.9"/><ellipse cx="31.9" cy="9.9" rx="0.7" ry="0.7" fill="#1a5a62" opacity="0.9"/><ellipse cx="16.3" cy="1.2" rx="1.3" ry="1.3" fill="#3aa4ae" opacity="0.9"/><ellipse cx="16.3" cy="31.2" rx="1.3" ry="1.3" fill="#3aa4ae" opacity="0.9"/><ellipse cx="15.2" cy="4.3" rx="1.3" ry="1.3" fill="#7ddbe2" opacity="0.9"/><ellipse cx="26.6" cy="4.6" rx="0.8" ry="1.3" fill="#55c4ce" opacity="0.9"/><ellipse cx="-3.4" cy="4.6" rx="0.8" ry="1.3" fill="#55c4ce" opacity="0.9"/><ellipse cx="26.0" cy="24.8" rx="0.7" ry="1.2" fill="#0e3036" opacity="0.9"/><ellipse cx="-4.0" cy="24.8" rx="0.7" ry="1.2" fill="#0e3036" opacity="0.9"/><ellipse cx="13.1" cy="15.6" rx="1.2" ry="1.4" fill="#0e3036" opacity="0.9"/><ellipse cx="3.9" cy="5.6" rx="1.2" ry="0.9" fill="#7ddbe2" opacity="0.9"/><ellipse cx="33.9" cy="5.6" rx="1.2" ry="0.9" fill="#7ddbe2" opacity="0.9"/><ellipse cx="25.5" cy="17.0" rx="0.8" ry="0.8" fill="#b8eef0" opacity="0.9"/><ellipse cx="5.5" cy="18.4" rx="0.9" ry="0.7" fill="#7a3a40" opacity="0.9"/><ellipse cx="20.9" cy="20.2" rx="0.7" ry="1.2" fill="#0e3036" opacity="0.9"/><ellipse cx="0.2" cy="9.7" rx="1.2" ry="1.3" fill="#7a3a40" opacity="0.9"/><ellipse cx="30.2" cy="9.7" rx="1.2" ry="1.3" fill="#7a3a40" opacity="0.9"/><ellipse cx="14.0" cy="24.5" rx="0.7" ry="0.7" fill="#1a5a62" opacity="0.9"/><ellipse cx="12.1" cy="5.4" rx="0.8" ry="1.3" fill="#55c4ce" opacity="0.9"/><ellipse cx="2.7" cy="20.0" rx="0.7" ry="0.8" fill="#7a3a40" opacity="0.9"/><ellipse cx="32.7" cy="20.0" rx="0.7" ry="0.8" fill="#7a3a40" opacity="0.9"/><ellipse cx="1.6" cy="28.3" rx="1.1" ry="0.7" fill="#3aa4ae" opacity="0.9"/><ellipse cx="31.6" cy="28.3" rx="1.1" ry="0.7" fill="#3aa4ae" opacity="0.9"/><ellipse cx="1.6" cy="-1.7" rx="1.1" ry="0.7" fill="#3aa4ae" opacity="0.9"/><ellipse cx="10.2" cy="7.3" rx="1.2" ry="1.2" fill="#0e3036" opacity="0.9"/><ellipse cx="13.6" cy="10.9" rx="1.3" ry="1.3" fill="#55c4ce" opacity="0.9"/><ellipse cx="8.8" cy="8.5" rx="1.2" ry="0.8" fill="#1a5a62" opacity="0.9"/><ellipse cx="13.3" cy="5.6" rx="1.3" ry="1.2" fill="#1a5a62" opacity="0.9"/><ellipse cx="11.4" cy="27.6" rx="1.4" ry="1.0" fill="#b8eef0" opacity="0.9"/><ellipse cx="11.4" cy="-2.4" rx="1.4" ry="1.0" fill="#b8eef0" opacity="0.9"/><ellipse cx="13.3" cy="12.8" rx="1.0" ry="0.9" fill="#7ddbe2" opacity="0.9"/><ellipse cx="15.1" cy="23.1" rx="0.7" ry="0.9" fill="#55c4ce" opacity="0.9"/><ellipse cx="14.4" cy="11.5" rx="1.3" ry="1.3" fill="#3aa4ae" opacity="0.9"/><ellipse cx="19.2" cy="16.7" rx="1.2" ry="0.7" fill="#3aa4ae" opacity="0.9"/><ellipse cx="19.8" cy="9.2" rx="1.0" ry="0.8" fill="#3aa4ae" opacity="0.9"/><ellipse cx="24.9" cy="8.6" rx="1.3" ry="1.2" fill="#b8eef0" opacity="0.9"/><ellipse cx="14.3" cy="28.9" rx="0.7" ry="1.3" fill="#7a3a40" opacity="0.9"/><ellipse cx="14.3" cy="-1.1" rx="0.7" ry="1.3" fill="#7a3a40" opacity="0.9"/><ellipse cx="15.0" cy="0.5" rx="1.2" ry="1.2" fill="#1a5a62" opacity="0.9"/><ellipse cx="15.0" cy="30.5" rx="1.2" ry="1.2" fill="#1a5a62" opacity="0.9"/><ellipse cx="25.4" cy="24.6" rx="0.9" ry="1.3" fill="#7ddbe2" opacity="0.9"/><ellipse cx="12.8" cy="0.6" rx="1.4" ry="1.2" fill="#7a3a40" opacity="0.9"/><ellipse cx="12.8" cy="30.6" rx="1.4" ry="1.2" fill="#7a3a40" opacity="0.9"/><ellipse cx="24.0" cy="21.9" rx="0.7" ry="1.4" fill="#7ddbe2" opacity="0.9"/><ellipse cx="9.3" cy="6.1" rx="0.9" ry="1.1" fill="#7a3a40" opacity="0.9"/><ellipse cx="28.4" cy="19.0" rx="0.9" ry="0.7" fill="#55c4ce" opacity="0.9"/><ellipse cx="-1.6" cy="19.0" rx="0.9" ry="0.7" fill="#55c4ce" opacity="0.9"/><ellipse cx="9.3" cy="3.4" rx="1.2" ry="1.2" fill="#3aa4ae" opacity="0.9"/><ellipse cx="9.3" cy="33.4" rx="1.2" ry="1.2" fill="#3aa4ae" opacity="0.9"/><ellipse cx="19.8" cy="17.1" rx="1.1" ry="0.8" fill="#7a3a40" opacity="0.9"/><ellipse cx="17.7" cy="16.3" rx="0.9" ry="0.8" fill="#1a5a62" opacity="0.9"/><ellipse cx="30.0" cy="21.9" rx="0.6" ry="1.0" fill="#b8eef0" opacity="0.9"/><ellipse cx="-0.0" cy="21.9" rx="0.6" ry="1.0" fill="#b8eef0" opacity="0.9"/><ellipse cx="6.2" cy="1.6" rx="0.7" ry="0.9" fill="#0e3036" opacity="0.9"/><ellipse cx="6.2" cy="31.6" rx="0.7" ry="0.9" fill="#0e3036" opacity="0.9"/><ellipse cx="2.4" cy="6.5" rx="1.0" ry="0.8" fill="#b8eef0" opacity="0.9"/><ellipse cx="32.4" cy="6.5" rx="1.0" ry="0.8" fill="#b8eef0" opacity="0.9"/><ellipse cx="12.3" cy="2.3" rx="1.2" ry="0.7" fill="#7ddbe2" opacity="0.9"/><ellipse cx="12.3" cy="32.3" rx="1.2" ry="0.7" fill="#7ddbe2" opacity="0.9"/><ellipse cx="20.7" cy="11.4" rx="1.3" ry="1.3" fill="#1a5a62" opacity="0.9"/><ellipse cx="10.8" cy="4.2" rx="0.9" ry="0.9" fill="#55c4ce" opacity="0.9"/><ellipse cx="1.3" cy="14.6" rx="0.6" ry="1.2" fill="#7a3a40" opacity="0.9"/><ellipse cx="31.3" cy="14.6" rx="0.6" ry="1.2" fill="#7a3a40" opacity="0.9"/><ellipse cx="21.8" cy="11.1" rx="1.4" ry="0.8" fill="#3aa4ae" opacity="0.9"/><ellipse cx="5.4" cy="24.5" rx="1.0" ry="1.2" fill="#1a5a62" opacity="0.9"/><ellipse cx="22.8" cy="4.0" rx="1.2" ry="1.2" fill="#0e3036" opacity="0.9"/></pattern><pattern id="pYd" width="36" height="36" patternUnits="userSpaceOnUse"><ellipse cx="20.2" cy="6.9" rx="1.3" ry="1.1" fill="#a89a12" opacity="0.78"/><ellipse cx="8.5" cy="29.1" rx="1.0" ry="0.9" fill="#a89a12" opacity="0.78"/><ellipse cx="30.4" cy="0.5" rx="1.0" ry="1.3" fill="#b8a915" opacity="0.78"/><ellipse cx="30.4" cy="36.5" rx="1.0" ry="1.3" fill="#b8a915" opacity="0.78"/><ellipse cx="10.9" cy="8.4" rx="1.1" ry="0.9" fill="#b8a915" opacity="0.78"/><ellipse cx="20.2" cy="17.2" rx="0.9" ry="1.1" fill="#e4d62c" opacity="0.78"/><ellipse cx="3.0" cy="31.2" rx="1.1" ry="1.2" fill="#a89a12" opacity="0.78"/><ellipse cx="39.0" cy="31.2" rx="1.1" ry="1.2" fill="#a89a12" opacity="0.78"/><ellipse cx="19.6" cy="14.0" rx="1.2" ry="0.9" fill="#d2c21a" opacity="0.78"/><ellipse cx="15.7" cy="23.4" rx="1.1" ry="0.8" fill="#e6d41e" opacity="0.78"/><ellipse cx="16.9" cy="32.0" rx="0.9" ry="1.2" fill="#b8a915" opacity="0.78"/><ellipse cx="10.5" cy="24.8" rx="0.7" ry="1.2" fill="#a89a12" opacity="0.78"/><ellipse cx="24.1" cy="7.4" rx="1.0" ry="1.1" fill="#d2c21a" opacity="0.78"/><ellipse cx="35.6" cy="14.3" rx="0.7" ry="0.9" fill="#d2c21a" opacity="0.78"/><ellipse cx="-0.4" cy="14.3" rx="0.7" ry="0.9" fill="#d2c21a" opacity="0.78"/><ellipse cx="20.8" cy="6.2" rx="1.2" ry="0.7" fill="#a89a12" opacity="0.78"/><ellipse cx="5.3" cy="3.5" rx="0.8" ry="1.0" fill="#b8a915" opacity="0.78"/><ellipse cx="5.3" cy="39.5" rx="0.8" ry="1.0" fill="#b8a915" opacity="0.78"/><ellipse cx="23.1" cy="16.4" rx="1.3" ry="1.2" fill="#a89a12" opacity="0.78"/><ellipse cx="12.4" cy="23.7" rx="1.3" ry="1.2" fill="#d2c21a" opacity="0.78"/><ellipse cx="11.9" cy="11.6" rx="0.8" ry="1.0" fill="#b8a915" opacity="0.78"/><ellipse cx="0.9" cy="30.1" rx="0.9" ry="0.7" fill="#b8a915" opacity="0.78"/><ellipse cx="36.9" cy="30.1" rx="0.9" ry="0.7" fill="#b8a915" opacity="0.78"/><ellipse cx="4.9" cy="13.2" rx="1.1" ry="0.9" fill="#a89a12" opacity="0.78"/><ellipse cx="6.5" cy="9.0" rx="1.1" ry="1.0" fill="#b8a915" opacity="0.78"/><ellipse cx="13.2" cy="18.6" rx="1.2" ry="0.7" fill="#e4d62c" opacity="0.78"/><ellipse cx="33.0" cy="28.5" rx="1.0" ry="1.0" fill="#b8a915" opacity="0.78"/><ellipse cx="-3.0" cy="28.5" rx="1.0" ry="1.0" fill="#b8a915" opacity="0.78"/><ellipse cx="32.8" cy="8.8" rx="0.8" ry="1.1" fill="#d2c21a" opacity="0.78"/><ellipse cx="-3.2" cy="8.8" rx="0.8" ry="1.1" fill="#d2c21a" opacity="0.78"/><ellipse cx="33.3" cy="31.9" rx="0.7" ry="1.1" fill="#d2c21a" opacity="0.78"/><ellipse cx="-2.7" cy="31.9" rx="0.7" ry="1.1" fill="#d2c21a" opacity="0.78"/><ellipse cx="4.7" cy="24.5" rx="1.0" ry="1.3" fill="#b8a915" opacity="0.78"/><ellipse cx="24.0" cy="6.9" rx="1.1" ry="0.9" fill="#e4d62c" opacity="0.78"/><ellipse cx="6.8" cy="25.6" rx="0.7" ry="0.8" fill="#e6d41e" opacity="0.78"/><ellipse cx="17.5" cy="18.5" rx="1.3" ry="1.3" fill="#e6d41e" opacity="0.78"/><ellipse cx="18.6" cy="5.3" rx="0.9" ry="0.9" fill="#a89a12" opacity="0.78"/><ellipse cx="27.5" cy="16.9" rx="1.3" ry="0.9" fill="#e4d62c" opacity="0.78"/><ellipse cx="7.5" cy="27.8" rx="0.7" ry="1.0" fill="#e4d62c" opacity="0.78"/><ellipse cx="7.2" cy="19.6" rx="1.3" ry="0.7" fill="#e4d62c" opacity="0.78"/><ellipse cx="27.9" cy="27.0" rx="1.1" ry="0.7" fill="#d2c21a" opacity="0.78"/><ellipse cx="3.7" cy="28.2" rx="1.2" ry="0.9" fill="#e6d41e" opacity="0.78"/><ellipse cx="39.7" cy="28.2" rx="1.2" ry="0.9" fill="#e6d41e" opacity="0.78"/><ellipse cx="14.8" cy="27.0" rx="0.7" ry="1.3" fill="#e4d62c" opacity="0.78"/><ellipse cx="29.0" cy="16.7" rx="0.8" ry="0.9" fill="#a89a12" opacity="0.78"/><ellipse cx="29.9" cy="6.8" rx="0.8" ry="0.8" fill="#b8a915" opacity="0.78"/><ellipse cx="24.4" cy="15.3" rx="1.3" ry="1.3" fill="#e6d41e" opacity="0.78"/><ellipse cx="19.0" cy="30.5" rx="0.7" ry="0.7" fill="#a89a12" opacity="0.78"/><ellipse cx="33.3" cy="15.8" rx="1.1" ry="1.2" fill="#b8a915" opacity="0.78"/><ellipse cx="-2.7" cy="15.8" rx="1.1" ry="1.2" fill="#b8a915" opacity="0.78"/><ellipse cx="33.0" cy="14.8" rx="1.0" ry="1.0" fill="#b8a915" opacity="0.78"/><ellipse cx="-3.0" cy="14.8" rx="1.0" ry="1.0" fill="#b8a915" opacity="0.78"/><ellipse cx="4.9" cy="35.8" rx="1.2" ry="0.8" fill="#d2c21a" opacity="0.78"/><ellipse cx="4.9" cy="-0.2" rx="1.2" ry="0.8" fill="#d2c21a" opacity="0.78"/><ellipse cx="1.0" cy="22.9" rx="1.1" ry="0.8" fill="#e4d62c" opacity="0.78"/><ellipse cx="37.0" cy="22.9" rx="1.1" ry="0.8" fill="#e4d62c" opacity="0.78"/><ellipse cx="14.9" cy="34.1" rx="0.7" ry="0.9" fill="#e6d41e" opacity="0.78"/><ellipse cx="14.9" cy="-1.9" rx="0.7" ry="0.9" fill="#e6d41e" opacity="0.78"/><ellipse cx="18.2" cy="35.5" rx="1.0" ry="1.1" fill="#e6d41e" opacity="0.78"/><ellipse cx="18.2" cy="-0.5" rx="1.0" ry="1.1" fill="#e6d41e" opacity="0.78"/><ellipse cx="14.6" cy="4.9" rx="1.2" ry="0.8" fill="#a89a12" opacity="0.78"/><ellipse cx="14.5" cy="31.5" rx="1.0" ry="1.3" fill="#b8a915" opacity="0.78"/><ellipse cx="9.6" cy="8.6" rx="1.0" ry="1.1" fill="#a89a12" opacity="0.78"/><ellipse cx="3.5" cy="30.6" rx="1.0" ry="0.8" fill="#a89a12" opacity="0.78"/><ellipse cx="39.5" cy="30.6" rx="1.0" ry="0.8" fill="#a89a12" opacity="0.78"/><ellipse cx="7.7" cy="0.6" rx="0.9" ry="0.9" fill="#e6d41e" opacity="0.78"/><ellipse cx="7.7" cy="36.6" rx="0.9" ry="0.9" fill="#e6d41e" opacity="0.78"/><ellipse cx="1.7" cy="6.5" rx="0.7" ry="1.0" fill="#d2c21a" opacity="0.78"/><ellipse cx="37.7" cy="6.5" rx="0.7" ry="1.0" fill="#d2c21a" opacity="0.78"/><ellipse cx="27.3" cy="10.9" rx="1.2" ry="0.8" fill="#a89a12" opacity="0.78"/><ellipse cx="24.5" cy="16.7" rx="1.0" ry="0.7" fill="#a89a12" opacity="0.78"/><ellipse cx="29.7" cy="29.0" rx="1.3" ry="0.7" fill="#d2c21a" opacity="0.78"/><ellipse cx="15.9" cy="4.2" rx="1.2" ry="0.9" fill="#a89a12" opacity="0.78"/><ellipse cx="28.1" cy="18.6" rx="1.0" ry="1.3" fill="#e6d41e" opacity="0.78"/><ellipse cx="23.6" cy="21.2" rx="1.0" ry="1.2" fill="#a89a12" opacity="0.78"/><ellipse cx="1.9" cy="11.9" rx="1.1" ry="0.7" fill="#d2c21a" opacity="0.78"/><ellipse cx="37.9" cy="11.9" rx="1.1" ry="0.7" fill="#d2c21a" opacity="0.78"/><ellipse cx="20.2" cy="13.0" rx="0.9" ry="0.9" fill="#b8a915" opacity="0.78"/><ellipse cx="10.7" cy="21.9" rx="1.0" ry="0.9" fill="#e6d41e" opacity="0.78"/><ellipse cx="14.2" cy="16.2" rx="1.1" ry="0.9" fill="#d2c21a" opacity="0.78"/><ellipse cx="20.3" cy="5.4" rx="0.7" ry="1.1" fill="#e4d62c" opacity="0.78"/><ellipse cx="24.2" cy="32.8" rx="1.3" ry="0.8" fill="#d2c21a" opacity="0.78"/><ellipse cx="24.2" cy="-3.2" rx="1.3" ry="0.8" fill="#d2c21a" opacity="0.78"/><ellipse cx="16.1" cy="29.7" rx="1.3" ry="1.3" fill="#e4d62c" opacity="0.78"/><ellipse cx="13.9" cy="8.4" rx="1.2" ry="1.3" fill="#b8a915" opacity="0.78"/><ellipse cx="4.1" cy="21.4" rx="1.3" ry="1.2" fill="#e4d62c" opacity="0.78"/><ellipse cx="32.9" cy="34.9" rx="0.9" ry="0.8" fill="#e4d62c" opacity="0.78"/><ellipse cx="-3.1" cy="34.9" rx="0.9" ry="0.8" fill="#e4d62c" opacity="0.78"/><ellipse cx="32.9" cy="-1.1" rx="0.9" ry="0.8" fill="#e4d62c" opacity="0.78"/><ellipse cx="24.0" cy="17.0" rx="1.3" ry="1.3" fill="#a89a12" opacity="0.78"/><ellipse cx="4.7" cy="25.1" rx="0.7" ry="0.9" fill="#a89a12" opacity="0.78"/><ellipse cx="33.4" cy="26.3" rx="0.7" ry="0.8" fill="#b8a915" opacity="0.78"/><ellipse cx="-2.6" cy="26.3" rx="0.7" ry="0.8" fill="#b8a915" opacity="0.78"/><ellipse cx="7.8" cy="32.2" rx="0.7" ry="1.1" fill="#d2c21a" opacity="0.78"/><ellipse cx="7.8" cy="-3.8" rx="0.7" ry="1.1" fill="#d2c21a" opacity="0.78"/><ellipse cx="26.2" cy="18.6" rx="1.3" ry="1.2" fill="#e6d41e" opacity="0.78"/><ellipse cx="11.8" cy="21.8" rx="0.7" ry="0.9" fill="#a89a12" opacity="0.78"/><ellipse cx="6.3" cy="18.0" rx="1.2" ry="1.0" fill="#b8a915" opacity="0.78"/><ellipse cx="20.2" cy="6.2" rx="0.9" ry="1.1" fill="#a89a12" opacity="0.78"/><ellipse cx="9.6" cy="32.8" rx="1.1" ry="1.0" fill="#d2c21a" opacity="0.78"/><ellipse cx="9.6" cy="-3.2" rx="1.1" ry="1.0" fill="#d2c21a" opacity="0.78"/><ellipse cx="10.6" cy="25.2" rx="0.8" ry="1.1" fill="#a89a12" opacity="0.78"/><ellipse cx="6.9" cy="4.7" rx="0.8" ry="0.9" fill="#e4d62c" opacity="0.78"/><ellipse cx="29.5" cy="11.0" rx="1.2" ry="1.3" fill="#d2c21a" opacity="0.78"/><ellipse cx="27.9" cy="32.5" rx="0.9" ry="1.3" fill="#b8a915" opacity="0.78"/><ellipse cx="27.9" cy="-3.5" rx="0.9" ry="1.3" fill="#b8a915" opacity="0.78"/><ellipse cx="6.3" cy="33.0" rx="0.9" ry="0.8" fill="#b8a915" opacity="0.78"/><ellipse cx="6.3" cy="-3.0" rx="0.9" ry="0.8" fill="#b8a915" opacity="0.78"/><ellipse cx="29.7" cy="4.6" rx="1.3" ry="1.3" fill="#e4d62c" opacity="0.78"/><ellipse cx="18.5" cy="21.5" rx="0.7" ry="1.1" fill="#a89a12" opacity="0.78"/><ellipse cx="9.5" cy="24.3" rx="1.2" ry="0.8" fill="#b8a915" opacity="0.78"/><ellipse cx="3.3" cy="3.9" rx="0.9" ry="1.0" fill="#a89a12" opacity="0.78"/><ellipse cx="39.3" cy="3.9" rx="0.9" ry="1.0" fill="#a89a12" opacity="0.78"/><ellipse cx="3.3" cy="39.9" rx="0.9" ry="1.0" fill="#a89a12" opacity="0.78"/><ellipse cx="8.9" cy="10.5" rx="0.8" ry="0.9" fill="#e6d41e" opacity="0.78"/><ellipse cx="25.1" cy="31.9" rx="1.1" ry="0.7" fill="#e6d41e" opacity="0.78"/><ellipse cx="0.8" cy="20.4" rx="1.3" ry="0.7" fill="#a89a12" opacity="0.78"/><ellipse cx="36.8" cy="20.4" rx="1.3" ry="0.7" fill="#a89a12" opacity="0.78"/><ellipse cx="31.2" cy="6.9" rx="1.0" ry="1.0" fill="#b8a915" opacity="0.78"/><ellipse cx="16.4" cy="30.5" rx="0.9" ry="1.3" fill="#e6d41e" opacity="0.78"/><ellipse cx="14.3" cy="28.1" rx="1.2" ry="1.0" fill="#e6d41e" opacity="0.78"/><ellipse cx="26.9" cy="34.3" rx="1.2" ry="1.1" fill="#b8a915" opacity="0.78"/><ellipse cx="26.9" cy="-1.7" rx="1.2" ry="1.1" fill="#b8a915" opacity="0.78"/><ellipse cx="10.2" cy="9.8" rx="0.7" ry="1.3" fill="#e6d41e" opacity="0.78"/><ellipse cx="3.1" cy="13.7" rx="1.1" ry="1.1" fill="#b8a915" opacity="0.78"/><ellipse cx="39.1" cy="13.7" rx="1.1" ry="1.1" fill="#b8a915" opacity="0.78"/><ellipse cx="33.5" cy="8.9" rx="0.8" ry="1.1" fill="#a89a12" opacity="0.78"/><ellipse cx="-2.5" cy="8.9" rx="0.8" ry="1.1" fill="#a89a12" opacity="0.78"/><ellipse cx="18.4" cy="6.5" rx="1.3" ry="0.7" fill="#d2c21a" opacity="0.78"/><ellipse cx="1.1" cy="13.2" rx="1.0" ry="0.7" fill="#e4d62c" opacity="0.78"/><ellipse cx="37.1" cy="13.2" rx="1.0" ry="0.7" fill="#e4d62c" opacity="0.78"/><ellipse cx="32.2" cy="16.9" rx="0.7" ry="1.2" fill="#e6d41e" opacity="0.78"/><ellipse cx="-3.8" cy="16.9" rx="0.7" ry="1.2" fill="#e6d41e" opacity="0.78"/><ellipse cx="23.4" cy="30.1" rx="0.7" ry="0.7" fill="#d2c21a" opacity="0.78"/><ellipse cx="4.6" cy="10.6" rx="1.2" ry="1.1" fill="#e6d41e" opacity="0.78"/><ellipse cx="18.2" cy="5.7" rx="1.3" ry="1.1" fill="#a89a12" opacity="0.78"/><ellipse cx="23.7" cy="11.5" rx="0.7" ry="0.8" fill="#e4d62c" opacity="0.78"/><ellipse cx="6.5" cy="10.9" rx="0.7" ry="0.9" fill="#d2c21a" opacity="0.78"/><ellipse cx="14.5" cy="28.8" rx="0.7" ry="0.9" fill="#e4d62c" opacity="0.78"/><ellipse cx="31.1" cy="33.1" rx="1.2" ry="1.0" fill="#a89a12" opacity="0.78"/><ellipse cx="31.1" cy="-2.9" rx="1.2" ry="1.0" fill="#a89a12" opacity="0.78"/><ellipse cx="31.2" cy="20.4" rx="1.1" ry="0.8" fill="#b8a915" opacity="0.78"/><ellipse cx="11.6" cy="14.7" rx="1.0" ry="0.7" fill="#e4d62c" opacity="0.78"/><ellipse cx="28.7" cy="31.7" rx="0.9" ry="0.8" fill="#b8a915" opacity="0.78"/><ellipse cx="25.0" cy="13.4" rx="0.9" ry="0.8" fill="#e4d62c" opacity="0.78"/><ellipse cx="16.6" cy="29.2" rx="0.9" ry="0.9" fill="#a89a12" opacity="0.78"/><ellipse cx="3.6" cy="11.3" rx="0.7" ry="1.1" fill="#a89a12" opacity="0.78"/><ellipse cx="39.6" cy="11.3" rx="0.7" ry="1.1" fill="#a89a12" opacity="0.78"/><ellipse cx="14.5" cy="31.0" rx="1.2" ry="1.0" fill="#b8a915" opacity="0.78"/><ellipse cx="16.2" cy="5.0" rx="0.7" ry="1.3" fill="#e6d41e" opacity="0.78"/><ellipse cx="25.0" cy="23.6" rx="1.0" ry="0.7" fill="#a89a12" opacity="0.78"/><ellipse cx="10.2" cy="33.0" rx="0.8" ry="1.3" fill="#a89a12" opacity="0.78"/><ellipse cx="10.2" cy="-3.0" rx="0.8" ry="1.3" fill="#a89a12" opacity="0.78"/><ellipse cx="3.2" cy="33.1" rx="0.7" ry="0.7" fill="#e4d62c" opacity="0.78"/><ellipse cx="39.2" cy="33.1" rx="0.7" ry="0.7" fill="#e4d62c" opacity="0.78"/><ellipse cx="3.2" cy="-2.9" rx="0.7" ry="0.7" fill="#e4d62c" opacity="0.78"/><ellipse cx="23.1" cy="29.0" rx="1.1" ry="1.3" fill="#e6d41e" opacity="0.78"/><ellipse cx="8.1" cy="26.0" rx="1.2" ry="1.3" fill="#e4d62c" opacity="0.78"/><ellipse cx="19.1" cy="27.7" rx="0.8" ry="1.0" fill="#a89a12" opacity="0.78"/><ellipse cx="14.3" cy="17.2" rx="0.8" ry="1.3" fill="#d2c21a" opacity="0.78"/><ellipse cx="24.5" cy="11.0" rx="1.2" ry="1.0" fill="#e6d41e" opacity="0.78"/><ellipse cx="13.1" cy="31.7" rx="1.1" ry="1.0" fill="#a89a12" opacity="0.78"/><ellipse cx="21.6" cy="23.8" rx="0.9" ry="1.1" fill="#e4d62c" opacity="0.78"/><ellipse cx="19.9" cy="19.8" rx="0.7" ry="1.0" fill="#e4d62c" opacity="0.78"/><ellipse cx="13.4" cy="35.8" rx="1.1" ry="0.7" fill="#e6d41e" opacity="0.78"/><ellipse cx="13.4" cy="-0.2" rx="1.1" ry="0.7" fill="#e6d41e" opacity="0.78"/><ellipse cx="16.9" cy="3.2" rx="0.9" ry="0.8" fill="#e4d62c" opacity="0.78"/><ellipse cx="16.9" cy="39.2" rx="0.9" ry="0.8" fill="#e4d62c" opacity="0.78"/><ellipse cx="23.3" cy="16.0" rx="1.0" ry="1.2" fill="#e4d62c" opacity="0.78"/><ellipse cx="20.9" cy="19.1" rx="1.0" ry="1.0" fill="#d2c21a" opacity="0.78"/><ellipse cx="29.7" cy="2.7" rx="0.7" ry="0.9" fill="#d2c21a" opacity="0.78"/><ellipse cx="29.7" cy="38.7" rx="0.7" ry="0.9" fill="#d2c21a" opacity="0.78"/><ellipse cx="19.5" cy="33.1" rx="1.1" ry="0.8" fill="#d2c21a" opacity="0.78"/><ellipse cx="19.5" cy="-2.9" rx="1.1" ry="0.8" fill="#d2c21a" opacity="0.78"/><ellipse cx="8.0" cy="8.0" rx="0.7" ry="0.8" fill="#e6d41e" opacity="0.78"/><ellipse cx="0.5" cy="15.1" rx="1.3" ry="1.2" fill="#e4d62c" opacity="0.78"/><ellipse cx="36.5" cy="15.1" rx="1.3" ry="1.2" fill="#e4d62c" opacity="0.78"/><ellipse cx="21.5" cy="10.8" rx="1.2" ry="1.1" fill="#d2c21a" opacity="0.78"/><ellipse cx="17.0" cy="16.7" rx="0.9" ry="0.7" fill="#e4d62c" opacity="0.78"/><ellipse cx="34.1" cy="11.6" rx="1.1" ry="1.0" fill="#e6d41e" opacity="0.78"/><ellipse cx="-1.9" cy="11.6" rx="1.1" ry="1.0" fill="#e6d41e" opacity="0.78"/></pattern><pattern id="pYm" width="36" height="36" patternUnits="userSpaceOnUse"><ellipse cx="30.7" cy="29.4" rx="0.9" ry="0.7" fill="#c9b915" opacity="0.85"/><ellipse cx="13.3" cy="22.0" rx="1.0" ry="0.8" fill="#e4d62c" opacity="0.85"/><ellipse cx="12.7" cy="12.6" rx="1.0" ry="0.7" fill="#c9b915" opacity="0.85"/><ellipse cx="11.9" cy="25.8" rx="1.2" ry="0.7" fill="#e6d41e" opacity="0.85"/><ellipse cx="21.2" cy="29.7" rx="0.6" ry="1.0" fill="#e4d62c" opacity="0.85"/><ellipse cx="11.3" cy="7.9" rx="1.0" ry="0.6" fill="#e6d41e" opacity="0.85"/><ellipse cx="36.0" cy="19.3" rx="1.3" ry="0.8" fill="#e6d41e" opacity="0.85"/><ellipse cx="-0.0" cy="19.3" rx="1.3" ry="0.8" fill="#e6d41e" opacity="0.85"/><ellipse cx="2.7" cy="19.2" rx="1.1" ry="1.0" fill="#e6d41e" opacity="0.85"/><ellipse cx="38.7" cy="19.2" rx="1.1" ry="1.0" fill="#e6d41e" opacity="0.85"/><ellipse cx="20.8" cy="33.6" rx="1.3" ry="1.2" fill="#c9b915" opacity="0.85"/><ellipse cx="20.8" cy="-2.4" rx="1.3" ry="1.2" fill="#c9b915" opacity="0.85"/><ellipse cx="32.8" cy="27.3" rx="0.8" ry="0.6" fill="#c9b915" opacity="0.85"/><ellipse cx="-3.2" cy="27.3" rx="0.8" ry="0.6" fill="#c9b915" opacity="0.85"/><ellipse cx="9.2" cy="13.2" rx="1.0" ry="0.8" fill="#e4d62c" opacity="0.85"/><ellipse cx="19.0" cy="16.5" rx="1.0" ry="0.8" fill="#e4d62c" opacity="0.85"/><ellipse cx="25.1" cy="12.5" rx="0.7" ry="0.7" fill="#c9b915" opacity="0.85"/><ellipse cx="16.2" cy="8.5" rx="0.7" ry="1.1" fill="#c9b915" opacity="0.85"/><ellipse cx="33.7" cy="12.2" rx="1.2" ry="0.9" fill="#c9b915" opacity="0.85"/><ellipse cx="-2.3" cy="12.2" rx="1.2" ry="0.9" fill="#c9b915" opacity="0.85"/><ellipse cx="14.7" cy="20.1" rx="1.2" ry="0.7" fill="#e6d41e" opacity="0.85"/><ellipse cx="19.5" cy="30.9" rx="0.6" ry="1.2" fill="#c9b915" opacity="0.85"/><ellipse cx="12.4" cy="14.7" rx="1.2" ry="0.8" fill="#e6d41e" opacity="0.85"/><ellipse cx="0.1" cy="3.3" rx="1.1" ry="0.7" fill="#c9b915" opacity="0.85"/><ellipse cx="36.1" cy="3.3" rx="1.1" ry="0.7" fill="#c9b915" opacity="0.85"/><ellipse cx="0.1" cy="39.3" rx="1.1" ry="0.7" fill="#c9b915" opacity="0.85"/><ellipse cx="15.9" cy="21.3" rx="1.1" ry="1.1" fill="#e4d62c" opacity="0.85"/><ellipse cx="0.2" cy="27.2" rx="1.0" ry="0.9" fill="#e6d41e" opacity="0.85"/><ellipse cx="36.2" cy="27.2" rx="1.0" ry="0.9" fill="#e6d41e" opacity="0.85"/><ellipse cx="2.2" cy="9.5" rx="0.8" ry="0.7" fill="#c9b915" opacity="0.85"/><ellipse cx="38.2" cy="9.5" rx="0.8" ry="0.7" fill="#c9b915" opacity="0.85"/><ellipse cx="7.5" cy="2.7" rx="1.1" ry="0.7" fill="#e6d41e" opacity="0.85"/><ellipse cx="7.5" cy="38.7" rx="1.1" ry="0.7" fill="#e6d41e" opacity="0.85"/><ellipse cx="3.6" cy="21.0" rx="0.7" ry="0.9" fill="#c9b915" opacity="0.85"/><ellipse cx="39.6" cy="21.0" rx="0.7" ry="0.9" fill="#c9b915" opacity="0.85"/><ellipse cx="33.6" cy="28.6" rx="0.9" ry="0.7" fill="#c9b915" opacity="0.85"/><ellipse cx="-2.4" cy="28.6" rx="0.9" ry="0.7" fill="#c9b915" opacity="0.85"/><ellipse cx="28.7" cy="6.6" rx="0.7" ry="1.0" fill="#c9b915" opacity="0.85"/><ellipse cx="20.2" cy="17.8" rx="0.7" ry="0.8" fill="#c9b915" opacity="0.85"/><ellipse cx="30.7" cy="3.0" rx="1.1" ry="0.9" fill="#c9b915" opacity="0.85"/><ellipse cx="30.7" cy="39.0" rx="1.1" ry="0.9" fill="#c9b915" opacity="0.85"/><ellipse cx="13.6" cy="4.9" rx="1.2" ry="0.9" fill="#c9b915" opacity="0.85"/><ellipse cx="10.4" cy="3.4" rx="1.0" ry="1.2" fill="#e6d41e" opacity="0.85"/><ellipse cx="10.4" cy="39.4" rx="1.0" ry="1.2" fill="#e6d41e" opacity="0.85"/><ellipse cx="11.8" cy="8.0" rx="1.0" ry="1.1" fill="#e6d41e" opacity="0.85"/><ellipse cx="16.0" cy="29.4" rx="1.2" ry="1.0" fill="#c9b915" opacity="0.85"/><ellipse cx="15.7" cy="23.5" rx="1.2" ry="0.7" fill="#c9b915" opacity="0.85"/><ellipse cx="30.0" cy="11.9" rx="0.6" ry="0.7" fill="#e6d41e" opacity="0.85"/><ellipse cx="26.8" cy="22.7" rx="1.3" ry="1.1" fill="#e6d41e" opacity="0.85"/><ellipse cx="14.5" cy="20.9" rx="1.0" ry="0.7" fill="#e4d62c" opacity="0.85"/><ellipse cx="33.8" cy="4.5" rx="1.1" ry="0.8" fill="#c9b915" opacity="0.85"/><ellipse cx="-2.2" cy="4.5" rx="1.1" ry="0.8" fill="#c9b915" opacity="0.85"/><ellipse cx="34.6" cy="12.9" rx="1.0" ry="1.0" fill="#c9b915" opacity="0.85"/><ellipse cx="-1.4" cy="12.9" rx="1.0" ry="1.0" fill="#c9b915" opacity="0.85"/><ellipse cx="7.3" cy="32.5" rx="1.3" ry="1.3" fill="#e4d62c" opacity="0.85"/><ellipse cx="7.3" cy="-3.5" rx="1.3" ry="1.3" fill="#e4d62c" opacity="0.85"/><ellipse cx="31.8" cy="18.0" rx="0.6" ry="0.8" fill="#e4d62c" opacity="0.85"/><ellipse cx="25.5" cy="34.2" rx="0.6" ry="1.3" fill="#e4d62c" opacity="0.85"/><ellipse cx="25.5" cy="-1.8" rx="0.6" ry="1.3" fill="#e4d62c" opacity="0.85"/><ellipse cx="30.1" cy="26.9" rx="0.8" ry="1.2" fill="#e6d41e" opacity="0.85"/><ellipse cx="33.0" cy="26.5" rx="1.1" ry="0.7" fill="#e6d41e" opacity="0.85"/><ellipse cx="-3.0" cy="26.5" rx="1.1" ry="0.7" fill="#e6d41e" opacity="0.85"/><ellipse cx="5.7" cy="30.0" rx="1.1" ry="0.9" fill="#e4d62c" opacity="0.85"/><ellipse cx="9.6" cy="33.2" rx="1.0" ry="0.6" fill="#c9b915" opacity="0.85"/><ellipse cx="9.6" cy="-2.8" rx="1.0" ry="0.6" fill="#c9b915" opacity="0.85"/><ellipse cx="32.1" cy="0.6" rx="1.1" ry="0.7" fill="#c9b915" opacity="0.85"/><ellipse cx="-3.9" cy="0.6" rx="1.1" ry="0.7" fill="#c9b915" opacity="0.85"/><ellipse cx="32.1" cy="36.6" rx="1.1" ry="0.7" fill="#c9b915" opacity="0.85"/><ellipse cx="29.3" cy="0.2" rx="0.9" ry="0.7" fill="#e4d62c" opacity="0.85"/><ellipse cx="29.3" cy="36.2" rx="0.9" ry="0.7" fill="#e4d62c" opacity="0.85"/><ellipse cx="17.3" cy="30.1" rx="0.7" ry="1.2" fill="#c9b915" opacity="0.85"/><ellipse cx="0.5" cy="3.3" rx="1.2" ry="1.2" fill="#e4d62c" opacity="0.85"/><ellipse cx="36.5" cy="3.3" rx="1.2" ry="1.2" fill="#e4d62c" opacity="0.85"/><ellipse cx="0.5" cy="39.3" rx="1.2" ry="1.2" fill="#e4d62c" opacity="0.85"/><ellipse cx="34.4" cy="14.2" rx="0.8" ry="1.1" fill="#e4d62c" opacity="0.85"/><ellipse cx="-1.6" cy="14.2" rx="0.8" ry="1.1" fill="#e4d62c" opacity="0.85"/><ellipse cx="0.1" cy="35.4" rx="0.9" ry="1.1" fill="#e4d62c" opacity="0.85"/><ellipse cx="36.1" cy="35.4" rx="0.9" ry="1.1" fill="#e4d62c" opacity="0.85"/><ellipse cx="0.1" cy="-0.6" rx="0.9" ry="1.1" fill="#e4d62c" opacity="0.85"/><ellipse cx="20.9" cy="35.5" rx="1.1" ry="1.2" fill="#e6d41e" opacity="0.85"/><ellipse cx="20.9" cy="-0.5" rx="1.1" ry="1.2" fill="#e6d41e" opacity="0.85"/><ellipse cx="3.0" cy="27.0" rx="0.8" ry="0.8" fill="#c9b915" opacity="0.85"/><ellipse cx="39.0" cy="27.0" rx="0.8" ry="0.8" fill="#c9b915" opacity="0.85"/><ellipse cx="14.1" cy="31.0" rx="0.8" ry="1.1" fill="#e4d62c" opacity="0.85"/><ellipse cx="35.9" cy="17.9" rx="1.1" ry="1.0" fill="#e6d41e" opacity="0.85"/><ellipse cx="-0.1" cy="17.9" rx="1.1" ry="1.0" fill="#e6d41e" opacity="0.85"/><ellipse cx="12.1" cy="14.9" rx="1.1" ry="1.1" fill="#e6d41e" opacity="0.85"/><ellipse cx="11.1" cy="30.5" rx="1.1" ry="1.0" fill="#c9b915" opacity="0.85"/><ellipse cx="33.6" cy="13.9" rx="0.7" ry="0.7" fill="#e4d62c" opacity="0.85"/><ellipse cx="-2.4" cy="13.9" rx="0.7" ry="0.7" fill="#e4d62c" opacity="0.85"/></pattern><pattern id="pYs" width="36" height="36" patternUnits="userSpaceOnUse"><ellipse cx="4.4" cy="1.8" rx="1.2" ry="1.2" fill="#e6d41e" opacity="0.9"/><ellipse cx="4.4" cy="37.8" rx="1.2" ry="1.2" fill="#e6d41e" opacity="0.9"/><ellipse cx="7.4" cy="26.0" rx="1.3" ry="1.1" fill="#e6d41e" opacity="0.9"/><ellipse cx="22.3" cy="15.1" rx="0.9" ry="0.9" fill="#c9b915" opacity="0.9"/><ellipse cx="22.8" cy="33.6" rx="0.8" ry="0.9" fill="#c9b915" opacity="0.9"/><ellipse cx="22.8" cy="-2.4" rx="0.8" ry="0.9" fill="#c9b915" opacity="0.9"/><ellipse cx="2.1" cy="10.9" rx="1.1" ry="1.0" fill="#c9b915" opacity="0.9"/><ellipse cx="38.1" cy="10.9" rx="1.1" ry="1.0" fill="#c9b915" opacity="0.9"/><ellipse cx="23.4" cy="26.4" rx="1.1" ry="1.2" fill="#e6d41e" opacity="0.9"/><ellipse cx="4.0" cy="8.0" rx="1.2" ry="0.8" fill="#e6d41e" opacity="0.9"/><ellipse cx="5.8" cy="5.8" rx="1.1" ry="1.0" fill="#e6d41e" opacity="0.9"/><ellipse cx="17.4" cy="29.3" rx="1.2" ry="1.3" fill="#e6d41e" opacity="0.9"/><ellipse cx="14.9" cy="13.0" rx="0.9" ry="0.7" fill="#c9b915" opacity="0.9"/><ellipse cx="26.6" cy="17.7" rx="0.7" ry="0.9" fill="#c9b915" opacity="0.9"/><ellipse cx="16.5" cy="7.4" rx="1.3" ry="1.3" fill="#e6d41e" opacity="0.9"/><ellipse cx="33.9" cy="16.3" rx="1.4" ry="0.7" fill="#e6d41e" opacity="0.9"/><ellipse cx="-2.1" cy="16.3" rx="1.4" ry="0.7" fill="#e6d41e" opacity="0.9"/><ellipse cx="22.3" cy="24.2" rx="1.1" ry="1.1" fill="#c9b915" opacity="0.9"/><ellipse cx="19.1" cy="23.7" rx="0.8" ry="1.1" fill="#c9b915" opacity="0.9"/><ellipse cx="2.7" cy="27.7" rx="0.8" ry="0.9" fill="#e6d41e" opacity="0.9"/><ellipse cx="38.7" cy="27.7" rx="0.8" ry="0.9" fill="#e6d41e" opacity="0.9"/></pattern><pattern id="pYCd" width="36" height="36" patternUnits="userSpaceOnUse"><ellipse cx="20.3" cy="34.9" rx="1.3" ry="1.3" fill="#58d6c6" opacity="0.78"/><ellipse cx="20.3" cy="-1.1" rx="1.3" ry="1.3" fill="#58d6c6" opacity="0.78"/><ellipse cx="33.7" cy="9.4" rx="1.1" ry="1.1" fill="#b8a915" opacity="0.78"/><ellipse cx="-2.3" cy="9.4" rx="1.1" ry="1.1" fill="#b8a915" opacity="0.78"/><ellipse cx="9.1" cy="14.8" rx="0.9" ry="1.0" fill="#b8a915" opacity="0.78"/><ellipse cx="4.9" cy="10.0" rx="1.1" ry="1.1" fill="#c9d85a" opacity="0.78"/><ellipse cx="28.1" cy="25.0" rx="1.3" ry="1.0" fill="#b8a915" opacity="0.78"/><ellipse cx="7.4" cy="6.7" rx="0.9" ry="1.0" fill="#d2c21a" opacity="0.78"/><ellipse cx="31.9" cy="23.6" rx="0.7" ry="0.8" fill="#c9d85a" opacity="0.78"/><ellipse cx="33.5" cy="0.6" rx="1.1" ry="1.1" fill="#c9d85a" opacity="0.78"/><ellipse cx="-2.5" cy="0.6" rx="1.1" ry="1.1" fill="#c9d85a" opacity="0.78"/><ellipse cx="33.5" cy="36.6" rx="1.1" ry="1.1" fill="#c9d85a" opacity="0.78"/><ellipse cx="27.2" cy="3.8" rx="0.9" ry="1.3" fill="#7fd6c0" opacity="0.78"/><ellipse cx="27.2" cy="39.8" rx="0.9" ry="1.3" fill="#7fd6c0" opacity="0.78"/><ellipse cx="19.1" cy="12.2" rx="1.3" ry="0.9" fill="#7fd6c0" opacity="0.78"/><ellipse cx="20.2" cy="35.9" rx="1.1" ry="0.8" fill="#d2c21a" opacity="0.78"/><ellipse cx="20.2" cy="-0.1" rx="1.1" ry="0.8" fill="#d2c21a" opacity="0.78"/><ellipse cx="19.4" cy="25.8" rx="1.1" ry="1.3" fill="#58d6c6" opacity="0.78"/><ellipse cx="27.4" cy="7.8" rx="1.0" ry="1.0" fill="#b8a915" opacity="0.78"/><ellipse cx="15.5" cy="16.9" rx="1.2" ry="0.7" fill="#4fc0b0" opacity="0.78"/><ellipse cx="15.4" cy="25.4" rx="1.2" ry="1.3" fill="#7fd6c0" opacity="0.78"/><ellipse cx="28.8" cy="9.5" rx="1.1" ry="1.0" fill="#e6d41e" opacity="0.78"/><ellipse cx="16.1" cy="12.9" rx="0.7" ry="1.0" fill="#c9d85a" opacity="0.78"/><ellipse cx="30.0" cy="10.8" rx="1.0" ry="0.7" fill="#b8a915" opacity="0.78"/><ellipse cx="15.8" cy="34.9" rx="1.0" ry="0.8" fill="#58d6c6" opacity="0.78"/><ellipse cx="15.8" cy="-1.1" rx="1.0" ry="0.8" fill="#58d6c6" opacity="0.78"/><ellipse cx="14.0" cy="4.8" rx="0.7" ry="1.0" fill="#58d6c6" opacity="0.78"/><ellipse cx="10.1" cy="12.7" rx="0.9" ry="1.2" fill="#7fd6c0" opacity="0.78"/><ellipse cx="21.8" cy="29.5" rx="0.8" ry="1.3" fill="#58d6c6" opacity="0.78"/><ellipse cx="8.1" cy="11.9" rx="0.7" ry="1.0" fill="#c9d85a" opacity="0.78"/><ellipse cx="20.7" cy="34.7" rx="1.1" ry="1.1" fill="#4fc0b0" opacity="0.78"/><ellipse cx="20.7" cy="-1.3" rx="1.1" ry="1.1" fill="#4fc0b0" opacity="0.78"/><ellipse cx="8.5" cy="24.8" rx="1.2" ry="0.8" fill="#c9d85a" opacity="0.78"/><ellipse cx="20.3" cy="32.4" rx="0.9" ry="0.9" fill="#7fd6c0" opacity="0.78"/><ellipse cx="20.3" cy="-3.6" rx="0.9" ry="0.9" fill="#7fd6c0" opacity="0.78"/><ellipse cx="10.2" cy="33.1" rx="0.9" ry="0.8" fill="#b8a915" opacity="0.78"/><ellipse cx="10.2" cy="-2.9" rx="0.9" ry="0.8" fill="#b8a915" opacity="0.78"/><ellipse cx="8.0" cy="9.8" rx="1.0" ry="1.3" fill="#e6d41e" opacity="0.78"/><ellipse cx="34.1" cy="16.9" rx="1.3" ry="1.3" fill="#c9d85a" opacity="0.78"/><ellipse cx="-1.9" cy="16.9" rx="1.3" ry="1.3" fill="#c9d85a" opacity="0.78"/><ellipse cx="28.2" cy="25.7" rx="1.2" ry="0.7" fill="#e6d41e" opacity="0.78"/><ellipse cx="12.9" cy="29.3" rx="1.0" ry="1.3" fill="#7fd6c0" opacity="0.78"/><ellipse cx="13.3" cy="30.7" rx="1.3" ry="0.7" fill="#4fc0b0" opacity="0.78"/><ellipse cx="5.9" cy="31.5" rx="1.1" ry="1.3" fill="#b8a915" opacity="0.78"/><ellipse cx="8.1" cy="9.6" rx="0.7" ry="0.9" fill="#d2c21a" opacity="0.78"/><ellipse cx="33.2" cy="26.0" rx="1.0" ry="1.1" fill="#4fc0b0" opacity="0.78"/><ellipse cx="-2.8" cy="26.0" rx="1.0" ry="1.1" fill="#4fc0b0" opacity="0.78"/><ellipse cx="3.8" cy="10.5" rx="1.2" ry="0.8" fill="#d2c21a" opacity="0.78"/><ellipse cx="39.8" cy="10.5" rx="1.2" ry="0.8" fill="#d2c21a" opacity="0.78"/><ellipse cx="5.9" cy="8.6" rx="0.7" ry="1.0" fill="#c9d85a" opacity="0.78"/><ellipse cx="34.3" cy="4.8" rx="0.7" ry="0.8" fill="#4fc0b0" opacity="0.78"/><ellipse cx="-1.7" cy="4.8" rx="0.7" ry="0.8" fill="#4fc0b0" opacity="0.78"/><ellipse cx="19.4" cy="11.1" rx="1.2" ry="1.3" fill="#58d6c6" opacity="0.78"/><ellipse cx="35.5" cy="2.5" rx="0.9" ry="1.0" fill="#58d6c6" opacity="0.78"/><ellipse cx="-0.5" cy="2.5" rx="0.9" ry="1.0" fill="#58d6c6" opacity="0.78"/><ellipse cx="35.5" cy="38.5" rx="0.9" ry="1.0" fill="#58d6c6" opacity="0.78"/><ellipse cx="28.1" cy="31.4" rx="0.7" ry="0.8" fill="#b8a915" opacity="0.78"/><ellipse cx="32.0" cy="16.2" rx="0.7" ry="1.0" fill="#c9d85a" opacity="0.78"/><ellipse cx="13.6" cy="6.5" rx="0.8" ry="1.3" fill="#7fd6c0" opacity="0.78"/><ellipse cx="0.4" cy="22.0" rx="0.7" ry="1.2" fill="#7fd6c0" opacity="0.78"/><ellipse cx="36.4" cy="22.0" rx="0.7" ry="1.2" fill="#7fd6c0" opacity="0.78"/><ellipse cx="35.8" cy="5.8" rx="1.2" ry="0.7" fill="#b8a915" opacity="0.78"/><ellipse cx="-0.2" cy="5.8" rx="1.2" ry="0.7" fill="#b8a915" opacity="0.78"/><ellipse cx="1.7" cy="3.1" rx="0.7" ry="0.9" fill="#c9d85a" opacity="0.78"/><ellipse cx="37.7" cy="3.1" rx="0.7" ry="0.9" fill="#c9d85a" opacity="0.78"/><ellipse cx="1.7" cy="39.1" rx="0.7" ry="0.9" fill="#c9d85a" opacity="0.78"/><ellipse cx="12.8" cy="25.8" rx="0.7" ry="1.0" fill="#c9d85a" opacity="0.78"/><ellipse cx="18.3" cy="17.1" rx="1.2" ry="1.2" fill="#e6d41e" opacity="0.78"/><ellipse cx="29.9" cy="24.9" rx="0.7" ry="0.7" fill="#e6d41e" opacity="0.78"/><ellipse cx="8.5" cy="21.4" rx="1.0" ry="0.7" fill="#58d6c6" opacity="0.78"/><ellipse cx="31.1" cy="4.5" rx="1.2" ry="1.2" fill="#7fd6c0" opacity="0.78"/><ellipse cx="34.4" cy="8.8" rx="1.0" ry="0.8" fill="#d2c21a" opacity="0.78"/><ellipse cx="-1.6" cy="8.8" rx="1.0" ry="0.8" fill="#d2c21a" opacity="0.78"/><ellipse cx="4.7" cy="22.0" rx="1.1" ry="1.3" fill="#e6d41e" opacity="0.78"/><ellipse cx="34.5" cy="2.8" rx="0.8" ry="1.1" fill="#b8a915" opacity="0.78"/><ellipse cx="-1.5" cy="2.8" rx="0.8" ry="1.1" fill="#b8a915" opacity="0.78"/><ellipse cx="34.5" cy="38.8" rx="0.8" ry="1.1" fill="#b8a915" opacity="0.78"/><ellipse cx="31.2" cy="4.0" rx="1.2" ry="1.3" fill="#c9d85a" opacity="0.78"/><ellipse cx="35.3" cy="29.8" rx="0.8" ry="0.8" fill="#7fd6c0" opacity="0.78"/><ellipse cx="-0.7" cy="29.8" rx="0.8" ry="0.8" fill="#7fd6c0" opacity="0.78"/><ellipse cx="27.8" cy="18.6" rx="0.7" ry="0.8" fill="#d2c21a" opacity="0.78"/><ellipse cx="1.8" cy="26.7" rx="0.9" ry="1.2" fill="#7fd6c0" opacity="0.78"/><ellipse cx="37.8" cy="26.7" rx="0.9" ry="1.2" fill="#7fd6c0" opacity="0.78"/><ellipse cx="19.7" cy="12.8" rx="1.3" ry="1.1" fill="#b8a915" opacity="0.78"/><ellipse cx="2.5" cy="16.2" rx="0.7" ry="1.1" fill="#7fd6c0" opacity="0.78"/><ellipse cx="38.5" cy="16.2" rx="0.7" ry="1.1" fill="#7fd6c0" opacity="0.78"/><ellipse cx="20.8" cy="35.5" rx="1.1" ry="0.8" fill="#c9d85a" opacity="0.78"/><ellipse cx="20.8" cy="-0.5" rx="1.1" ry="0.8" fill="#c9d85a" opacity="0.78"/><ellipse cx="30.3" cy="21.0" rx="0.7" ry="0.8" fill="#4fc0b0" opacity="0.78"/><ellipse cx="18.3" cy="11.3" rx="1.1" ry="1.2" fill="#7fd6c0" opacity="0.78"/><ellipse cx="32.8" cy="3.3" rx="0.7" ry="0.7" fill="#e6d41e" opacity="0.78"/><ellipse cx="-3.2" cy="3.3" rx="0.7" ry="0.7" fill="#e6d41e" opacity="0.78"/><ellipse cx="32.8" cy="39.3" rx="0.7" ry="0.7" fill="#e6d41e" opacity="0.78"/><ellipse cx="19.2" cy="8.0" rx="1.2" ry="1.0" fill="#58d6c6" opacity="0.78"/><ellipse cx="11.9" cy="4.9" rx="0.9" ry="1.1" fill="#58d6c6" opacity="0.78"/><ellipse cx="8.9" cy="2.6" rx="1.1" ry="0.7" fill="#4fc0b0" opacity="0.78"/><ellipse cx="8.9" cy="38.6" rx="1.1" ry="0.7" fill="#4fc0b0" opacity="0.78"/><ellipse cx="31.8" cy="10.8" rx="1.1" ry="0.8" fill="#58d6c6" opacity="0.78"/><ellipse cx="5.8" cy="13.1" rx="1.2" ry="1.1" fill="#c9d85a" opacity="0.78"/><ellipse cx="28.3" cy="4.2" rx="1.0" ry="1.3" fill="#58d6c6" opacity="0.78"/><ellipse cx="23.0" cy="20.6" rx="1.3" ry="1.0" fill="#7fd6c0" opacity="0.78"/><ellipse cx="16.9" cy="18.6" rx="0.8" ry="1.0" fill="#7fd6c0" opacity="0.78"/><ellipse cx="14.2" cy="11.6" rx="1.3" ry="0.7" fill="#e6d41e" opacity="0.78"/><ellipse cx="18.3" cy="17.1" rx="1.3" ry="1.2" fill="#e6d41e" opacity="0.78"/><ellipse cx="14.1" cy="13.4" rx="0.9" ry="0.7" fill="#c9d85a" opacity="0.78"/><ellipse cx="18.0" cy="1.3" rx="1.0" ry="1.2" fill="#c9d85a" opacity="0.78"/><ellipse cx="18.0" cy="37.3" rx="1.0" ry="1.2" fill="#c9d85a" opacity="0.78"/><ellipse cx="5.3" cy="12.4" rx="1.1" ry="0.7" fill="#4fc0b0" opacity="0.78"/><ellipse cx="5.9" cy="25.4" rx="1.3" ry="1.3" fill="#d2c21a" opacity="0.78"/><ellipse cx="34.6" cy="35.1" rx="0.8" ry="1.3" fill="#7fd6c0" opacity="0.78"/><ellipse cx="-1.4" cy="35.1" rx="0.8" ry="1.3" fill="#7fd6c0" opacity="0.78"/><ellipse cx="34.6" cy="-0.9" rx="0.8" ry="1.3" fill="#7fd6c0" opacity="0.78"/><ellipse cx="12.3" cy="5.2" rx="1.3" ry="1.1" fill="#e6d41e" opacity="0.78"/><ellipse cx="4.3" cy="33.7" rx="1.2" ry="1.2" fill="#7fd6c0" opacity="0.78"/><ellipse cx="4.3" cy="-2.3" rx="1.2" ry="1.2" fill="#7fd6c0" opacity="0.78"/><ellipse cx="31.5" cy="3.8" rx="1.1" ry="0.8" fill="#58d6c6" opacity="0.78"/><ellipse cx="31.5" cy="39.8" rx="1.1" ry="0.8" fill="#58d6c6" opacity="0.78"/><ellipse cx="32.9" cy="32.4" rx="1.1" ry="1.3" fill="#4fc0b0" opacity="0.78"/><ellipse cx="-3.1" cy="32.4" rx="1.1" ry="1.3" fill="#4fc0b0" opacity="0.78"/><ellipse cx="32.9" cy="-3.6" rx="1.1" ry="1.3" fill="#4fc0b0" opacity="0.78"/><ellipse cx="23.3" cy="32.6" rx="1.2" ry="0.7" fill="#4fc0b0" opacity="0.78"/><ellipse cx="23.3" cy="-3.4" rx="1.2" ry="0.7" fill="#4fc0b0" opacity="0.78"/><ellipse cx="20.9" cy="13.6" rx="0.9" ry="1.3" fill="#58d6c6" opacity="0.78"/><ellipse cx="25.3" cy="6.2" rx="1.3" ry="1.0" fill="#b8a915" opacity="0.78"/><ellipse cx="17.7" cy="11.8" rx="1.1" ry="1.1" fill="#7fd6c0" opacity="0.78"/><ellipse cx="20.3" cy="33.1" rx="0.9" ry="1.0" fill="#b8a915" opacity="0.78"/><ellipse cx="20.3" cy="-2.9" rx="0.9" ry="1.0" fill="#b8a915" opacity="0.78"/><ellipse cx="5.7" cy="17.4" rx="1.1" ry="0.7" fill="#58d6c6" opacity="0.78"/><ellipse cx="17.2" cy="2.1" rx="1.3" ry="1.1" fill="#e6d41e" opacity="0.78"/><ellipse cx="17.2" cy="38.1" rx="1.3" ry="1.1" fill="#e6d41e" opacity="0.78"/><ellipse cx="3.1" cy="17.5" rx="1.3" ry="1.2" fill="#e6d41e" opacity="0.78"/><ellipse cx="39.1" cy="17.5" rx="1.3" ry="1.2" fill="#e6d41e" opacity="0.78"/><ellipse cx="36.0" cy="34.2" rx="0.9" ry="1.2" fill="#b8a915" opacity="0.78"/><ellipse cx="-0.0" cy="34.2" rx="0.9" ry="1.2" fill="#b8a915" opacity="0.78"/><ellipse cx="36.0" cy="-1.8" rx="0.9" ry="1.2" fill="#b8a915" opacity="0.78"/><ellipse cx="18.8" cy="6.6" rx="1.1" ry="0.7" fill="#58d6c6" opacity="0.78"/><ellipse cx="10.5" cy="4.1" rx="1.2" ry="1.2" fill="#7fd6c0" opacity="0.78"/><ellipse cx="17.7" cy="13.8" rx="1.0" ry="0.7" fill="#58d6c6" opacity="0.78"/><ellipse cx="13.8" cy="9.2" rx="1.0" ry="0.7" fill="#58d6c6" opacity="0.78"/><ellipse cx="5.7" cy="30.8" rx="0.8" ry="1.2" fill="#d2c21a" opacity="0.78"/><ellipse cx="5.7" cy="35.4" rx="1.1" ry="0.9" fill="#4fc0b0" opacity="0.78"/><ellipse cx="5.7" cy="-0.6" rx="1.1" ry="0.9" fill="#4fc0b0" opacity="0.78"/><ellipse cx="19.5" cy="27.3" rx="1.2" ry="0.8" fill="#7fd6c0" opacity="0.78"/><ellipse cx="13.3" cy="20.0" rx="1.2" ry="1.1" fill="#58d6c6" opacity="0.78"/><ellipse cx="17.6" cy="19.6" rx="1.3" ry="0.7" fill="#58d6c6" opacity="0.78"/><ellipse cx="2.6" cy="5.3" rx="0.7" ry="1.1" fill="#4fc0b0" opacity="0.78"/><ellipse cx="38.6" cy="5.3" rx="0.7" ry="1.1" fill="#4fc0b0" opacity="0.78"/><ellipse cx="8.0" cy="24.1" rx="0.9" ry="1.3" fill="#d2c21a" opacity="0.78"/><ellipse cx="34.9" cy="10.0" rx="1.0" ry="0.7" fill="#58d6c6" opacity="0.78"/><ellipse cx="-1.1" cy="10.0" rx="1.0" ry="0.7" fill="#58d6c6" opacity="0.78"/><ellipse cx="10.5" cy="19.5" rx="0.7" ry="1.0" fill="#b8a915" opacity="0.78"/><ellipse cx="13.1" cy="9.9" rx="1.3" ry="0.7" fill="#4fc0b0" opacity="0.78"/><ellipse cx="21.6" cy="8.8" rx="1.1" ry="1.1" fill="#b8a915" opacity="0.78"/><ellipse cx="14.0" cy="15.3" rx="1.1" ry="1.0" fill="#4fc0b0" opacity="0.78"/><ellipse cx="13.1" cy="19.6" rx="0.8" ry="1.2" fill="#c9d85a" opacity="0.78"/><ellipse cx="23.3" cy="23.6" rx="0.7" ry="0.7" fill="#d2c21a" opacity="0.78"/><ellipse cx="13.1" cy="17.0" rx="1.3" ry="0.8" fill="#d2c21a" opacity="0.78"/><ellipse cx="7.5" cy="11.5" rx="1.0" ry="1.0" fill="#b8a915" opacity="0.78"/><ellipse cx="27.4" cy="34.9" rx="1.2" ry="1.2" fill="#58d6c6" opacity="0.78"/><ellipse cx="27.4" cy="-1.1" rx="1.2" ry="1.2" fill="#58d6c6" opacity="0.78"/><ellipse cx="25.8" cy="19.7" rx="1.2" ry="1.2" fill="#d2c21a" opacity="0.78"/><ellipse cx="28.5" cy="20.1" rx="1.3" ry="0.7" fill="#7fd6c0" opacity="0.78"/><ellipse cx="30.9" cy="28.1" rx="0.9" ry="1.3" fill="#e6d41e" opacity="0.78"/><ellipse cx="1.9" cy="16.7" rx="1.2" ry="1.1" fill="#b8a915" opacity="0.78"/><ellipse cx="37.9" cy="16.7" rx="1.2" ry="1.1" fill="#b8a915" opacity="0.78"/><ellipse cx="12.9" cy="14.0" rx="1.2" ry="1.0" fill="#d2c21a" opacity="0.78"/><ellipse cx="32.0" cy="19.7" rx="1.2" ry="1.0" fill="#d2c21a" opacity="0.78"/><ellipse cx="18.9" cy="17.2" rx="0.7" ry="0.8" fill="#c9d85a" opacity="0.78"/><ellipse cx="3.1" cy="14.6" rx="0.7" ry="0.9" fill="#b8a915" opacity="0.78"/><ellipse cx="39.1" cy="14.6" rx="0.7" ry="0.9" fill="#b8a915" opacity="0.78"/><ellipse cx="30.9" cy="25.4" rx="1.3" ry="1.0" fill="#4fc0b0" opacity="0.78"/><ellipse cx="9.4" cy="15.2" rx="1.2" ry="1.0" fill="#7fd6c0" opacity="0.78"/><ellipse cx="11.8" cy="28.9" rx="1.2" ry="0.7" fill="#c9d85a" opacity="0.78"/><ellipse cx="6.9" cy="4.8" rx="1.0" ry="0.9" fill="#d2c21a" opacity="0.78"/><ellipse cx="12.5" cy="12.5" rx="1.2" ry="0.8" fill="#58d6c6" opacity="0.78"/><ellipse cx="33.1" cy="7.7" rx="1.0" ry="0.7" fill="#d2c21a" opacity="0.78"/><ellipse cx="-2.9" cy="7.7" rx="1.0" ry="0.7" fill="#d2c21a" opacity="0.78"/><ellipse cx="17.7" cy="22.9" rx="0.9" ry="0.8" fill="#c9d85a" opacity="0.78"/><ellipse cx="20.1" cy="25.9" rx="1.1" ry="1.0" fill="#e6d41e" opacity="0.78"/><ellipse cx="10.6" cy="17.3" rx="0.9" ry="1.1" fill="#d2c21a" opacity="0.78"/><ellipse cx="27.1" cy="8.4" rx="1.2" ry="1.2" fill="#4fc0b0" opacity="0.78"/><ellipse cx="6.6" cy="5.2" rx="1.1" ry="1.1" fill="#58d6c6" opacity="0.78"/><ellipse cx="3.0" cy="2.6" rx="1.0" ry="1.3" fill="#4fc0b0" opacity="0.78"/><ellipse cx="39.0" cy="2.6" rx="1.0" ry="1.3" fill="#4fc0b0" opacity="0.78"/><ellipse cx="3.0" cy="38.6" rx="1.0" ry="1.3" fill="#4fc0b0" opacity="0.78"/><ellipse cx="23.6" cy="15.9" rx="0.7" ry="0.9" fill="#58d6c6" opacity="0.78"/><ellipse cx="4.2" cy="2.7" rx="0.9" ry="0.7" fill="#58d6c6" opacity="0.78"/><ellipse cx="4.2" cy="38.7" rx="0.9" ry="0.7" fill="#58d6c6" opacity="0.78"/></pattern><pattern id="pYCm" width="36" height="36" patternUnits="userSpaceOnUse"><ellipse cx="11.2" cy="35.7" rx="1.3" ry="0.6" fill="#58d6c6" opacity="0.85"/><ellipse cx="11.2" cy="-0.3" rx="1.3" ry="0.6" fill="#58d6c6" opacity="0.85"/><ellipse cx="2.3" cy="31.8" rx="0.8" ry="0.9" fill="#d9e86a" opacity="0.85"/><ellipse cx="38.3" cy="31.8" rx="0.8" ry="0.9" fill="#d9e86a" opacity="0.85"/><ellipse cx="34.0" cy="30.2" rx="0.6" ry="0.7" fill="#8fe6d0" opacity="0.85"/><ellipse cx="-2.0" cy="30.2" rx="0.6" ry="0.7" fill="#8fe6d0" opacity="0.85"/><ellipse cx="31.5" cy="22.2" rx="1.0" ry="0.9" fill="#d9e86a" opacity="0.85"/><ellipse cx="20.9" cy="24.0" rx="0.9" ry="0.7" fill="#8fe6d0" opacity="0.85"/><ellipse cx="31.3" cy="20.7" rx="1.2" ry="0.8" fill="#c9b915" opacity="0.85"/><ellipse cx="23.5" cy="1.5" rx="0.7" ry="1.2" fill="#58d6c6" opacity="0.85"/><ellipse cx="23.5" cy="37.5" rx="0.7" ry="1.2" fill="#58d6c6" opacity="0.85"/><ellipse cx="20.0" cy="11.7" rx="0.7" ry="0.9" fill="#c9b915" opacity="0.85"/><ellipse cx="27.3" cy="23.5" rx="0.9" ry="1.0" fill="#58d6c6" opacity="0.85"/><ellipse cx="28.9" cy="8.4" rx="1.0" ry="0.6" fill="#e6d41e" opacity="0.85"/><ellipse cx="35.3" cy="19.5" rx="0.9" ry="1.0" fill="#8fe6d0" opacity="0.85"/><ellipse cx="-0.7" cy="19.5" rx="0.9" ry="1.0" fill="#8fe6d0" opacity="0.85"/><ellipse cx="33.9" cy="14.1" rx="1.0" ry="0.9" fill="#c9b915" opacity="0.85"/><ellipse cx="-2.1" cy="14.1" rx="1.0" ry="0.9" fill="#c9b915" opacity="0.85"/><ellipse cx="19.8" cy="13.9" rx="1.1" ry="1.2" fill="#e6d41e" opacity="0.85"/><ellipse cx="10.2" cy="6.7" rx="1.3" ry="1.2" fill="#d9e86a" opacity="0.85"/><ellipse cx="33.5" cy="1.9" rx="1.1" ry="1.0" fill="#58d6c6" opacity="0.85"/><ellipse cx="-2.5" cy="1.9" rx="1.1" ry="1.0" fill="#58d6c6" opacity="0.85"/><ellipse cx="33.5" cy="37.9" rx="1.1" ry="1.0" fill="#58d6c6" opacity="0.85"/><ellipse cx="26.5" cy="5.9" rx="1.0" ry="0.6" fill="#e6d41e" opacity="0.85"/><ellipse cx="30.0" cy="8.0" rx="1.3" ry="0.7" fill="#c9b915" opacity="0.85"/><ellipse cx="23.8" cy="18.8" rx="0.6" ry="1.3" fill="#d9e86a" opacity="0.85"/><ellipse cx="31.3" cy="35.4" rx="0.7" ry="1.3" fill="#e6d41e" opacity="0.85"/><ellipse cx="31.3" cy="-0.6" rx="0.7" ry="1.3" fill="#e6d41e" opacity="0.85"/><ellipse cx="7.8" cy="14.6" rx="0.7" ry="1.0" fill="#58d6c6" opacity="0.85"/><ellipse cx="1.5" cy="16.4" rx="0.9" ry="0.9" fill="#e6d41e" opacity="0.85"/><ellipse cx="37.5" cy="16.4" rx="0.9" ry="0.9" fill="#e6d41e" opacity="0.85"/><ellipse cx="25.6" cy="34.2" rx="0.8" ry="1.1" fill="#d9e86a" opacity="0.85"/><ellipse cx="25.6" cy="-1.8" rx="0.8" ry="1.1" fill="#d9e86a" opacity="0.85"/><ellipse cx="13.3" cy="18.0" rx="1.0" ry="1.0" fill="#58d6c6" opacity="0.85"/><ellipse cx="9.4" cy="32.7" rx="1.3" ry="1.3" fill="#8fe6d0" opacity="0.85"/><ellipse cx="9.4" cy="-3.3" rx="1.3" ry="1.3" fill="#8fe6d0" opacity="0.85"/><ellipse cx="19.1" cy="0.6" rx="0.9" ry="1.0" fill="#c9b915" opacity="0.85"/><ellipse cx="19.1" cy="36.6" rx="0.9" ry="1.0" fill="#c9b915" opacity="0.85"/><ellipse cx="16.4" cy="14.2" rx="1.2" ry="1.1" fill="#c9b915" opacity="0.85"/><ellipse cx="22.4" cy="7.8" rx="1.3" ry="0.8" fill="#c9b915" opacity="0.85"/><ellipse cx="3.5" cy="30.3" rx="0.7" ry="1.2" fill="#58d6c6" opacity="0.85"/><ellipse cx="39.5" cy="30.3" rx="0.7" ry="1.2" fill="#58d6c6" opacity="0.85"/><ellipse cx="3.3" cy="13.5" rx="1.1" ry="1.2" fill="#c9b915" opacity="0.85"/><ellipse cx="39.3" cy="13.5" rx="1.1" ry="1.2" fill="#c9b915" opacity="0.85"/><ellipse cx="0.9" cy="13.0" rx="1.1" ry="0.7" fill="#d9e86a" opacity="0.85"/><ellipse cx="36.9" cy="13.0" rx="1.1" ry="0.7" fill="#d9e86a" opacity="0.85"/><ellipse cx="16.6" cy="14.8" rx="1.1" ry="0.7" fill="#d9e86a" opacity="0.85"/><ellipse cx="33.4" cy="27.4" rx="1.0" ry="0.8" fill="#e6d41e" opacity="0.85"/><ellipse cx="-2.6" cy="27.4" rx="1.0" ry="0.8" fill="#e6d41e" opacity="0.85"/><ellipse cx="22.0" cy="19.0" rx="1.1" ry="1.1" fill="#c9b915" opacity="0.85"/><ellipse cx="6.6" cy="27.0" rx="1.2" ry="0.9" fill="#d9e86a" opacity="0.85"/><ellipse cx="6.7" cy="12.1" rx="1.0" ry="1.1" fill="#d9e86a" opacity="0.85"/><ellipse cx="14.9" cy="29.8" rx="0.9" ry="0.6" fill="#d9e86a" opacity="0.85"/><ellipse cx="8.1" cy="17.4" rx="1.1" ry="0.9" fill="#d9e86a" opacity="0.85"/><ellipse cx="27.8" cy="7.7" rx="0.8" ry="1.2" fill="#8fe6d0" opacity="0.85"/><ellipse cx="34.5" cy="7.4" rx="0.6" ry="0.7" fill="#58d6c6" opacity="0.85"/><ellipse cx="-1.5" cy="7.4" rx="0.6" ry="0.7" fill="#58d6c6" opacity="0.85"/><ellipse cx="33.3" cy="3.3" rx="0.7" ry="1.1" fill="#c9b915" opacity="0.85"/><ellipse cx="-2.7" cy="3.3" rx="0.7" ry="1.1" fill="#c9b915" opacity="0.85"/><ellipse cx="33.3" cy="39.3" rx="0.7" ry="1.1" fill="#c9b915" opacity="0.85"/><ellipse cx="11.7" cy="23.9" rx="0.7" ry="1.3" fill="#c9b915" opacity="0.85"/><ellipse cx="8.4" cy="21.5" rx="0.7" ry="1.0" fill="#c9b915" opacity="0.85"/><ellipse cx="3.2" cy="19.7" rx="0.8" ry="1.1" fill="#c9b915" opacity="0.85"/><ellipse cx="39.2" cy="19.7" rx="0.8" ry="1.1" fill="#c9b915" opacity="0.85"/><ellipse cx="6.5" cy="28.0" rx="1.0" ry="0.9" fill="#e6d41e" opacity="0.85"/><ellipse cx="25.3" cy="29.2" rx="0.6" ry="0.9" fill="#8fe6d0" opacity="0.85"/><ellipse cx="35.2" cy="27.5" rx="1.0" ry="1.2" fill="#e6d41e" opacity="0.85"/><ellipse cx="-0.8" cy="27.5" rx="1.0" ry="1.2" fill="#e6d41e" opacity="0.85"/><ellipse cx="27.5" cy="10.0" rx="1.0" ry="0.9" fill="#d9e86a" opacity="0.85"/><ellipse cx="2.7" cy="25.5" rx="0.7" ry="0.9" fill="#58d6c6" opacity="0.85"/><ellipse cx="38.7" cy="25.5" rx="0.7" ry="0.9" fill="#58d6c6" opacity="0.85"/><ellipse cx="0.4" cy="26.3" rx="1.1" ry="1.0" fill="#c9b915" opacity="0.85"/><ellipse cx="36.4" cy="26.3" rx="1.1" ry="1.0" fill="#c9b915" opacity="0.85"/><ellipse cx="1.3" cy="34.4" rx="0.7" ry="0.6" fill="#e6d41e" opacity="0.85"/><ellipse cx="37.3" cy="34.4" rx="0.7" ry="0.6" fill="#e6d41e" opacity="0.85"/><ellipse cx="1.3" cy="-1.6" rx="0.7" ry="0.6" fill="#e6d41e" opacity="0.85"/><ellipse cx="5.8" cy="27.1" rx="0.6" ry="0.7" fill="#8fe6d0" opacity="0.85"/><ellipse cx="11.3" cy="18.2" rx="0.7" ry="0.9" fill="#e6d41e" opacity="0.85"/><ellipse cx="17.7" cy="34.7" rx="1.2" ry="0.7" fill="#e6d41e" opacity="0.85"/><ellipse cx="17.7" cy="-1.3" rx="1.2" ry="0.7" fill="#e6d41e" opacity="0.85"/><ellipse cx="32.2" cy="20.3" rx="1.0" ry="0.7" fill="#8fe6d0" opacity="0.85"/><ellipse cx="-3.8" cy="20.3" rx="1.0" ry="0.7" fill="#8fe6d0" opacity="0.85"/><ellipse cx="4.4" cy="26.0" rx="0.8" ry="0.6" fill="#e6d41e" opacity="0.85"/><ellipse cx="27.6" cy="20.6" rx="1.2" ry="0.7" fill="#8fe6d0" opacity="0.85"/><ellipse cx="18.3" cy="22.8" rx="0.8" ry="1.1" fill="#d9e86a" opacity="0.85"/><ellipse cx="21.3" cy="34.4" rx="0.8" ry="0.8" fill="#e6d41e" opacity="0.85"/><ellipse cx="21.3" cy="-1.6" rx="0.8" ry="0.8" fill="#e6d41e" opacity="0.85"/></pattern><pattern id="pYCs" width="36" height="36" patternUnits="userSpaceOnUse"><ellipse cx="5.4" cy="29.3" rx="0.9" ry="0.8" fill="#e6d41e" opacity="0.88"/><ellipse cx="17.2" cy="17.2" rx="1.3" ry="0.8" fill="#d8d84a" opacity="0.88"/><ellipse cx="5.6" cy="32.8" rx="1.3" ry="1.1" fill="#c9b915" opacity="0.88"/><ellipse cx="5.6" cy="-3.2" rx="1.3" ry="1.1" fill="#c9b915" opacity="0.88"/><ellipse cx="8.3" cy="32.2" rx="1.0" ry="1.4" fill="#a8d890" opacity="0.88"/><ellipse cx="8.3" cy="-3.8" rx="1.0" ry="1.4" fill="#a8d890" opacity="0.88"/><ellipse cx="9.6" cy="27.1" rx="1.5" ry="1.3" fill="#e6d41e" opacity="0.88"/><ellipse cx="25.3" cy="34.6" rx="1.1" ry="1.3" fill="#d8d84a" opacity="0.88"/><ellipse cx="25.3" cy="-1.4" rx="1.1" ry="1.3" fill="#d8d84a" opacity="0.88"/><ellipse cx="32.8" cy="22.4" rx="0.8" ry="1.4" fill="#c9b915" opacity="0.88"/><ellipse cx="-3.2" cy="22.4" rx="0.8" ry="1.4" fill="#c9b915" opacity="0.88"/><ellipse cx="11.0" cy="25.6" rx="1.4" ry="1.4" fill="#e6d41e" opacity="0.88"/><ellipse cx="29.0" cy="9.2" rx="0.7" ry="1.1" fill="#c9b915" opacity="0.88"/><ellipse cx="16.8" cy="32.5" rx="1.3" ry="1.5" fill="#a8d890" opacity="0.88"/><ellipse cx="16.8" cy="-3.5" rx="1.3" ry="1.5" fill="#a8d890" opacity="0.88"/><ellipse cx="20.6" cy="26.5" rx="1.2" ry="1.0" fill="#58d6c6" opacity="0.88"/><ellipse cx="18.6" cy="19.4" rx="1.5" ry="1.1" fill="#c9b915" opacity="0.88"/><ellipse cx="30.5" cy="25.1" rx="1.3" ry="1.1" fill="#d8d84a" opacity="0.88"/><ellipse cx="6.5" cy="18.7" rx="1.4" ry="0.9" fill="#58d6c6" opacity="0.88"/><ellipse cx="7.4" cy="16.8" rx="0.8" ry="0.9" fill="#c9b915" opacity="0.88"/></pattern><pattern id="pCs" width="36" height="36" patternUnits="userSpaceOnUse"><ellipse cx="1.2" cy="28.8" rx="1.5" ry="1.6" fill="#2aa0b0" opacity="0.85"/><ellipse cx="37.2" cy="28.8" rx="1.5" ry="1.6" fill="#2aa0b0" opacity="0.85"/><ellipse cx="18.5" cy="15.7" rx="1.2" ry="1.3" fill="#2aa0b0" opacity="0.85"/><ellipse cx="24.5" cy="4.0" rx="0.6" ry="0.9" fill="#35b8c8" opacity="0.85"/><ellipse cx="24.5" cy="40.0" rx="0.6" ry="0.9" fill="#35b8c8" opacity="0.85"/><ellipse cx="2.8" cy="29.1" rx="1.2" ry="1.3" fill="#35b8c8" opacity="0.85"/><ellipse cx="38.8" cy="29.1" rx="1.2" ry="1.3" fill="#35b8c8" opacity="0.85"/><ellipse cx="27.1" cy="25.6" rx="1.5" ry="1.6" fill="#35b8c8" opacity="0.85"/><ellipse cx="28.3" cy="20.9" rx="1.4" ry="1.0" fill="#35b8c8" opacity="0.85"/><ellipse cx="31.1" cy="29.0" rx="1.1" ry="0.8" fill="#35b8c8" opacity="0.85"/><ellipse cx="8.7" cy="17.1" rx="0.6" ry="0.6" fill="#2aa0b0" opacity="0.85"/><ellipse cx="24.0" cy="9.6" rx="1.4" ry="1.0" fill="#2aa0b0" opacity="0.85"/></pattern><pattern id="pCvs" width="36" height="36" patternUnits="userSpaceOnUse"><ellipse cx="27.1" cy="20.7" rx="0.4" ry="0.6" fill="#2aa0b0" opacity="0.7"/><ellipse cx="10.5" cy="36.0" rx="0.7" ry="0.7" fill="#1f8f9a" opacity="0.7"/><ellipse cx="10.5" cy="-0.0" rx="0.7" ry="0.7" fill="#1f8f9a" opacity="0.7"/><ellipse cx="6.6" cy="35.7" rx="0.7" ry="0.6" fill="#1f8f9a" opacity="0.7"/><ellipse cx="6.6" cy="-0.3" rx="0.7" ry="0.6" fill="#1f8f9a" opacity="0.7"/><ellipse cx="10.4" cy="13.3" rx="0.7" ry="0.5" fill="#1f8f9a" opacity="0.7"/><ellipse cx="3.8" cy="31.7" rx="0.6" ry="0.8" fill="#2aa0b0" opacity="0.7"/><ellipse cx="39.8" cy="31.7" rx="0.6" ry="0.8" fill="#2aa0b0" opacity="0.7"/><ellipse cx="16.4" cy="19.4" rx="0.6" ry="0.8" fill="#2aa0b0" opacity="0.7"/><ellipse cx="10.2" cy="32.4" rx="0.7" ry="0.6" fill="#1f8f9a" opacity="0.7"/><ellipse cx="10.2" cy="-3.6" rx="0.7" ry="0.6" fill="#1f8f9a" opacity="0.7"/><ellipse cx="33.1" cy="4.5" rx="0.5" ry="0.8" fill="#2aa0b0" opacity="0.7"/><ellipse cx="-2.9" cy="4.5" rx="0.5" ry="0.8" fill="#2aa0b0" opacity="0.7"/><ellipse cx="35.7" cy="10.9" rx="0.4" ry="0.5" fill="#1f8f9a" opacity="0.7"/><ellipse cx="-0.3" cy="10.9" rx="0.4" ry="0.5" fill="#1f8f9a" opacity="0.7"/><ellipse cx="21.6" cy="30.3" rx="0.6" ry="0.7" fill="#1f8f9a" opacity="0.7"/><ellipse cx="18.3" cy="33.2" rx="0.5" ry="0.7" fill="#1f8f9a" opacity="0.7"/><ellipse cx="18.3" cy="-2.8" rx="0.5" ry="0.7" fill="#1f8f9a" opacity="0.7"/><ellipse cx="21.5" cy="17.7" rx="0.5" ry="0.6" fill="#1f8f9a" opacity="0.7"/><ellipse cx="29.5" cy="2.9" rx="0.4" ry="0.8" fill="#1f8f9a" opacity="0.7"/><ellipse cx="29.5" cy="38.9" rx="0.4" ry="0.8" fill="#1f8f9a" opacity="0.7"/><ellipse cx="4.6" cy="29.2" rx="0.7" ry="0.6" fill="#2aa0b0" opacity="0.7"/><ellipse cx="23.3" cy="5.3" rx="0.7" ry="0.7" fill="#1f8f9a" opacity="0.7"/><ellipse cx="14.4" cy="34.8" rx="0.6" ry="0.8" fill="#1f8f9a" opacity="0.7"/><ellipse cx="14.4" cy="-1.2" rx="0.6" ry="0.8" fill="#1f8f9a" opacity="0.7"/><ellipse cx="2.2" cy="31.9" rx="0.7" ry="0.6" fill="#2aa0b0" opacity="0.7"/><ellipse cx="38.2" cy="31.9" rx="0.7" ry="0.6" fill="#2aa0b0" opacity="0.7"/><ellipse cx="26.7" cy="19.9" rx="0.5" ry="0.5" fill="#1f8f9a" opacity="0.7"/><ellipse cx="16.5" cy="14.1" rx="0.7" ry="0.7" fill="#1f8f9a" opacity="0.7"/><ellipse cx="7.5" cy="18.3" rx="0.6" ry="0.6" fill="#2aa0b0" opacity="0.7"/><ellipse cx="32.6" cy="34.4" rx="0.6" ry="0.4" fill="#1f8f9a" opacity="0.7"/><ellipse cx="-3.4" cy="34.4" rx="0.6" ry="0.4" fill="#1f8f9a" opacity="0.7"/><ellipse cx="32.6" cy="-1.6" rx="0.6" ry="0.4" fill="#1f8f9a" opacity="0.7"/><ellipse cx="28.2" cy="24.5" rx="0.4" ry="0.5" fill="#2aa0b0" opacity="0.7"/><ellipse cx="10.3" cy="7.7" rx="0.8" ry="0.6" fill="#1f8f9a" opacity="0.7"/><ellipse cx="26.4" cy="13.4" rx="0.7" ry="0.8" fill="#1f8f9a" opacity="0.7"/><ellipse cx="27.7" cy="10.5" rx="0.7" ry="0.6" fill="#1f8f9a" opacity="0.7"/><ellipse cx="28.9" cy="11.5" rx="0.5" ry="0.7" fill="#2aa0b0" opacity="0.7"/></pattern><pattern id="pK3" width="34" height="34" patternUnits="userSpaceOnUse"><circle cx="14.9" cy="12.3" r="3.7" fill="#300607" stroke="#84151a" stroke-width="0.9"/><circle cx="13.3" cy="17.1" r="2.9" fill="#300607" stroke="#84151a" stroke-width="0.9"/><circle cx="4.8" cy="1.9" r="2.8" fill="#300607" stroke="#84151a" stroke-width="0.9"/><circle cx="4.8" cy="35.9" r="2.8" fill="#300607" stroke="#84151a" stroke-width="0.9"/><circle cx="22.6" cy="16.8" r="3.6" fill="#300607" stroke="#84151a" stroke-width="0.9"/><circle cx="7.7" cy="10.8" r="2.2" fill="#300607" stroke="#84151a" stroke-width="0.9"/><circle cx="28.3" cy="7.1" r="3.6" fill="#300607" stroke="#84151a" stroke-width="0.9"/><circle cx="30.6" cy="8.5" r="3.0" fill="#300607" stroke="#b01d22" stroke-width="0.9"/><circle cx="-3.4" cy="8.5" r="3.0" fill="#300607" stroke="#b01d22" stroke-width="0.9"/><circle cx="30.2" cy="0.7" r="2.7" fill="#300607" stroke="#b01d22" stroke-width="0.9"/><circle cx="-3.8" cy="0.7" r="2.7" fill="#300607" stroke="#b01d22" stroke-width="0.9"/><circle cx="30.2" cy="34.7" r="2.7" fill="#300607" stroke="#b01d22" stroke-width="0.9"/><circle cx="29.4" cy="21.5" r="3.7" fill="#300607" stroke="#84151a" stroke-width="0.9"/><circle cx="21.9" cy="26.2" r="2.7" fill="#300607" stroke="#84151a" stroke-width="0.9"/><circle cx="33.5" cy="5.4" r="2.7" fill="#300607" stroke="#b01d22" stroke-width="0.9"/><circle cx="-0.5" cy="5.4" r="2.7" fill="#300607" stroke="#b01d22" stroke-width="0.9"/><circle cx="28.9" cy="24.6" r="2.6" fill="#300607" stroke="#84151a" stroke-width="0.9"/><circle cx="1.3" cy="33.7" r="2.4" fill="#300607" stroke="#b01d22" stroke-width="0.9"/><circle cx="35.3" cy="33.7" r="2.4" fill="#300607" stroke="#b01d22" stroke-width="0.9"/><circle cx="1.3" cy="-0.3" r="2.4" fill="#300607" stroke="#b01d22" stroke-width="0.9"/><circle cx="2.3" cy="22.6" r="2.4" fill="#300607" stroke="#84151a" stroke-width="0.9"/><circle cx="36.3" cy="22.6" r="2.4" fill="#300607" stroke="#84151a" stroke-width="0.9"/><circle cx="10.3" cy="28.7" r="2.2" fill="#300607" stroke="#84151a" stroke-width="0.9"/><circle cx="30.2" cy="25.5" r="2.3" fill="#300607" stroke="#84151a" stroke-width="0.9"/><circle cx="-3.8" cy="25.5" r="2.3" fill="#300607" stroke="#84151a" stroke-width="0.9"/><circle cx="4.3" cy="25.0" r="4.1" fill="#300607" stroke="#84151a" stroke-width="0.9"/><circle cx="23.4" cy="27.3" r="3.6" fill="#300607" stroke="#b01d22" stroke-width="0.9"/><circle cx="4.3" cy="26.3" r="3.4" fill="#300607" stroke="#84151a" stroke-width="0.9"/><circle cx="5.4" cy="18.3" r="4.1" fill="#300607" stroke="#b01d22" stroke-width="0.9"/><circle cx="8.6" cy="16.1" r="2.9" fill="#300607" stroke="#84151a" stroke-width="0.9"/><circle cx="5.6" cy="27.1" r="3.3" fill="#300607" stroke="#84151a" stroke-width="0.9"/><circle cx="4.4" cy="14.2" r="4.2" fill="#300607" stroke="#84151a" stroke-width="0.9"/><circle cx="15.6" cy="33.7" r="4.1" fill="#300607" stroke="#b01d22" stroke-width="0.9"/><circle cx="15.6" cy="-0.3" r="4.1" fill="#300607" stroke="#b01d22" stroke-width="0.9"/><circle cx="16.9" cy="7.1" r="3.8" fill="#300607" stroke="#b01d22" stroke-width="0.9"/><circle cx="29.2" cy="27.1" r="2.6" fill="#300607" stroke="#84151a" stroke-width="0.9"/><circle cx="7.6" cy="17.5" r="2.4" fill="#300607" stroke="#84151a" stroke-width="0.9"/><circle cx="3.3" cy="30.6" r="3.1" fill="#300607" stroke="#84151a" stroke-width="0.9"/><circle cx="37.3" cy="30.6" r="3.1" fill="#300607" stroke="#84151a" stroke-width="0.9"/><circle cx="3.3" cy="-3.4" r="3.1" fill="#300607" stroke="#84151a" stroke-width="0.9"/><circle cx="24.0" cy="16.9" r="2.4" fill="#300607" stroke="#84151a" stroke-width="0.9"/><circle cx="1.0" cy="6.2" r="3.9" fill="#300607" stroke="#84151a" stroke-width="0.9"/><circle cx="35.0" cy="6.2" r="3.9" fill="#300607" stroke="#84151a" stroke-width="0.9"/></pattern><pattern id="pK3w" width="34" height="34" patternUnits="userSpaceOnUse"><circle cx="5.0" cy="18.8" r="3.4" fill="#380608" stroke="#9a171b" stroke-width="0.9"/><circle cx="27.6" cy="4.9" r="3.3" fill="#380608" stroke="#c82226" stroke-width="0.9"/><circle cx="31.7" cy="9.0" r="3.8" fill="#380608" stroke="#9a171b" stroke-width="0.9"/><circle cx="-2.3" cy="9.0" r="3.8" fill="#380608" stroke="#9a171b" stroke-width="0.9"/><circle cx="20.4" cy="31.7" r="4.2" fill="#380608" stroke="#9a171b" stroke-width="0.9"/><circle cx="20.4" cy="-2.3" r="4.2" fill="#380608" stroke="#9a171b" stroke-width="0.9"/><circle cx="13.6" cy="32.8" r="2.8" fill="#380608" stroke="#c82226" stroke-width="0.9"/><circle cx="13.6" cy="-1.2" r="2.8" fill="#380608" stroke="#c82226" stroke-width="0.9"/><circle cx="32.6" cy="10.8" r="4.0" fill="#380608" stroke="#9a171b" stroke-width="0.9"/><circle cx="-1.4" cy="10.8" r="4.0" fill="#380608" stroke="#9a171b" stroke-width="0.9"/><circle cx="24.6" cy="2.8" r="3.8" fill="#380608" stroke="#9a171b" stroke-width="0.9"/><circle cx="24.6" cy="36.8" r="3.8" fill="#380608" stroke="#9a171b" stroke-width="0.9"/><circle cx="20.1" cy="30.8" r="3.5" fill="#380608" stroke="#9a171b" stroke-width="0.9"/><circle cx="20.1" cy="-3.2" r="3.5" fill="#380608" stroke="#9a171b" stroke-width="0.9"/><circle cx="18.5" cy="17.9" r="3.8" fill="#380608" stroke="#c82226" stroke-width="0.9"/><circle cx="29.7" cy="4.9" r="2.9" fill="#380608" stroke="#9a171b" stroke-width="0.9"/><circle cx="6.2" cy="13.0" r="3.7" fill="#380608" stroke="#9a171b" stroke-width="0.9"/><circle cx="2.7" cy="2.1" r="2.4" fill="#380608" stroke="#9a171b" stroke-width="0.9"/><circle cx="36.7" cy="2.1" r="2.4" fill="#380608" stroke="#9a171b" stroke-width="0.9"/><circle cx="2.7" cy="36.1" r="2.4" fill="#380608" stroke="#9a171b" stroke-width="0.9"/><circle cx="6.3" cy="33.7" r="3.3" fill="#380608" stroke="#9a171b" stroke-width="0.9"/><circle cx="6.3" cy="-0.3" r="3.3" fill="#380608" stroke="#9a171b" stroke-width="0.9"/><circle cx="8.1" cy="17.7" r="2.6" fill="#380608" stroke="#c82226" stroke-width="0.9"/><circle cx="1.4" cy="19.7" r="3.6" fill="#380608" stroke="#9a171b" stroke-width="0.9"/><circle cx="35.4" cy="19.7" r="3.6" fill="#380608" stroke="#9a171b" stroke-width="0.9"/><circle cx="27.0" cy="20.5" r="2.4" fill="#380608" stroke="#9a171b" stroke-width="0.9"/><circle cx="18.8" cy="0.9" r="3.0" fill="#380608" stroke="#9a171b" stroke-width="0.9"/><circle cx="18.8" cy="34.9" r="3.0" fill="#380608" stroke="#9a171b" stroke-width="0.9"/><circle cx="17.5" cy="31.7" r="2.7" fill="#380608" stroke="#c82226" stroke-width="0.9"/><circle cx="17.5" cy="-2.3" r="2.7" fill="#380608" stroke="#c82226" stroke-width="0.9"/><circle cx="15.9" cy="24.0" r="2.8" fill="#380608" stroke="#9a171b" stroke-width="0.9"/><circle cx="1.9" cy="13.4" r="3.9" fill="#380608" stroke="#c82226" stroke-width="0.9"/><circle cx="35.9" cy="13.4" r="3.9" fill="#380608" stroke="#c82226" stroke-width="0.9"/><circle cx="3.6" cy="27.8" r="3.4" fill="#380608" stroke="#9a171b" stroke-width="0.9"/><circle cx="37.6" cy="27.8" r="3.4" fill="#380608" stroke="#9a171b" stroke-width="0.9"/><circle cx="13.5" cy="0.4" r="2.3" fill="#380608" stroke="#9a171b" stroke-width="0.9"/><circle cx="13.5" cy="34.4" r="2.3" fill="#380608" stroke="#9a171b" stroke-width="0.9"/><circle cx="8.3" cy="7.9" r="3.3" fill="#380608" stroke="#9a171b" stroke-width="0.9"/><circle cx="10.5" cy="31.6" r="2.4" fill="#380608" stroke="#9a171b" stroke-width="0.9"/><circle cx="10.5" cy="-2.4" r="2.4" fill="#380608" stroke="#9a171b" stroke-width="0.9"/><circle cx="33.2" cy="3.4" r="2.9" fill="#380608" stroke="#9a171b" stroke-width="0.9"/><circle cx="-0.8" cy="3.4" r="2.9" fill="#380608" stroke="#9a171b" stroke-width="0.9"/><circle cx="33.2" cy="37.4" r="2.9" fill="#380608" stroke="#9a171b" stroke-width="0.9"/><circle cx="33.0" cy="2.3" r="3.4" fill="#380608" stroke="#9a171b" stroke-width="0.9"/><circle cx="-1.0" cy="2.3" r="3.4" fill="#380608" stroke="#9a171b" stroke-width="0.9"/><circle cx="33.0" cy="36.3" r="3.4" fill="#380608" stroke="#9a171b" stroke-width="0.9"/><circle cx="1.0" cy="6.4" r="3.5" fill="#380608" stroke="#9a171b" stroke-width="0.9"/><circle cx="35.0" cy="6.4" r="3.5" fill="#380608" stroke="#9a171b" stroke-width="0.9"/><circle cx="10.9" cy="0.3" r="2.2" fill="#380608" stroke="#9a171b" stroke-width="0.9"/><circle cx="10.9" cy="34.3" r="2.2" fill="#380608" stroke="#9a171b" stroke-width="0.9"/><circle cx="17.8" cy="14.2" r="4.2" fill="#380608" stroke="#9a171b" stroke-width="0.9"/><circle cx="7.4" cy="6.3" r="2.9" fill="#380608" stroke="#9a171b" stroke-width="0.9"/><circle cx="30.6" cy="32.2" r="4.1" fill="#380608" stroke="#9a171b" stroke-width="0.9"/><circle cx="-3.4" cy="32.2" r="4.1" fill="#380608" stroke="#9a171b" stroke-width="0.9"/><circle cx="30.6" cy="-1.8" r="4.1" fill="#380608" stroke="#9a171b" stroke-width="0.9"/><circle cx="8.0" cy="19.4" r="3.8" fill="#380608" stroke="#9a171b" stroke-width="0.9"/><circle cx="16.2" cy="18.7" r="3.2" fill="#380608" stroke="#9a171b" stroke-width="0.9"/><circle cx="28.2" cy="31.0" r="3.9" fill="#380608" stroke="#9a171b" stroke-width="0.9"/><circle cx="28.2" cy="-3.0" r="3.9" fill="#380608" stroke="#9a171b" stroke-width="0.9"/><circle cx="0.2" cy="30.4" r="2.6" fill="#380608" stroke="#9a171b" stroke-width="0.9"/><circle cx="34.2" cy="30.4" r="2.6" fill="#380608" stroke="#9a171b" stroke-width="0.9"/><circle cx="0.2" cy="-3.6" r="2.6" fill="#380608" stroke="#9a171b" stroke-width="0.9"/><circle cx="13.6" cy="32.3" r="2.7" fill="#380608" stroke="#9a171b" stroke-width="0.9"/><circle cx="13.6" cy="-1.7" r="2.7" fill="#380608" stroke="#9a171b" stroke-width="0.9"/></pattern><pattern id="pK3c" width="34" height="34" patternUnits="userSpaceOnUse"><circle cx="5.0" cy="29.7" r="3.3" fill="none" stroke="#5fd0da" stroke-width="1.3"/><circle cx="18.0" cy="5.0" r="3.9" fill="none" stroke="#5fd0da" stroke-width="1.3"/><circle cx="32.3" cy="26.6" r="2.9" fill="none" stroke="#5fd0da" stroke-width="1.3"/><circle cx="-1.7" cy="26.6" r="2.9" fill="none" stroke="#5fd0da" stroke-width="1.3"/><circle cx="14.1" cy="11.5" r="2.3" fill="none" stroke="#5fd0da" stroke-width="1.3"/><circle cx="20.0" cy="22.6" r="2.4" fill="none" stroke="#5fd0da" stroke-width="1.3"/><circle cx="31.6" cy="24.3" r="3.9" fill="none" stroke="#5fd0da" stroke-width="1.3"/><circle cx="-2.4" cy="24.3" r="3.9" fill="none" stroke="#5fd0da" stroke-width="1.3"/><circle cx="27.9" cy="8.8" r="3.4" fill="none" stroke="#5fd0da" stroke-width="1.3"/><circle cx="11.0" cy="27.0" r="3.3" fill="none" stroke="#5fd0da" stroke-width="1.3"/><circle cx="3.6" cy="25.8" r="2.9" fill="none" stroke="#5fd0da" stroke-width="1.3"/><circle cx="37.6" cy="25.8" r="2.9" fill="none" stroke="#5fd0da" stroke-width="1.3"/><circle cx="13.8" cy="16.6" r="2.6" fill="none" stroke="#5fd0da" stroke-width="1.3"/><circle cx="23.5" cy="6.2" r="2.7" fill="none" stroke="#5fd0da" stroke-width="1.3"/><circle cx="12.3" cy="33.2" r="4.0" fill="none" stroke="#5fd0da" stroke-width="1.3"/><circle cx="12.3" cy="-0.8" r="4.0" fill="none" stroke="#5fd0da" stroke-width="1.3"/><circle cx="27.9" cy="23.1" r="2.4" fill="none" stroke="#5fd0da" stroke-width="1.3"/><circle cx="20.3" cy="25.4" r="3.3" fill="none" stroke="#b4f0f4" stroke-width="1.3"/><circle cx="23.7" cy="12.1" r="3.4" fill="none" stroke="#5fd0da" stroke-width="1.3"/><circle cx="31.8" cy="14.8" r="2.7" fill="none" stroke="#5fd0da" stroke-width="1.3"/><circle cx="-2.2" cy="14.8" r="2.7" fill="none" stroke="#5fd0da" stroke-width="1.3"/></pattern><pattern id="pK3cc" width="34" height="34" patternUnits="userSpaceOnUse"><circle cx="6.0" cy="26.9" r="3.8" fill="#246c74" stroke="#56b6be" stroke-width="0.9"/><circle cx="20.4" cy="11.2" r="4.2" fill="#246c74" stroke="#a4e0e4" stroke-width="0.9"/><circle cx="23.1" cy="11.1" r="2.6" fill="#246c74" stroke="#56b6be" stroke-width="0.9"/><circle cx="26.1" cy="8.4" r="3.8" fill="#246c74" stroke="#56b6be" stroke-width="0.9"/><circle cx="14.3" cy="6.2" r="3.1" fill="#246c74" stroke="#56b6be" stroke-width="0.9"/><circle cx="28.8" cy="19.8" r="2.4" fill="#246c74" stroke="#a4e0e4" stroke-width="0.9"/><circle cx="24.6" cy="32.5" r="3.8" fill="#246c74" stroke="#a4e0e4" stroke-width="0.9"/><circle cx="24.6" cy="-1.5" r="3.8" fill="#246c74" stroke="#a4e0e4" stroke-width="0.9"/><circle cx="5.2" cy="15.2" r="3.6" fill="#246c74" stroke="#56b6be" stroke-width="0.9"/><circle cx="10.3" cy="15.9" r="4.1" fill="#246c74" stroke="#56b6be" stroke-width="0.9"/><circle cx="6.7" cy="1.7" r="4.1" fill="#246c74" stroke="#56b6be" stroke-width="0.9"/><circle cx="6.7" cy="35.7" r="4.1" fill="#246c74" stroke="#56b6be" stroke-width="0.9"/><circle cx="0.2" cy="30.1" r="2.4" fill="#246c74" stroke="#56b6be" stroke-width="0.9"/><circle cx="34.2" cy="30.1" r="2.4" fill="#246c74" stroke="#56b6be" stroke-width="0.9"/><circle cx="0.2" cy="-3.9" r="2.4" fill="#246c74" stroke="#56b6be" stroke-width="0.9"/><circle cx="6.0" cy="0.8" r="2.3" fill="#246c74" stroke="#56b6be" stroke-width="0.9"/><circle cx="6.0" cy="34.8" r="2.3" fill="#246c74" stroke="#56b6be" stroke-width="0.9"/><circle cx="6.6" cy="31.8" r="3.2" fill="#246c74" stroke="#56b6be" stroke-width="0.9"/><circle cx="6.6" cy="-2.2" r="3.2" fill="#246c74" stroke="#56b6be" stroke-width="0.9"/><circle cx="31.4" cy="11.7" r="2.7" fill="#246c74" stroke="#56b6be" stroke-width="0.9"/><circle cx="-2.6" cy="11.7" r="2.7" fill="#246c74" stroke="#56b6be" stroke-width="0.9"/><circle cx="18.3" cy="24.1" r="2.3" fill="#246c74" stroke="#56b6be" stroke-width="0.9"/><circle cx="17.4" cy="8.1" r="2.3" fill="#246c74" stroke="#56b6be" stroke-width="0.9"/><circle cx="5.2" cy="19.2" r="2.8" fill="#246c74" stroke="#56b6be" stroke-width="0.9"/><circle cx="0.3" cy="3.8" r="3.1" fill="#246c74" stroke="#56b6be" stroke-width="0.9"/><circle cx="34.3" cy="3.8" r="3.1" fill="#246c74" stroke="#56b6be" stroke-width="0.9"/><circle cx="0.3" cy="37.8" r="3.1" fill="#246c74" stroke="#56b6be" stroke-width="0.9"/><circle cx="12.2" cy="22.9" r="3.7" fill="#246c74" stroke="#56b6be" stroke-width="0.9"/><circle cx="8.7" cy="24.2" r="2.7" fill="#246c74" stroke="#56b6be" stroke-width="0.9"/><circle cx="2.1" cy="13.2" r="3.7" fill="#246c74" stroke="#56b6be" stroke-width="0.9"/><circle cx="36.1" cy="13.2" r="3.7" fill="#246c74" stroke="#56b6be" stroke-width="0.9"/><circle cx="6.8" cy="5.9" r="2.8" fill="#246c74" stroke="#a4e0e4" stroke-width="0.9"/><circle cx="15.7" cy="2.1" r="3.6" fill="#246c74" stroke="#56b6be" stroke-width="0.9"/><circle cx="15.7" cy="36.1" r="3.6" fill="#246c74" stroke="#56b6be" stroke-width="0.9"/><circle cx="24.5" cy="32.5" r="3.2" fill="#246c74" stroke="#a4e0e4" stroke-width="0.9"/><circle cx="24.5" cy="-1.5" r="3.2" fill="#246c74" stroke="#a4e0e4" stroke-width="0.9"/><circle cx="33.3" cy="22.1" r="3.5" fill="#246c74" stroke="#a4e0e4" stroke-width="0.9"/><circle cx="-0.7" cy="22.1" r="3.5" fill="#246c74" stroke="#a4e0e4" stroke-width="0.9"/><circle cx="17.7" cy="3.5" r="3.7" fill="#246c74" stroke="#56b6be" stroke-width="0.9"/><circle cx="17.7" cy="37.5" r="3.7" fill="#246c74" stroke="#56b6be" stroke-width="0.9"/><circle cx="31.1" cy="3.2" r="4.0" fill="#246c74" stroke="#56b6be" stroke-width="0.9"/><circle cx="-2.9" cy="3.2" r="4.0" fill="#246c74" stroke="#56b6be" stroke-width="0.9"/><circle cx="31.1" cy="37.2" r="4.0" fill="#246c74" stroke="#56b6be" stroke-width="0.9"/><circle cx="4.8" cy="32.1" r="2.7" fill="#246c74" stroke="#56b6be" stroke-width="0.9"/><circle cx="4.8" cy="-1.9" r="2.7" fill="#246c74" stroke="#56b6be" stroke-width="0.9"/><circle cx="5.8" cy="32.9" r="3.1" fill="#246c74" stroke="#56b6be" stroke-width="0.9"/><circle cx="5.8" cy="-1.1" r="3.1" fill="#246c74" stroke="#56b6be" stroke-width="0.9"/><circle cx="16.5" cy="20.7" r="3.8" fill="#246c74" stroke="#56b6be" stroke-width="0.9"/><circle cx="18.8" cy="11.4" r="2.7" fill="#246c74" stroke="#56b6be" stroke-width="0.9"/><circle cx="26.8" cy="4.9" r="3.8" fill="#246c74" stroke="#56b6be" stroke-width="0.9"/><circle cx="5.2" cy="4.0" r="2.7" fill="#246c74" stroke="#56b6be" stroke-width="0.9"/><circle cx="33.5" cy="23.7" r="3.6" fill="#246c74" stroke="#a4e0e4" stroke-width="0.9"/><circle cx="-0.5" cy="23.7" r="3.6" fill="#246c74" stroke="#a4e0e4" stroke-width="0.9"/></pattern><filter id="b0" x="0" y="0" width="110" height="90" filterUnits="userSpaceOnUse"><feGaussianBlur stdDeviation="0.45"/></filter><filter id="txA" x="0" y="0" width="110" height="90" filterUnits="userSpaceOnUse" color-interpolation-filters="sRGB"><feTurbulence type="fractalNoise" baseFrequency="0.1" numOctaves="3" seed="3" result="n"/><feColorMatrix in="n" type="matrix" values="0 0 0 0 0 0 0 0 0 0 0 0 0 0 0 5 0 0 0 -1.05" result="m"/><feComposite in="SourceGraphic" in2="m" operator="in"/><feGaussianBlur stdDeviation="0.5"/></filter><filter id="txA2" x="0" y="0" width="110" height="90" filterUnits="userSpaceOnUse" color-interpolation-filters="sRGB"><feTurbulence type="fractalNoise" baseFrequency="0.085" numOctaves="3" seed="11" result="n"/><feColorMatrix in="n" type="matrix" values="0 0 0 0 0 0 0 0 0 0 0 0 0 0 0 5 0 0 0 -1.65" result="m"/><feComposite in="SourceGraphic" in2="m" operator="in"/><feGaussianBlur stdDeviation="0.5"/></filter><filter id="txB" x="0" y="0" width="110" height="90" filterUnits="userSpaceOnUse" color-interpolation-filters="sRGB"><feTurbulence type="fractalNoise" baseFrequency="0.09" numOctaves="3" seed="5" result="n"/><feColorMatrix in="n" type="matrix" values="0 0 0 0 0 0 0 0 0 0 0 0 0 0 0 5 0 0 0 -1.45" result="m"/><feComposite in="SourceGraphic" in2="m" operator="in"/><feGaussianBlur stdDeviation="0.55"/></filter><filter id="txB2" x="0" y="0" width="110" height="90" filterUnits="userSpaceOnUse" color-interpolation-filters="sRGB"><feTurbulence type="fractalNoise" baseFrequency="0.09" numOctaves="3" seed="8" result="n"/><feColorMatrix in="n" type="matrix" values="0 0 0 0 0 0 0 0 0 0 0 0 0 0 0 5 0 0 0 -1.35" result="m"/><feComposite in="SourceGraphic" in2="m" operator="in"/><feGaussianBlur stdDeviation="0.55"/></filter><filter id="txB3" x="0" y="0" width="110" height="90" filterUnits="userSpaceOnUse" color-interpolation-filters="sRGB"><feTurbulence type="fractalNoise" baseFrequency="0.075" numOctaves="3" seed="14" result="n"/><feColorMatrix in="n" type="matrix" values="0 0 0 0 0 0 0 0 0 0 0 0 0 0 0 6 0 0 0 -2.3" result="m"/><feComposite in="SourceGraphic" in2="m" operator="in"/><feGaussianBlur stdDeviation="0.55"/></filter><filter id="txC" x="0" y="0" width="110" height="90" filterUnits="userSpaceOnUse" color-interpolation-filters="sRGB"><feTurbulence type="fractalNoise" baseFrequency="0.1" numOctaves="3" seed="21" result="n"/><feColorMatrix in="n" type="matrix" values="0 0 0 0 0 0 0 0 0 0 0 0 0 0 0 5 0 0 0 -1.25" result="m"/><feComposite in="SourceGraphic" in2="m" operator="in"/><feGaussianBlur stdDeviation="0.5"/></filter><filter id="txC2" x="0" y="0" width="110" height="90" filterUnits="userSpaceOnUse" color-interpolation-filters="sRGB"><feTurbulence type="fractalNoise" baseFrequency="0.1" numOctaves="3" seed="17" result="n"/><feColorMatrix in="n" type="matrix" values="0 0 0 0 0 0 0 0 0 0 0 0 0 0 0 5 0 0 0 -1.3" result="m"/><feComposite in="SourceGraphic" in2="m" operator="in"/><feGaussianBlur stdDeviation="0.5"/></filter><filter id="b1" x="-5%" y="-5%" width="110%" height="110%"><feGaussianBlur stdDeviation="0.45"/></filter><filter id="b15" x="-20%" y="-20%" width="140%" height="140%"><feGaussianBlur stdDeviation="0.9"/></filter><filter id="b2" x="-10%" y="-10%" width="120%" height="120%"><feGaussianBlur stdDeviation="1.6"/></filter><filter id="b3" x="-20%" y="-20%" width="140%" height="140%"><feGaussianBlur stdDeviation="3"/></filter></defs>
<rect x="59.5" y="574.5" width="160.0" height="16.8" fill="#231f20" stroke="#2d5fae" stroke-width="0.9"/>
<text x="139.5" y="585.9" font-size="9.3" text-anchor="middle"><tspan fill="#e03a30">PanCK</tspan><tspan fill="#f2d916">CD3</tspan><tspan fill="#2ea3d8">CD8</tspan></text>
<rect x="278.5" y="574.5" width="160.5" height="16.8" fill="#231f20" stroke="#2d5fae" stroke-width="0.9"/>
<text x="358.8" y="585.9" font-size="9.3" text-anchor="middle"><tspan fill="#e03a30">PanCK</tspan><tspan fill="#f2d916">CD3</tspan><tspan fill="#2ea3d8">PD–L1</tspan></text>
<rect x="497.0" y="574.5" width="160.5" height="16.8" fill="#231f20" stroke="#2d5fae" stroke-width="0.9"/>
<text x="577.2" y="585.9" font-size="9.3" text-anchor="middle"><tspan fill="#e03a30">PanCK</tspan><tspan fill="#f2d916">CD3</tspan><tspan fill="#2ea3d8">CD155</tspan></text>
<rect x="22.5" y="592.5" width="224.5" height="103.5" fill="#fff" stroke="#2b2b2b" stroke-width="0.7"/>
<clipPath id="c000"><rect width="104.0" height="83.5"/></clipPath>
<g transform="translate(36.0,605.5)" clip-path="url(#c000)"><rect width="104.0" height="83.5" fill="#030303"/>
<g filter="url(#txA)"><polygon points="52.4,-0.1 104.0,-0.1 104.0,55.0 98.9,56.6 92.6,58.2 83.9,57.4 78.4,52.7 77.6,46.4 72.1,43.2 65.8,44.8 61.1,41.6 56.7,36.1 54.0,43.2 50.0,48.0 40.6,49.5 31.9,46.4 28.0,38.5 29.5,29.8 35.8,25.1 45.3,24.3 48.5,18.0 50.8,7.0" fill="url(#pR1)"/><polygon points="14.6,54.3 16.9,48.0 23.2,44.8 28.0,48.0 27.2,52.7 21.6,58.2 16.1,59.8" fill="url(#pR1)"/><polygon points="56.7,36.1 61.1,31.4 72.1,29.8 83.1,33.8 76.8,36.9 65.8,38.8 61.1,41.6" fill="#050000" opacity="0.9" filter="url(#b2)"/><polygon points="83.1,34.1 104.0,32.5 104.0,35.3 86.3,36.9" fill="#050000" opacity="0.9" filter="url(#b2)"/><polygon points="80.0,54.3 86.3,49.5 92.6,58.2 83.9,57.4" fill="#050000" opacity="0.9" filter="url(#b2)"/><polyline points="50.8,7.0 61.1,16.4 65.8,21.1 72.1,14.8 80.0,3.8" fill="none" stroke="#040000" stroke-width="2.6" stroke-linecap="round" stroke-linejoin="round" opacity="0.6" filter="url(#b15)"/><polyline points="86.3,-0.1 83.9,14.8 92.6,25.9 104.0,23.5" fill="none" stroke="#040000" stroke-width="2.6" stroke-linecap="round" stroke-linejoin="round" opacity="0.6" filter="url(#b15)"/><polyline points="65.8,21.1 61.9,31.4" fill="none" stroke="#040000" stroke-width="2.6" stroke-linecap="round" stroke-linejoin="round" opacity="0.6" filter="url(#b15)"/><polyline points="78.4,36.9 80.8,44.8 80.0,54.3" fill="none" stroke="#040000" stroke-width="2.6" stroke-linecap="round" stroke-linejoin="round" opacity="0.6" filter="url(#b15)"/><polyline points="35.8,25.1 45.3,33.8 54.0,43.2" fill="none" stroke="#040000" stroke-width="2.6" stroke-linecap="round" stroke-linejoin="round" opacity="0.6" filter="url(#b15)"/><polyline points="92.6,25.9 91.0,33.8" fill="none" stroke="#040000" stroke-width="2.6" stroke-linecap="round" stroke-linejoin="round" opacity="0.6" filter="url(#b15)"/></g><g filter="url(#b0)"><polygon points="-0.4,13.3 21.6,3.8 45.3,1.4 50.0,7.0 43.7,19.6 29.5,29.0 16.9,38.8 2.7,44.8 -0.4,36.9" fill="url(#pYCs)"/><polygon points="-0.4,65.3 5.9,51.1 13.8,39.3 18.5,44.8 29.5,51.9 45.3,50.3 61.1,48.7 73.7,51.9 80.0,60.6 92.6,61.4 104.0,67.7 104.0,83.9 -0.4,83.9" fill="url(#pYCm)"/><polygon points="-0.4,66.9 16.9,57.4 37.4,59.0 61.1,60.6 80.0,65.3 104.0,71.6 104.0,83.9 -0.4,83.9" fill="url(#pYCd)"/><polygon points="-0.4,44.8 7.5,36.9 14.6,40.1 16.9,49.5 15.3,63.7 7.5,73.2 -0.4,76.3" fill="url(#pYCd)"/></g>
<rect x="2.6" y="78.9" width="13.8" height="2.9" fill="#fff"/>
</g>
<text x="88.0" y="602.9" font-size="8.9" text-anchor="middle" fill="#3a3a3a">Baseline</text>
<clipPath id="c001"><rect width="103.0" height="83.5"/></clipPath>
<g transform="translate(141.5,605.5)" clip-path="url(#c001)"><rect width="103.0" height="83.5" fill="#030303"/>
<g filter="url(#txA2)"><polygon points="45.3,-0.1 104.0,-0.1 104.0,83.9 34.3,83.9 25.6,76.3 22.9,63.7 25.1,52.7 31.4,44.8 37.7,36.9 40.9,25.9 43.7,16.4 46.6,7.0" fill="url(#pR1w)"/><polygon points="72.1,36.9 81.6,35.3 83.1,44.8 75.3,46.4" fill="#050000" opacity="0.85" filter="url(#b2)"/><polygon points="57.9,10.1 65.8,8.5 67.4,18.0 59.5,19.6" fill="#050000" opacity="0.85" filter="url(#b2)"/><polygon points="94.2,27.5 104.0,25.9 104.0,44.8 95.8,43.2" fill="#050000" opacity="0.85" filter="url(#b2)"/><polygon points="35.8,63.7 45.3,60.6 50.0,71.6 39.0,74.8" fill="#050000" opacity="0.85" filter="url(#b2)"/><polygon points="80.0,60.6 89.4,57.4 92.6,66.9 83.1,70.0" fill="#050000" opacity="0.85" filter="url(#b2)"/></g><g filter="url(#b0)"><polygon points="-0.4,-0.1 50.0,-0.1 45.3,13.3 39.3,29.0 33.0,41.6 25.1,51.1 21.6,63.7 23.5,73.2 13.8,76.3 -0.4,60.6" fill="url(#pYCm)"/><polygon points="12.2,35.3 21.6,29.0 31.9,27.5 35.1,33.8 31.9,43.2 26.4,51.1 24.0,63.7 16.9,66.9 9.0,59.0 4.3,49.5 5.9,41.6" fill="url(#pYCd)"/><polygon points="45.3,-0.1 104.0,-0.1 104.0,83.9 34.3,83.9 25.6,76.3 22.9,63.7 25.1,52.7 31.4,44.8 37.7,36.9 40.9,25.9 43.7,16.4 46.6,7.0" fill="url(#pYCs)"/></g>
<rect x="2.6" y="78.9" width="13.8" height="2.9" fill="#fff"/>
</g>
<text x="193.0" y="602.9" font-size="8.9" text-anchor="middle" fill="#3a3a3a">W8</text>
<rect x="22.5" y="701.5" width="224.5" height="100.5" fill="#fff" stroke="#2b2b2b" stroke-width="0.7"/>
<clipPath id="c100"><rect width="104.0" height="83.5"/></clipPath>
<g transform="translate(36.0,715.5)" clip-path="url(#c100)"><rect width="104.0" height="83.5" fill="#030303"/>
<g filter="url(#txC)"><polygon points="-2.0,-2.5 108.4,-2.5 108.4,85.8 -2.0,85.8" fill="url(#pR2)"/><polygon points="-0.4,-0.1 5.1,-0.1 5.9,16.4 10.6,29.0 15.3,49.5 17.7,62.1 29.5,59.8 39.3,63.7 38.2,83.9 -0.4,83.9" fill="url(#pR2d)" filter="url(#b1)"/><polygon points="-0.4,-0.1 5.1,-0.1 5.9,16.4 10.6,29.0 15.3,49.5 17.7,62.1 29.5,59.8 39.3,63.7 38.2,83.9 -0.4,83.9" fill="#120203" opacity="0.45" filter="url(#b2)"/><polygon points="58.7,21.1 65.8,24.3 73.7,38.5 83.1,49.5 92.6,63.7 104.0,71.6 104.0,83.9 86.3,83.9 76.8,65.3 67.4,49.5 61.1,35.3" fill="url(#pR2d)" filter="url(#b1)"/><polygon points="58.7,21.1 65.8,24.3 73.7,38.5 83.1,49.5 92.6,63.7 104.0,71.6 104.0,83.9 86.3,83.9 76.8,65.3 67.4,49.5 61.1,35.3" fill="#120203" opacity="0.45" filter="url(#b2)"/><polygon points="83.1,44.8 104.0,43.2 104.0,60.6 92.6,59.3" fill="url(#pR2d)" filter="url(#b1)"/><polygon points="83.1,44.8 104.0,43.2 104.0,60.6 92.6,59.3" fill="#120203" opacity="0.45" filter="url(#b2)"/><polygon points="43.7,-0.1 50.3,-0.1 50.3,7.0 45.3,5.7" fill="url(#pR2d)" filter="url(#b1)"/><polygon points="43.7,-0.1 50.3,-0.1 50.3,7.0 45.3,5.7" fill="#120203" opacity="0.45" filter="url(#b2)"/><polygon points="28.0,40.1 35.8,43.2 35.1,49.5 29.5,48.0" fill="url(#pR2d)" filter="url(#b1)"/><polygon points="28.0,40.1 35.8,43.2 35.1,49.5 29.5,48.0" fill="#120203" opacity="0.45" filter="url(#b2)"/><polygon points="86.3,14.8 98.9,13.3 102.1,21.1 91.0,23.5" fill="url(#pR2d)" filter="url(#b1)"/><polygon points="86.3,14.8 98.9,13.3 102.1,21.1 91.0,23.5" fill="#120203" opacity="0.45" filter="url(#b2)"/><ellipse cx="31.9" cy="42.4" rx="2.2" ry="3.5" fill="#140303" filter="url(#b2)"/><ellipse cx="53.2" cy="33.8" rx="1.9" ry="4.1" fill="#140303" filter="url(#b2)"/><ellipse cx="72.1" cy="7.0" rx="4.1" ry="1.4" fill="#140303" filter="url(#b2)"/><ellipse cx="50.0" cy="13.3" rx="1.9" ry="1.4" fill="#140303" filter="url(#b2)"/></g><g filter="url(#b0)"><ellipse cx="17.2" cy="9.3" rx="1.22" ry="0.73" fill="#dccb1f" opacity="0.92" transform="rotate(45 17.2 9.3)"/><ellipse cx="28.0" cy="12.5" rx="1.15" ry="0.70" fill="#dccb1f" opacity="0.92" transform="rotate(22 28.0 12.5)"/><ellipse cx="9.4" cy="18.0" rx="1.16" ry="0.79" fill="#dccb1f" opacity="0.92" transform="rotate(175 9.4 18.0)"/><ellipse cx="17.2" cy="17.2" rx="1.35" ry="0.69" fill="#dccb1f" opacity="0.92" transform="rotate(159 17.2 17.2)"/><ellipse cx="19.6" cy="33.0" rx="1.26" ry="0.80" fill="#dccb1f" opacity="0.92" transform="rotate(156 19.6 33.0)"/><ellipse cx="13.8" cy="39.3" rx="1.30" ry="0.92" fill="#dccb1f" opacity="0.92" transform="rotate(95 13.8 39.3)"/><ellipse cx="27.2" cy="21.1" rx="1.41" ry="0.94" fill="#dccb1f" opacity="0.92" transform="rotate(54 27.2 21.1)"/><ellipse cx="98.9" cy="23.5" rx="1.11" ry="0.88" fill="#dccb1f" opacity="0.92" transform="rotate(145 98.9 23.5)"/><ellipse cx="46.9" cy="60.9" rx="1.6" ry="2.8" fill="#167c84" transform="rotate(-25 46.9 60.9)"/><rect x="20.9" y="26.4" width="4" height="0.8" fill="#167c84"/></g>
<rect x="2.6" y="78.9" width="13.8" height="2.9" fill="#fff"/>
</g>
<text x="88.0" y="712.6" font-size="8.9" text-anchor="middle" fill="#3a3a3a">Baseline</text>
<clipPath id="c101"><rect width="103.0" height="83.5"/></clipPath>
<g transform="translate(141.5,715.5)" clip-path="url(#c101)"><rect width="103.0" height="83.5" fill="#030303"/>
<g filter="url(#txC2)"><polygon points="-2.0,-2.5 108.4,-2.5 108.4,85.8 -2.0,85.8" fill="url(#pR2w)"/><polygon points="-0.4,7.0 16.9,7.0 29.5,16.4 39.3,24.3 50.0,22.7 53.5,32.2 50.3,43.2 37.7,44.8 26.7,49.5 13.8,51.4 -0.4,49.5" fill="#070101" opacity="0.96" filter="url(#b15)"/><polygon points="50.0,22.7 64.2,25.9 73.7,32.2 80.3,41.6 86.6,57.4 92.9,65.3 99.2,76.3 104.0,83.9 86.3,83.9 77.1,73.2 72.4,60.6 64.2,49.5 55.1,41.6" fill="#070101" opacity="0.96" filter="url(#b15)"/><polygon points="95.8,-0.1 104.0,-0.1 104.0,16.4 98.9,13.3" fill="#070101" opacity="0.96" filter="url(#b15)"/></g><g filter="url(#b0)"><circle cx="58.7" cy="25.1" r="2.2" fill="#e0242a" opacity="0.85"/><circle cx="22.4" cy="44.0" r="2.2" fill="#e0242a" opacity="0.85"/><circle cx="4.0" cy="57.1" r="2.2" fill="#e0242a" opacity="0.85"/><circle cx="34.3" cy="8.5" r="2.2" fill="#e0242a" opacity="0.85"/><circle cx="45.3" cy="49.5" r="2.2" fill="#e0242a" opacity="0.85"/><circle cx="30.3" cy="44.8" r="2.2" fill="#e0242a" opacity="0.85"/><ellipse cx="4.0" cy="2.2" rx="1.47" ry="1.19" fill="#dccb1f" opacity="0.92" transform="rotate(135 4.0 2.2)"/><ellipse cx="16.9" cy="18.0" rx="1.65" ry="0.85" fill="#dccb1f" opacity="0.92" transform="rotate(80 16.9 18.0)"/><ellipse cx="9.8" cy="21.1" rx="1.50" ry="0.92" fill="#dccb1f" opacity="0.92" transform="rotate(1 9.8 21.1)"/><ellipse cx="12.2" cy="23.5" rx="1.51" ry="0.96" fill="#dccb1f" opacity="0.92" transform="rotate(136 12.2 23.5)"/><ellipse cx="2.7" cy="26.7" rx="1.33" ry="1.02" fill="#dccb1f" opacity="0.92" transform="rotate(50 2.7 26.7)"/><ellipse cx="5.1" cy="31.4" rx="1.61" ry="1.21" fill="#dccb1f" opacity="0.92" transform="rotate(91 5.1 31.4)"/><ellipse cx="24.8" cy="35.3" rx="1.35" ry="1.20" fill="#dccb1f" opacity="0.92" transform="rotate(41 24.8 35.3)"/><ellipse cx="16.9" cy="43.2" rx="1.69" ry="0.99" fill="#dccb1f" opacity="0.92" transform="rotate(45 16.9 43.2)"/><ellipse cx="11.4" cy="45.6" rx="1.79" ry="1.08" fill="#dccb1f" opacity="0.92" transform="rotate(9 11.4 45.6)"/><ellipse cx="20.1" cy="47.2" rx="1.34" ry="0.88" fill="#dccb1f" opacity="0.92" transform="rotate(175 20.1 47.2)"/><ellipse cx="12.2" cy="56.6" rx="1.73" ry="0.84" fill="#dccb1f" opacity="0.92" transform="rotate(108 12.2 56.6)"/><ellipse cx="24.8" cy="62.1" rx="1.62" ry="0.87" fill="#dccb1f" opacity="0.92" transform="rotate(158 24.8 62.1)"/><ellipse cx="80.0" cy="5.4" rx="1.29" ry="0.94" fill="#dccb1f" opacity="0.92" transform="rotate(133 80.0 5.4)"/><ellipse cx="45.3" cy="30.6" rx="1.50" ry="1.17" fill="#dccb1f" opacity="0.92" transform="rotate(14 45.3 30.6)"/><ellipse cx="53.2" cy="35.3" rx="1.63" ry="0.99" fill="#dccb1f" opacity="0.92" transform="rotate(139 53.2 35.3)"/><ellipse cx="54.8" cy="40.9" rx="1.50" ry="1.12" fill="#dccb1f" opacity="0.92" transform="rotate(90 54.8 40.9)"/><ellipse cx="65.8" cy="30.6" rx="1.79" ry="1.00" fill="#dccb1f" opacity="0.92" transform="rotate(14 65.8 30.6)"/><ellipse cx="67.4" cy="36.9" rx="1.35" ry="1.16" fill="#dccb1f" opacity="0.92" transform="rotate(153 67.4 36.9)"/><ellipse cx="68.9" cy="41.6" rx="1.70" ry="0.87" fill="#dccb1f" opacity="0.92" transform="rotate(104 68.9 41.6)"/><ellipse cx="62.6" cy="43.2" rx="1.35" ry="0.86" fill="#dccb1f" opacity="0.92" transform="rotate(75 62.6 43.2)"/><ellipse cx="65.8" cy="51.9" rx="1.38" ry="0.88" fill="#dccb1f" opacity="0.92" transform="rotate(37 65.8 51.9)"/><ellipse cx="69.7" cy="55.0" rx="1.78" ry="1.17" fill="#dccb1f" opacity="0.92" transform="rotate(81 69.7 55.0)"/><ellipse cx="73.7" cy="48.7" rx="1.70" ry="1.13" fill="#dccb1f" opacity="0.92" transform="rotate(65 73.7 48.7)"/><ellipse cx="76.8" cy="50.3" rx="1.35" ry="1.14" fill="#dccb1f" opacity="0.92" transform="rotate(47 76.8 50.3)"/><ellipse cx="84.7" cy="52.7" rx="1.65" ry="1.01" fill="#dccb1f" opacity="0.92" transform="rotate(2 84.7 52.7)"/><ellipse cx="73.7" cy="59.8" rx="1.60" ry="0.83" fill="#dccb1f" opacity="0.92" transform="rotate(55 73.7 59.8)"/><ellipse cx="67.4" cy="63.7" rx="1.49" ry="0.95" fill="#dccb1f" opacity="0.92" transform="rotate(102 67.4 63.7)"/><ellipse cx="65.8" cy="74.8" rx="1.49" ry="1.14" fill="#dccb1f" opacity="0.92" transform="rotate(136 65.8 74.8)"/><ellipse cx="92.6" cy="74.0" rx="1.33" ry="1.17" fill="#dccb1f" opacity="0.92" transform="rotate(95 92.6 74.0)"/><ellipse cx="95.0" cy="76.3" rx="1.67" ry="0.97" fill="#dccb1f" opacity="0.92" transform="rotate(113 95.0 76.3)"/><ellipse cx="98.9" cy="81.1" rx="1.41" ry="1.16" fill="#dccb1f" opacity="0.92" transform="rotate(57 98.9 81.1)"/><ellipse cx="9.0" cy="18.8" rx="1.57" ry="0.90" fill="#d8ecc8" opacity="0.92" transform="rotate(176 9.0 18.8)"/><ellipse cx="41.4" cy="30.6" rx="1.61" ry="0.87" fill="#d8ecc8" opacity="0.92" transform="rotate(172 41.4 30.6)"/><ellipse cx="16.9" cy="43.2" rx="1.61" ry="0.93" fill="#d8ecc8" opacity="0.92" transform="rotate(112 16.9 43.2)"/><ellipse cx="61.1" cy="45.6" rx="1.63" ry="0.81" fill="#d8ecc8" opacity="0.92" transform="rotate(112 61.1 45.6)"/><ellipse cx="75.3" cy="44.8" rx="1.45" ry="1.13" fill="#d8ecc8" opacity="0.92" transform="rotate(17 75.3 44.8)"/><ellipse cx="12.2" cy="55.8" rx="1.50" ry="1.13" fill="#d8ecc8" opacity="0.92" transform="rotate(82 12.2 55.8)"/><ellipse cx="65.8" cy="74.0" rx="1.64" ry="0.99" fill="#d8ecc8" opacity="0.92" transform="rotate(65 65.8 74.0)"/><ellipse cx="94.2" cy="46.4" rx="1.46" ry="0.89" fill="#d8ecc8" opacity="0.92" transform="rotate(168 94.2 46.4)"/><ellipse cx="0.4" cy="23.5" rx="1.66" ry="0.84" fill="#d8ecc8" opacity="0.92" transform="rotate(97 0.4 23.5)"/></g>
<rect x="2.6" y="78.9" width="13.8" height="2.9" fill="#fff"/>
</g>
<text x="193.0" y="712.6" font-size="8.9" text-anchor="middle" fill="#3a3a3a">W8</text>
<rect x="22.5" y="805.5" width="224.5" height="89.70000000000005" fill="#fff" stroke="#2b2b2b" stroke-width="0.7"/>
<clipPath id="c200"><rect width="104.0" height="83.5"/></clipPath>
<g transform="translate(36.0,808.0)" clip-path="url(#c200)"><rect width="104.0" height="83.5" fill="#030303"/>
<polygon points="-0.4,0.4 21.6,0.4 23.2,9.0 16.9,15.3 4.3,13.8 -0.4,16.9" fill="#2e0607" opacity="0.45" filter="url(#b3)"/><polygon points="28.0,4.3 39.0,1.2 50.0,7.5 51.6,21.6 39.0,24.8 29.5,20.1" fill="#2e0607" opacity="0.45" filter="url(#b3)"/><polygon points="39.3,18.5 61.1,16.9 69.3,29.5 68.9,50.0 64.2,61.1 51.6,62.6 40.6,51.6 37.4,34.3" fill="#2e0607" opacity="0.45" filter="url(#b3)"/><polygon points="72.1,39.0 86.3,35.8 98.9,39.0 98.9,51.6 86.3,54.8 73.7,51.6" fill="#2e0607" opacity="0.45" filter="url(#b3)"/><polygon points="42.1,59.5 64.2,57.9 80.0,64.2 83.1,84.4 29.5,84.4 31.1,70.5" fill="#2e0607" opacity="0.45" filter="url(#b3)"/><polygon points="67.4,13.8 80.0,12.2 80.0,23.2 68.9,24.8" fill="#2e0607" opacity="0.45" filter="url(#b3)"/><polygon points="-0.4,67.4 15.3,67.4 16.9,76.8 -0.4,80.0" fill="#2e0607" opacity="0.45" filter="url(#b3)"/><polygon points="86.3,57.9 98.9,57.9 98.9,70.5 87.9,70.5" fill="#2e0607" opacity="0.45" filter="url(#b3)"/><g filter="url(#txB)"><polygon points="-0.4,0.4 21.6,0.4 23.2,9.0 16.9,15.3 4.3,13.8 -0.4,16.9" fill="url(#pK3)" opacity="0.95"/><polygon points="28.0,4.3 39.0,1.2 50.0,7.5 51.6,21.6 39.0,24.8 29.5,20.1" fill="url(#pK3)" opacity="0.95"/><polygon points="39.3,18.5 61.1,16.9 69.3,29.5 68.9,50.0 64.2,61.1 51.6,62.6 40.6,51.6 37.4,34.3" fill="url(#pK3)" opacity="0.95"/><polygon points="72.1,39.0 86.3,35.8 98.9,39.0 98.9,51.6 86.3,54.8 73.7,51.6" fill="url(#pK3)" opacity="0.95"/><polygon points="42.1,59.5 64.2,57.9 80.0,64.2 83.1,84.4 29.5,84.4 31.1,70.5" fill="url(#pK3)" opacity="0.95"/><polygon points="67.4,13.8 80.0,12.2 80.0,23.2 68.9,24.8" fill="url(#pK3)" opacity="0.95"/><polygon points="-0.4,67.4 15.3,67.4 16.9,76.8 -0.4,80.0" fill="url(#pK3)" opacity="0.95"/><polygon points="86.3,57.9 98.9,57.9 98.9,70.5 87.9,70.5" fill="url(#pK3)" opacity="0.95"/></g><g filter="url(#b0)"><ellipse cx="51.6" cy="22.4" rx="1.26" ry="1.26" fill="#58d6c6" opacity="0.92" transform="rotate(170 51.6 22.4)"/><ellipse cx="63.4" cy="14.6" rx="1.05" ry="1.05" fill="#58d6c6" opacity="0.92" transform="rotate(50 63.4 14.6)"/><ellipse cx="63.4" cy="25.6" rx="1.16" ry="1.16" fill="#58d6c6" opacity="0.92" transform="rotate(49 63.4 25.6)"/><ellipse cx="79.2" cy="24.0" rx="1.20" ry="1.20" fill="#58d6c6" opacity="0.92" transform="rotate(66 79.2 24.0)"/><ellipse cx="83.9" cy="13.8" rx="1.22" ry="1.22" fill="#58d6c6" opacity="0.92" transform="rotate(59 83.9 13.8)"/><ellipse cx="23.2" cy="48.1" rx="1.15" ry="1.15" fill="#58d6c6" opacity="0.92" transform="rotate(0 23.2 48.1)"/><ellipse cx="3.5" cy="60.3" rx="0.94" ry="0.94" fill="#58d6c6" opacity="0.92" transform="rotate(79 3.5 60.3)"/><ellipse cx="5.9" cy="65.8" rx="1.26" ry="1.26" fill="#58d6c6" opacity="0.92" transform="rotate(130 5.9 65.8)"/><ellipse cx="23.2" cy="67.4" rx="1.00" ry="1.00" fill="#58d6c6" opacity="0.92" transform="rotate(106 23.2 67.4)"/><ellipse cx="66.6" cy="49.2" rx="1.14" ry="1.14" fill="#58d6c6" opacity="0.92" transform="rotate(161 66.6 49.2)"/><ellipse cx="28.0" cy="54.8" rx="1.03" ry="1.03" fill="#dccb1f" opacity="0.92" transform="rotate(5 28.0 54.8)"/><ellipse cx="33.5" cy="51.6" rx="0.96" ry="0.96" fill="#dccb1f" opacity="0.92" transform="rotate(8 33.5 51.6)"/><ellipse cx="41.4" cy="70.5" rx="1.06" ry="1.06" fill="#dccb1f" opacity="0.92" transform="rotate(142 41.4 70.5)"/><ellipse cx="72.1" cy="10.6" rx="1.12" ry="1.12" fill="#dccb1f" opacity="0.92" transform="rotate(49 72.1 10.6)"/><ellipse cx="1.2" cy="39.0" rx="1.20" ry="1.20" fill="#dccb1f" opacity="0.92" transform="rotate(102 1.2 39.0)"/><ellipse cx="8.2" cy="60.3" rx="1.04" ry="1.04" fill="#dccb1f" opacity="0.92" transform="rotate(33 8.2 60.3)"/><ellipse cx="9.0" cy="21.6" rx="1.16" ry="1.16" fill="#cfe" opacity="0.92" transform="rotate(99 9.0 21.6)"/><ellipse cx="16.9" cy="13.0" rx="0.99" ry="0.99" fill="#58d6c6" opacity="0.92" transform="rotate(64 16.9 13.0)"/></g>
<rect x="2.6" y="78.9" width="13.8" height="2.9" fill="#fff"/>
</g>
<clipPath id="c201"><rect width="103.0" height="83.5"/></clipPath>
<g transform="translate(141.5,808.0)" clip-path="url(#c201)"><rect width="103.0" height="83.5" fill="#030303"/>
<polygon points="29.5,0.4 86.3,0.4 92.6,10.6 86.3,23.2 72.1,21.6 61.1,15.3 50.0,23.2 37.4,21.6 29.5,12.2" fill="#3a0708" opacity="0.6" filter="url(#b2)"/><polygon points="10.6,10.6 29.5,9.0 39.0,23.2 50.0,29.5 53.2,45.3 45.3,51.6 29.5,50.0 16.9,45.3 10.6,29.5" fill="#3a0708" opacity="0.6" filter="url(#b2)"/><polygon points="61.1,24.8 72.1,21.6 86.3,24.8 95.8,35.8 92.6,48.5 80.0,51.6 65.8,46.9 57.9,37.4" fill="#3a0708" opacity="0.6" filter="url(#b2)"/><polygon points="2.7,54.8 16.9,50.0 45.3,53.2 57.9,61.1 61.1,84.4 2.7,84.4" fill="#3a0708" opacity="0.6" filter="url(#b2)"/><polygon points="73.7,61.1 86.3,56.3 104.0,57.9 104.0,84.4 67.4,84.4" fill="#3a0708" opacity="0.6" filter="url(#b2)"/><polygon points="2.7,15.3 9.0,13.8 9.0,21.6 2.7,21.6" fill="#3a0708" opacity="0.6" filter="url(#b2)"/><g filter="url(#txB2)"><polygon points="29.5,0.4 86.3,0.4 92.6,10.6 86.3,23.2 72.1,21.6 61.1,15.3 50.0,23.2 37.4,21.6 29.5,12.2" fill="url(#pK3w)"/><polygon points="10.6,10.6 29.5,9.0 39.0,23.2 50.0,29.5 53.2,45.3 45.3,51.6 29.5,50.0 16.9,45.3 10.6,29.5" fill="url(#pK3w)"/><polygon points="61.1,24.8 72.1,21.6 86.3,24.8 95.8,35.8 92.6,48.5 80.0,51.6 65.8,46.9 57.9,37.4" fill="url(#pK3w)"/><polygon points="2.7,54.8 16.9,50.0 45.3,53.2 57.9,61.1 61.1,84.4 2.7,84.4" fill="url(#pK3w)"/><polygon points="73.7,61.1 86.3,56.3 104.0,57.9 104.0,84.4 67.4,84.4" fill="url(#pK3w)"/><polygon points="2.7,15.3 9.0,13.8 9.0,21.6 2.7,21.6" fill="url(#pK3w)"/></g><g filter="url(#b0)"><ellipse cx="15.7" cy="4.0" rx="1.54" ry="1.54" fill="#e9f6ee" opacity="0.92" transform="rotate(179 15.7 4.0)"/><ellipse cx="6.7" cy="14.6" rx="1.58" ry="1.58" fill="#d8e8a0" opacity="0.92" transform="rotate(122 6.7 14.6)"/><ellipse cx="76.0" cy="5.1" rx="1.57" ry="1.57" fill="#e9f6ee" opacity="0.92" transform="rotate(170 76.0 5.1)"/><ellipse cx="94.5" cy="13.5" rx="1.29" ry="1.29" fill="#b8d878" opacity="0.92" transform="rotate(117 94.5 13.5)"/><ellipse cx="37.4" cy="21.6" rx="1.52" ry="1.52" fill="#dccb1f" opacity="0.92" transform="rotate(18 37.4 21.6)"/><ellipse cx="40.9" cy="28.3" rx="1.43" ry="1.43" fill="#dccb1f" opacity="0.92" transform="rotate(136 40.9 28.3)"/><ellipse cx="46.9" cy="40.6" rx="1.32" ry="1.32" fill="#dccb1f" opacity="0.92" transform="rotate(66 46.9 40.6)"/><ellipse cx="82.4" cy="31.4" rx="1.21" ry="1.21" fill="#f0e020" opacity="0.92" transform="rotate(9 82.4 31.4)"/><ellipse cx="21.3" cy="60.3" rx="1.42" ry="1.42" fill="#f1f6e8" opacity="0.92" transform="rotate(74 21.3 60.3)"/><ellipse cx="42.9" cy="59.5" rx="1.48" ry="1.48" fill="#e9f6ee" opacity="0.92" transform="rotate(106 42.9 59.5)"/><ellipse cx="16.6" cy="68.2" rx="1.39" ry="1.39" fill="#f1f6e8" opacity="0.92" transform="rotate(69 16.6 68.2)"/><ellipse cx="56.0" cy="60.3" rx="1.43" ry="1.43" fill="#d0efe0" opacity="0.92" transform="rotate(50 56.0 60.3)"/><ellipse cx="68.2" cy="58.2" rx="1.34" ry="1.34" fill="#d0efe0" opacity="0.92" transform="rotate(136 68.2 58.2)"/><ellipse cx="70.5" cy="74.5" rx="1.49" ry="1.49" fill="#c9f0e0" opacity="0.92" transform="rotate(35 70.5 74.5)"/><ellipse cx="40.9" cy="79.7" rx="1.51" ry="1.51" fill="#d0efe0" opacity="0.92" transform="rotate(165 40.9 79.7)"/><ellipse cx="4.3" cy="59.2" rx="1.52" ry="1.52" fill="#bfeee0" opacity="0.92" transform="rotate(59 4.3 59.2)"/><ellipse cx="57.9" cy="64.2" rx="1.45" ry="1.45" fill="#9fd8c0" opacity="0.92" transform="rotate(87 57.9 64.2)"/><ellipse cx="35.8" cy="58.7" rx="1.53" ry="1.53" fill="#b8a830" opacity="0.92" transform="rotate(111 35.8 58.7)"/><ellipse cx="5.1" cy="19.3" rx="1.24" ry="1.24" fill="#c03030" opacity="0.92" transform="rotate(127 5.1 19.3)"/></g>
<rect x="2.6" y="78.9" width="13.8" height="2.9" fill="#fff"/>
</g>
<rect x="251.5" y="592.5" width="215.0" height="103.5" fill="#fff" stroke="#2b2b2b" stroke-width="0.7"/>
<clipPath id="c010"><rect width="103.0" height="83.5"/></clipPath>
<g transform="translate(255.0,605.5)" clip-path="url(#c010)"><rect width="103.0" height="83.5" fill="#030303"/>
<g filter="url(#txA)"><polygon points="52.4,-0.1 104.0,-0.1 104.0,55.0 98.9,56.6 92.6,58.2 83.9,57.4 78.4,52.7 77.6,46.4 72.1,43.2 65.8,44.8 61.1,41.6 56.7,36.1 54.0,43.2 50.0,48.0 40.6,49.5 31.9,46.4 28.0,38.5 29.5,29.8 35.8,25.1 45.3,24.3 48.5,18.0 50.8,7.0" fill="url(#pR1)"/><polygon points="14.6,54.3 16.9,48.0 23.2,44.8 28.0,48.0 27.2,52.7 21.6,58.2 16.1,59.8" fill="url(#pR1)"/><polygon points="56.7,36.1 61.1,31.4 72.1,29.8 83.1,33.8 76.8,36.9 65.8,38.8 61.1,41.6" fill="#050000" opacity="0.9" filter="url(#b2)"/><polygon points="83.1,34.1 104.0,32.5 104.0,35.3 86.3,36.9" fill="#050000" opacity="0.9" filter="url(#b2)"/><polygon points="80.0,54.3 86.3,49.5 92.6,58.2 83.9,57.4" fill="#050000" opacity="0.9" filter="url(#b2)"/><polyline points="50.8,7.0 61.1,16.4 65.8,21.1 72.1,14.8 80.0,3.8" fill="none" stroke="#040000" stroke-width="2.6" stroke-linecap="round" stroke-linejoin="round" opacity="0.6" filter="url(#b15)"/><polyline points="86.3,-0.1 83.9,14.8 92.6,25.9 104.0,23.5" fill="none" stroke="#040000" stroke-width="2.6" stroke-linecap="round" stroke-linejoin="round" opacity="0.6" filter="url(#b15)"/><polyline points="65.8,21.1 61.9,31.4" fill="none" stroke="#040000" stroke-width="2.6" stroke-linecap="round" stroke-linejoin="round" opacity="0.6" filter="url(#b15)"/><polyline points="78.4,36.9 80.8,44.8 80.0,54.3" fill="none" stroke="#040000" stroke-width="2.6" stroke-linecap="round" stroke-linejoin="round" opacity="0.6" filter="url(#b15)"/><polyline points="35.8,25.1 45.3,33.8 54.0,43.2" fill="none" stroke="#040000" stroke-width="2.6" stroke-linecap="round" stroke-linejoin="round" opacity="0.6" filter="url(#b15)"/><polyline points="92.6,25.9 91.0,33.8" fill="none" stroke="#040000" stroke-width="2.6" stroke-linecap="round" stroke-linejoin="round" opacity="0.6" filter="url(#b15)"/></g><g filter="url(#b0)"><polygon points="-0.4,13.3 21.6,3.8 45.3,1.4 50.0,7.0 43.7,19.6 29.5,29.0 16.9,38.8 2.7,44.8 -0.4,36.9" fill="url(#pYs)"/><polygon points="-0.4,65.3 5.9,51.1 13.8,39.3 18.5,44.8 29.5,51.9 45.3,50.3 61.1,48.7 73.7,51.9 80.0,60.6 92.6,61.4 104.0,67.7 104.0,83.9 -0.4,83.9" fill="url(#pYm)"/><polygon points="-0.4,66.9 16.9,57.4 37.4,59.0 61.1,60.6 80.0,65.3 104.0,71.6 104.0,83.9 -0.4,83.9" fill="url(#pYd)"/><polygon points="-0.4,44.8 7.5,36.9 14.6,40.1 16.9,49.5 15.3,63.7 7.5,73.2 -0.4,76.3" fill="url(#pYd)"/></g>
<rect x="2.6" y="78.9" width="13.8" height="2.9" fill="#fff"/>
</g>
<text x="306.5" y="602.9" font-size="8.9" text-anchor="middle" fill="#3a3a3a">Baseline</text>
<clipPath id="c011"><rect width="103.5" height="83.5"/></clipPath>
<g transform="translate(359.5,605.5)" clip-path="url(#c011)"><rect width="103.5" height="83.5" fill="#030303"/>
<g filter="url(#txA2)"><polygon points="45.3,-0.1 104.0,-0.1 104.0,83.9 34.3,83.9 25.6,76.3 22.9,63.7 25.1,52.7 31.4,44.8 37.7,36.9 40.9,25.9 43.7,16.4 46.6,7.0" fill="url(#pR1w)"/><polygon points="72.1,36.9 81.6,35.3 83.1,44.8 75.3,46.4" fill="#050000" opacity="0.85" filter="url(#b2)"/><polygon points="57.9,10.1 65.8,8.5 67.4,18.0 59.5,19.6" fill="#050000" opacity="0.85" filter="url(#b2)"/><polygon points="94.2,27.5 104.0,25.9 104.0,44.8 95.8,43.2" fill="#050000" opacity="0.85" filter="url(#b2)"/><polygon points="35.8,63.7 45.3,60.6 50.0,71.6 39.0,74.8" fill="#050000" opacity="0.85" filter="url(#b2)"/><polygon points="80.0,60.6 89.4,57.4 92.6,66.9 83.1,70.0" fill="#050000" opacity="0.85" filter="url(#b2)"/></g><g filter="url(#b0)"><polygon points="-0.4,-0.1 50.0,-0.1 45.3,13.3 39.3,29.0 33.0,41.6 25.1,51.1 21.6,63.7 23.5,73.2 13.8,76.3 -0.4,60.6" fill="url(#pYm)"/><polygon points="12.2,35.3 21.6,29.0 31.9,27.5 35.1,33.8 31.9,43.2 26.4,51.1 24.0,63.7 16.9,66.9 9.0,59.0 4.3,49.5 5.9,41.6" fill="url(#pYd)"/><polygon points="45.3,-0.1 104.0,-0.1 104.0,83.9 34.3,83.9 25.6,76.3 22.9,63.7 25.1,52.7 31.4,44.8 37.7,36.9 40.9,25.9 43.7,16.4 46.6,7.0" fill="url(#pYs)"/><g transform="translate(5,9)"><polygon points="45.3,-0.1 104.0,-0.1 104.0,83.9 34.3,83.9 25.6,76.3 22.9,63.7 25.1,52.7 31.4,44.8 37.7,36.9 40.9,25.9 43.7,16.4 46.6,7.0" fill="url(#pCs)"/></g><g transform="translate(3,5)"><polygon points="-0.4,-0.1 50.0,-0.1 45.3,13.3 39.3,29.0 33.0,41.6 25.1,51.1 21.6,63.7 23.5,73.2 13.8,76.3 -0.4,60.6" fill="url(#pCs)"/></g><ellipse cx="81.6" cy="66.9" rx="1.6" ry="4.1" fill="#3cc6d6" opacity="0.9" transform="rotate(15 81.6 66.9)"/><ellipse cx="50.0" cy="18.0" rx="1.3" ry="3.5" fill="#2fa8b8" opacity="0.8" transform="rotate(30 50.0 18.0)"/></g>
<rect x="2.6" y="78.9" width="13.8" height="2.9" fill="#fff"/>
</g>
<text x="411.2" y="602.9" font-size="8.9" text-anchor="middle" fill="#3a3a3a">W8</text>
<rect x="251.5" y="701.5" width="215.0" height="100.5" fill="#fff" stroke="#2b2b2b" stroke-width="0.7"/>
<clipPath id="c110"><rect width="103.0" height="83.5"/></clipPath>
<g transform="translate(255.0,715.5)" clip-path="url(#c110)"><rect width="103.0" height="83.5" fill="#030303"/>
<g filter="url(#txC)"><polygon points="-2.0,-2.5 108.4,-2.5 108.4,85.8 -2.0,85.8" fill="url(#pR2)"/><polygon points="-0.4,-0.1 5.1,-0.1 5.9,16.4 10.6,29.0 15.3,49.5 17.7,62.1 29.5,59.8 39.3,63.7 38.2,83.9 -0.4,83.9" fill="url(#pR2d)" filter="url(#b1)"/><polygon points="-0.4,-0.1 5.1,-0.1 5.9,16.4 10.6,29.0 15.3,49.5 17.7,62.1 29.5,59.8 39.3,63.7 38.2,83.9 -0.4,83.9" fill="#120203" opacity="0.45" filter="url(#b2)"/><polygon points="58.7,21.1 65.8,24.3 73.7,38.5 83.1,49.5 92.6,63.7 104.0,71.6 104.0,83.9 86.3,83.9 76.8,65.3 67.4,49.5 61.1,35.3" fill="url(#pR2d)" filter="url(#b1)"/><polygon points="58.7,21.1 65.8,24.3 73.7,38.5 83.1,49.5 92.6,63.7 104.0,71.6 104.0,83.9 86.3,83.9 76.8,65.3 67.4,49.5 61.1,35.3" fill="#120203" opacity="0.45" filter="url(#b2)"/><polygon points="83.1,44.8 104.0,43.2 104.0,60.6 92.6,59.3" fill="url(#pR2d)" filter="url(#b1)"/><polygon points="83.1,44.8 104.0,43.2 104.0,60.6 92.6,59.3" fill="#120203" opacity="0.45" filter="url(#b2)"/><polygon points="43.7,-0.1 50.3,-0.1 50.3,7.0 45.3,5.7" fill="url(#pR2d)" filter="url(#b1)"/><polygon points="43.7,-0.1 50.3,-0.1 50.3,7.0 45.3,5.7" fill="#120203" opacity="0.45" filter="url(#b2)"/><polygon points="28.0,40.1 35.8,43.2 35.1,49.5 29.5,48.0" fill="url(#pR2d)" filter="url(#b1)"/><polygon points="28.0,40.1 35.8,43.2 35.1,49.5 29.5,48.0" fill="#120203" opacity="0.45" filter="url(#b2)"/><polygon points="86.3,14.8 98.9,13.3 102.1,21.1 91.0,23.5" fill="url(#pR2d)" filter="url(#b1)"/><polygon points="86.3,14.8 98.9,13.3 102.1,21.1 91.0,23.5" fill="#120203" opacity="0.45" filter="url(#b2)"/><ellipse cx="31.9" cy="42.4" rx="2.2" ry="3.5" fill="#140303" filter="url(#b2)"/><ellipse cx="53.2" cy="33.8" rx="1.9" ry="4.1" fill="#140303" filter="url(#b2)"/><ellipse cx="72.1" cy="7.0" rx="4.1" ry="1.4" fill="#140303" filter="url(#b2)"/><ellipse cx="50.0" cy="13.3" rx="1.9" ry="1.4" fill="#140303" filter="url(#b2)"/></g><g filter="url(#b0)"><ellipse cx="17.2" cy="9.3" rx="1.33" ry="0.83" fill="#dccb1f" opacity="0.92" transform="rotate(3 17.2 9.3)"/><ellipse cx="28.0" cy="12.5" rx="1.15" ry="0.96" fill="#dccb1f" opacity="0.92" transform="rotate(24 28.0 12.5)"/><ellipse cx="9.4" cy="18.0" rx="1.39" ry="0.99" fill="#dccb1f" opacity="0.92" transform="rotate(145 9.4 18.0)"/><ellipse cx="17.2" cy="17.2" rx="1.24" ry="0.92" fill="#dccb1f" opacity="0.92" transform="rotate(20 17.2 17.2)"/><ellipse cx="19.6" cy="33.0" rx="1.43" ry="0.71" fill="#dccb1f" opacity="0.92" transform="rotate(42 19.6 33.0)"/><ellipse cx="13.8" cy="39.3" rx="1.39" ry="0.78" fill="#dccb1f" opacity="0.92" transform="rotate(80 13.8 39.3)"/><ellipse cx="27.2" cy="21.1" rx="1.30" ry="0.85" fill="#dccb1f" opacity="0.92" transform="rotate(5 27.2 21.1)"/><ellipse cx="98.9" cy="23.5" rx="1.18" ry="0.71" fill="#dccb1f" opacity="0.92" transform="rotate(2 98.9 23.5)"/></g>
<rect x="2.6" y="78.9" width="13.8" height="2.9" fill="#fff"/>
</g>
<text x="306.5" y="712.6" font-size="8.9" text-anchor="middle" fill="#3a3a3a">Baseline</text>
<clipPath id="c111"><rect width="103.5" height="83.5"/></clipPath>
<g transform="translate(359.5,715.5)" clip-path="url(#c111)"><rect width="103.5" height="83.5" fill="#030303"/>
<g filter="url(#txC2)"><polygon points="-2.0,-2.5 108.4,-2.5 108.4,85.8 -2.0,85.8" fill="url(#pR2w)"/><polygon points="-0.4,7.0 16.9,7.0 29.5,16.4 39.3,24.3 50.0,22.7 53.5,32.2 50.3,43.2 37.7,44.8 26.7,49.5 13.8,51.4 -0.4,49.5" fill="#070101" opacity="0.96" filter="url(#b15)"/><polygon points="50.0,22.7 64.2,25.9 73.7,32.2 80.3,41.6 86.6,57.4 92.9,65.3 99.2,76.3 104.0,83.9 86.3,83.9 77.1,73.2 72.4,60.6 64.2,49.5 55.1,41.6" fill="#070101" opacity="0.96" filter="url(#b15)"/><polygon points="95.8,-0.1 104.0,-0.1 104.0,16.4 98.9,13.3" fill="#070101" opacity="0.96" filter="url(#b15)"/></g><g filter="url(#b0)"><circle cx="58.7" cy="25.1" r="2.2" fill="#e0242a" opacity="0.85"/><circle cx="22.4" cy="44.0" r="2.2" fill="#e0242a" opacity="0.85"/><circle cx="4.0" cy="57.1" r="2.2" fill="#e0242a" opacity="0.85"/><circle cx="34.3" cy="8.5" r="2.2" fill="#e0242a" opacity="0.85"/><circle cx="45.3" cy="49.5" r="2.2" fill="#e0242a" opacity="0.85"/><circle cx="30.3" cy="44.8" r="2.2" fill="#e0242a" opacity="0.85"/><polygon points="50.0,22.7 64.2,25.9 73.7,32.2 80.3,41.6 86.6,57.4 92.9,65.3 99.2,76.3 104.0,83.9 86.3,83.9 77.1,73.2 72.4,60.6 64.2,49.5 55.1,41.6" fill="url(#pCs)"/><polygon points="-2.0,-2.5 108.4,-2.5 108.4,85.8 -2.0,85.8" fill="url(#pCvs)"/><ellipse cx="4.0" cy="2.2" rx="1.76" ry="1.14" fill="#dccb1f" opacity="0.92" transform="rotate(75 4.0 2.2)"/><ellipse cx="16.9" cy="18.0" rx="1.44" ry="1.01" fill="#dccb1f" opacity="0.92" transform="rotate(18 16.9 18.0)"/><ellipse cx="9.8" cy="21.1" rx="1.30" ry="0.88" fill="#dccb1f" opacity="0.92" transform="rotate(174 9.8 21.1)"/><ellipse cx="12.2" cy="23.5" rx="1.45" ry="0.95" fill="#dccb1f" opacity="0.92" transform="rotate(83 12.2 23.5)"/><ellipse cx="2.7" cy="26.7" rx="1.72" ry="1.20" fill="#dccb1f" opacity="0.92" transform="rotate(96 2.7 26.7)"/><ellipse cx="5.1" cy="31.4" rx="1.72" ry="1.06" fill="#dccb1f" opacity="0.92" transform="rotate(140 5.1 31.4)"/><ellipse cx="24.8" cy="35.3" rx="1.36" ry="1.08" fill="#dccb1f" opacity="0.92" transform="rotate(73 24.8 35.3)"/><ellipse cx="16.9" cy="43.2" rx="1.68" ry="0.98" fill="#dccb1f" opacity="0.92" transform="rotate(58 16.9 43.2)"/><ellipse cx="11.4" cy="45.6" rx="1.38" ry="0.97" fill="#dccb1f" opacity="0.92" transform="rotate(13 11.4 45.6)"/><ellipse cx="20.1" cy="47.2" rx="1.40" ry="1.07" fill="#dccb1f" opacity="0.92" transform="rotate(41 20.1 47.2)"/><ellipse cx="12.2" cy="56.6" rx="1.74" ry="0.85" fill="#dccb1f" opacity="0.92" transform="rotate(1 12.2 56.6)"/><ellipse cx="24.8" cy="62.1" rx="1.59" ry="0.82" fill="#dccb1f" opacity="0.92" transform="rotate(51 24.8 62.1)"/><ellipse cx="80.0" cy="5.4" rx="1.35" ry="1.20" fill="#dccb1f" opacity="0.92" transform="rotate(161 80.0 5.4)"/><ellipse cx="45.3" cy="30.6" rx="1.44" ry="1.21" fill="#dccb1f" opacity="0.92" transform="rotate(65 45.3 30.6)"/><ellipse cx="53.2" cy="35.3" rx="1.38" ry="1.12" fill="#dccb1f" opacity="0.92" transform="rotate(38 53.2 35.3)"/><ellipse cx="54.8" cy="40.9" rx="1.28" ry="1.07" fill="#dccb1f" opacity="0.92" transform="rotate(128 54.8 40.9)"/><ellipse cx="65.8" cy="30.6" rx="1.50" ry="1.21" fill="#dccb1f" opacity="0.92" transform="rotate(114 65.8 30.6)"/><ellipse cx="67.4" cy="36.9" rx="1.32" ry="1.05" fill="#dccb1f" opacity="0.92" transform="rotate(87 67.4 36.9)"/><ellipse cx="68.9" cy="41.6" rx="1.52" ry="1.00" fill="#dccb1f" opacity="0.92" transform="rotate(156 68.9 41.6)"/><ellipse cx="62.6" cy="43.2" rx="1.33" ry="1.01" fill="#dccb1f" opacity="0.92" transform="rotate(59 62.6 43.2)"/><ellipse cx="65.8" cy="51.9" rx="1.68" ry="1.01" fill="#dccb1f" opacity="0.92" transform="rotate(25 65.8 51.9)"/><ellipse cx="69.7" cy="55.0" rx="1.52" ry="0.89" fill="#dccb1f" opacity="0.92" transform="rotate(44 69.7 55.0)"/><ellipse cx="73.7" cy="48.7" rx="1.36" ry="1.11" fill="#dccb1f" opacity="0.92" transform="rotate(63 73.7 48.7)"/><ellipse cx="76.8" cy="50.3" rx="1.38" ry="1.09" fill="#dccb1f" opacity="0.92" transform="rotate(42 76.8 50.3)"/><ellipse cx="84.7" cy="52.7" rx="1.63" ry="1.08" fill="#dccb1f" opacity="0.92" transform="rotate(129 84.7 52.7)"/><ellipse cx="73.7" cy="59.8" rx="1.78" ry="1.15" fill="#dccb1f" opacity="0.92" transform="rotate(19 73.7 59.8)"/><ellipse cx="67.4" cy="63.7" rx="1.41" ry="1.02" fill="#dccb1f" opacity="0.92" transform="rotate(175 67.4 63.7)"/><ellipse cx="65.8" cy="74.8" rx="1.66" ry="0.97" fill="#dccb1f" opacity="0.92" transform="rotate(143 65.8 74.8)"/><ellipse cx="92.6" cy="74.0" rx="1.32" ry="0.91" fill="#dccb1f" opacity="0.92" transform="rotate(144 92.6 74.0)"/><ellipse cx="95.0" cy="76.3" rx="1.46" ry="0.89" fill="#dccb1f" opacity="0.92" transform="rotate(160 95.0 76.3)"/><ellipse cx="98.9" cy="81.1" rx="1.30" ry="0.83" fill="#dccb1f" opacity="0.92" transform="rotate(15 98.9 81.1)"/></g>
<rect x="2.6" y="78.9" width="13.8" height="2.9" fill="#fff"/>
</g>
<text x="411.2" y="712.6" font-size="8.9" text-anchor="middle" fill="#3a3a3a">W8</text>
<rect x="251.5" y="805.5" width="215.0" height="89.70000000000005" fill="#fff" stroke="#2b2b2b" stroke-width="0.7"/>
<clipPath id="c210"><rect width="103.0" height="83.5"/></clipPath>
<g transform="translate(255.0,808.0)" clip-path="url(#c210)"><rect width="103.0" height="83.5" fill="#030303"/>
<polygon points="-0.4,0.4 21.6,0.4 23.2,9.0 16.9,15.3 4.3,13.8 -0.4,16.9" fill="#2e0607" opacity="0.45" filter="url(#b3)"/><polygon points="28.0,4.3 39.0,1.2 50.0,7.5 51.6,21.6 39.0,24.8 29.5,20.1" fill="#2e0607" opacity="0.45" filter="url(#b3)"/><polygon points="39.3,18.5 61.1,16.9 69.3,29.5 68.9,50.0 64.2,61.1 51.6,62.6 40.6,51.6 37.4,34.3" fill="#2e0607" opacity="0.45" filter="url(#b3)"/><polygon points="72.1,39.0 86.3,35.8 98.9,39.0 98.9,51.6 86.3,54.8 73.7,51.6" fill="#2e0607" opacity="0.45" filter="url(#b3)"/><polygon points="42.1,59.5 64.2,57.9 80.0,64.2 83.1,84.4 29.5,84.4 31.1,70.5" fill="#2e0607" opacity="0.45" filter="url(#b3)"/><polygon points="67.4,13.8 80.0,12.2 80.0,23.2 68.9,24.8" fill="#2e0607" opacity="0.45" filter="url(#b3)"/><polygon points="-0.4,67.4 15.3,67.4 16.9,76.8 -0.4,80.0" fill="#2e0607" opacity="0.45" filter="url(#b3)"/><polygon points="86.3,57.9 98.9,57.9 98.9,70.5 87.9,70.5" fill="#2e0607" opacity="0.45" filter="url(#b3)"/><g filter="url(#txB)"><polygon points="-0.4,0.4 21.6,0.4 23.2,9.0 16.9,15.3 4.3,13.8 -0.4,16.9" fill="url(#pK3)" opacity="0.95"/><polygon points="28.0,4.3 39.0,1.2 50.0,7.5 51.6,21.6 39.0,24.8 29.5,20.1" fill="url(#pK3)" opacity="0.95"/><polygon points="39.3,18.5 61.1,16.9 69.3,29.5 68.9,50.0 64.2,61.1 51.6,62.6 40.6,51.6 37.4,34.3" fill="url(#pK3)" opacity="0.95"/><polygon points="72.1,39.0 86.3,35.8 98.9,39.0 98.9,51.6 86.3,54.8 73.7,51.6" fill="url(#pK3)" opacity="0.95"/><polygon points="42.1,59.5 64.2,57.9 80.0,64.2 83.1,84.4 29.5,84.4 31.1,70.5" fill="url(#pK3)" opacity="0.95"/><polygon points="67.4,13.8 80.0,12.2 80.0,23.2 68.9,24.8" fill="url(#pK3)" opacity="0.95"/><polygon points="-0.4,67.4 15.3,67.4 16.9,76.8 -0.4,80.0" fill="url(#pK3)" opacity="0.95"/><polygon points="86.3,57.9 98.9,57.9 98.9,70.5 87.9,70.5" fill="url(#pK3)" opacity="0.95"/></g><g filter="url(#b0)"><ellipse cx="28.0" cy="54.8" rx="1.15" ry="1.15" fill="#dccb1f" opacity="0.92" transform="rotate(47 28.0 54.8)"/><ellipse cx="33.5" cy="51.6" rx="1.02" ry="1.02" fill="#dccb1f" opacity="0.92" transform="rotate(147 33.5 51.6)"/><ellipse cx="41.4" cy="70.5" rx="1.06" ry="1.06" fill="#dccb1f" opacity="0.92" transform="rotate(40 41.4 70.5)"/><ellipse cx="72.1" cy="10.6" rx="1.04" ry="1.04" fill="#dccb1f" opacity="0.92" transform="rotate(66 72.1 10.6)"/><ellipse cx="1.2" cy="39.0" rx="1.25" ry="1.25" fill="#dccb1f" opacity="0.92" transform="rotate(90 1.2 39.0)"/><ellipse cx="8.2" cy="60.3" rx="1.21" ry="1.21" fill="#dccb1f" opacity="0.92" transform="rotate(97 8.2 60.3)"/><circle cx="13.8" cy="13.0" r="3.2" fill="none" stroke="#5fd0dc" stroke-width="1"/><circle cx="33.5" cy="22.4" r="3.4" fill="none" stroke="#5fd0dc" stroke-width="1"/><circle cx="73.7" cy="5.9" r="3.4" fill="none" stroke="#5fd0dc" stroke-width="1"/><circle cx="43.7" cy="45.3" r="4.2" fill="none" stroke="#5fd0dc" stroke-width="1"/><circle cx="58.7" cy="39.8" r="3" fill="none" stroke="#5fd0dc" stroke-width="1"/><circle cx="92.6" cy="43.7" r="3.6" fill="none" stroke="#5fd0dc" stroke-width="1"/><circle cx="92.6" cy="62.6" r="3.6" fill="none" stroke="#5fd0dc" stroke-width="1"/><circle cx="78.4" cy="40.6" r="3" fill="none" stroke="#5fd0dc" stroke-width="1"/><circle cx="25.6" cy="58.7" r="4" fill="none" stroke="#5fd0dc" stroke-width="1"/><circle cx="36.6" cy="75.3" r="5" fill="none" stroke="#5fd0dc" stroke-width="1"/><circle cx="51.6" cy="62.6" r="4" fill="none" stroke="#5fd0dc" stroke-width="1"/><circle cx="65.8" cy="58.7" r="2.6" fill="none" stroke="#5fd0dc" stroke-width="1"/><circle cx="75.3" cy="50.0" r="3" fill="none" stroke="#5fd0dc" stroke-width="1"/><circle cx="33.5" cy="22.4" r="2.4" fill="#8fe4ea"/><circle cx="92.6" cy="43.7" r="2.4" fill="#8fe4ea"/><circle cx="92.6" cy="62.6" r="2.4" fill="#8fe4ea"/><polygon points="-2.0,-2.0 108.4,-2.0 108.4,86.3 -2.0,86.3" fill="url(#pYs)" opacity="0.28"/></g>
<rect x="2.6" y="78.9" width="13.8" height="2.9" fill="#fff"/>
</g>
<clipPath id="c211"><rect width="103.5" height="83.5"/></clipPath>
<g transform="translate(359.5,808.0)" clip-path="url(#c211)"><rect width="103.5" height="83.5" fill="#030303"/>
<polygon points="29.5,0.4 86.3,0.4 92.6,10.6 86.3,23.2 72.1,21.6 61.1,15.3 50.0,23.2 37.4,21.6 29.5,12.2" fill="#3a0708" opacity="0.6" filter="url(#b2)"/><polygon points="10.6,10.6 29.5,9.0 39.0,23.2 50.0,29.5 53.2,45.3 45.3,51.6 29.5,50.0 16.9,45.3 10.6,29.5" fill="#3a0708" opacity="0.6" filter="url(#b2)"/><polygon points="61.1,24.8 72.1,21.6 86.3,24.8 95.8,35.8 92.6,48.5 80.0,51.6 65.8,46.9 57.9,37.4" fill="#3a0708" opacity="0.6" filter="url(#b2)"/><polygon points="2.7,54.8 16.9,50.0 45.3,53.2 57.9,61.1 61.1,84.4 2.7,84.4" fill="#3a0708" opacity="0.6" filter="url(#b2)"/><polygon points="73.7,61.1 86.3,56.3 104.0,57.9 104.0,84.4 67.4,84.4" fill="#3a0708" opacity="0.6" filter="url(#b2)"/><polygon points="2.7,15.3 9.0,13.8 9.0,21.6 2.7,21.6" fill="#3a0708" opacity="0.6" filter="url(#b2)"/><g filter="url(#txB2)"><polygon points="29.5,0.4 86.3,0.4 92.6,10.6 86.3,23.2 72.1,21.6 61.1,15.3 50.0,23.2 37.4,21.6 29.5,12.2" fill="url(#pK3w)"/><polygon points="10.6,10.6 29.5,9.0 39.0,23.2 50.0,29.5 53.2,45.3 45.3,51.6 29.5,50.0 16.9,45.3 10.6,29.5" fill="url(#pK3w)"/><polygon points="61.1,24.8 72.1,21.6 86.3,24.8 95.8,35.8 92.6,48.5 80.0,51.6 65.8,46.9 57.9,37.4" fill="url(#pK3w)"/><polygon points="2.7,54.8 16.9,50.0 45.3,53.2 57.9,61.1 61.1,84.4 2.7,84.4" fill="url(#pK3w)"/><polygon points="73.7,61.1 86.3,56.3 104.0,57.9 104.0,84.4 67.4,84.4" fill="url(#pK3w)"/><polygon points="2.7,15.3 9.0,13.8 9.0,21.6 2.7,21.6" fill="url(#pK3w)"/><g transform="translate(6,4)" opacity="0.5"><polygon points="29.5,0.4 86.3,0.4 92.6,10.6 86.3,23.2 72.1,21.6 61.1,15.3 50.0,23.2 37.4,21.6 29.5,12.2" fill="url(#pK3c)"/></g><g transform="translate(6,4)" opacity="0.95"><polygon points="10.6,10.6 29.5,9.0 39.0,23.2 50.0,29.5 53.2,45.3 45.3,51.6 29.5,50.0 16.9,45.3 10.6,29.5" fill="url(#pK3c)"/></g><g transform="translate(6,4)" opacity="0.5"><polygon points="61.1,24.8 72.1,21.6 86.3,24.8 95.8,35.8 92.6,48.5 80.0,51.6 65.8,46.9 57.9,37.4" fill="url(#pK3c)"/></g><g transform="translate(6,4)" opacity="0.95"><polygon points="2.7,54.8 16.9,50.0 45.3,53.2 57.9,61.1 61.1,84.4 2.7,84.4" fill="url(#pK3c)"/></g><g transform="translate(6,4)" opacity="0.95"><polygon points="73.7,61.1 86.3,56.3 104.0,57.9 104.0,84.4 67.4,84.4" fill="url(#pK3c)"/></g><g transform="translate(6,4)" opacity="0.5"><polygon points="2.7,15.3 9.0,13.8 9.0,21.6 2.7,21.6" fill="url(#pK3c)"/></g></g><g filter="url(#b0)"><ellipse cx="15.7" cy="4.0" rx="1.51" ry="1.51" fill="#f0de22" opacity="0.92" transform="rotate(62 15.7 4.0)"/><ellipse cx="6.7" cy="14.6" rx="1.16" ry="1.16" fill="#f0de22" opacity="0.92" transform="rotate(45 6.7 14.6)"/><ellipse cx="76.0" cy="5.1" rx="1.25" ry="1.25" fill="#f0de22" opacity="0.92" transform="rotate(18 76.0 5.1)"/><ellipse cx="94.5" cy="13.5" rx="1.41" ry="1.41" fill="#f0de22" opacity="0.92" transform="rotate(20 94.5 13.5)"/><ellipse cx="37.4" cy="21.6" rx="1.30" ry="1.30" fill="#f0de22" opacity="0.92" transform="rotate(108 37.4 21.6)"/><ellipse cx="40.9" cy="28.3" rx="1.37" ry="1.37" fill="#f0de22" opacity="0.92" transform="rotate(165 40.9 28.3)"/><ellipse cx="46.9" cy="40.6" rx="1.47" ry="1.47" fill="#f0de22" opacity="0.92" transform="rotate(69 46.9 40.6)"/><ellipse cx="82.4" cy="31.4" rx="1.16" ry="1.16" fill="#f0de22" opacity="0.92" transform="rotate(68 82.4 31.4)"/><ellipse cx="21.3" cy="60.3" rx="1.50" ry="1.50" fill="#f0de22" opacity="0.92" transform="rotate(159 21.3 60.3)"/><ellipse cx="42.9" cy="59.5" rx="1.42" ry="1.42" fill="#f0de22" opacity="0.92" transform="rotate(133 42.9 59.5)"/><ellipse cx="16.6" cy="68.2" rx="1.18" ry="1.18" fill="#f0de22" opacity="0.92" transform="rotate(98 16.6 68.2)"/><ellipse cx="56.0" cy="60.3" rx="1.35" ry="1.35" fill="#f0de22" opacity="0.92" transform="rotate(113 56.0 60.3)"/><ellipse cx="68.2" cy="58.2" rx="1.28" ry="1.28" fill="#f0de22" opacity="0.92" transform="rotate(60 68.2 58.2)"/><ellipse cx="70.5" cy="74.5" rx="1.50" ry="1.50" fill="#f0de22" opacity="0.92" transform="rotate(27 70.5 74.5)"/><ellipse cx="40.9" cy="79.7" rx="1.23" ry="1.23" fill="#f0de22" opacity="0.92" transform="rotate(151 40.9 79.7)"/><ellipse cx="4.3" cy="59.2" rx="1.35" ry="1.35" fill="#f0de22" opacity="0.92" transform="rotate(152 4.3 59.2)"/><ellipse cx="57.9" cy="64.2" rx="1.38" ry="1.38" fill="#f0de22" opacity="0.92" transform="rotate(162 57.9 64.2)"/><ellipse cx="73.7" cy="74.0" rx="1.32" ry="1.32" fill="#f0de22" opacity="0.92" transform="rotate(169 73.7 74.0)"/><ellipse cx="70.5" cy="74.0" rx="1.16" ry="1.16" fill="#f0de22" opacity="0.92" transform="rotate(82 70.5 74.0)"/><ellipse cx="95.8" cy="53.2" rx="1.55" ry="1.55" fill="#f0de22" opacity="0.92" transform="rotate(3 95.8 53.2)"/><ellipse cx="7.5" cy="58.7" rx="1.50" ry="1.50" fill="#f0de22" opacity="0.92" transform="rotate(46 7.5 58.7)"/><ellipse cx="18.5" cy="67.4" rx="1.43" ry="1.43" fill="#f0de22" opacity="0.92" transform="rotate(45 18.5 67.4)"/></g>
<rect x="2.6" y="78.9" width="13.8" height="2.9" fill="#fff"/>
</g>
<rect x="470.0" y="592.5" width="214.5" height="103.5" fill="#fff" stroke="#2b2b2b" stroke-width="0.7"/>
<clipPath id="c020"><rect width="103.0" height="83.5"/></clipPath>
<g transform="translate(473.0,605.5)" clip-path="url(#c020)"><rect width="103.0" height="83.5" fill="#030303"/>
<g filter="url(#txA)"><polygon points="52.4,-0.1 104.0,-0.1 104.0,55.0 98.9,56.6 92.6,58.2 83.9,57.4 78.4,52.7 77.6,46.4 72.1,43.2 65.8,44.8 61.1,41.6 56.7,36.1 54.0,43.2 50.0,48.0 40.6,49.5 31.9,46.4 28.0,38.5 29.5,29.8 35.8,25.1 45.3,24.3 48.5,18.0 50.8,7.0" fill="url(#pR1)"/><polygon points="14.6,54.3 16.9,48.0 23.2,44.8 28.0,48.0 27.2,52.7 21.6,58.2 16.1,59.8" fill="url(#pR1)"/><polygon points="56.7,36.1 61.1,31.4 72.1,29.8 83.1,33.8 76.8,36.9 65.8,38.8 61.1,41.6" fill="#050000" opacity="0.9" filter="url(#b2)"/><polygon points="83.1,34.1 104.0,32.5 104.0,35.3 86.3,36.9" fill="#050000" opacity="0.9" filter="url(#b2)"/><polygon points="80.0,54.3 86.3,49.5 92.6,58.2 83.9,57.4" fill="#050000" opacity="0.9" filter="url(#b2)"/><polyline points="50.8,7.0 61.1,16.4 65.8,21.1 72.1,14.8 80.0,3.8" fill="none" stroke="#040000" stroke-width="2.6" stroke-linecap="round" stroke-linejoin="round" opacity="0.6" filter="url(#b15)"/><polyline points="86.3,-0.1 83.9,14.8 92.6,25.9 104.0,23.5" fill="none" stroke="#040000" stroke-width="2.6" stroke-linecap="round" stroke-linejoin="round" opacity="0.6" filter="url(#b15)"/><polyline points="65.8,21.1 61.9,31.4" fill="none" stroke="#040000" stroke-width="2.6" stroke-linecap="round" stroke-linejoin="round" opacity="0.6" filter="url(#b15)"/><polyline points="78.4,36.9 80.8,44.8 80.0,54.3" fill="none" stroke="#040000" stroke-width="2.6" stroke-linecap="round" stroke-linejoin="round" opacity="0.6" filter="url(#b15)"/><polyline points="35.8,25.1 45.3,33.8 54.0,43.2" fill="none" stroke="#040000" stroke-width="2.6" stroke-linecap="round" stroke-linejoin="round" opacity="0.6" filter="url(#b15)"/><polyline points="92.6,25.9 91.0,33.8" fill="none" stroke="#040000" stroke-width="2.6" stroke-linecap="round" stroke-linejoin="round" opacity="0.6" filter="url(#b15)"/></g><g filter="url(#b0)"><polygon points="-0.4,13.3 21.6,3.8 45.3,1.4 50.0,7.0 43.7,19.6 29.5,29.0 16.9,38.8 2.7,44.8 -0.4,36.9" fill="url(#pYs)"/><polygon points="-0.4,65.3 5.9,51.1 13.8,39.3 18.5,44.8 29.5,51.9 45.3,50.3 61.1,48.7 73.7,51.9 80.0,60.6 92.6,61.4 104.0,67.7 104.0,83.9 -0.4,83.9" fill="url(#pYm)"/><polygon points="-0.4,66.9 16.9,57.4 37.4,59.0 61.1,60.6 80.0,65.3 104.0,71.6 104.0,83.9 -0.4,83.9" fill="url(#pYd)"/><polygon points="-0.4,44.8 7.5,36.9 14.6,40.1 16.9,49.5 15.3,63.7 7.5,73.2 -0.4,76.3" fill="url(#pYd)"/></g>
<rect x="2.6" y="78.9" width="13.8" height="2.9" fill="#fff"/>
</g>
<text x="524.5" y="602.9" font-size="8.9" text-anchor="middle" fill="#3a3a3a">Baseline</text>
<clipPath id="c021"><rect width="103.0" height="83.5"/></clipPath>
<g transform="translate(578.0,605.5)" clip-path="url(#c021)"><rect width="103.0" height="83.5" fill="#030303"/>
<g filter="url(#txA2)"><polygon points="45.3,-0.1 104.0,-0.1 104.0,83.9 34.3,83.9 25.6,76.3 22.9,63.7 25.1,52.7 31.4,44.8 37.7,36.9 40.9,25.9 43.7,16.4 46.6,7.0" fill="url(#pR1p)"/><polygon points="72.1,36.9 81.6,35.3 83.1,44.8 75.3,46.4" fill="#050000" opacity="0.85" filter="url(#b2)"/><polygon points="57.9,10.1 65.8,8.5 67.4,18.0 59.5,19.6" fill="#050000" opacity="0.85" filter="url(#b2)"/><polygon points="94.2,27.5 104.0,25.9 104.0,44.8 95.8,43.2" fill="#050000" opacity="0.85" filter="url(#b2)"/><polygon points="35.8,63.7 45.3,60.6 50.0,71.6 39.0,74.8" fill="#050000" opacity="0.85" filter="url(#b2)"/><polygon points="80.0,60.6 89.4,57.4 92.6,66.9 83.1,70.0" fill="#050000" opacity="0.85" filter="url(#b2)"/></g><g filter="url(#b0)"><polygon points="-0.4,-0.1 50.0,-0.1 45.3,13.3 39.3,29.0 33.0,41.6 25.1,51.1 21.6,63.7 23.5,73.2 13.8,76.3 -0.4,60.6" fill="url(#pYm)"/><polygon points="12.2,35.3 21.6,29.0 31.9,27.5 35.1,33.8 31.9,43.2 26.4,51.1 24.0,63.7 16.9,66.9 9.0,59.0 4.3,49.5 5.9,41.6" fill="url(#pYd)"/><polygon points="45.3,-0.1 104.0,-0.1 104.0,83.9 34.3,83.9 25.6,76.3 22.9,63.7 25.1,52.7 31.4,44.8 37.7,36.9 40.9,25.9 43.7,16.4 46.6,7.0" fill="url(#pYs)"/><g transform="translate(5,9)"><polygon points="45.3,-0.1 104.0,-0.1 104.0,83.9 34.3,83.9 25.6,76.3 22.9,63.7 25.1,52.7 31.4,44.8 37.7,36.9 40.9,25.9 43.7,16.4 46.6,7.0" fill="url(#pCvs)"/></g></g>
<rect x="2.6" y="78.9" width="13.8" height="2.9" fill="#fff"/>
</g>
<text x="629.5" y="602.9" font-size="8.9" text-anchor="middle" fill="#3a3a3a">W8</text>
<rect x="470.0" y="701.5" width="214.5" height="100.5" fill="#fff" stroke="#2b2b2b" stroke-width="0.7"/>
<clipPath id="c120"><rect width="103.0" height="83.5"/></clipPath>
<g transform="translate(473.0,715.5)" clip-path="url(#c120)"><rect width="103.0" height="83.5" fill="#030303"/>
<g filter="url(#txC)"><polygon points="-2.0,-2.5 108.4,-2.5 108.4,85.8 -2.0,85.8" fill="url(#pC2)"/><polygon points="-0.4,-0.1 5.1,-0.1 5.9,16.4 10.6,29.0 15.3,49.5 17.7,62.1 29.5,59.8 39.3,63.7 38.2,83.9 -0.4,83.9" fill="url(#pC2d)" filter="url(#b1)"/><polygon points="58.7,21.1 65.8,24.3 73.7,38.5 83.1,49.5 92.6,63.7 104.0,71.6 104.0,83.9 86.3,83.9 76.8,65.3 67.4,49.5 61.1,35.3" fill="url(#pC2d)" filter="url(#b1)"/><polygon points="83.1,44.8 104.0,43.2 104.0,60.6 92.6,59.3" fill="url(#pC2d)" filter="url(#b1)"/><polygon points="43.7,-0.1 50.3,-0.1 50.3,7.0 45.3,5.7" fill="url(#pC2d)" filter="url(#b1)"/><polygon points="28.0,40.1 35.8,43.2 35.1,49.5 29.5,48.0" fill="url(#pC2d)" filter="url(#b1)"/><polygon points="86.3,14.8 98.9,13.3 102.1,21.1 91.0,23.5" fill="url(#pC2d)" filter="url(#b1)"/><ellipse cx="31.9" cy="42.4" rx="2.8" ry="4.4" fill="#020808" filter="url(#b1)"/><ellipse cx="27.2" cy="18.0" rx="1.6" ry="2.8" fill="#020808" filter="url(#b1)"/><ellipse cx="53.2" cy="33.8" rx="2.2" ry="4.7" fill="#020808" filter="url(#b1)"/><ellipse cx="45.3" cy="27.5" rx="1.3" ry="2.2" fill="#020808" filter="url(#b1)"/><ellipse cx="64.2" cy="59.0" rx="1.6" ry="4.7" fill="#020808" filter="url(#b1)"/><ellipse cx="21.6" cy="48.0" rx="1.9" ry="1.3" fill="#020808" filter="url(#b1)"/><ellipse cx="72.1" cy="7.0" rx="4.7" ry="1.6" fill="#020808" filter="url(#b1)"/><ellipse cx="92.6" cy="19.6" rx="5.5" ry="2.2" fill="#020808" filter="url(#b1)"/><ellipse cx="50.0" cy="13.3" rx="2.2" ry="1.6" fill="#020808" filter="url(#b1)"/><ellipse cx="95.8" cy="36.9" rx="2.2" ry="1.6" fill="#020808" filter="url(#b1)"/></g><g filter="url(#b0)"><ellipse cx="17.2" cy="9.3" rx="1.36" ry="0.69" fill="#dccb1f" opacity="0.92" transform="rotate(47 17.2 9.3)"/><ellipse cx="28.0" cy="12.5" rx="1.38" ry="0.79" fill="#dccb1f" opacity="0.92" transform="rotate(24 28.0 12.5)"/><ellipse cx="9.4" cy="18.0" rx="1.08" ry="0.97" fill="#dccb1f" opacity="0.92" transform="rotate(77 9.4 18.0)"/><ellipse cx="17.2" cy="17.2" rx="1.16" ry="0.99" fill="#dccb1f" opacity="0.92" transform="rotate(40 17.2 17.2)"/><ellipse cx="19.6" cy="33.0" rx="1.38" ry="0.90" fill="#dccb1f" opacity="0.92" transform="rotate(8 19.6 33.0)"/><ellipse cx="13.8" cy="39.3" rx="1.37" ry="0.93" fill="#dccb1f" opacity="0.92" transform="rotate(64 13.8 39.3)"/><ellipse cx="27.2" cy="21.1" rx="1.25" ry="0.70" fill="#dccb1f" opacity="0.92" transform="rotate(74 27.2 21.1)"/><ellipse cx="98.9" cy="23.5" rx="1.31" ry="0.73" fill="#dccb1f" opacity="0.92" transform="rotate(128 98.9 23.5)"/></g>
<rect x="2.6" y="78.9" width="13.8" height="2.9" fill="#fff"/>
</g>
<text x="524.5" y="712.6" font-size="8.9" text-anchor="middle" fill="#3a3a3a">Baseline</text>
<clipPath id="c121"><rect width="103.0" height="83.5"/></clipPath>
<g transform="translate(578.0,715.5)" clip-path="url(#c121)"><rect width="103.0" height="83.5" fill="#030303"/>
<g filter="url(#txC2)"><polygon points="-2.0,-2.5 108.4,-2.5 108.4,85.8 -2.0,85.8" fill="url(#pC2w)"/><polygon points="-0.4,7.0 16.9,7.0 29.5,16.4 39.3,24.3 50.0,22.7 53.5,32.2 50.3,43.2 37.7,44.8 26.7,49.5 13.8,51.4 -0.4,49.5" fill="url(#pC2wd)" filter="url(#b1)"/><polygon points="50.0,22.7 64.2,25.9 73.7,32.2 80.3,41.6 86.6,57.4 92.9,65.3 99.2,76.3 104.0,83.9 86.3,83.9 77.1,73.2 72.4,60.6 64.2,49.5 55.1,41.6" fill="url(#pC2wd)" filter="url(#b1)"/><polygon points="95.8,-0.1 104.0,-0.1 104.0,16.4 98.9,13.3" fill="url(#pC2wd)" filter="url(#b1)"/></g><g filter="url(#b0)"><ellipse cx="4.0" cy="2.2" rx="1.45" ry="0.99" fill="#dccb1f" opacity="0.92" transform="rotate(128 4.0 2.2)"/><ellipse cx="16.9" cy="18.0" rx="1.42" ry="0.88" fill="#dccb1f" opacity="0.92" transform="rotate(72 16.9 18.0)"/><ellipse cx="9.8" cy="21.1" rx="1.36" ry="0.94" fill="#dccb1f" opacity="0.92" transform="rotate(32 9.8 21.1)"/><ellipse cx="12.2" cy="23.5" rx="1.72" ry="0.90" fill="#dccb1f" opacity="0.92" transform="rotate(90 12.2 23.5)"/><ellipse cx="2.7" cy="26.7" rx="1.61" ry="0.84" fill="#dccb1f" opacity="0.92" transform="rotate(142 2.7 26.7)"/><ellipse cx="5.1" cy="31.4" rx="1.52" ry="0.87" fill="#dccb1f" opacity="0.92" transform="rotate(0 5.1 31.4)"/><ellipse cx="24.8" cy="35.3" rx="1.46" ry="1.13" fill="#dccb1f" opacity="0.92" transform="rotate(102 24.8 35.3)"/><ellipse cx="16.9" cy="43.2" rx="1.60" ry="0.84" fill="#dccb1f" opacity="0.92" transform="rotate(108 16.9 43.2)"/><ellipse cx="11.4" cy="45.6" rx="1.33" ry="1.00" fill="#dccb1f" opacity="0.92" transform="rotate(21 11.4 45.6)"/><ellipse cx="20.1" cy="47.2" rx="1.29" ry="1.16" fill="#dccb1f" opacity="0.92" transform="rotate(22 20.1 47.2)"/><ellipse cx="12.2" cy="56.6" rx="1.70" ry="0.93" fill="#dccb1f" opacity="0.92" transform="rotate(29 12.2 56.6)"/><ellipse cx="24.8" cy="62.1" rx="1.36" ry="0.91" fill="#dccb1f" opacity="0.92" transform="rotate(79 24.8 62.1)"/><ellipse cx="80.0" cy="5.4" rx="1.38" ry="1.03" fill="#dccb1f" opacity="0.92" transform="rotate(164 80.0 5.4)"/><ellipse cx="45.3" cy="30.6" rx="1.39" ry="1.06" fill="#dccb1f" opacity="0.92" transform="rotate(82 45.3 30.6)"/><ellipse cx="53.2" cy="35.3" rx="1.30" ry="1.15" fill="#dccb1f" opacity="0.92" transform="rotate(76 53.2 35.3)"/><ellipse cx="54.8" cy="40.9" rx="1.50" ry="1.01" fill="#dccb1f" opacity="0.92" transform="rotate(113 54.8 40.9)"/><ellipse cx="65.8" cy="30.6" rx="1.63" ry="0.91" fill="#dccb1f" opacity="0.92" transform="rotate(138 65.8 30.6)"/><ellipse cx="67.4" cy="36.9" rx="1.62" ry="0.90" fill="#dccb1f" opacity="0.92" transform="rotate(33 67.4 36.9)"/><ellipse cx="68.9" cy="41.6" rx="1.31" ry="0.94" fill="#dccb1f" opacity="0.92" transform="rotate(141 68.9 41.6)"/><ellipse cx="62.6" cy="43.2" rx="1.79" ry="1.18" fill="#dccb1f" opacity="0.92" transform="rotate(53 62.6 43.2)"/><ellipse cx="65.8" cy="51.9" rx="1.72" ry="1.06" fill="#dccb1f" opacity="0.92" transform="rotate(154 65.8 51.9)"/><ellipse cx="69.7" cy="55.0" rx="1.51" ry="1.00" fill="#dccb1f" opacity="0.92" transform="rotate(41 69.7 55.0)"/><ellipse cx="73.7" cy="48.7" rx="1.61" ry="1.04" fill="#dccb1f" opacity="0.92" transform="rotate(132 73.7 48.7)"/><ellipse cx="76.8" cy="50.3" rx="1.74" ry="1.03" fill="#dccb1f" opacity="0.92" transform="rotate(5 76.8 50.3)"/><ellipse cx="84.7" cy="52.7" rx="1.29" ry="1.05" fill="#dccb1f" opacity="0.92" transform="rotate(39 84.7 52.7)"/><ellipse cx="73.7" cy="59.8" rx="1.35" ry="0.83" fill="#dccb1f" opacity="0.92" transform="rotate(136 73.7 59.8)"/><ellipse cx="67.4" cy="63.7" rx="1.46" ry="1.08" fill="#dccb1f" opacity="0.92" transform="rotate(74 67.4 63.7)"/><ellipse cx="65.8" cy="74.8" rx="1.73" ry="0.88" fill="#dccb1f" opacity="0.92" transform="rotate(84 65.8 74.8)"/><ellipse cx="92.6" cy="74.0" rx="1.66" ry="1.12" fill="#dccb1f" opacity="0.92" transform="rotate(25 92.6 74.0)"/><ellipse cx="95.0" cy="76.3" rx="1.67" ry="0.93" fill="#dccb1f" opacity="0.92" transform="rotate(170 95.0 76.3)"/><ellipse cx="98.9" cy="81.1" rx="1.77" ry="0.98" fill="#dccb1f" opacity="0.92" transform="rotate(162 98.9 81.1)"/></g>
<rect x="2.6" y="78.9" width="13.8" height="2.9" fill="#fff"/>
</g>
<text x="629.5" y="712.6" font-size="8.9" text-anchor="middle" fill="#3a3a3a">W8</text>
<rect x="470.0" y="805.5" width="214.5" height="89.70000000000005" fill="#fff" stroke="#2b2b2b" stroke-width="0.7"/>
<clipPath id="c220"><rect width="103.0" height="83.5"/></clipPath>
<g transform="translate(473.0,808.0)" clip-path="url(#c220)"><rect width="103.0" height="83.5" fill="#030303"/>
<polygon points="-0.4,0.4 21.6,0.4 23.2,9.0 16.9,15.3 4.3,13.8 -0.4,16.9" fill="#2e0607" opacity="0.45" filter="url(#b3)"/><polygon points="28.0,4.3 39.0,1.2 50.0,7.5 51.6,21.6 39.0,24.8 29.5,20.1" fill="#2e0607" opacity="0.45" filter="url(#b3)"/><polygon points="39.3,18.5 61.1,16.9 69.3,29.5 68.9,50.0 64.2,61.1 51.6,62.6 40.6,51.6 37.4,34.3" fill="#2e0607" opacity="0.45" filter="url(#b3)"/><polygon points="72.1,39.0 86.3,35.8 98.9,39.0 98.9,51.6 86.3,54.8 73.7,51.6" fill="#2e0607" opacity="0.45" filter="url(#b3)"/><polygon points="42.1,59.5 64.2,57.9 80.0,64.2 83.1,84.4 29.5,84.4 31.1,70.5" fill="#2e0607" opacity="0.45" filter="url(#b3)"/><polygon points="67.4,13.8 80.0,12.2 80.0,23.2 68.9,24.8" fill="#2e0607" opacity="0.45" filter="url(#b3)"/><polygon points="-0.4,67.4 15.3,67.4 16.9,76.8 -0.4,80.0" fill="#2e0607" opacity="0.45" filter="url(#b3)"/><polygon points="86.3,57.9 98.9,57.9 98.9,70.5 87.9,70.5" fill="#2e0607" opacity="0.45" filter="url(#b3)"/><g filter="url(#txB)"><polygon points="-0.4,0.4 21.6,0.4 23.2,9.0 16.9,15.3 4.3,13.8 -0.4,16.9" fill="url(#pK3)" opacity="0.95"/><polygon points="28.0,4.3 39.0,1.2 50.0,7.5 51.6,21.6 39.0,24.8 29.5,20.1" fill="url(#pK3)" opacity="0.95"/><polygon points="39.3,18.5 61.1,16.9 69.3,29.5 68.9,50.0 64.2,61.1 51.6,62.6 40.6,51.6 37.4,34.3" fill="url(#pK3)" opacity="0.95"/><polygon points="72.1,39.0 86.3,35.8 98.9,39.0 98.9,51.6 86.3,54.8 73.7,51.6" fill="url(#pK3)" opacity="0.95"/><polygon points="42.1,59.5 64.2,57.9 80.0,64.2 83.1,84.4 29.5,84.4 31.1,70.5" fill="url(#pK3)" opacity="0.95"/><polygon points="67.4,13.8 80.0,12.2 80.0,23.2 68.9,24.8" fill="url(#pK3)" opacity="0.95"/><polygon points="-0.4,67.4 15.3,67.4 16.9,76.8 -0.4,80.0" fill="url(#pK3)" opacity="0.95"/><polygon points="86.3,57.9 98.9,57.9 98.9,70.5 87.9,70.5" fill="url(#pK3)" opacity="0.95"/></g><g filter="url(#b0)"><ellipse cx="28.0" cy="54.8" rx="0.97" ry="0.97" fill="#dccb1f" opacity="0.92" transform="rotate(100 28.0 54.8)"/><ellipse cx="33.5" cy="51.6" rx="1.06" ry="1.06" fill="#dccb1f" opacity="0.92" transform="rotate(151 33.5 51.6)"/><ellipse cx="41.4" cy="70.5" rx="1.02" ry="1.02" fill="#dccb1f" opacity="0.92" transform="rotate(52 41.4 70.5)"/><ellipse cx="72.1" cy="10.6" rx="0.96" ry="0.96" fill="#dccb1f" opacity="0.92" transform="rotate(174 72.1 10.6)"/><ellipse cx="1.2" cy="39.0" rx="1.06" ry="1.06" fill="#dccb1f" opacity="0.92" transform="rotate(151 1.2 39.0)"/><ellipse cx="8.2" cy="60.3" rx="1.15" ry="1.15" fill="#dccb1f" opacity="0.92" transform="rotate(74 8.2 60.3)"/><polygon points="-2.0,-2.0 108.4,-2.0 108.4,86.3 -2.0,86.3" fill="url(#pCvs)" opacity="0.6"/><g transform="translate(9,13)" opacity="0.6"><polygon points="-2.0,-2.0 108.4,-2.0 108.4,86.3 -2.0,86.3" fill="url(#pCvs)"/></g><polygon points="-2.0,-2.0 108.4,-2.0 108.4,86.3 -2.0,86.3" fill="url(#pYs)" opacity="0.25"/><circle cx="35.8" cy="34.6" r="2.3" fill="none" stroke="#c8d8d8" stroke-width="0.9"/></g>
<rect x="2.6" y="78.9" width="13.8" height="2.9" fill="#fff"/>
</g>
<clipPath id="c221"><rect width="103.0" height="83.5"/></clipPath>
<g transform="translate(578.0,808.0)" clip-path="url(#c221)"><rect width="103.0" height="83.5" fill="#030303"/>
<polygon points="29.5,0.4 86.3,0.4 92.6,10.6 86.3,23.2 72.1,21.6 61.1,15.3 50.0,23.2 37.4,21.6 29.5,12.2" fill="#2a1416" opacity="0.7" filter="url(#b2)"/><polygon points="10.6,10.6 29.5,9.0 39.0,23.2 50.0,29.5 53.2,45.3 45.3,51.6 29.5,50.0 16.9,45.3 10.6,29.5" fill="#2a1416" opacity="0.7" filter="url(#b2)"/><polygon points="61.1,24.8 72.1,21.6 86.3,24.8 95.8,35.8 92.6,48.5 80.0,51.6 65.8,46.9 57.9,37.4" fill="#2a1416" opacity="0.7" filter="url(#b2)"/><polygon points="2.7,54.8 16.9,50.0 45.3,53.2 57.9,61.1 61.1,84.4 2.7,84.4" fill="#2a1416" opacity="0.7" filter="url(#b2)"/><polygon points="73.7,61.1 86.3,56.3 104.0,57.9 104.0,84.4 67.4,84.4" fill="#2a1416" opacity="0.7" filter="url(#b2)"/><polygon points="2.7,15.3 9.0,13.8 9.0,21.6 2.7,21.6" fill="#2a1416" opacity="0.7" filter="url(#b2)"/><g filter="url(#txB3)"><polygon points="29.5,0.4 86.3,0.4 92.6,10.6 86.3,23.2 72.1,21.6 61.1,15.3 50.0,23.2 37.4,21.6 29.5,12.2" fill="url(#pC3)"/><polygon points="10.6,10.6 29.5,9.0 39.0,23.2 50.0,29.5 53.2,45.3 45.3,51.6 29.5,50.0 16.9,45.3 10.6,29.5" fill="url(#pC3)"/><polygon points="61.1,24.8 72.1,21.6 86.3,24.8 95.8,35.8 92.6,48.5 80.0,51.6 65.8,46.9 57.9,37.4" fill="url(#pC3)"/><polygon points="2.7,54.8 16.9,50.0 45.3,53.2 57.9,61.1 61.1,84.4 2.7,84.4" fill="url(#pC3)"/><polygon points="73.7,61.1 86.3,56.3 104.0,57.9 104.0,84.4 67.4,84.4" fill="url(#pC3)"/><polygon points="2.7,15.3 9.0,13.8 9.0,21.6 2.7,21.6" fill="url(#pC3)"/></g><g filter="url(#b0)"><ellipse cx="15.7" cy="4.0" rx="1.51" ry="1.51" fill="#f0de22" opacity="0.92" transform="rotate(34 15.7 4.0)"/><ellipse cx="6.7" cy="14.6" rx="1.20" ry="1.20" fill="#f0de22" opacity="0.92" transform="rotate(179 6.7 14.6)"/><ellipse cx="76.0" cy="5.1" rx="1.53" ry="1.53" fill="#f0de22" opacity="0.92" transform="rotate(140 76.0 5.1)"/><ellipse cx="94.5" cy="13.5" rx="1.25" ry="1.25" fill="#f0de22" opacity="0.92" transform="rotate(134 94.5 13.5)"/><ellipse cx="37.4" cy="21.6" rx="1.32" ry="1.32" fill="#f0de22" opacity="0.92" transform="rotate(98 37.4 21.6)"/><ellipse cx="40.9" cy="28.3" rx="1.16" ry="1.16" fill="#f0de22" opacity="0.92" transform="rotate(125 40.9 28.3)"/><ellipse cx="46.9" cy="40.6" rx="1.35" ry="1.35" fill="#f0de22" opacity="0.92" transform="rotate(77 46.9 40.6)"/><ellipse cx="82.4" cy="31.4" rx="1.16" ry="1.16" fill="#f0de22" opacity="0.92" transform="rotate(116 82.4 31.4)"/><ellipse cx="21.3" cy="60.3" rx="1.29" ry="1.29" fill="#f0de22" opacity="0.92" transform="rotate(33 21.3 60.3)"/><ellipse cx="42.9" cy="59.5" rx="1.29" ry="1.29" fill="#f0de22" opacity="0.92" transform="rotate(137 42.9 59.5)"/><ellipse cx="16.6" cy="68.2" rx="1.48" ry="1.48" fill="#f0de22" opacity="0.92" transform="rotate(3 16.6 68.2)"/><ellipse cx="56.0" cy="60.3" rx="1.46" ry="1.46" fill="#f0de22" opacity="0.92" transform="rotate(127 56.0 60.3)"/><ellipse cx="68.2" cy="58.2" rx="1.44" ry="1.44" fill="#f0de22" opacity="0.92" transform="rotate(155 68.2 58.2)"/><ellipse cx="70.5" cy="74.5" rx="1.32" ry="1.32" fill="#f0de22" opacity="0.92" transform="rotate(32 70.5 74.5)"/><ellipse cx="40.9" cy="79.7" rx="1.37" ry="1.37" fill="#f0de22" opacity="0.92" transform="rotate(73 40.9 79.7)"/><ellipse cx="4.3" cy="59.2" rx="1.48" ry="1.48" fill="#f0de22" opacity="0.92" transform="rotate(8 4.3 59.2)"/><ellipse cx="57.9" cy="64.2" rx="1.43" ry="1.43" fill="#f0de22" opacity="0.92" transform="rotate(145 57.9 64.2)"/><ellipse cx="73.7" cy="74.0" rx="1.46" ry="1.46" fill="#f0de22" opacity="0.92" transform="rotate(34 73.7 74.0)"/><ellipse cx="70.5" cy="74.0" rx="1.51" ry="1.51" fill="#f0de22" opacity="0.92" transform="rotate(176 70.5 74.0)"/><ellipse cx="95.8" cy="53.2" rx="1.38" ry="1.38" fill="#f0de22" opacity="0.92" transform="rotate(95 95.8 53.2)"/><ellipse cx="7.5" cy="58.7" rx="1.32" ry="1.32" fill="#f0de22" opacity="0.92" transform="rotate(173 7.5 58.7)"/><ellipse cx="18.5" cy="67.4" rx="1.34" ry="1.34" fill="#f0de22" opacity="0.92" transform="rotate(20 18.5 67.4)"/></g>
<rect x="2.6" y="78.9" width="13.8" height="2.9" fill="#fff"/>
</g>
<text x="32.8" y="647.2" font-size="8.9" text-anchor="middle" fill="#3a3a3a" transform="rotate(-90 32.8 647.2)">Pt 3 (MPM, PR)</text>
<text x="32.8" y="757.2" font-size="8.9" text-anchor="middle" fill="#3a3a3a" transform="rotate(-90 32.8 757.2)">Pt 18 (MPM, SD)</text>
<text x="32.8" y="849.8" font-size="8.9" text-anchor="middle" fill="#3a3a3a" transform="rotate(-90 32.8 849.8)">Pt 21 (MPM, SD)</text>
</svg>
</body></html>
